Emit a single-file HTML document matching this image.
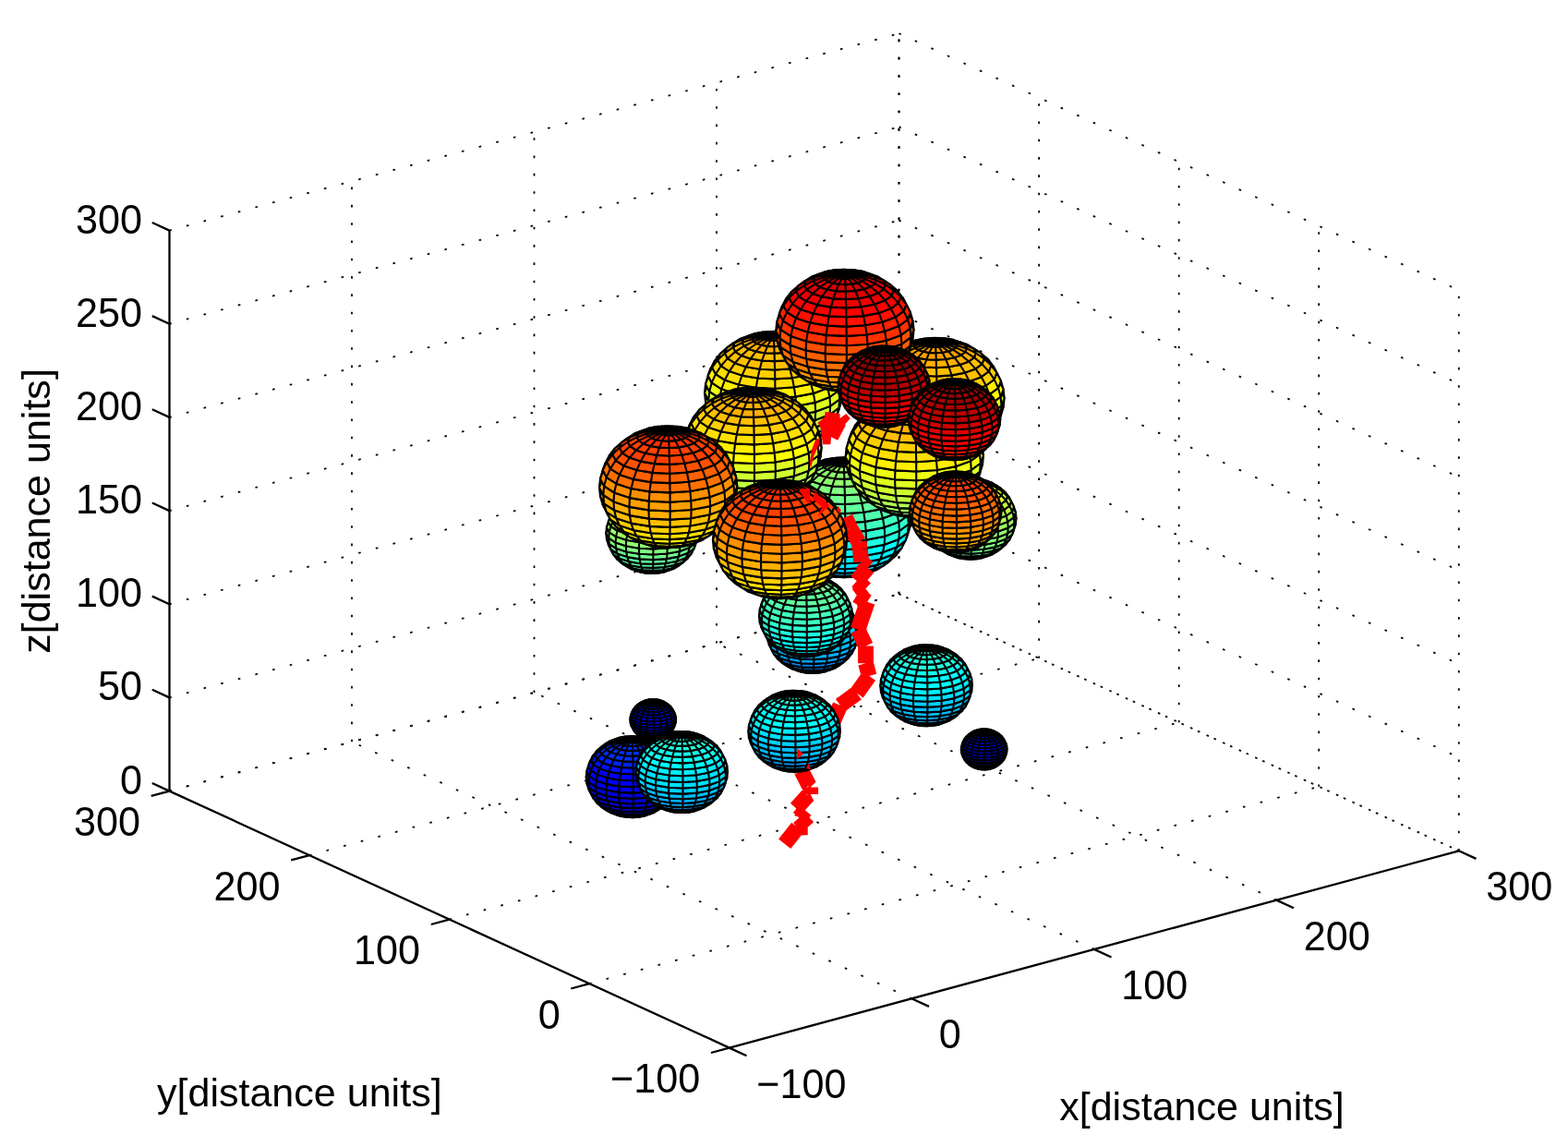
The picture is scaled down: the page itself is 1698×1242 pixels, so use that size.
<!DOCTYPE html>
<html lang="en"><head><meta charset="utf-8"><title>3D path plot</title>
<style>
html,body{margin:0;padding:0;background:#fff;}
body{width:1698px;height:1242px;overflow:hidden;}
svg{display:block;}
text{font-family:"Liberation Sans",sans-serif;font-size:43.06px;fill:#000;}
.t{font-size:43.2px;}
.g{stroke:#000;stroke-width:1.8;stroke-dasharray:2.6 16.7;stroke-dashoffset:0.25;fill:none;}
.a{stroke:#000;stroke-width:2.3;fill:none;stroke-linecap:butt;}
.s path{stroke:#000;stroke-width:2.1;stroke-linejoin:round;}
.r{stroke:#f00;stroke-width:16.8;fill:none;stroke-linecap:butt;}
</style></head><body>
<svg width="1698" height="1242" viewBox="0 0 1698 1242">
<rect width="1698" height="1242" fill="#fff"/>
<g>
<path class="g" d="M987.2 1081.3L381 803.2"/>
<path class="g" d="M1184.8 1027.9L578.5 749.9"/>
<path class="g" d="M1382.2 974.6L776 696.6"/>
<path class="g" d="M1579.8 921.3L973.5 643.2"/>
<path class="g" d="M638.2 1065.1L1428.2 851.8"/>
<path class="g" d="M486.6 995.6L1276.7 782.3"/>
<path class="g" d="M335.1 926.1L1125.1 712.8"/>
<path class="g" d="M183.5 856.6L973.5 643.2"/>
<path class="g" d="M381 803.2L381 196.2"/>
<path class="g" d="M578.5 749.9L578.5 142.9"/>
<path class="g" d="M776 696.6L776 89.6"/>
<path class="g" d="M973.5 643.2L973.5 36.2"/>
<path class="g" d="M183.5 856.6L973.5 643.2"/>
<path class="g" d="M183.5 755.4L973.5 542.1"/>
<path class="g" d="M183.5 654.2L973.5 440.9"/>
<path class="g" d="M183.5 553.1L973.5 339.7"/>
<path class="g" d="M183.5 451.9L973.5 238.6"/>
<path class="g" d="M183.5 350.7L973.5 137.4"/>
<path class="g" d="M183.5 249.6L973.5 36.2"/>
<path class="g" d="M1579.8 921.3L1579.8 314.3"/>
<path class="g" d="M1428.2 851.8L1428.2 244.8"/>
<path class="g" d="M1276.7 782.3L1276.7 175.3"/>
<path class="g" d="M1125.1 712.8L1125.1 105.8"/>
<path class="g" d="M973.5 643.2L973.5 36.2"/>
<path class="g" d="M973.5 643.2L1579.8 921.3"/>
<path class="g" d="M973.5 542.1L1579.8 820.1"/>
<path class="g" d="M973.5 440.9L1579.8 719"/>
<path class="g" d="M973.5 339.7L1579.8 617.8"/>
<path class="g" d="M973.5 238.6L1579.8 516.6"/>
<path class="g" d="M973.5 137.4L1579.8 415.5"/>
<path class="g" d="M973.5 36.2L1579.8 314.3"/>
</g>
<g>
<path class="a" d="M183.5 856.6L183.5 249.6"/>
<path class="a" d="M183.5 856.6L789.8 1134.6"/>
<path class="a" d="M789.8 1134.6L1579.8 921.3"/>
<path class="a" d="M183.5 856.6L164.8 848"/>
<path class="a" d="M183.5 755.4L164.8 746.8"/>
<path class="a" d="M183.5 654.2L164.8 645.6"/>
<path class="a" d="M183.5 553.1L164.8 544.5"/>
<path class="a" d="M183.5 451.9L164.8 443.3"/>
<path class="a" d="M183.5 350.7L164.8 342.1"/>
<path class="a" d="M183.5 249.6L164.8 241"/>
<path class="a" d="M789.8 1134.6L769.9 1140"/>
<path class="a" d="M638.2 1065.1L618.3 1070.5"/>
<path class="a" d="M486.6 995.6L466.8 1001"/>
<path class="a" d="M335.1 926.1L315.2 931.4"/>
<path class="a" d="M183.5 856.6L163.7 861.9"/>
<path class="a" d="M789.8 1134.6L808.5 1143.2"/>
<path class="a" d="M987.2 1081.3L1006 1089.9"/>
<path class="a" d="M1184.8 1027.9L1203.5 1036.5"/>
<path class="a" d="M1382.2 974.6L1401 983.2"/>
<path class="a" d="M1579.8 921.3L1598.5 929.9"/>
</g>
<g>
<text class="t" transform="translate(154 859.6) scale(1 1.045)" text-anchor="end">0</text>
<text class="t" transform="translate(154 758.4) scale(1 1.045)" text-anchor="end">50</text>
<text class="t" transform="translate(154 657.2) scale(1 1.045)" text-anchor="end">100</text>
<text class="t" transform="translate(154 556.1) scale(1 1.045)" text-anchor="end">150</text>
<text class="t" transform="translate(154 454.9) scale(1 1.045)" text-anchor="end">200</text>
<text class="t" transform="translate(154 353.7) scale(1 1.045)" text-anchor="end">250</text>
<text class="t" transform="translate(154 252.6) scale(1 1.045)" text-anchor="end">300</text>
<text class="t" transform="translate(758.2 1183.2) scale(1 1.045)" text-anchor="end">−100</text>
<text class="t" transform="translate(606.7 1113.7) scale(1 1.045)" text-anchor="end">0</text>
<text class="t" transform="translate(455.1 1044.2) scale(1 1.045)" text-anchor="end">100</text>
<text class="t" transform="translate(303.6 974.7) scale(1 1.045)" text-anchor="end">200</text>
<text class="t" transform="translate(152 905.2) scale(1 1.045)" text-anchor="end">300</text>
<text class="t" transform="translate(819.2 1188.7) scale(1 1.045)" text-anchor="start">−100</text>
<text class="t" transform="translate(1016.8 1135.4) scale(1 1.045)" text-anchor="start">0</text>
<text class="t" transform="translate(1214.2 1082) scale(1 1.045)" text-anchor="start">100</text>
<text class="t" transform="translate(1411.8 1028.7) scale(1 1.045)" text-anchor="start">200</text>
<text class="t" transform="translate(1609.2 975.4) scale(1 1.045)" text-anchor="start">300</text>
<text x="1301.5" y="1213.2" text-anchor="middle">x[distance units]</text>
<text x="324.3" y="1198" text-anchor="middle">y[distance units]</text>
<text transform="translate(53.5 553.5) rotate(-90)" text-anchor="middle">z[distance units]</text>
</g>
<g class="s"><path fill="#70ff8f" d="M819.4 487.5l5.2 1.7l-6.1 -0.5l-7.7 -2.6zM824.6 489.2l6.5 1.1l-3 0l-9.6 -1.6zM831.1 490.3l7.2 0.3l0.3 0.2l-10.5 -0.5zM838.3 490.6l7.1 -0.4l3.6 -0.1l-10.4 0.7zM845.4 490.2l6.3 -1.2l6.6 -0.6l-9.3 1.7z"/>
<path fill="#70ff8f" d="M810.8 486.1l7.7 2.6l-5.7 -2.1l-9.9 -3.3zM818.5 488.7l9.6 1.6l-2.9 -1.6l-12.4 -2.1zM828.1 490.3l10.5 0.5l0.2 -1.4l-13.6 -0.7zM838.6 490.8l10.4 -0.7l3.4 -1.6l-13.6 0.9zM849 490.1l9.3 -1.7l6.1 -2.2l-12 2.3zM858.3 488.4l7.3 -2.8l8.3 -2.9l-9.5 3.5zM865.6 485.6l4.6 -3.3l9.6 -4l-5.9 4.4zM805.7 482.9l5.1 3.2l-7.9 -2.8l-6.6 -4.2z"/>
<path fill="#80ff80" d="M802.9 483.3l9.9 3.3l-5 -3.6l-12 -4zM812.8 486.6l12.4 2.1l-2.5 -3.2l-14.9 -2.5zM825.2 488.7l13.6 0.7l0.3 -3.1l-16.4 -0.8zM838.8 489.4l13.6 -0.9l2.9 -3.3l-16.2 1.1zM852.4 488.5l12 -2.3l5.4 -3.7l-14.5 2.7zM864.4 486.2l9.5 -3.5l7.3 -4.5l-11.4 4.3zM873.9 482.7l5.9 -4.4l8.5 -5.3l-7.1 5.2zM796.3 479.1l6.6 4.2l-7.1 -4.3l-7.9 -5.1z"/>
<path fill="#8fff70" d="M795.8 479l12 4l-4.3 -5l-13.7 -4.6zM807.8 483l14.9 2.5l-2.2 -4.6l-17 -2.9zM822.7 485.5l16.4 0.8l0.2 -4.6l-18.8 -0.8zM839.1 486.3l16.2 -1.1l2.6 -4.7l-18.6 1.2zM855.3 485.2l14.5 -2.7l4.7 -5.2l-16.6 3.2zM869.8 482.5l11.4 -4.3l6.3 -5.7l-13 4.8zM881.2 478.2l7.1 -5.2l7.3 -6.5l-8.1 6zM784.9 468.2l3 5.7l-7.2 -6.3l-3.4 -6.6zM787.9 473.9l7.9 5.1l-6 -5.6l-9.1 -5.8z"/>
<path fill="#9fff60" d="M789.8 473.4l13.7 4.6l-3.5 -6.3l-15.1 -5.1zM803.5 478l17 2.9l-1.7 -6.1l-18.8 -3.1zM820.5 480.9l18.8 0.8l0.1 -5.9l-20.6 -1zM839.3 481.7l18.6 -1.2l2 -6.1l-20.5 1.4zM857.9 480.5l16.6 -3.2l3.7 -6.4l-18.3 3.5zM874.5 477.3l13 -4.8l5 -6.9l-14.3 5.3zM887.5 472.5l8.1 -6l5.9 -7.5l-9 6.6zM895.6 466.5l2.5 -6.6l6.1 -8.2l-2.7 7.3zM777.3 461l3.4 6.6l-5.7 -7.4l-3.8 -7.2zM780.7 467.6l9.1 5.8l-4.9 -6.8l-9.9 -6.4z"/>
<path fill="#afff50" d="M784.9 466.6l15.1 5.1l-2.5 -7.5l-16.2 -5.4zM800 471.7l18.8 3.1l-1.3 -7.3l-20 -3.3zM818.8 474.8l20.6 1l0.2 -7.3l-22.1 -1zM839.4 475.8l20.5 -1.4l1.5 -7.3l-21.8 1.4zM859.9 474.4l18.3 -3.5l2.7 -7.5l-19.5 3.7zM878.2 470.9l14.3 -5.3l3.7 -7.9l-15.3 5.7zM892.5 465.6l9 -6.6l4.3 -8.3l-9.6 7zM901.5 459l2.7 -7.3l4.5 -8.8l-2.9 7.8zM771.2 453l3.8 7.2l-4.3 -8.3l-4 -7.7zM775 460.2l9.9 6.4l-3.6 -7.8l-10.6 -6.9z"/>
<path fill="#bfff40" d="M781.3 458.8l16.2 5.4l-1.6 -8.5l-16.7 -5.6zM797.5 464.2l20 3.3l-0.7 -8.3l-20.9 -3.5zM817.5 467.5l22.1 1l0 -8.3l-22.8 -1zM839.6 468.5l21.8 -1.4l0.9 -8.3l-22.7 1.4zM861.4 467.1l19.5 -3.7l1.7 -8.5l-20.3 3.9zM880.9 463.4l15.3 -5.7l2.3 -8.7l-15.9 5.9zM896.2 457.7l9.6 -7l2.6 -9l-9.9 7.3zM905.8 450.7l2.9 -7.8l2.7 -9.3l-3 8.1zM766.7 444.2l4 7.7l-2.5 -8.9l-4.2 -8zM770.7 451.9l10.6 6.9l-2.1 -8.7l-11 -7.1z"/>
<path fill="#cfff30" d="M779.2 450.1l16.7 5.6l-0.5 -9.2l-17 -5.7zM795.9 455.7l20.9 3.5l-0.3 -9.2l-21.1 -3.5zM816.8 459.2l22.8 1l0.1 -9.1l-23.2 -1.1zM839.6 460.2l22.7 -1.4l0.3 -9.2l-22.9 1.5zM862.3 458.8l20.3 -3.9l0.6 -9.2l-20.6 3.9zM882.6 454.9l15.9 -5.9l0.7 -9.3l-16 6zM898.5 449l9.9 -7.3l0.9 -9.4l-10.1 7.4zM908.4 441.7l3 -8.1l1 -9.5l-3.1 8.2zM767 426.9l-3 8.1l-1 -9.5l3.1 -8.2zM764 435l4.2 8l-0.9 -9.4l-4.3 -8.1zM768.2 443l11 7.1l-0.8 -9.3l-11.1 -7.2z"/>
<path fill="#dfff20" d="M778.5 440.8l17 5.7l0.5 -9.8l-16.7 -5.6zM795.4 446.5l21.1 3.5l0.3 -9.8l-20.9 -3.5zM816.5 450l23.2 1.1l-0.1 -9.8l-22.8 -1.1zM839.7 451.1l22.9 -1.5l-0.3 -9.8l-22.7 1.5zM862.6 449.6l20.6 -3.9l-0.6 -9.8l-20.3 3.9zM883.2 445.7l16 -6l-0.7 -9.7l-15.9 5.9zM899.2 439.7l10.1 -7.4l-0.9 -9.6l-9.9 7.3zM909.3 432.3l3.1 -8.2l-1 -9.5l-3 8.1zM912.4 424.1l-4.3 -8.1l-0.9 -9.4l4.2 8zM766.1 417.3l-3.1 8.2l1 -9.5l3 -8.1zM763 425.5l4.3 8.1l0.9 -9.6l-4.2 -8zM767.3 433.6l11.1 7.2l0.8 -9.7l-11 -7.1z"/>
<path fill="#efff10" d="M779.2 431.1l16.7 5.6l1.6 -10.1l-16.2 -5.3zM795.9 436.7l20.9 3.5l0.7 -10.2l-20 -3.4zM816.8 440.2l22.8 1.1l0 -10.3l-22.1 -1zM839.6 441.3l22.7 -1.5l-0.9 -10.2l-21.8 1.4zM862.3 439.8l20.3 -3.9l-1.7 -10l-19.5 3.7zM882.6 435.9l15.9 -5.9l-2.3 -9.8l-15.3 5.7zM898.5 430l9.9 -7.3l-2.6 -9.6l-9.6 7.1zM908.4 422.7l3 -8.1l-2.7 -9.2l-2.9 7.7zM911.4 414.6l-4.2 -8l-2.5 -8.9l4 7.7zM767 407.9l-3 8.1l2.7 -9.3l2.9 -7.8zM764 416l4.2 8l2.5 -9.6l-4 -7.7zM768.2 424l11 7.1l2.1 -9.8l-10.6 -6.9z"/>
<path fill="#ffef00" d="M781.3 421.3l16.2 5.3l2.5 -10.1l-15.1 -5zM797.5 426.6l20 3.4l1.3 -10.3l-18.8 -3.2zM817.5 430l22.1 1l-0.2 -10.3l-20.6 -1zM839.6 431l21.8 -1.4l-1.5 -10.3l-20.5 1.4zM861.4 429.6l19.5 -3.7l-2.7 -10.1l-18.3 3.5zM880.9 425.9l15.3 -5.7l-3.7 -9.7l-14.3 5.3zM896.2 420.2l9.6 -7.1l-4.3 -9.2l-9 6.6zM905.8 413.1l2.9 -7.7l-4.5 -8.8l-2.7 7.3zM908.7 405.4l-4 -7.7l-4.3 -8.3l3.8 7.2zM769.6 398.9l-2.9 7.8l4.5 -8.8l2.7 -7.3zM766.7 406.7l4 7.7l4.3 -9.3l-3.8 -7.2zM770.7 414.4l10.6 6.9l3.6 -9.8l-9.9 -6.4z"/>
<path fill="#ffdf00" d="M784.9 411.5l15.1 5l3.5 -9.9l-13.7 -4.5zM800 416.5l18.8 3.2l1.7 -10.2l-17 -2.9zM818.8 419.7l20.6 1l-0.1 -10.3l-18.8 -0.9zM839.4 420.7l20.5 -1.4l-2 -10.1l-18.6 1.2zM859.9 419.3l18.3 -3.5l-3.7 -9.8l-16.6 3.2zM878.2 415.8l14.3 -5.3l-5 -9.3l-13 4.8zM892.5 410.5l9 -6.6l-5.9 -8.7l-8.1 6zM901.5 403.9l2.7 -7.3l-6.1 -8l-2.5 6.6zM904.2 396.6l-3.8 -7.2l-5.7 -7.4l3.4 6.6zM900.4 389.4l-9.9 -6.4l-4.9 -6.8l9.1 5.8zM782.9 384l-9 6.6l5.9 -7.5l8.1 -6zM773.9 390.6l-2.7 7.3l6.1 -8.2l2.5 -6.6zM771.2 397.9l3.8 7.2l5.7 -8.9l-3.4 -6.5zM775 405.1l9.9 6.4l4.9 -9.4l-9.1 -5.9z"/>
<path fill="#ffcf00" d="M789.8 402.1l13.7 4.5l4.3 -9.4l-12 -4zM803.5 406.6l17 2.9l2.2 -9.8l-14.9 -2.5zM820.5 409.5l18.8 0.9l-0.2 -9.9l-16.4 -0.8zM839.3 410.4l18.6 -1.2l-2.6 -9.8l-16.2 1.1zM857.9 409.2l16.6 -3.2l-4.7 -9.4l-14.5 2.8zM874.5 406l13 -4.8l-6.3 -8.8l-11.4 4.2zM887.5 401.2l8.1 -6l-7.3 -8l-7.1 5.2zM895.6 395.2l2.5 -6.6l-7.6 -7.2l-2.2 5.8zM898.1 388.6l-3.4 -6.6l-7.2 -6.3l3 5.7zM894.7 382l-9.1 -5.8l-6 -5.6l7.9 5.1zM787.9 377.1l-8.1 6l7.3 -6.5l7.1 -5.2zM779.8 383.1l-2.5 6.6l7.6 -7.3l2.2 -5.8zM777.3 389.7l3.4 6.5l7.2 -8.1l-3 -5.7zM780.7 396.2l9.1 5.9l6 -8.9l-7.9 -5.1z"/>
<path fill="#ffbf00" d="M795.8 393.2l12 4l5 -8.8l-9.9 -3.3zM807.8 397.2l14.9 2.5l2.5 -9.2l-12.4 -2.1zM822.7 399.7l16.4 0.8l-0.3 -9.4l-13.6 -0.6zM839.1 400.5l16.2 -1.1l-2.9 -9.1l-13.6 0.8zM855.3 399.4l14.5 -2.8l-5.4 -8.6l-12 2.3zM869.8 396.6l11.4 -4.2l-7.3 -8l-9.5 3.6zM881.2 392.4l7.1 -5.2l-8.5 -7.1l-5.9 4.3zM888.3 387.2l2.2 -5.8l-8.9 -6.1l-1.8 4.8zM890.5 381.4l-3 -5.7l-8.4 -5.2l2.5 4.8zM887.5 375.7l-7.9 -5.1l-7.1 -4.3l6.6 4.2zM879.6 370.6l-12 -4l-5 -3.6l9.9 3.3zM805.6 367.1l-11.4 4.3l7.3 -4.5l9.5 -3.5zM794.2 371.4l-7.1 5.2l8.5 -5.3l5.9 -4.4zM787.1 376.6l-2.2 5.8l8.9 -6.3l1.8 -4.8zM784.9 382.4l3 5.7l8.4 -7.3l-2.5 -4.7zM787.9 388.1l7.9 5.1l7.1 -8.1l-6.6 -4.3z"/>
<path fill="#ffbf00" d="M802.9 385.1l9.9 3.3l5.7 -7.8l-7.7 -2.6zM812.8 388.4l12.4 2.1l2.9 -8.3l-9.6 -1.6zM825.2 390.5l13.6 0.6l-0.2 -8.5l-10.5 -0.4zM838.8 391.1l13.6 -0.8l-3.4 -8.3l-10.4 0.6zM852.4 390.3l12 -2.3l-6.1 -7.8l-9.3 1.8zM864.4 388l9.5 -3.6l-8.3 -6.9l-7.3 2.7zM873.9 384.4l5.9 -4.3l-9.6 -6l-4.6 3.4zM879.8 380.1l1.8 -4.8l-10 -4.9l-1.4 3.7zM881.6 375.3l-2.5 -4.8l-9.4 -3.8l1.9 3.7zM879.1 370.5l-6.6 -4.2l-7.9 -2.8l5.1 3.2zM872.5 366.3l-9.9 -3.3l-5.7 -2.1l7.7 2.6zM862.6 363l-12.4 -2.1l-2.9 -1.6l9.6 1.6zM823 361.1l-12 2.3l6.1 -2.2l9.3 -1.7zM811 363.4l-9.5 3.5l8.3 -2.9l7.3 -2.8zM801.5 366.9l-5.9 4.4l9.6 -4l4.6 -3.3zM795.6 371.3l-1.8 4.8l10 -5.1l1.4 -3.7zM793.8 376.1l2.5 4.7l9.4 -6.1l-1.9 -3.7zM796.3 380.8l6.6 4.3l7.9 -7.1l-5.1 -3.3z"/>
<path fill="#ffaf00" d="M810.8 378l7.7 2.6l6.1 -6.8l-5.2 -1.8zM818.5 380.6l9.6 1.6l3 -7.3l-6.5 -1.1zM828.1 382.2l10.5 0.4l-0.3 -7.4l-7.2 -0.3zM838.6 382.6l10.4 -0.6l-3.6 -7.3l-7.1 0.5zM849 382l9.3 -1.8l-6.6 -6.7l-6.3 1.2zM858.3 380.2l7.3 -2.7l-8.9 -5.8l-5 1.8zM865.6 377.5l4.6 -3.4l-10.4 -4.7l-3.1 2.3zM870.2 374.1l1.4 -3.7l-10.8 -3.5l-1 2.5zM871.6 370.4l-1.9 -3.7l-10.2 -2.3l1.3 2.5zM869.7 366.7l-5.1 -3.2l-8.6 -1.4l3.5 2.3zM864.6 363.5l-7.7 -2.6l-6.1 -0.5l5.2 1.7zM856.9 360.9l-9.6 -1.6l-3 0l6.5 1.1zM847.3 359.3l-10.5 -0.5l0.3 0.2l7.2 0.3zM836.8 358.8l-10.4 0.7l3.6 -0.1l7.1 -0.4zM826.4 359.5l-9.3 1.7l6.6 -0.6l6.3 -1.2zM817.1 361.2l-7.3 2.8l8.9 -1.5l5 -1.9zM809.8 364l-4.6 3.3l10.4 -2.5l3.1 -2.3zM805.2 367.3l-1.4 3.7l10.8 -3.7l1 -2.5zM803.8 371l1.9 3.7l10.2 -4.9l-1.3 -2.5zM805.7 374.7l5.1 3.3l8.6 -6l-3.5 -2.2z"/>
<path fill="#ff9f00" d="M819.4 372l5.2 1.8l6.5 -5.6l-2.7 -0.8zM824.6 373.8l6.5 1.1l3.3 -6.1l-3.3 -0.6zM831.1 374.9l7.2 0.3l-0.3 -6.2l-3.6 -0.2zM838.3 375.2l7.1 -0.5l-3.8 -6l-3.6 0.3zM845.4 374.7l6.3 -1.2l-6.9 -5.4l-3.2 0.6zM851.7 373.5l5 -1.8l-9.4 -4.5l-2.5 0.9zM856.7 371.7l3.1 -2.3l-10.9 -3.4l-1.6 1.2zM859.8 369.4l1 -2.5l-11.4 -2.2l-0.5 1.3zM860.8 366.9l-1.3 -2.5l-10.8 -0.9l0.7 1.2zM859.5 364.4l-3.5 -2.3l-9 0.2l1.7 1.2zM856 362.1l-5.2 -1.7l-6.5 1.1l2.7 0.8zM850.8 360.4l-6.5 -1.1l-3.3 1.6l3.3 0.6zM844.3 359.3l-7.2 -0.3l0.3 1.7l3.6 0.2zM837.1 359l-7.1 0.4l3.8 1.6l3.6 -0.3zM830 359.4l-6.3 1.2l6.9 1l3.2 -0.6zM823.7 360.6l-5 1.9l9.4 0l2.5 -0.9zM818.7 362.5l-3.1 2.3l10.9 -1.1l1.6 -1.2zM815.6 364.8l-1 2.5l11.4 -2.3l0.5 -1.3zM814.6 367.3l1.3 2.5l10.8 -3.6l-0.7 -1.2zM815.9 369.8l3.5 2.2l9 -4.6l-1.7 -1.2z"/>
<path fill="#ff9f00" d="M828.4 367.4l2.7 0.8l6.6 -4.1zM831.1 368.2l3.3 0.6l3.3 -4.7zM834.4 368.8l3.6 0.2l-0.3 -4.9zM838 369l3.6 -0.3l-3.9 -4.6zM841.6 368.7l3.2 -0.6l-7.1 -4zM844.8 368.1l2.5 -0.9l-9.6 -3.1zM847.3 367.2l1.6 -1.2l-11.2 -1.9zM848.9 366l0.5 -1.3l-11.7 -0.6zM849.4 364.7l-0.7 -1.2l-11 0.6zM848.7 363.5l-1.7 -1.2l-9.3 1.8zM847 362.3l-2.7 -0.8l-6.6 2.6zM844.3 361.5l-3.3 -0.6l-3.3 3.2zM841 360.9l-3.6 -0.2l0.3 3.4zM837.4 360.7l-3.6 0.3l3.9 3.1zM833.8 361l-3.2 0.6l7.1 2.5zM830.6 361.6l-2.5 0.9l9.6 1.6zM828.1 362.5l-1.6 1.2l11.2 0.4zM826.5 363.7l-0.5 1.3l11.7 -0.9zM826 365l0.7 1.2l11 -2.1zM826.7 366.2l1.7 1.2l9.3 -3.3z"/></g>
<g class="s"><path fill="#00bfff" d="M895.5 621.8l5.1 1.7l-6 -0.4l-7.6 -2.6zM900.6 623.5l6.5 1.1l-3.1 0l-9.4 -1.5zM907.1 624.6l7 0.3l0.3 0.2l-10.4 -0.5zM914.1 624.9l7 -0.4l3.5 -0.1l-10.2 0.7zM921.1 624.5l6.2 -1.2l6.5 -0.6l-9.2 1.7z"/>
<path fill="#00bfff" d="M887 620.5l7.6 2.6l-5.5 -2.1l-9.8 -3.3zM894.6 623.1l9.4 1.5l-2.8 -1.5l-12.1 -2.1zM904 624.6l10.4 0.5l0.2 -1.4l-13.4 -0.6zM914.4 625.1l10.2 -0.7l3.3 -1.6l-13.3 0.9zM924.6 624.4l9.2 -1.7l6 -2.2l-11.9 2.3zM933.8 622.7l7.2 -2.7l8.1 -2.9l-9.3 3.4zM941 620l4.5 -3.3l9.4 -3.9l-5.8 4.3zM882.1 617.3l4.9 3.2l-7.7 -2.8l-6.5 -4.1z"/>
<path fill="#00cfff" d="M879.3 617.7l9.8 3.3l-5 -3.5l-11.8 -4zM889.1 621l12.1 2.1l-2.4 -3.2l-14.7 -2.4zM901.2 623.1l13.4 0.6l0.3 -3l-16.1 -0.8zM914.6 623.7l13.3 -0.9l2.9 -3.2l-15.9 1.1zM927.9 622.8l11.9 -2.3l5.3 -3.6l-14.3 2.7zM939.8 620.5l9.3 -3.4l7.2 -4.3l-11.2 4.1zM949.1 617.1l5.8 -4.3l8.4 -5.2l-7 5.2zM872.8 613.6l6.5 4.1l-7 -4.2l-7.8 -5z"/>
<path fill="#00cfff" d="M872.3 613.5l11.8 4l-4.3 -5l-13.4 -4.5zM884.1 617.5l14.7 2.4l-2.2 -4.6l-16.8 -2.8zM898.8 619.9l16.1 0.8l0.2 -4.5l-18.5 -0.9zM914.9 620.7l15.9 -1.1l2.5 -4.6l-18.2 1.2zM930.8 619.6l14.3 -2.7l4.6 -5l-16.4 3.1zM945.1 616.9l11.2 -4.1l6.2 -5.7l-12.8 4.8zM956.3 612.8l7 -5.2l7.2 -6.4l-8 5.9zM861.6 602.9l2.9 5.6l-7 -6.2l-3.4 -6.5zM864.5 608.5l7.8 5l-5.9 -5.5l-8.9 -5.7z"/>
<path fill="#00dfff" d="M866.4 608l13.4 4.5l-3.4 -6.2l-14.8 -5zM879.8 612.5l16.8 2.8l-1.7 -5.9l-18.5 -3.1zM896.6 615.3l18.5 0.9l0.1 -5.9l-20.3 -0.9zM915.1 616.2l18.2 -1.2l2 -6l-20.1 1.3zM933.3 615l16.4 -3.1l3.6 -6.3l-18 3.4zM949.7 611.9l12.8 -4.8l4.9 -6.8l-14.1 5.3zM962.5 607.1l8 -5.9l5.7 -7.4l-8.8 6.5zM970.5 601.2l2.4 -6.5l6 -8l-2.7 7.1zM854.1 595.8l3.4 6.5l-5.7 -7.3l-3.7 -7.1zM857.5 602.3l8.9 5.7l-4.8 -6.7l-9.8 -6.3z"/>
<path fill="#00efff" d="M861.6 601.3l14.8 5l-2.5 -7.4l-15.8 -5.3zM876.4 606.3l18.5 3.1l-1.2 -7.2l-19.8 -3.3zM894.9 609.4l20.3 0.9l0.1 -7.1l-21.6 -1zM915.2 610.3l20.1 -1.3l1.5 -7.2l-21.5 1.4zM935.3 609l18 -3.4l2.7 -7.5l-19.2 3.7zM953.3 605.6l14.1 -5.3l3.7 -7.7l-15.1 5.5zM967.4 600.3l8.8 -6.5l4.3 -8.2l-9.4 7zM976.2 593.8l2.7 -7.1l4.4 -8.7l-2.8 7.6zM848.1 587.9l3.7 7.1l-4.1 -8.2l-4 -7.5zM851.8 595l9.8 6.3l-3.5 -7.7l-10.4 -6.8z"/>
<path fill="#00ffff" d="M858.1 593.6l15.8 5.3l-1.5 -8.3l-16.4 -5.5zM873.9 598.9l19.8 3.3l-0.8 -8.2l-20.5 -3.4zM893.7 602.2l21.6 1l0.1 -8.1l-22.5 -1.1zM915.3 603.2l21.5 -1.4l0.9 -8.2l-22.3 1.5zM936.8 601.8l19.2 -3.7l1.7 -8.3l-20 3.8zM956 598.1l15.1 -5.5l2.2 -8.6l-15.6 5.8zM971.1 592.6l9.4 -7l2.5 -8.8l-9.7 7.2zM980.5 585.6l2.8 -7.6l2.7 -9.1l-3 7.9zM843.7 579.3l4 7.5l-2.6 -8.7l-4.1 -7.9zM847.7 586.8l10.4 6.8l-2.1 -8.5l-10.9 -7z"/>
<path fill="#20ffdf" d="M856 585.1l16.4 5.5l-0.5 -9.1l-16.7 -5.6zM872.4 590.6l20.5 3.4l-0.3 -9l-20.7 -3.5zM892.9 594l22.5 1.1l0 -9.1l-22.8 -1zM915.4 595.1l22.3 -1.5l0.3 -9l-22.6 1.4zM937.7 593.6l20 -3.8l0.5 -9.1l-20.2 3.9zM957.7 589.8l15.6 -5.8l0.7 -9.2l-15.8 5.9zM973.3 584l9.7 -7.2l0.9 -9.3l-9.9 7.3zM983 576.8l3 -7.9l0.9 -9.4l-3 8zM844 562.3l-3 7.9l-0.9 -9.3l3 -8zM841 570.2l4.1 7.9l-0.8 -9.3l-4.2 -7.9zM845.1 578.1l10.9 7l-0.8 -9.2l-10.9 -7.1z"/>
<path fill="#30ffcf" d="M855.2 575.9l16.7 5.6l0.5 -9.6l-16.4 -5.5zM871.9 581.5l20.7 3.5l0.3 -9.7l-20.5 -3.4zM892.6 585l22.8 1l0 -9.6l-22.5 -1.1zM915.4 586l22.6 -1.4l-0.3 -9.7l-22.3 1.5zM938 584.6l20.2 -3.9l-0.5 -9.6l-20 3.8zM958.2 580.7l15.8 -5.9l-0.7 -9.5l-15.6 5.8zM974 574.8l9.9 -7.3l-0.9 -9.4l-9.7 7.2zM983.9 567.5l3 -8l-0.9 -9.3l-3 7.9zM986.9 559.5l-4.2 -7.9l-0.8 -9.3l4.1 7.9zM843.1 552.9l-3 8l0.9 -9.4l3 -7.9zM840.1 560.9l4.2 7.9l0.8 -9.4l-4.1 -7.9zM844.3 568.8l10.9 7.1l0.8 -9.5l-10.9 -7z"/>
<path fill="#40ffbf" d="M856 566.4l16.4 5.5l1.5 -9.9l-15.8 -5.3zM872.4 571.9l20.5 3.4l0.8 -10l-19.8 -3.3zM892.9 575.3l22.5 1.1l-0.1 -10.1l-21.6 -1zM915.4 576.4l22.3 -1.5l-0.9 -10l-21.5 1.4zM937.7 574.9l20 -3.8l-1.7 -9.8l-19.2 3.6zM957.7 571.1l15.6 -5.8l-2.2 -9.6l-15.1 5.6zM973.3 565.3l9.7 -7.2l-2.5 -9.4l-9.4 7zM983 558.1l3 -7.9l-2.7 -9.1l-2.8 7.6zM986 550.2l-4.1 -7.9l-2.6 -8.7l4 7.5zM844 543.6l-3 7.9l2.7 -9.1l2.8 -7.6zM841 551.5l4.1 7.9l2.6 -9.4l-4 -7.6zM845.1 559.4l10.9 7l2.1 -9.7l-10.4 -6.7z"/>
<path fill="#50ffaf" d="M858.1 556.7l15.8 5.3l2.5 -9.9l-14.8 -5zM873.9 562l19.8 3.3l1.2 -10.1l-18.5 -3.1zM893.7 565.3l21.6 1l-0.1 -10.2l-20.3 -0.9zM915.3 566.3l21.5 -1.4l-1.5 -10.1l-20.1 1.3zM936.8 564.9l19.2 -3.6l-2.7 -9.9l-18 3.4zM956 561.3l15.1 -5.6l-3.7 -9.6l-14.1 5.3zM971.1 555.7l9.4 -7l-4.3 -9.1l-8.8 6.5zM980.5 548.7l2.8 -7.6l-4.4 -8.6l-2.7 7.1zM983.3 541.1l-4 -7.5l-4.1 -8.2l3.7 7.1zM846.5 534.8l-2.8 7.6l4.4 -8.7l2.7 -7.1zM843.7 542.4l4 7.6l4.1 -9.2l-3.7 -7.1zM847.7 550l10.4 6.7l3.5 -9.6l-9.8 -6.3z"/>
<path fill="#60ff9f" d="M861.6 547.1l14.8 5l3.4 -9.8l-13.4 -4.5zM876.4 552.1l18.5 3.1l1.7 -10l-16.8 -2.9zM894.9 555.2l20.3 0.9l-0.1 -10.1l-18.5 -0.8zM915.2 556.1l20.1 -1.3l-2 -10l-18.2 1.2zM935.3 554.8l18 -3.4l-3.6 -9.7l-16.4 3.1zM953.3 551.4l14.1 -5.3l-4.9 -9.1l-12.8 4.7zM967.4 546.1l8.8 -6.5l-5.7 -8.5l-8 5.9zM976.2 539.6l2.7 -7.1l-6 -7.9l-2.4 6.5zM978.9 532.5l-3.7 -7.1l-5.7 -7.3l3.4 6.5zM975.2 525.4l-9.8 -6.3l-4.8 -6.7l8.9 5.7zM859.6 520.1l-8.8 6.5l5.7 -7.4l8 -5.9zM850.8 526.6l-2.7 7.1l6 -8l2.4 -6.5zM848.1 533.7l3.7 7.1l5.7 -8.7l-3.4 -6.4zM851.8 540.8l9.8 6.3l4.8 -9.3l-8.9 -5.7z"/>
<path fill="#70ff8f" d="M866.4 537.8l13.4 4.5l4.3 -9.2l-11.8 -4zM879.8 542.3l16.8 2.9l2.2 -9.7l-14.7 -2.4zM896.6 545.2l18.5 0.8l-0.2 -9.7l-16.1 -0.8zM915.1 546l18.2 -1.2l-2.5 -9.6l-15.9 1.1zM933.3 544.8l16.4 -3.1l-4.6 -9.2l-14.3 2.7zM949.7 541.7l12.8 -4.7l-6.2 -8.7l-11.2 4.2zM962.5 537l8 -5.9l-7.2 -7.9l-7 5.1zM970.5 531.1l2.4 -6.5l-7.5 -7.1l-2.1 5.7zM972.9 524.6l-3.4 -6.5l-7 -6.2l2.9 5.6zM969.5 518.1l-8.9 -5.7l-5.9 -5.5l7.8 5zM864.5 513.3l-8 5.9l7.2 -6.4l7 -5.2zM856.5 519.2l-2.4 6.5l7.5 -7.2l2.1 -5.7zM854.1 525.7l3.4 6.4l7 -8l-2.9 -5.6zM857.5 532.1l8.9 5.7l5.9 -8.7l-7.8 -5z"/>
<path fill="#80ff80" d="M872.3 529.1l11.8 4l5 -8.7l-9.8 -3.2zM884.1 533.1l14.7 2.4l2.4 -9l-12.1 -2.1zM898.8 535.5l16.1 0.8l-0.3 -9.2l-13.4 -0.6zM914.9 536.3l15.9 -1.1l-2.9 -9l-13.3 0.9zM930.8 535.2l14.3 -2.7l-5.3 -8.5l-11.9 2.2zM945.1 532.5l11.2 -4.2l-7.2 -7.8l-9.3 3.5zM956.3 528.3l7 -5.1l-8.4 -7l-5.8 4.3zM963.3 523.2l2.1 -5.7l-8.7 -6l-1.8 4.7zM965.4 517.5l-2.9 -5.6l-8.3 -5.1l2.5 4.7zM962.5 511.9l-7.8 -5l-7 -4.2l6.5 4.1zM954.7 506.9l-11.8 -4l-5 -3.5l9.8 3.3zM881.9 503.5l-11.2 4.1l7.2 -4.3l9.3 -3.4zM870.7 507.6l-7 5.2l8.4 -5.2l5.8 -4.3zM863.7 512.8l-2.1 5.7l8.7 -6.2l1.8 -4.7zM861.6 518.5l2.9 5.6l8.3 -7.1l-2.5 -4.7zM864.5 524.1l7.8 5l7 -7.9l-6.5 -4.2z"/>
<path fill="#8fff70" d="M879.3 521.2l9.8 3.2l5.5 -7.7l-7.6 -2.5zM889.1 524.4l12.1 2.1l2.8 -8.2l-9.4 -1.6zM901.2 526.5l13.4 0.6l-0.2 -8.4l-10.4 -0.4zM914.6 527.1l13.3 -0.9l-3.3 -8.1l-10.2 0.6zM927.9 526.2l11.9 -2.2l-6 -7.7l-9.2 1.8zM939.8 524l9.3 -3.5l-8.1 -6.8l-7.2 2.6zM949.1 520.5l5.8 -4.3l-9.4 -5.8l-4.5 3.3zM954.9 516.2l1.8 -4.7l-9.9 -4.8l-1.3 3.7zM956.7 511.5l-2.5 -4.7l-9.3 -3.7l1.9 3.6zM954.2 506.8l-6.5 -4.1l-7.7 -2.8l4.9 3.2zM947.7 502.7l-9.8 -3.3l-5.5 -2.1l7.6 2.6zM937.9 499.4l-12.1 -2.1l-2.8 -1.5l9.4 1.5zM899.1 497.6l-11.9 2.3l6 -2.2l9.2 -1.7zM887.2 499.9l-9.3 3.4l8.1 -2.9l7.2 -2.7zM877.9 503.3l-5.8 4.3l9.4 -3.9l4.5 -3.3zM872.1 507.6l-1.8 4.7l9.9 -5l1.3 -3.6zM870.3 512.3l2.5 4.7l9.3 -6.1l-1.9 -3.6zM872.8 517l6.5 4.2l7.7 -7l-4.9 -3.3z"/>
<path fill="#8fff70" d="M887 514.2l7.6 2.5l6 -6.7l-5.1 -1.7zM894.6 516.7l9.4 1.6l3.1 -7.2l-6.5 -1.1zM904 518.3l10.4 0.4l-0.3 -7.3l-7 -0.3zM914.4 518.7l10.2 -0.6l-3.5 -7.1l-7 0.4zM924.6 518.1l9.2 -1.8l-6.5 -6.5l-6.2 1.2zM933.8 516.3l7.2 -2.6l-8.8 -5.7l-4.9 1.8zM941 513.7l4.5 -3.3l-10.2 -4.7l-3.1 2.3zM945.5 510.4l1.3 -3.7l-10.6 -3.5l-0.9 2.5zM946.8 506.7l-1.9 -3.6l-10 -2.3l1.3 2.4zM944.9 503.1l-4.9 -3.2l-8.5 -1.3l3.4 2.2zM940 499.9l-7.6 -2.6l-6 -0.4l5.1 1.7zM932.4 497.3l-9.4 -1.5l-3.1 0l6.5 1.1zM923 495.8l-10.4 -0.5l0.3 0.2l7 0.3zM912.6 495.3l-10.2 0.7l3.5 -0.1l7 -0.4zM902.4 496l-9.2 1.7l6.5 -0.6l6.2 -1.2zM893.2 497.7l-7.2 2.7l8.8 -1.5l4.9 -1.8zM886 500.4l-4.5 3.3l10.2 -2.5l3.1 -2.3zM881.5 503.7l-1.3 3.6l10.6 -3.7l0.9 -2.4zM880.2 507.3l1.9 3.6l10 -4.8l-1.3 -2.5zM882.1 510.9l4.9 3.3l8.5 -5.9l-3.4 -2.2z"/>
<path fill="#9fff60" d="M895.5 508.3l5.1 1.7l6.4 -5.4l-2.6 -0.9zM900.6 510l6.5 1.1l3.1 -6l-3.2 -0.5zM907.1 511.1l7 0.3l-0.3 -6.1l-3.6 -0.2zM914.1 511.4l7 -0.4l-3.8 -5.9l-3.5 0.2zM921.1 511l6.2 -1.2l-6.8 -5.3l-3.2 0.6zM927.3 509.8l4.9 -1.8l-9.2 -4.5l-2.5 1zM932.2 508l3.1 -2.3l-10.8 -3.3l-1.5 1.1zM935.3 505.7l0.9 -2.5l-11.2 -2.1l-0.5 1.3zM936.2 503.2l-1.3 -2.4l-10.6 -0.9l0.7 1.2zM934.9 500.8l-3.4 -2.2l-8.9 0.2l1.7 1.1zM931.5 498.6l-5.1 -1.7l-6.4 1l2.6 0.9zM926.4 496.9l-6.5 -1.1l-3.1 1.6l3.2 0.5zM919.9 495.8l-7 -0.3l0.3 1.7l3.6 0.2zM912.9 495.5l-7 0.4l3.8 1.5l3.5 -0.2zM905.9 495.9l-6.2 1.2l6.8 0.9l3.2 -0.6zM899.7 497.1l-4.9 1.8l9.2 0.1l2.5 -1zM894.8 498.9l-3.1 2.3l10.8 -1.1l1.5 -1.1zM891.7 501.2l-0.9 2.4l11.2 -2.2l0.5 -1.3zM890.8 503.6l1.3 2.5l10.6 -3.5l-0.7 -1.2zM892.1 506.1l3.4 2.2l8.9 -4.6l-1.7 -1.1z"/>
<path fill="#9fff60" d="M904.4 503.7l2.6 0.9l6.5 -4.1zM907 504.6l3.2 0.5l3.3 -4.6zM910.2 505.1l3.6 0.2l-0.3 -4.8zM913.8 505.3l3.5 -0.2l-3.8 -4.6zM917.3 505.1l3.2 -0.6l-7 -4zM920.5 504.5l2.5 -1l-9.5 -3zM923 503.5l1.5 -1.1l-11 -1.9zM924.5 502.4l0.5 -1.3l-11.5 -0.6zM925 501.1l-0.7 -1.2l-10.8 0.6zM924.3 499.9l-1.7 -1.1l-9.1 1.7zM922.6 498.8l-2.6 -0.9l-6.5 2.6zM920 497.9l-3.2 -0.5l-3.3 3.1zM916.8 497.4l-3.6 -0.2l0.3 3.3zM913.2 497.2l-3.5 0.2l3.8 3.1zM909.7 497.4l-3.2 0.6l7 2.5zM906.5 498l-2.5 1l9.5 1.5zM904 499l-1.5 1.1l11 0.4zM902.5 500.1l-0.5 1.3l11.5 -0.9zM902 501.4l0.7 1.2l10.8 -2.1zM902.7 502.6l1.7 1.1l9.1 -3.2z"/></g>
<g class="s"><path fill="#80ff80" d="M994.6 494.5l5.2 1.7l-6.1 -0.5l-7.7 -2.6zM999.8 496.2l6.5 1.1l-3 0l-9.6 -1.6zM1006.3 497.3l7.2 0.3l0.3 0.2l-10.5 -0.5zM1013.5 497.6l7.1 -0.4l3.6 -0.1l-10.4 0.7zM1020.6 497.2l6.3 -1.2l6.6 -0.6l-9.3 1.7z"/>
<path fill="#80ff80" d="M986 493.1l7.7 2.6l-5.7 -2.1l-9.9 -3.3zM993.7 495.7l9.6 1.6l-2.9 -1.6l-12.4 -2.1zM1003.3 497.3l10.5 0.5l0.2 -1.4l-13.6 -0.7zM1013.8 497.8l10.4 -0.7l3.4 -1.6l-13.6 0.9zM1024.2 497.1l9.3 -1.7l6.1 -2.2l-12 2.3zM1033.5 495.4l7.3 -2.8l8.3 -2.9l-9.5 3.5zM1040.8 492.6l4.6 -3.3l9.6 -4l-5.9 4.4zM980.9 489.9l5.1 3.2l-7.9 -2.8l-6.6 -4.2z"/>
<path fill="#8fff70" d="M978.1 490.3l9.9 3.3l-5 -3.6l-12 -4zM988 493.6l12.4 2.1l-2.5 -3.2l-14.9 -2.5zM1000.4 495.7l13.6 0.7l0.3 -3.1l-16.4 -0.8zM1014 496.4l13.6 -0.9l2.9 -3.3l-16.2 1.1zM1027.6 495.5l12 -2.3l5.4 -3.7l-14.5 2.7zM1039.6 493.2l9.5 -3.5l7.3 -4.5l-11.4 4.3zM1049.1 489.7l5.9 -4.4l8.5 -5.3l-7.1 5.2zM971.5 486.1l6.6 4.2l-7.1 -4.3l-7.9 -5.1z"/>
<path fill="#9fff60" d="M971 486l12 4l-4.3 -5l-13.7 -4.6zM983 490l14.9 2.5l-2.2 -4.6l-17 -2.9zM997.9 492.5l16.4 0.8l0.2 -4.6l-18.8 -0.8zM1014.3 493.3l16.2 -1.1l2.6 -4.7l-18.6 1.2zM1030.5 492.2l14.5 -2.7l4.7 -5.2l-16.6 3.2zM1045 489.5l11.4 -4.3l6.3 -5.7l-13 4.8zM1056.4 485.2l7.1 -5.2l7.3 -6.5l-8.1 6zM960.1 475.2l3 5.7l-7.2 -6.3l-3.4 -6.6zM963.1 480.9l7.9 5.1l-6 -5.6l-9.1 -5.8z"/>
<path fill="#afff50" d="M965 480.4l13.7 4.6l-3.5 -6.3l-15.1 -5.1zM978.7 485l17 2.9l-1.7 -6.1l-18.8 -3.1zM995.7 487.9l18.8 0.8l0.1 -5.9l-20.6 -1zM1014.5 488.7l18.6 -1.2l2 -6.1l-20.5 1.4zM1033.1 487.5l16.6 -3.2l3.7 -6.4l-18.3 3.5zM1049.7 484.3l13 -4.8l5 -6.9l-14.3 5.3zM1062.7 479.5l8.1 -6l5.9 -7.5l-9 6.6zM1070.8 473.5l2.5 -6.6l6.1 -8.2l-2.7 7.3zM952.5 468l3.4 6.6l-5.7 -7.4l-3.8 -7.2zM955.9 474.6l9.1 5.8l-4.9 -6.8l-9.9 -6.4z"/>
<path fill="#bfff40" d="M960.1 473.6l15.1 5.1l-2.5 -7.5l-16.2 -5.4zM975.2 478.7l18.8 3.1l-1.3 -7.3l-20 -3.3zM994 481.8l20.6 1l0.2 -7.3l-22.1 -1zM1014.6 482.8l20.5 -1.4l1.5 -7.3l-21.8 1.4zM1035.1 481.4l18.3 -3.5l2.7 -7.5l-19.5 3.7zM1053.4 477.9l14.3 -5.3l3.7 -7.9l-15.3 5.7zM1067.7 472.6l9 -6.6l4.3 -8.3l-9.6 7zM1076.7 466l2.7 -7.3l4.5 -8.8l-2.9 7.8zM946.4 460l3.8 7.2l-4.3 -8.3l-4 -7.7zM950.2 467.2l9.9 6.4l-3.6 -7.8l-10.6 -6.9z"/>
<path fill="#cfff30" d="M956.5 465.8l16.2 5.4l-1.6 -8.5l-16.7 -5.6zM972.7 471.2l20 3.3l-0.7 -8.3l-20.9 -3.5zM992.7 474.5l22.1 1l0 -8.3l-22.8 -1zM1014.8 475.5l21.8 -1.4l0.9 -8.3l-22.7 1.4zM1036.6 474.1l19.5 -3.7l1.7 -8.5l-20.3 3.9zM1056.1 470.4l15.3 -5.7l2.3 -8.7l-15.9 5.9zM1071.4 464.7l9.6 -7l2.6 -9l-9.9 7.3zM1081 457.7l2.9 -7.8l2.7 -9.3l-3 8.1zM941.9 451.2l4 7.7l-2.5 -8.9l-4.2 -8zM945.9 458.9l10.6 6.9l-2.1 -8.7l-11 -7.1z"/>
<path fill="#dfff20" d="M954.4 457.1l16.7 5.6l-0.5 -9.2l-17 -5.7zM971.1 462.7l20.9 3.5l-0.3 -9.2l-21.1 -3.5zM992 466.2l22.8 1l0.1 -9.1l-23.2 -1.1zM1014.8 467.2l22.7 -1.4l0.3 -9.2l-22.9 1.5zM1037.5 465.8l20.3 -3.9l0.6 -9.2l-20.6 3.9zM1057.8 461.9l15.9 -5.9l0.7 -9.3l-16 6zM1073.7 456l9.9 -7.3l0.9 -9.4l-10.1 7.4zM1083.6 448.7l3 -8.1l1 -9.5l-3.1 8.2zM942.2 433.9l-3 8.1l-1 -9.5l3.1 -8.2zM939.2 442l4.2 8l-0.9 -9.4l-4.3 -8.1zM943.4 450l11 7.1l-0.8 -9.3l-11.1 -7.2z"/>
<path fill="#efff10" d="M953.6 447.8l17 5.7l0.5 -9.8l-16.7 -5.6zM970.6 453.5l21.1 3.5l0.3 -9.8l-20.9 -3.5zM991.7 457l23.2 1.1l-0.1 -9.8l-22.8 -1.1zM1014.9 458.1l22.9 -1.5l-0.3 -9.8l-22.7 1.5zM1037.8 456.6l20.6 -3.9l-0.6 -9.8l-20.3 3.9zM1058.4 452.7l16 -6l-0.7 -9.7l-15.9 5.9zM1074.4 446.7l10.1 -7.4l-0.9 -9.6l-9.9 7.3zM1084.5 439.3l3.1 -8.2l-1 -9.5l-3 8.1zM1087.6 431.1l-4.3 -8.1l-0.9 -9.4l4.2 8zM941.3 424.3l-3.1 8.2l1 -9.5l3 -8.1zM938.2 432.5l4.3 8.1l0.9 -9.6l-4.2 -8zM942.5 440.6l11.1 7.2l0.8 -9.7l-11 -7.1z"/>
<path fill="#ffff00" d="M954.4 438.1l16.7 5.6l1.6 -10.1l-16.2 -5.3zM971.1 443.7l20.9 3.5l0.7 -10.2l-20 -3.4zM992 447.2l22.8 1.1l0 -10.3l-22.1 -1zM1014.8 448.3l22.7 -1.5l-0.9 -10.2l-21.8 1.4zM1037.5 446.8l20.3 -3.9l-1.7 -10l-19.5 3.7zM1057.8 442.9l15.9 -5.9l-2.3 -9.8l-15.3 5.7zM1073.7 437l9.9 -7.3l-2.6 -9.6l-9.6 7.1zM1083.6 429.7l3 -8.1l-2.7 -9.2l-2.9 7.7zM1086.6 421.6l-4.2 -8l-2.5 -8.9l4 7.7zM942.2 414.9l-3 8.1l2.7 -9.3l2.9 -7.8zM939.2 423l4.2 8l2.5 -9.6l-4 -7.7zM943.4 431l11 7.1l2.1 -9.8l-10.6 -6.9z"/>
<path fill="#ffef00" d="M956.5 428.3l16.2 5.3l2.5 -10.1l-15.1 -5zM972.7 433.6l20 3.4l1.3 -10.3l-18.8 -3.2zM992.7 437l22.1 1l-0.2 -10.3l-20.6 -1zM1014.8 438l21.8 -1.4l-1.5 -10.3l-20.5 1.4zM1036.6 436.6l19.5 -3.7l-2.7 -10.1l-18.3 3.5zM1056.1 432.9l15.3 -5.7l-3.7 -9.7l-14.3 5.3zM1071.4 427.2l9.6 -7.1l-4.3 -9.2l-9 6.6zM1081 420.1l2.9 -7.7l-4.5 -8.8l-2.7 7.3zM1083.9 412.4l-4 -7.7l-4.3 -8.3l3.8 7.2zM944.8 405.9l-2.9 7.8l4.5 -8.8l2.7 -7.3zM941.9 413.7l4 7.7l4.3 -9.3l-3.8 -7.2zM945.9 421.4l10.6 6.9l3.6 -9.8l-9.9 -6.4z"/>
<path fill="#ffcf00" d="M960.1 418.5l15.1 5l3.5 -9.9l-13.7 -4.5zM975.2 423.5l18.8 3.2l1.7 -10.2l-17 -2.9zM994 426.7l20.6 1l-0.1 -10.3l-18.8 -0.9zM1014.6 427.7l20.5 -1.4l-2 -10.1l-18.6 1.2zM1035.1 426.3l18.3 -3.5l-3.7 -9.8l-16.6 3.2zM1053.4 422.8l14.3 -5.3l-5 -9.3l-13 4.8zM1067.7 417.5l9 -6.6l-5.9 -8.7l-8.1 6zM1076.7 410.9l2.7 -7.3l-6.1 -8l-2.5 6.6zM1079.4 403.6l-3.8 -7.2l-5.7 -7.4l3.4 6.6zM1075.6 396.4l-9.9 -6.4l-4.9 -6.8l9.1 5.8zM958.1 391l-9 6.6l5.9 -7.5l8.1 -6zM949.1 397.6l-2.7 7.3l6.1 -8.2l2.5 -6.6zM946.4 404.9l3.8 7.2l5.7 -8.9l-3.4 -6.5zM950.2 412.1l9.9 6.4l4.9 -9.4l-9.1 -5.9z"/>
<path fill="#ffbf00" d="M965 409.1l13.7 4.5l4.3 -9.4l-12 -4zM978.7 413.6l17 2.9l2.2 -9.8l-14.9 -2.5zM995.7 416.5l18.8 0.9l-0.2 -9.9l-16.4 -0.8zM1014.5 417.4l18.6 -1.2l-2.6 -9.8l-16.2 1.1zM1033.1 416.2l16.6 -3.2l-4.7 -9.4l-14.5 2.8zM1049.7 413l13 -4.8l-6.3 -8.8l-11.4 4.2zM1062.7 408.2l8.1 -6l-7.3 -8l-7.1 5.2zM1070.8 402.2l2.5 -6.6l-7.6 -7.2l-2.2 5.8zM1073.3 395.6l-3.4 -6.6l-7.2 -6.3l3 5.7zM1069.9 389l-9.1 -5.8l-6 -5.6l7.9 5.1zM963.1 384.1l-8.1 6l7.3 -6.5l7.1 -5.2zM955 390.1l-2.5 6.6l7.6 -7.3l2.2 -5.8zM952.5 396.7l3.4 6.5l7.2 -8.1l-3 -5.7zM955.9 403.2l9.1 5.9l6 -8.9l-7.9 -5.1z"/>
<path fill="#ffbf00" d="M971 400.2l12 4l5 -8.8l-9.9 -3.3zM983 404.2l14.9 2.5l2.5 -9.2l-12.4 -2.1zM997.9 406.7l16.4 0.8l-0.3 -9.4l-13.6 -0.6zM1014.3 407.5l16.2 -1.1l-2.9 -9.1l-13.6 0.8zM1030.5 406.4l14.5 -2.8l-5.4 -8.6l-12 2.3zM1045 403.6l11.4 -4.2l-7.3 -8l-9.5 3.6zM1056.4 399.4l7.1 -5.2l-8.5 -7.1l-5.9 4.3zM1063.5 394.2l2.2 -5.8l-8.9 -6.1l-1.8 4.8zM1065.7 388.4l-3 -5.7l-8.4 -5.2l2.5 4.8zM1062.7 382.7l-7.9 -5.1l-7.1 -4.3l6.6 4.2zM1054.8 377.6l-12 -4l-5 -3.6l9.9 3.3zM980.8 374.1l-11.4 4.3l7.3 -4.5l9.5 -3.5zM969.4 378.4l-7.1 5.2l8.5 -5.3l5.9 -4.4zM962.3 383.6l-2.2 5.8l8.9 -6.3l1.8 -4.8zM960.1 389.4l3 5.7l8.4 -7.3l-2.5 -4.7zM963.1 395.1l7.9 5.1l7.1 -8.1l-6.6 -4.3z"/>
<path fill="#ffaf00" d="M978.1 392.1l9.9 3.3l5.7 -7.8l-7.7 -2.6zM988 395.4l12.4 2.1l2.9 -8.3l-9.6 -1.6zM1000.4 397.5l13.6 0.6l-0.2 -8.5l-10.5 -0.4zM1014 398.1l13.6 -0.8l-3.4 -8.3l-10.4 0.6zM1027.6 397.3l12 -2.3l-6.1 -7.8l-9.3 1.8zM1039.6 395l9.5 -3.6l-8.3 -6.9l-7.3 2.7zM1049.1 391.4l5.9 -4.3l-9.6 -6l-4.6 3.4zM1055 387.1l1.8 -4.8l-10 -4.9l-1.4 3.7zM1056.8 382.3l-2.5 -4.8l-9.4 -3.8l1.9 3.7zM1054.3 377.5l-6.6 -4.2l-7.9 -2.8l5.1 3.2zM1047.7 373.3l-9.9 -3.3l-5.7 -2.1l7.7 2.6zM1037.8 370l-12.4 -2.1l-2.9 -1.6l9.6 1.6zM998.2 368.1l-12 2.3l6.1 -2.2l9.3 -1.7zM986.2 370.4l-9.5 3.5l8.3 -2.9l7.3 -2.8zM976.7 373.9l-5.9 4.4l9.6 -4l4.6 -3.3zM970.8 378.3l-1.8 4.8l10 -5.1l1.4 -3.7zM969 383.1l2.5 4.7l9.4 -6.1l-1.9 -3.7zM971.5 387.8l6.6 4.3l7.9 -7.1l-5.1 -3.3z"/>
<path fill="#ff9f00" d="M986 385l7.7 2.6l6.1 -6.8l-5.2 -1.8zM993.7 387.6l9.6 1.6l3 -7.3l-6.5 -1.1zM1003.3 389.2l10.5 0.4l-0.3 -7.4l-7.2 -0.3zM1013.8 389.6l10.4 -0.6l-3.6 -7.3l-7.1 0.5zM1024.2 389l9.3 -1.8l-6.6 -6.7l-6.3 1.2zM1033.5 387.2l7.3 -2.7l-8.9 -5.8l-5 1.8zM1040.8 384.5l4.6 -3.4l-10.4 -4.7l-3.1 2.3zM1045.4 381.1l1.4 -3.7l-10.8 -3.5l-1 2.5zM1046.8 377.4l-1.9 -3.7l-10.2 -2.3l1.3 2.5zM1044.9 373.7l-5.1 -3.2l-8.6 -1.4l3.5 2.3zM1039.8 370.5l-7.7 -2.6l-6.1 -0.5l5.2 1.7zM1032.1 367.9l-9.6 -1.6l-3 0l6.5 1.1zM1022.5 366.3l-10.5 -0.5l0.3 0.2l7.2 0.3zM1012 365.8l-10.4 0.7l3.6 -0.1l7.1 -0.4zM1001.6 366.5l-9.3 1.7l6.6 -0.6l6.3 -1.2zM992.3 368.2l-7.3 2.8l8.9 -1.5l5 -1.9zM985 371l-4.6 3.3l10.4 -2.5l3.1 -2.3zM980.4 374.3l-1.4 3.7l10.8 -3.7l1 -2.5zM979 378l1.9 3.7l10.2 -4.9l-1.3 -2.5zM980.9 381.7l5.1 3.3l8.6 -6l-3.5 -2.2z"/>
<path fill="#ff9f00" d="M994.6 379l5.2 1.8l6.5 -5.6l-2.7 -0.8zM999.8 380.8l6.5 1.1l3.3 -6.1l-3.3 -0.6zM1006.3 381.9l7.2 0.3l-0.3 -6.2l-3.6 -0.2zM1013.5 382.2l7.1 -0.5l-3.8 -6l-3.6 0.3zM1020.6 381.7l6.3 -1.2l-6.9 -5.4l-3.2 0.6zM1026.9 380.5l5 -1.8l-9.4 -4.5l-2.5 0.9zM1031.9 378.7l3.1 -2.3l-10.9 -3.4l-1.6 1.2zM1035 376.4l1 -2.5l-11.4 -2.2l-0.5 1.3zM1036 373.9l-1.3 -2.5l-10.8 -0.9l0.7 1.2zM1034.7 371.4l-3.5 -2.3l-9 0.2l1.7 1.2zM1031.2 369.1l-5.2 -1.7l-6.5 1.1l2.7 0.8zM1026 367.4l-6.5 -1.1l-3.3 1.6l3.3 0.6zM1019.5 366.3l-7.2 -0.3l0.3 1.7l3.6 0.2zM1012.3 366l-7.1 0.4l3.8 1.6l3.6 -0.3zM1005.2 366.4l-6.3 1.2l6.9 1l3.2 -0.6zM998.9 367.6l-5 1.9l9.4 0l2.5 -0.9zM993.9 369.5l-3.1 2.3l10.9 -1.1l1.6 -1.2zM990.8 371.8l-1 2.5l11.4 -2.3l0.5 -1.3zM989.8 374.3l1.3 2.5l10.8 -3.6l-0.7 -1.2zM991.1 376.8l3.5 2.2l9 -4.6l-1.7 -1.2z"/>
<path fill="#ff8f00" d="M1003.6 374.4l2.7 0.8l6.6 -4.1zM1006.3 375.2l3.3 0.6l3.3 -4.7zM1009.6 375.8l3.6 0.2l-0.3 -4.9zM1013.2 376l3.6 -0.3l-3.9 -4.6zM1016.8 375.7l3.2 -0.6l-7.1 -4zM1020 375.1l2.5 -0.9l-9.6 -3.1zM1022.5 374.2l1.6 -1.2l-11.2 -1.9zM1024.1 373l0.5 -1.3l-11.7 -0.6zM1024.6 371.7l-0.7 -1.2l-11 0.6zM1023.9 370.5l-1.7 -1.2l-9.3 1.8zM1022.2 369.3l-2.7 -0.8l-6.6 2.6zM1019.5 368.5l-3.3 -0.6l-3.3 3.2zM1016.2 367.9l-3.6 -0.2l0.3 3.4zM1012.6 367.7l-3.6 0.3l3.9 3.1zM1009 368l-3.2 0.6l7.1 2.5zM1005.8 368.6l-2.5 0.9l9.6 1.6zM1003.3 369.5l-1.6 1.2l11.2 0.4zM1001.7 370.7l-0.5 1.3l11.7 -0.9zM1001.2 372l0.7 1.2l11 -2.1zM1001.9 373.2l1.7 1.2l9.3 -3.3z"/></g>
<g class="s"><path fill="#0000bf" d="M701.1 800.1l1.7 0.6l-2 -0.2l-2.6 -0.9zM702.8 800.7l2.2 0.3l-1 0l-3.2 -0.5zM705 801l2.4 0.1l0.1 0.1l-3.5 -0.2zM707.4 801.1l2.4 -0.1l1.2 0l-3.5 0.2zM709.8 801l2.1 -0.4l2.2 -0.2l-3.1 0.6z"/>
<path fill="#0000cf" d="M698.2 799.6l2.6 0.9l-1.9 -0.7l-3.3 -1.1zM700.8 800.5l3.2 0.5l-1 -0.5l-4.1 -0.7zM704 801l3.5 0.2l0.1 -0.5l-4.6 -0.2zM707.5 801.2l3.5 -0.2l1.1 -0.6l-4.5 0.3zM711 801l3.1 -0.6l2 -0.7l-4 0.7zM714.1 800.4l2.4 -0.9l2.8 -1l-3.2 1.2zM716.5 799.5l1.5 -1.1l3.2 -1.4l-1.9 1.5zM696.5 798.6l1.7 1l-2.6 -0.9l-2.2 -1.4z"/>
<path fill="#0000cf" d="M695.6 798.7l3.3 1.1l-1.7 -1.2l-4 -1.3zM698.9 799.8l4.1 0.7l-0.8 -1.1l-5 -0.8zM703 800.5l4.6 0.2l0.1 -1l-5.5 -0.3zM707.6 800.7l4.5 -0.3l1 -1.1l-5.4 0.4zM712.1 800.4l4 -0.7l1.8 -1.3l-4.8 0.9zM716.1 799.7l3.2 -1.2l2.4 -1.5l-3.8 1.4zM719.3 798.5l1.9 -1.5l2.9 -1.7l-2.4 1.7zM693.4 797.3l2.2 1.4l-2.4 -1.4l-2.6 -1.7z"/>
<path fill="#0000cf" d="M693.2 797.3l4 1.3l-1.4 -1.7l-4.6 -1.5zM697.2 798.6l5 0.8l-0.7 -1.5l-5.7 -1zM702.2 799.4l5.5 0.3l0 -1.5l-6.2 -0.3zM707.7 799.7l5.4 -0.4l0.8 -1.5l-6.2 0.4zM713.1 799.3l4.8 -0.9l1.6 -1.7l-5.6 1.1zM717.9 798.4l3.8 -1.4l2.1 -1.9l-4.3 1.6zM721.7 797l2.4 -1.7l2.4 -2.2l-2.7 2zM689.6 793.7l1 1.9l-2.4 -2.1l-1.1 -2.2zM690.6 795.6l2.6 1.7l-2 -1.9l-3 -1.9z"/>
<path fill="#0000cf" d="M691.2 795.4l4.6 1.5l-1.2 -2.1l-5 -1.7zM695.8 796.9l5.7 1l-0.6 -2l-6.3 -1.1zM701.5 797.9l6.2 0.3l0.1 -2l-6.9 -0.3zM707.7 798.2l6.2 -0.4l0.7 -2.1l-6.8 0.5zM713.9 797.8l5.6 -1.1l1.2 -2.1l-6.1 1.1zM719.5 796.7l4.3 -1.6l1.7 -2.3l-4.8 1.8zM723.8 795.1l2.7 -2l2 -2.5l-3 2.2zM726.5 793.1l0.8 -2.2l2.1 -2.7l-0.9 2.4zM687.1 791.3l1.1 2.2l-1.9 -2.5l-1.3 -2.4zM688.2 793.5l3 1.9l-1.6 -2.3l-3.3 -2.1z"/>
<path fill="#0000df" d="M689.6 793.1l5 1.7l-0.8 -2.5l-5.4 -1.8zM694.6 794.8l6.3 1.1l-0.4 -2.5l-6.7 -1.1zM700.9 795.9l6.9 0.3l0 -2.4l-7.3 -0.4zM707.8 796.2l6.8 -0.5l0.5 -2.4l-7.3 0.5zM714.6 795.7l6.1 -1.1l0.9 -2.5l-6.5 1.2zM720.7 794.6l4.8 -1.8l1.2 -2.6l-5.1 1.9zM725.5 792.8l3 -2.2l1.4 -2.8l-3.2 2.4zM728.5 790.6l0.9 -2.4l1.5 -3l-1 2.6zM685 788.6l1.3 2.4l-1.4 -2.8l-1.4 -2.5zM686.3 791l3.3 2.1l-1.2 -2.6l-3.5 -2.3z"/>
<path fill="#0000df" d="M688.4 790.5l5.4 1.8l-0.5 -2.8l-5.6 -1.9zM693.8 792.3l6.7 1.1l-0.3 -2.7l-6.9 -1.2zM700.5 793.4l7.3 0.4l0 -2.8l-7.6 -0.3zM707.8 793.8l7.3 -0.5l0.3 -2.8l-7.6 0.5zM715.1 793.3l6.5 -1.2l0.6 -2.9l-6.8 1.3zM721.6 792.1l5.1 -1.9l0.8 -2.9l-5.3 1.9zM726.7 790.2l3.2 -2.4l0.9 -3l-3.3 2.5zM729.9 787.8l1 -2.6l0.9 -3.1l-1 2.7zM683.5 785.7l1.4 2.5l-0.9 -2.9l-1.4 -2.7zM684.9 788.2l3.5 2.3l-0.7 -2.9l-3.7 -2.3z"/>
<path fill="#0000df" d="M687.7 787.6l5.6 1.9l-0.2 -3.1l-5.7 -1.9zM693.3 789.5l6.9 1.2l-0.1 -3.1l-7 -1.2zM700.2 790.7l7.6 0.3l0.1 -3l-7.8 -0.4zM707.8 791l7.6 -0.5l0.1 -3l-7.6 0.5zM715.4 790.5l6.8 -1.3l0.2 -3l-6.9 1.3zM722.2 789.2l5.3 -1.9l0.2 -3.1l-5.3 2zM727.5 787.3l3.3 -2.5l0.3 -3.1l-3.4 2.5zM730.8 784.8l1 -2.7l0.3 -3.1l-1 2.7zM683.6 779.9l-1 2.7l-0.3 -3.2l1 -2.7zM682.6 782.6l1.4 2.7l-0.3 -3.2l-1.4 -2.7zM684 785.3l3.7 2.3l-0.3 -3.1l-3.7 -2.4z"/>
<path fill="#0000ef" d="M687.5 784.5l5.7 1.9l0.2 -3.2l-5.6 -1.9zM693.1 786.4l7 1.2l0.1 -3.3l-6.9 -1.1zM700.1 787.6l7.8 0.4l-0.1 -3.3l-7.6 -0.4zM707.9 788l7.6 -0.5l-0.1 -3.3l-7.6 0.5zM715.5 787.5l6.9 -1.3l-0.2 -3.3l-6.8 1.3zM722.4 786.2l5.3 -2l-0.2 -3.3l-5.3 2zM727.7 784.2l3.4 -2.5l-0.3 -3.2l-3.3 2.4zM731.1 781.7l1 -2.7l-0.3 -3.2l-1 2.7zM732.1 779l-1.4 -2.7l-0.3 -3.2l1.4 2.7zM683.3 776.7l-1 2.7l0.3 -3.1l1 -2.7zM682.3 779.4l1.4 2.7l0.3 -3.2l-1.4 -2.6zM683.7 782.1l3.7 2.4l0.3 -3.2l-3.7 -2.4z"/>
<path fill="#0000ef" d="M687.7 781.3l5.6 1.9l0.5 -3.4l-5.4 -1.8zM693.3 783.2l6.9 1.1l0.3 -3.4l-6.7 -1.1zM700.2 784.3l7.6 0.4l0 -3.4l-7.3 -0.4zM707.8 784.7l7.6 -0.5l-0.3 -3.4l-7.3 0.5zM715.4 784.2l6.8 -1.3l-0.6 -3.3l-6.5 1.2zM722.2 782.9l5.3 -2l-0.8 -3.2l-5.1 1.9zM727.5 780.9l3.3 -2.4l-0.9 -3.2l-3.2 2.4zM730.8 778.5l1 -2.7l-0.9 -3.1l-1 2.6zM731.8 775.8l-1.4 -2.7l-0.9 -2.9l1.4 2.5zM683.6 773.6l-1 2.7l0.9 -3.1l1 -2.6zM682.6 776.3l1.4 2.6l0.9 -3.2l-1.4 -2.5zM684 778.9l3.7 2.4l0.7 -3.3l-3.5 -2.3z"/>
<path fill="#0000ff" d="M688.4 778l5.4 1.8l0.8 -3.4l-5 -1.6zM693.8 779.8l6.7 1.1l0.4 -3.4l-6.3 -1.1zM700.5 780.9l7.3 0.4l0 -3.5l-6.9 -0.3zM707.8 781.3l7.3 -0.5l-0.5 -3.4l-6.8 0.4zM715.1 780.8l6.5 -1.2l-0.9 -3.4l-6.1 1.2zM721.6 779.6l5.1 -1.9l-1.2 -3.3l-4.8 1.8zM726.7 777.7l3.2 -2.4l-1.4 -3.1l-3 2.2zM729.9 775.3l1 -2.6l-1.5 -2.9l-0.9 2.4zM730.9 772.7l-1.4 -2.5l-1.4 -2.8l1.3 2.4zM684.5 770.6l-1 2.6l1.5 -3l0.9 -2.4zM683.5 773.2l1.4 2.5l1.4 -3.1l-1.3 -2.4zM684.9 775.7l3.5 2.3l1.2 -3.2l-3.3 -2.2z"/>
<path fill="#0000ff" d="M689.6 774.8l5 1.6l1.2 -3.3l-4.6 -1.5zM694.6 776.4l6.3 1.1l0.6 -3.4l-5.7 -1zM700.9 777.5l6.9 0.3l-0.1 -3.4l-6.2 -0.3zM707.8 777.8l6.8 -0.4l-0.7 -3.4l-6.2 0.4zM714.6 777.4l6.1 -1.2l-1.2 -3.3l-5.6 1.1zM720.7 776.2l4.8 -1.8l-1.7 -3.1l-4.3 1.6zM725.5 774.4l3 -2.2l-2 -2.9l-2.7 2zM728.5 772.2l0.9 -2.4l-2.1 -2.7l-0.8 2.2zM729.4 769.8l-1.3 -2.4l-1.9 -2.5l1.1 2.2zM728.1 767.4l-3.3 -2.1l-1.6 -2.3l3 1.9zM688.9 765.6l-3 2.2l2 -2.5l2.7 -2zM685.9 767.8l-0.9 2.4l2.1 -2.7l0.8 -2.2zM685 770.2l1.3 2.4l1.9 -2.9l-1.1 -2.2zM686.3 772.6l3.3 2.2l1.6 -3.2l-3 -1.9z"/>
<path fill="#0000ff" d="M691.2 771.6l4.6 1.5l1.4 -3.1l-4 -1.3zM695.8 773.1l5.7 1l0.7 -3.3l-5 -0.8zM701.5 774.1l6.2 0.3l0 -3.3l-5.5 -0.3zM707.7 774.4l6.2 -0.4l-0.8 -3.3l-5.4 0.4zM713.9 774l5.6 -1.1l-1.6 -3.1l-4.8 0.9zM719.5 772.9l4.3 -1.6l-2.1 -2.9l-3.8 1.4zM723.8 771.3l2.7 -2l-2.4 -2.6l-2.4 1.7zM726.5 769.3l0.8 -2.2l-2.5 -2.4l-0.7 2zM727.3 767.1l-1.1 -2.2l-2.4 -2.1l1 1.9zM726.2 764.9l-3 -1.9l-2 -1.9l2.6 1.7zM690.6 763.3l-2.7 2l2.4 -2.2l2.4 -1.7zM687.9 765.3l-0.8 2.2l2.5 -2.4l0.7 -2zM687.1 767.5l1.1 2.2l2.4 -2.7l-1 -1.9zM688.2 769.7l3 1.9l2 -2.9l-2.6 -1.7z"/>
<path fill="#0010ff" d="M693.2 768.7l4 1.3l1.7 -2.9l-3.3 -1.1zM697.2 770l5 0.8l0.8 -3l-4.1 -0.7zM702.2 770.8l5.5 0.3l-0.1 -3.1l-4.6 -0.2zM707.7 771.1l5.4 -0.4l-1 -3l-4.5 0.3zM713.1 770.7l4.8 -0.9l-1.8 -2.9l-4 0.8zM717.9 769.8l3.8 -1.4l-2.4 -2.7l-3.2 1.2zM721.7 768.4l2.4 -1.7l-2.9 -2.4l-1.9 1.4zM724.1 766.7l0.7 -2l-3 -2l-0.6 1.6zM724.8 764.7l-1 -1.9l-2.8 -1.7l0.8 1.6zM723.8 762.8l-2.6 -1.7l-2.4 -1.4l2.2 1.4zM721.2 761.1l-4 -1.3l-1.7 -1.2l3.3 1.1zM696.5 760l-3.8 1.4l2.4 -1.5l3.2 -1.2zM692.7 761.4l-2.4 1.7l2.9 -1.7l1.9 -1.5zM690.3 763.1l-0.7 2l3 -2.1l0.6 -1.6zM689.6 765.1l1 1.9l2.8 -2.5l-0.8 -1.5zM690.6 767l2.6 1.7l2.4 -2.7l-2.2 -1.5z"/>
<path fill="#0010ff" d="M695.6 766l3.3 1.1l1.9 -2.6l-2.6 -0.9zM698.9 767.1l4.1 0.7l1 -2.8l-3.2 -0.5zM703 767.8l4.6 0.2l-0.1 -2.9l-3.5 -0.1zM707.6 768l4.5 -0.3l-1.1 -2.8l-3.5 0.2zM712.1 767.7l4 -0.8l-2 -2.6l-3.1 0.6zM716.1 766.9l3.2 -1.2l-2.8 -2.3l-2.4 0.9zM719.3 765.7l1.9 -1.4l-3.2 -2l-1.5 1.1zM721.2 764.3l0.6 -1.6l-3.3 -1.6l-0.5 1.2zM721.8 762.7l-0.8 -1.6l-3.1 -1.3l0.6 1.3zM721 761.1l-2.2 -1.4l-2.6 -0.9l1.7 1zM718.8 759.7l-3.3 -1.1l-1.9 -0.7l2.6 0.9zM715.5 758.6l-4.1 -0.7l-1 -0.5l3.2 0.5zM702.3 758l-4 0.7l2 -0.7l3.1 -0.6zM698.3 758.7l-3.2 1.2l2.8 -1l2.4 -0.9zM695.1 759.9l-1.9 1.5l3.2 -1.4l1.5 -1.1zM693.2 761.4l-0.6 1.6l3.3 -1.7l0.5 -1.3zM692.6 763l0.8 1.5l3.1 -2l-0.6 -1.2zM693.4 764.5l2.2 1.5l2.6 -2.4l-1.7 -1.1z"/>
<path fill="#0010ff" d="M698.2 763.6l2.6 0.9l2 -2.3l-1.7 -0.6zM700.8 764.5l3.2 0.5l1 -2.4l-2.2 -0.4zM704 765l3.5 0.1l-0.1 -2.4l-2.4 -0.1zM707.5 765.1l3.5 -0.2l-1.2 -2.4l-2.4 0.2zM711 764.9l3.1 -0.6l-2.2 -2.2l-2.1 0.4zM714.1 764.3l2.4 -0.9l-3 -1.9l-1.6 0.6zM716.5 763.4l1.5 -1.1l-3.4 -1.6l-1.1 0.8zM718 762.3l0.5 -1.2l-3.6 -1.2l-0.3 0.8zM718.5 761.1l-0.6 -1.3l-3.4 -0.7l0.4 0.8zM717.9 759.8l-1.7 -1l-2.9 -0.5l1.2 0.8zM716.2 758.8l-2.6 -0.9l-2 -0.2l1.7 0.6zM713.6 757.9l-3.2 -0.5l-1 0l2.2 0.3zM710.4 757.4l-3.5 -0.2l0.1 0.1l2.4 0.1zM706.9 757.2l-3.5 0.2l1.2 0l2.4 -0.1zM703.4 757.4l-3.1 0.6l2.2 -0.2l2.1 -0.4zM700.3 758l-2.4 0.9l3 -0.5l1.6 -0.6zM697.9 758.9l-1.5 1.1l3.4 -0.8l1.1 -0.8zM696.4 760l-0.5 1.3l3.6 -1.3l0.3 -0.8zM695.9 761.3l0.6 1.2l3.4 -1.6l-0.4 -0.9zM696.5 762.5l1.7 1.1l2.9 -2l-1.2 -0.7z"/>
<path fill="#0010ff" d="M701.1 761.6l1.7 0.6l2.2 -1.9l-0.9 -0.2zM702.8 762.2l2.2 0.4l1.1 -2.1l-1.1 -0.2zM705 762.6l2.4 0.1l-0.1 -2.1l-1.2 -0.1zM707.4 762.7l2.4 -0.2l-1.3 -2l-1.2 0.1zM709.8 762.5l2.1 -0.4l-2.3 -1.8l-1.1 0.2zM711.9 762.1l1.6 -0.6l-3.1 -1.5l-0.8 0.3zM713.5 761.5l1.1 -0.8l-3.7 -1.1l-0.5 0.4zM714.6 760.7l0.3 -0.8l-3.8 -0.7l-0.2 0.4zM714.9 759.9l-0.4 -0.8l-3.6 -0.3l0.2 0.4zM714.5 759.1l-1.2 -0.8l-3 0.1l0.6 0.4zM713.3 758.3l-1.7 -0.6l-2.2 0.4l0.9 0.3zM711.6 757.7l-2.2 -0.3l-1.1 0.5l1.1 0.2zM709.4 757.4l-2.4 -0.1l0.1 0.5l1.2 0.1zM707 757.3l-2.4 0.1l1.3 0.5l1.2 -0.1zM704.6 757.4l-2.1 0.4l2.3 0.3l1.1 -0.2zM702.5 757.8l-1.6 0.6l3.1 0l0.8 -0.3zM700.9 758.4l-1.1 0.8l3.7 -0.4l0.5 -0.4zM699.8 759.2l-0.3 0.8l3.8 -0.7l0.2 -0.5zM699.5 760l0.4 0.9l3.6 -1.2l-0.2 -0.4zM699.9 760.9l1.2 0.7l3 -1.5l-0.6 -0.4z"/>
<path fill="#0010ff" d="M704.1 760.1l0.9 0.2l2.2 -1.3zM705 760.3l1.1 0.2l1.1 -1.5zM706.1 760.5l1.2 0.1l-0.1 -1.6zM707.3 760.6l1.2 -0.1l-1.3 -1.5zM708.5 760.5l1.1 -0.2l-2.4 -1.3zM709.6 760.3l0.8 -0.3l-3.2 -1zM710.4 760l0.5 -0.4l-3.7 -0.6zM710.9 759.6l0.2 -0.4l-3.9 -0.2zM711.1 759.2l-0.2 -0.4l-3.7 0.2zM710.9 758.8l-0.6 -0.4l-3.1 0.6zM710.3 758.4l-0.9 -0.3l-2.2 0.9zM709.4 758.1l-1.1 -0.2l-1.1 1.1zM708.3 757.9l-1.2 -0.1l0.1 1.2zM707.1 757.8l-1.2 0.1l1.3 1.1zM705.9 757.9l-1.1 0.2l2.4 0.9zM704.8 758.1l-0.8 0.3l3.2 0.6zM704 758.4l-0.5 0.4l3.7 0.2zM703.5 758.8l-0.2 0.5l3.9 -0.3zM703.3 759.3l0.2 0.4l3.7 -0.7zM703.5 759.7l0.6 0.4l3.1 -1.1z"/></g>
<g class="s"><path fill="#0000af" d="M1059.6 832.3l1.7 0.6l-2 -0.2l-2.6 -0.9zM1061.3 832.9l2.2 0.3l-1 0l-3.2 -0.5zM1063.5 833.2l2.4 0.1l0.1 0.1l-3.5 -0.2zM1065.9 833.3l2.4 -0.1l1.2 0l-3.5 0.2zM1068.3 833.2l2.1 -0.4l2.2 -0.2l-3.1 0.6z"/>
<path fill="#0000af" d="M1056.7 831.8l2.6 0.9l-1.9 -0.7l-3.3 -1.1zM1059.3 832.7l3.2 0.5l-1 -0.5l-4.1 -0.7zM1062.5 833.2l3.5 0.2l0.1 -0.5l-4.6 -0.2zM1066 833.4l3.5 -0.2l1.1 -0.6l-4.5 0.3zM1069.5 833.2l3.1 -0.6l2 -0.7l-4 0.7zM1072.6 832.6l2.4 -0.9l2.8 -1l-3.2 1.2zM1075 831.7l1.5 -1.1l3.2 -1.4l-1.9 1.5zM1055 830.8l1.7 1l-2.6 -0.9l-2.2 -1.4z"/>
<path fill="#0000bf" d="M1054.1 830.9l3.3 1.1l-1.7 -1.2l-4 -1.3zM1057.4 832l4.1 0.7l-0.8 -1.1l-5 -0.8zM1061.5 832.7l4.6 0.2l0.1 -1l-5.5 -0.3zM1066.1 832.9l4.5 -0.3l1 -1.1l-5.4 0.4zM1070.6 832.6l4 -0.7l1.8 -1.3l-4.8 0.9zM1074.6 831.9l3.2 -1.2l2.4 -1.5l-3.8 1.4zM1077.8 830.7l1.9 -1.5l2.9 -1.7l-2.4 1.7zM1051.9 829.5l2.2 1.4l-2.4 -1.4l-2.6 -1.7z"/>
<path fill="#0000bf" d="M1051.7 829.5l4 1.3l-1.4 -1.7l-4.6 -1.5zM1055.7 830.8l5 0.8l-0.7 -1.5l-5.7 -1zM1060.7 831.6l5.5 0.3l0 -1.5l-6.2 -0.3zM1066.2 831.9l5.4 -0.4l0.8 -1.5l-6.2 0.4zM1071.6 831.5l4.8 -0.9l1.6 -1.7l-5.6 1.1zM1076.4 830.6l3.8 -1.4l2.1 -1.9l-4.3 1.6zM1080.2 829.2l2.4 -1.7l2.4 -2.2l-2.7 2zM1048.1 825.9l1 1.9l-2.4 -2.1l-1.1 -2.2zM1049.1 827.8l2.6 1.7l-2 -1.9l-3 -1.9z"/>
<path fill="#0000bf" d="M1049.7 827.6l4.6 1.5l-1.2 -2.1l-5 -1.7zM1054.3 829.1l5.7 1l-0.6 -2l-6.3 -1.1zM1060 830.1l6.2 0.3l0.1 -2l-6.9 -0.3zM1066.2 830.4l6.2 -0.4l0.7 -2.1l-6.8 0.5zM1072.4 830l5.6 -1.1l1.2 -2.1l-6.1 1.1zM1078 828.9l4.3 -1.6l1.7 -2.3l-4.8 1.8zM1082.3 827.3l2.7 -2l2 -2.5l-3 2.2zM1085 825.3l0.8 -2.2l2.1 -2.7l-0.9 2.4zM1045.6 823.5l1.1 2.2l-1.9 -2.5l-1.3 -2.4zM1046.7 825.7l3 1.9l-1.6 -2.3l-3.3 -2.1z"/>
<path fill="#0000bf" d="M1048.1 825.3l5 1.7l-0.8 -2.5l-5.4 -1.8zM1053.1 827l6.3 1.1l-0.4 -2.5l-6.7 -1.1zM1059.4 828.1l6.9 0.3l0 -2.4l-7.3 -0.4zM1066.3 828.4l6.8 -0.5l0.5 -2.4l-7.3 0.5zM1073.1 827.9l6.1 -1.1l0.9 -2.5l-6.5 1.2zM1079.2 826.8l4.8 -1.8l1.2 -2.6l-5.1 1.9zM1084 825l3 -2.2l1.4 -2.8l-3.2 2.4zM1087 822.8l0.9 -2.4l1.5 -3l-1 2.6zM1043.5 820.8l1.3 2.4l-1.4 -2.8l-1.4 -2.5zM1044.8 823.2l3.3 2.1l-1.2 -2.6l-3.5 -2.3z"/>
<path fill="#0000cf" d="M1046.9 822.7l5.4 1.8l-0.5 -2.8l-5.6 -1.9zM1052.3 824.5l6.7 1.1l-0.3 -2.7l-6.9 -1.2zM1059 825.6l7.3 0.4l0 -2.8l-7.6 -0.3zM1066.3 826l7.3 -0.5l0.3 -2.8l-7.6 0.5zM1073.6 825.5l6.5 -1.2l0.6 -2.9l-6.8 1.3zM1080.1 824.3l5.1 -1.9l0.8 -2.9l-5.3 1.9zM1085.2 822.4l3.2 -2.4l0.9 -3l-3.3 2.5zM1088.4 820l1 -2.6l0.9 -3.1l-1 2.7zM1042 817.9l1.4 2.5l-0.9 -2.9l-1.4 -2.7zM1043.4 820.4l3.5 2.3l-0.7 -2.9l-3.7 -2.3z"/>
<path fill="#0000cf" d="M1046.2 819.8l5.6 1.9l-0.2 -3.1l-5.6 -1.9zM1051.8 821.7l6.9 1.2l-0.1 -3.1l-7 -1.2zM1058.7 822.9l7.6 0.3l0.1 -3l-7.8 -0.4zM1066.3 823.2l7.6 -0.5l0.1 -3l-7.6 0.5zM1073.9 822.7l6.8 -1.3l0.2 -3l-6.9 1.3zM1080.7 821.4l5.3 -1.9l0.2 -3.1l-5.3 2zM1086 819.5l3.3 -2.5l0.3 -3.1l-3.4 2.5zM1089.3 817l1 -2.7l0.3 -3.1l-1 2.7zM1042.1 812.1l-1 2.7l-0.3 -3.2l1 -2.7zM1041.1 814.8l1.4 2.7l-0.3 -3.2l-1.4 -2.7zM1042.5 817.5l3.7 2.3l-0.2 -3.1l-3.8 -2.4z"/>
<path fill="#0000df" d="M1046 816.7l5.6 1.9l0.2 -3.2l-5.6 -1.9zM1051.6 818.6l7 1.2l0.1 -3.3l-6.9 -1.1zM1058.6 819.8l7.8 0.4l-0.1 -3.3l-7.6 -0.4zM1066.4 820.2l7.6 -0.5l-0.1 -3.3l-7.6 0.5zM1074 819.7l6.9 -1.3l-0.2 -3.3l-6.8 1.3zM1080.9 818.4l5.3 -2l-0.2 -3.3l-5.3 2zM1086.2 816.4l3.4 -2.5l-0.3 -3.2l-3.3 2.4zM1089.6 813.9l1 -2.7l-0.3 -3.2l-1 2.7zM1090.6 811.2l-1.4 -2.7l-0.3 -3.2l1.4 2.7zM1041.8 808.9l-1 2.7l0.3 -3.1l1 -2.7zM1040.8 811.6l1.4 2.7l0.3 -3.2l-1.4 -2.6zM1042.2 814.3l3.8 2.4l0.2 -3.2l-3.7 -2.4z"/>
<path fill="#0000df" d="M1046.2 813.5l5.6 1.9l0.5 -3.4l-5.4 -1.8zM1051.8 815.4l6.9 1.1l0.3 -3.4l-6.7 -1.1zM1058.7 816.5l7.6 0.4l0 -3.4l-7.3 -0.4zM1066.3 816.9l7.6 -0.5l-0.3 -3.4l-7.3 0.5zM1073.9 816.4l6.8 -1.3l-0.6 -3.3l-6.5 1.2zM1080.7 815.1l5.3 -2l-0.8 -3.2l-5.1 1.9zM1086 813.1l3.3 -2.4l-0.9 -3.2l-3.2 2.4zM1089.3 810.7l1 -2.7l-0.9 -3.1l-1 2.6zM1090.3 808l-1.4 -2.7l-0.9 -2.9l1.4 2.5zM1042.1 805.8l-1 2.7l0.9 -3.1l1 -2.6zM1041.1 808.5l1.4 2.6l0.9 -3.2l-1.4 -2.5zM1042.5 811.1l3.7 2.4l0.7 -3.3l-3.5 -2.3z"/>
<path fill="#0000df" d="M1046.9 810.2l5.4 1.8l0.8 -3.4l-5 -1.6zM1052.3 812l6.7 1.1l0.4 -3.4l-6.3 -1.1zM1059 813.1l7.3 0.4l0 -3.5l-6.9 -0.3zM1066.3 813.5l7.3 -0.5l-0.5 -3.4l-6.8 0.4zM1073.6 813l6.5 -1.2l-0.9 -3.4l-6.1 1.2zM1080.1 811.8l5.1 -1.9l-1.2 -3.3l-4.8 1.8zM1085.2 809.9l3.2 -2.4l-1.4 -3.1l-3 2.2zM1088.4 807.5l1 -2.6l-1.5 -2.9l-0.9 2.4zM1089.4 804.9l-1.4 -2.5l-1.4 -2.8l1.3 2.4zM1043 802.8l-1 2.6l1.5 -3l0.9 -2.4zM1042 805.4l1.4 2.5l1.4 -3.1l-1.3 -2.4zM1043.4 807.9l3.5 2.3l1.2 -3.2l-3.3 -2.2z"/>
<path fill="#0000ef" d="M1048.1 807l5 1.6l1.2 -3.3l-4.6 -1.5zM1053.1 808.6l6.3 1.1l0.6 -3.4l-5.7 -1zM1059.4 809.7l6.9 0.3l-0.1 -3.4l-6.2 -0.3zM1066.3 810l6.8 -0.4l-0.7 -3.4l-6.2 0.4zM1073.1 809.6l6.1 -1.2l-1.2 -3.3l-5.6 1.1zM1079.2 808.4l4.8 -1.8l-1.7 -3.1l-4.3 1.6zM1084 806.6l3 -2.2l-2 -2.9l-2.7 2zM1087 804.4l0.9 -2.4l-2.1 -2.7l-0.8 2.2zM1087.9 802l-1.3 -2.4l-1.9 -2.5l1.1 2.2zM1086.6 799.6l-3.3 -2.1l-1.6 -2.3l3 1.9zM1047.4 797.8l-3 2.2l2 -2.5l2.7 -2zM1044.4 800l-0.9 2.4l2.1 -2.7l0.8 -2.2zM1043.5 802.4l1.3 2.4l1.9 -2.9l-1.1 -2.2zM1044.8 804.8l3.3 2.2l1.6 -3.2l-3 -1.9z"/>
<path fill="#0000ef" d="M1049.7 803.8l4.6 1.5l1.4 -3.1l-4 -1.3zM1054.3 805.3l5.7 1l0.7 -3.3l-5 -0.8zM1060 806.3l6.2 0.3l0 -3.3l-5.5 -0.3zM1066.2 806.6l6.2 -0.4l-0.8 -3.3l-5.4 0.4zM1072.4 806.2l5.6 -1.1l-1.6 -3.1l-4.8 0.9zM1078 805.1l4.3 -1.6l-2.1 -2.9l-3.8 1.4zM1082.3 803.5l2.7 -2l-2.4 -2.6l-2.4 1.7zM1085 801.5l0.8 -2.2l-2.5 -2.4l-0.7 2zM1085.8 799.3l-1.1 -2.2l-2.4 -2.1l1 1.9zM1084.7 797.1l-3 -1.9l-2 -1.9l2.6 1.7zM1049.1 795.5l-2.7 2l2.4 -2.2l2.4 -1.7zM1046.4 797.5l-0.8 2.2l2.5 -2.4l0.7 -2zM1045.6 799.7l1.1 2.2l2.4 -2.7l-1 -1.9zM1046.7 801.9l3 1.9l2 -2.9l-2.6 -1.7z"/>
<path fill="#0000ef" d="M1051.7 800.9l4 1.3l1.7 -2.9l-3.3 -1.1zM1055.7 802.2l5 0.8l0.8 -3l-4.1 -0.7zM1060.7 803l5.5 0.3l-0.1 -3.1l-4.6 -0.2zM1066.2 803.3l5.4 -0.4l-1 -3l-4.5 0.3zM1071.6 802.9l4.8 -0.9l-1.8 -2.9l-4 0.8zM1076.4 802l3.8 -1.4l-2.4 -2.7l-3.2 1.2zM1080.2 800.6l2.4 -1.7l-2.9 -2.4l-1.9 1.4zM1082.6 798.9l0.7 -2l-3 -2l-0.6 1.6zM1083.3 796.9l-1 -1.9l-2.8 -1.7l0.8 1.6zM1082.3 795l-2.6 -1.7l-2.4 -1.4l2.2 1.4zM1079.7 793.3l-4 -1.3l-1.7 -1.2l3.3 1.1zM1055 792.2l-3.8 1.4l2.4 -1.5l3.2 -1.2zM1051.2 793.6l-2.4 1.7l2.9 -1.7l1.9 -1.5zM1048.8 795.3l-0.7 2l3 -2.1l0.6 -1.6zM1048.1 797.3l1 1.9l2.8 -2.5l-0.8 -1.5zM1049.1 799.2l2.6 1.7l2.4 -2.7l-2.2 -1.5z"/>
<path fill="#0000ff" d="M1054.1 798.2l3.3 1.1l1.9 -2.6l-2.6 -0.9zM1057.4 799.3l4.1 0.7l1 -2.8l-3.2 -0.5zM1061.5 800l4.6 0.2l-0.1 -2.9l-3.5 -0.1zM1066.1 800.2l4.5 -0.3l-1.1 -2.8l-3.5 0.2zM1070.6 799.9l4 -0.8l-2 -2.6l-3.1 0.6zM1074.6 799.1l3.2 -1.2l-2.8 -2.3l-2.4 0.9zM1077.8 797.9l1.9 -1.4l-3.2 -2l-1.5 1.1zM1079.7 796.5l0.6 -1.6l-3.3 -1.6l-0.5 1.2zM1080.3 794.9l-0.8 -1.6l-3.1 -1.3l0.6 1.3zM1079.5 793.3l-2.2 -1.4l-2.6 -0.9l1.7 1zM1077.3 791.9l-3.3 -1.1l-1.9 -0.7l2.6 0.9zM1074 790.8l-4.1 -0.7l-1 -0.5l3.2 0.5zM1060.8 790.2l-4 0.7l2 -0.7l3.1 -0.6zM1056.8 790.9l-3.2 1.2l2.8 -1l2.4 -0.9zM1053.6 792.1l-1.9 1.5l3.2 -1.4l1.5 -1.1zM1051.7 793.6l-0.6 1.6l3.3 -1.7l0.5 -1.3zM1051.1 795.2l0.8 1.5l3.1 -2l-0.6 -1.2zM1051.9 796.7l2.2 1.5l2.6 -2.4l-1.7 -1.1z"/>
<path fill="#0000ff" d="M1056.7 795.8l2.6 0.9l2 -2.3l-1.7 -0.6zM1059.3 796.7l3.2 0.5l1 -2.4l-2.2 -0.4zM1062.5 797.2l3.5 0.1l-0.1 -2.4l-2.4 -0.1zM1066 797.3l3.5 -0.2l-1.2 -2.4l-2.4 0.2zM1069.5 797.1l3.1 -0.6l-2.2 -2.2l-2.1 0.4zM1072.6 796.5l2.4 -0.9l-3 -1.9l-1.6 0.6zM1075 795.6l1.5 -1.1l-3.4 -1.6l-1.1 0.8zM1076.5 794.5l0.5 -1.2l-3.6 -1.2l-0.3 0.8zM1077 793.3l-0.6 -1.3l-3.4 -0.7l0.4 0.8zM1076.4 792l-1.7 -1l-2.9 -0.5l1.2 0.8zM1074.7 791l-2.6 -0.9l-2 -0.2l1.7 0.6zM1072.1 790.1l-3.2 -0.5l-1 0l2.2 0.3zM1068.9 789.6l-3.5 -0.2l0.1 0.1l2.4 0.1zM1065.4 789.4l-3.5 0.2l1.2 0l2.4 -0.1zM1061.9 789.6l-3.1 0.6l2.2 -0.2l2.1 -0.4zM1058.8 790.2l-2.4 0.9l3 -0.5l1.6 -0.6zM1056.4 791.1l-1.5 1.1l3.4 -0.8l1.1 -0.8zM1054.9 792.2l-0.5 1.3l3.6 -1.3l0.3 -0.8zM1054.4 793.5l0.6 1.2l3.4 -1.6l-0.4 -0.9zM1055 794.7l1.7 1.1l2.9 -2l-1.2 -0.7z"/>
<path fill="#0000ff" d="M1059.6 793.8l1.7 0.6l2.2 -1.9l-0.9 -0.2zM1061.3 794.4l2.2 0.4l1.1 -2.1l-1.1 -0.2zM1063.5 794.8l2.4 0.1l-0.1 -2.1l-1.2 -0.1zM1065.9 794.9l2.4 -0.2l-1.3 -2l-1.2 0.1zM1068.3 794.7l2.1 -0.4l-2.3 -1.8l-1.1 0.2zM1070.4 794.3l1.6 -0.6l-3.1 -1.5l-0.8 0.3zM1072 793.7l1.1 -0.8l-3.7 -1.1l-0.5 0.4zM1073.1 792.9l0.3 -0.8l-3.8 -0.7l-0.2 0.4zM1073.4 792.1l-0.4 -0.8l-3.6 -0.3l0.2 0.4zM1073 791.3l-1.2 -0.8l-3 0.1l0.6 0.4zM1071.8 790.5l-1.7 -0.6l-2.2 0.4l0.9 0.3zM1070.1 789.9l-2.2 -0.3l-1.1 0.5l1.1 0.2zM1067.9 789.6l-2.4 -0.1l0.1 0.5l1.2 0.1zM1065.5 789.5l-2.4 0.1l1.3 0.5l1.2 -0.1zM1063.1 789.6l-2.1 0.4l2.3 0.3l1.1 -0.2zM1061 790l-1.6 0.6l3.1 0l0.8 -0.3zM1059.4 790.6l-1.1 0.8l3.7 -0.4l0.5 -0.4zM1058.3 791.4l-0.3 0.8l3.8 -0.7l0.2 -0.5zM1058 792.2l0.4 0.9l3.6 -1.2l-0.2 -0.4zM1058.4 793.1l1.2 0.7l3 -1.5l-0.6 -0.4z"/>
<path fill="#0000ff" d="M1062.6 792.3l0.9 0.2l2.2 -1.3zM1063.5 792.5l1.1 0.2l1.1 -1.5zM1064.6 792.7l1.2 0.1l-0.1 -1.6zM1065.8 792.8l1.2 -0.1l-1.3 -1.5zM1067 792.7l1.1 -0.2l-2.4 -1.3zM1068.1 792.5l0.8 -0.3l-3.2 -1zM1068.9 792.2l0.5 -0.4l-3.7 -0.6zM1069.4 791.8l0.2 -0.4l-3.9 -0.2zM1069.6 791.4l-0.2 -0.4l-3.7 0.2zM1069.4 791l-0.6 -0.4l-3.1 0.6zM1068.8 790.6l-0.9 -0.3l-2.2 0.9zM1067.9 790.3l-1.1 -0.2l-1.1 1.1zM1066.8 790.1l-1.2 -0.1l0.1 1.2zM1065.6 790l-1.2 0.1l1.3 1.1zM1064.4 790.1l-1.1 0.2l2.4 0.9zM1063.3 790.3l-0.8 0.3l3.2 0.6zM1062.5 790.6l-0.5 0.4l3.7 0.2zM1062 791l-0.2 0.5l3.9 -0.3zM1061.8 791.5l0.2 0.4l3.7 -0.7zM1062 791.9l0.6 0.4l3.1 -1.1z"/></g>
<g class="s"><path fill="#70ff8f" d="M796.7 548.2l5.2 1.7l-6.1 -0.5l-7.7 -2.6zM801.9 549.9l6.5 1.1l-3 0l-9.6 -1.6zM808.4 551l7.2 0.3l0.3 0.2l-10.5 -0.5zM815.6 551.3l7.1 -0.4l3.6 -0.1l-10.4 0.7zM822.7 550.9l6.3 -1.2l6.6 -0.6l-9.3 1.7z"/>
<path fill="#70ff8f" d="M788.1 546.8l7.7 2.6l-5.7 -2.1l-9.9 -3.3zM795.8 549.4l9.6 1.6l-2.9 -1.6l-12.4 -2.1zM805.4 551l10.5 0.5l0.2 -1.4l-13.6 -0.7zM815.9 551.5l10.4 -0.7l3.4 -1.6l-13.6 0.9zM826.3 550.8l9.3 -1.7l6.1 -2.2l-12 2.3zM835.6 549.1l7.3 -2.8l8.3 -2.9l-9.5 3.5zM842.9 546.3l4.6 -3.3l9.6 -4l-5.9 4.4zM783 543.6l5.1 3.2l-7.9 -2.8l-6.6 -4.2z"/>
<path fill="#80ff80" d="M780.2 544l9.9 3.3l-5 -3.6l-12 -4zM790.1 547.3l12.4 2.1l-2.5 -3.2l-14.9 -2.5zM802.5 549.4l13.6 0.7l0.3 -3.1l-16.4 -0.8zM816.1 550.1l13.6 -0.9l2.9 -3.3l-16.2 1.1zM829.7 549.2l12 -2.3l5.4 -3.7l-14.5 2.7zM841.7 546.9l9.5 -3.5l7.3 -4.5l-11.4 4.3zM851.2 543.4l5.9 -4.4l8.5 -5.3l-7.1 5.2zM773.6 539.8l6.6 4.2l-7.1 -4.3l-7.9 -5.1z"/>
<path fill="#8fff70" d="M773.1 539.7l12 4l-4.3 -5l-13.7 -4.6zM785.1 543.7l14.9 2.5l-2.2 -4.6l-17 -2.9zM800 546.2l16.4 0.8l0.2 -4.6l-18.8 -0.8zM816.4 547l16.2 -1.1l2.6 -4.7l-18.6 1.2zM832.6 545.9l14.5 -2.7l4.7 -5.2l-16.6 3.2zM847.1 543.2l11.4 -4.3l6.3 -5.7l-13 4.8zM858.5 538.9l7.1 -5.2l7.3 -6.5l-8.1 6zM762.2 528.9l3 5.7l-7.2 -6.3l-3.4 -6.6zM765.2 534.6l7.9 5.1l-6 -5.6l-9.1 -5.8z"/>
<path fill="#9fff60" d="M767.1 534.1l13.7 4.6l-3.5 -6.3l-15.1 -5.1zM780.8 538.7l17 2.9l-1.7 -6.1l-18.8 -3.1zM797.8 541.6l18.8 0.8l0.1 -5.9l-20.6 -1zM816.6 542.4l18.6 -1.2l2 -6.1l-20.5 1.4zM835.2 541.2l16.6 -3.2l3.7 -6.4l-18.3 3.5zM851.8 538l13 -4.8l5 -6.9l-14.3 5.3zM864.8 533.2l8.1 -6l5.9 -7.5l-9 6.6zM872.9 527.2l2.5 -6.6l6.1 -8.2l-2.7 7.3zM754.6 521.7l3.4 6.6l-5.7 -7.4l-3.8 -7.2zM758 528.3l9.1 5.8l-4.9 -6.8l-9.9 -6.4z"/>
<path fill="#afff50" d="M762.2 527.3l15.1 5.1l-2.5 -7.5l-16.2 -5.4zM777.3 532.4l18.8 3.1l-1.3 -7.3l-20 -3.3zM796.1 535.5l20.6 1l0.2 -7.3l-22.1 -1zM816.7 536.5l20.5 -1.4l1.5 -7.3l-21.8 1.4zM837.2 535.1l18.3 -3.5l2.7 -7.5l-19.5 3.7zM855.5 531.6l14.3 -5.3l3.7 -7.9l-15.3 5.7zM869.8 526.3l9 -6.6l4.3 -8.3l-9.6 7zM878.8 519.7l2.7 -7.3l4.5 -8.8l-2.9 7.8zM748.5 513.7l3.8 7.2l-4.3 -8.3l-4 -7.7zM752.3 520.9l9.9 6.4l-3.6 -7.8l-10.6 -6.9z"/>
<path fill="#bfff40" d="M758.6 519.5l16.2 5.4l-1.6 -8.5l-16.7 -5.6zM774.8 524.9l20 3.3l-0.7 -8.3l-20.9 -3.5zM794.8 528.2l22.1 1l0 -8.3l-22.8 -1zM816.9 529.2l21.8 -1.4l0.9 -8.3l-22.7 1.4zM838.7 527.8l19.5 -3.7l1.7 -8.5l-20.3 3.9zM858.2 524.1l15.3 -5.7l2.3 -8.7l-15.9 5.9zM873.5 518.4l9.6 -7l2.6 -9l-9.9 7.3zM883.1 511.4l2.9 -7.8l2.7 -9.3l-3 8.1zM744 504.9l4 7.7l-2.5 -8.9l-4.2 -8zM748 512.6l10.6 6.9l-2.1 -8.7l-11 -7.1z"/>
<path fill="#cfff30" d="M756.5 510.8l16.7 5.6l-0.5 -9.2l-16.9 -5.7zM773.2 516.4l20.9 3.5l-0.3 -9.2l-21.1 -3.5zM794.1 519.9l22.8 1l0.1 -9.1l-23.2 -1.1zM816.9 520.9l22.7 -1.4l0.3 -9.2l-22.9 1.5zM839.6 519.5l20.3 -3.9l0.6 -9.2l-20.6 3.9zM859.9 515.6l15.9 -5.9l0.7 -9.3l-16 6zM875.8 509.7l9.9 -7.3l0.9 -9.4l-10.1 7.4zM885.7 502.4l3 -8.1l1 -9.5l-3.1 8.2zM744.3 487.6l-3 8.1l-1 -9.5l3.1 -8.2zM741.3 495.7l4.2 8l-0.9 -9.4l-4.3 -8.1zM745.5 503.7l11 7.1l-0.7 -9.3l-11.2 -7.2z"/>
<path fill="#dfff20" d="M755.8 501.5l16.9 5.7l0.5 -9.8l-16.7 -5.6zM772.7 507.2l21.1 3.5l0.3 -9.8l-20.9 -3.5zM793.8 510.7l23.2 1.1l-0.1 -9.8l-22.8 -1.1zM817 511.8l22.9 -1.5l-0.3 -9.8l-22.7 1.5zM839.9 510.3l20.6 -3.9l-0.6 -9.8l-20.3 3.9zM860.5 506.4l16 -6l-0.7 -9.7l-15.9 5.9zM876.5 500.4l10.1 -7.4l-0.9 -9.6l-9.9 7.3zM886.6 493l3.1 -8.2l-1 -9.5l-3 8.1zM889.7 484.8l-4.3 -8.1l-0.9 -9.4l4.2 8zM743.4 478l-3.1 8.2l1 -9.5l3 -8.1zM740.3 486.2l4.3 8.1l0.9 -9.6l-4.2 -8zM744.6 494.3l11.2 7.2l0.7 -9.7l-11 -7.1z"/>
<path fill="#ffff00" d="M756.5 491.8l16.7 5.6l1.6 -10.1l-16.2 -5.3zM773.2 497.4l20.9 3.5l0.7 -10.2l-20 -3.4zM794.1 500.9l22.8 1.1l0 -10.3l-22.1 -1zM816.9 502l22.7 -1.5l-0.9 -10.2l-21.8 1.4zM839.6 500.5l20.3 -3.9l-1.7 -10l-19.5 3.7zM859.9 496.6l15.9 -5.9l-2.3 -9.8l-15.3 5.7zM875.8 490.7l9.9 -7.3l-2.6 -9.6l-9.6 7.1zM885.7 483.4l3 -8.1l-2.7 -9.2l-2.9 7.7zM888.7 475.3l-4.2 -8l-2.5 -8.9l4 7.7zM744.3 468.6l-3 8.1l2.7 -9.3l2.9 -7.8zM741.3 476.7l4.2 8l2.5 -9.6l-4 -7.7zM745.5 484.7l11 7.1l2.1 -9.8l-10.6 -6.9z"/>
<path fill="#ffef00" d="M758.6 482l16.2 5.3l2.5 -10.1l-15.1 -5zM774.8 487.3l20 3.4l1.3 -10.3l-18.8 -3.2zM794.8 490.7l22.1 1l-0.2 -10.3l-20.6 -1zM816.9 491.7l21.8 -1.4l-1.5 -10.3l-20.5 1.4zM838.7 490.3l19.5 -3.7l-2.7 -10.1l-18.3 3.5zM858.2 486.6l15.3 -5.7l-3.7 -9.7l-14.3 5.3zM873.5 480.9l9.6 -7.1l-4.3 -9.2l-9 6.6zM883.1 473.8l2.9 -7.7l-4.5 -8.8l-2.7 7.3zM886 466.1l-4 -7.7l-4.3 -8.3l3.8 7.2zM746.9 459.6l-2.9 7.8l4.5 -8.8l2.7 -7.3zM744 467.4l4 7.7l4.3 -9.3l-3.8 -7.2zM748 475.1l10.6 6.9l3.6 -9.8l-9.9 -6.4z"/>
<path fill="#ffdf00" d="M762.2 472.2l15.1 5l3.5 -9.9l-13.7 -4.5zM777.3 477.2l18.8 3.2l1.7 -10.2l-17 -2.9zM796.1 480.4l20.6 1l-0.1 -10.3l-18.8 -0.9zM816.7 481.4l20.5 -1.4l-2 -10.1l-18.6 1.2zM837.2 480l18.3 -3.5l-3.7 -9.8l-16.6 3.2zM855.5 476.5l14.3 -5.3l-5 -9.3l-13 4.8zM869.8 471.2l9 -6.6l-5.9 -8.7l-8.1 6zM878.8 464.6l2.7 -7.3l-6.1 -8l-2.5 6.6zM881.5 457.3l-3.8 -7.2l-5.7 -7.4l3.4 6.6zM877.7 450.1l-9.9 -6.4l-4.9 -6.8l9.1 5.8zM760.2 444.7l-9 6.6l5.9 -7.5l8.1 -6zM751.2 451.3l-2.7 7.3l6.1 -8.2l2.5 -6.6zM748.5 458.6l3.8 7.2l5.7 -8.9l-3.4 -6.5zM752.3 465.8l9.9 6.4l4.9 -9.4l-9.1 -5.9z"/>
<path fill="#ffcf00" d="M767.1 462.8l13.7 4.5l4.3 -9.4l-12 -4zM780.8 467.3l17 2.9l2.2 -9.8l-14.9 -2.5zM797.8 470.2l18.8 0.9l-0.2 -9.9l-16.4 -0.8zM816.6 471.1l18.6 -1.2l-2.6 -9.8l-16.2 1.1zM835.2 469.9l16.6 -3.2l-4.7 -9.4l-14.5 2.8zM851.8 466.7l13 -4.8l-6.3 -8.8l-11.4 4.2zM864.8 461.9l8.1 -6l-7.3 -8l-7.1 5.2zM872.9 455.9l2.5 -6.6l-7.6 -7.2l-2.2 5.8zM875.4 449.3l-3.4 -6.6l-7.2 -6.3l3 5.7zM872 442.7l-9.1 -5.8l-6 -5.6l7.9 5.1zM765.2 437.8l-8.1 6l7.3 -6.5l7.1 -5.2zM757.1 443.8l-2.5 6.6l7.6 -7.3l2.2 -5.8zM754.6 450.4l3.4 6.5l7.2 -8.1l-3 -5.7zM758 456.9l9.1 5.9l6 -8.9l-7.9 -5.1z"/>
<path fill="#ffbf00" d="M773.1 453.9l12 4l5 -8.8l-9.9 -3.3zM785.1 457.9l14.9 2.5l2.5 -9.2l-12.4 -2.1zM800 460.4l16.4 0.8l-0.3 -9.4l-13.6 -0.6zM816.4 461.2l16.2 -1.1l-2.9 -9.1l-13.6 0.8zM832.6 460.1l14.5 -2.8l-5.4 -8.6l-12 2.3zM847.1 457.3l11.4 -4.2l-7.3 -8l-9.5 3.6zM858.5 453.1l7.1 -5.2l-8.5 -7.1l-5.9 4.3zM865.6 447.9l2.2 -5.8l-8.9 -6.1l-1.8 4.8zM867.8 442.1l-3 -5.7l-8.4 -5.2l2.5 4.8zM864.8 436.4l-7.9 -5.1l-7.1 -4.3l6.6 4.2zM856.9 431.3l-12 -4l-5 -3.6l9.9 3.3zM782.9 427.8l-11.4 4.3l7.3 -4.5l9.5 -3.5zM771.5 432.1l-7.1 5.2l8.5 -5.3l5.9 -4.4zM764.4 437.3l-2.2 5.8l8.9 -6.3l1.8 -4.8zM762.2 443.1l3 5.7l8.4 -7.3l-2.5 -4.7zM765.2 448.8l7.9 5.1l7.1 -8.1l-6.6 -4.3z"/>
<path fill="#ffaf00" d="M780.2 445.8l9.9 3.3l5.7 -7.8l-7.7 -2.6zM790.1 449.1l12.4 2.1l2.9 -8.3l-9.6 -1.6zM802.5 451.2l13.6 0.6l-0.2 -8.5l-10.5 -0.4zM816.1 451.8l13.6 -0.8l-3.4 -8.3l-10.4 0.6zM829.7 451l12 -2.3l-6.1 -7.8l-9.3 1.8zM841.7 448.7l9.5 -3.6l-8.3 -6.9l-7.3 2.7zM851.2 445.1l5.9 -4.3l-9.6 -6l-4.6 3.4zM857.1 440.8l1.8 -4.8l-10 -4.9l-1.4 3.7zM858.9 436l-2.5 -4.8l-9.4 -3.8l1.9 3.7zM856.4 431.2l-6.6 -4.2l-7.9 -2.8l5.1 3.2zM849.8 427l-9.9 -3.3l-5.7 -2.1l7.7 2.6zM839.9 423.7l-12.4 -2.1l-2.9 -1.6l9.6 1.6zM800.3 421.8l-12 2.3l6.1 -2.2l9.3 -1.7zM788.3 424.1l-9.5 3.5l8.3 -2.9l7.3 -2.8zM778.8 427.6l-5.9 4.4l9.6 -4l4.6 -3.3zM772.9 432l-1.8 4.8l10 -5.1l1.4 -3.7zM771.1 436.8l2.5 4.7l9.4 -6.1l-1.9 -3.7zM773.6 441.5l6.6 4.3l7.9 -7.1l-5.1 -3.3z"/>
<path fill="#ffaf00" d="M788.1 438.7l7.7 2.6l6.1 -6.8l-5.2 -1.8zM795.8 441.3l9.6 1.6l3 -7.3l-6.5 -1.1zM805.4 442.9l10.5 0.4l-0.3 -7.4l-7.2 -0.3zM815.9 443.3l10.4 -0.6l-3.6 -7.3l-7.1 0.5zM826.3 442.7l9.3 -1.8l-6.6 -6.7l-6.3 1.2zM835.6 440.9l7.3 -2.7l-8.9 -5.8l-5 1.8zM842.9 438.2l4.6 -3.4l-10.4 -4.7l-3.1 2.3zM847.5 434.8l1.4 -3.7l-10.8 -3.5l-1 2.5zM848.9 431.1l-1.9 -3.7l-10.2 -2.3l1.3 2.5zM847 427.4l-5.1 -3.2l-8.6 -1.4l3.5 2.3zM841.9 424.2l-7.7 -2.6l-6.1 -0.5l5.2 1.7zM834.2 421.6l-9.6 -1.6l-3 0l6.5 1.1zM824.6 420l-10.5 -0.5l0.3 0.2l7.2 0.3zM814.1 419.5l-10.4 0.7l3.6 -0.1l7.1 -0.4zM803.7 420.2l-9.3 1.7l6.6 -0.6l6.3 -1.2zM794.4 421.9l-7.3 2.8l8.9 -1.5l5 -1.9zM787.1 424.7l-4.6 3.3l10.4 -2.5l3.1 -2.3zM782.5 428l-1.4 3.7l10.8 -3.7l1 -2.5zM781.1 431.7l1.9 3.7l10.2 -4.9l-1.3 -2.5zM783 435.4l5.1 3.3l8.6 -6l-3.5 -2.2z"/>
<path fill="#ff9f00" d="M796.7 432.7l5.2 1.8l6.5 -5.6l-2.7 -0.8zM801.9 434.5l6.5 1.1l3.3 -6.1l-3.3 -0.6zM808.4 435.6l7.2 0.3l-0.3 -6.2l-3.6 -0.2zM815.6 435.9l7.1 -0.5l-3.8 -6l-3.6 0.3zM822.7 435.4l6.3 -1.2l-6.9 -5.4l-3.2 0.6zM829 434.2l5 -1.8l-9.4 -4.5l-2.5 0.9zM834 432.4l3.1 -2.3l-10.9 -3.4l-1.6 1.2zM837.1 430.1l1 -2.5l-11.4 -2.2l-0.5 1.3zM838.1 427.6l-1.3 -2.5l-10.8 -0.9l0.7 1.2zM836.8 425.1l-3.5 -2.3l-9 0.2l1.7 1.2zM833.3 422.8l-5.2 -1.7l-6.5 1.1l2.7 0.8zM828.1 421.1l-6.5 -1.1l-3.3 1.6l3.3 0.6zM821.6 420l-7.2 -0.3l0.3 1.7l3.6 0.2zM814.4 419.7l-7.1 0.4l3.8 1.6l3.6 -0.3zM807.3 420.1l-6.3 1.2l6.9 1l3.2 -0.6zM801 421.3l-5 1.9l9.4 0l2.5 -0.9zM796 423.2l-3.1 2.3l10.9 -1.1l1.6 -1.2zM792.9 425.5l-1 2.5l11.4 -2.3l0.5 -1.3zM791.9 428l1.3 2.5l10.8 -3.6l-0.7 -1.2zM793.2 430.5l3.5 2.2l9 -4.6l-1.7 -1.2z"/>
<path fill="#ff9f00" d="M805.7 428.1l2.7 0.8l6.6 -4.1zM808.4 428.9l3.3 0.6l3.3 -4.7zM811.7 429.5l3.6 0.2l-0.3 -4.9zM815.3 429.7l3.6 -0.3l-3.9 -4.6zM818.9 429.4l3.2 -0.6l-7.1 -4zM822.1 428.8l2.5 -0.9l-9.6 -3.1zM824.6 427.9l1.6 -1.2l-11.2 -1.9zM826.2 426.7l0.5 -1.3l-11.7 -0.6zM826.7 425.4l-0.7 -1.2l-11 0.6zM826 424.2l-1.7 -1.2l-9.3 1.8zM824.3 423l-2.7 -0.8l-6.6 2.6zM821.6 422.2l-3.3 -0.6l-3.3 3.2zM818.3 421.6l-3.6 -0.2l0.3 3.4zM814.7 421.4l-3.6 0.3l3.9 3.1zM811.1 421.7l-3.2 0.6l7.1 2.5zM807.9 422.3l-2.5 0.9l9.6 1.6zM805.4 423.2l-1.6 1.2l11.2 0.4zM803.8 424.4l-0.5 1.3l11.7 -0.9zM803.3 425.7l0.7 1.2l11 -2.1zM804 426.9l1.7 1.2l9.3 -3.3z"/></g>
<g class="s"><path fill="#ffbf00" d="M896.6 420.4l5.2 1.7l-6.1 -0.5l-7.7 -2.6zM901.8 422.1l6.5 1.1l-3 0l-9.6 -1.6zM908.3 423.2l7.2 0.3l0.3 0.2l-10.5 -0.5zM915.5 423.5l7.1 -0.4l3.6 -0.1l-10.4 0.7zM922.6 423.1l6.3 -1.2l6.6 -0.6l-9.3 1.7z"/>
<path fill="#ffaf00" d="M888 419l7.7 2.6l-5.7 -2.1l-9.9 -3.3zM895.7 421.6l9.6 1.6l-2.9 -1.6l-12.4 -2.1zM905.3 423.2l10.5 0.5l0.2 -1.4l-13.6 -0.7zM915.8 423.7l10.4 -0.7l3.4 -1.6l-13.6 0.9zM926.2 423l9.3 -1.7l6.1 -2.2l-12 2.3zM935.5 421.3l7.3 -2.8l8.3 -2.9l-9.5 3.5zM942.8 418.5l4.6 -3.3l9.6 -4l-5.9 4.4zM882.9 415.8l5.1 3.2l-7.9 -2.8l-6.6 -4.2z"/>
<path fill="#ffaf00" d="M880.1 416.2l9.9 3.3l-5 -3.6l-12 -4zM890 419.5l12.4 2.1l-2.5 -3.2l-14.9 -2.5zM902.4 421.6l13.6 0.7l0.3 -3.1l-16.4 -0.8zM916 422.3l13.6 -0.9l2.9 -3.3l-16.2 1.1zM929.6 421.4l12 -2.3l5.4 -3.7l-14.5 2.7zM941.6 419.1l9.5 -3.5l7.3 -4.5l-11.4 4.3zM951.1 415.6l5.9 -4.4l8.5 -5.3l-7.1 5.2zM873.5 412l6.6 4.2l-7.1 -4.3l-7.9 -5.1z"/>
<path fill="#ff9f00" d="M873 411.9l12 4l-4.3 -5l-13.7 -4.6zM885 415.9l14.9 2.5l-2.2 -4.6l-17 -2.9zM899.9 418.4l16.4 0.8l0.2 -4.6l-18.8 -0.8zM916.3 419.2l16.2 -1.1l2.6 -4.7l-18.6 1.2zM932.5 418.1l14.5 -2.7l4.7 -5.2l-16.6 3.2zM947 415.4l11.4 -4.3l6.3 -5.7l-13 4.8zM958.4 411.1l7.1 -5.2l7.3 -6.5l-8.1 6zM862.1 401.1l3 5.7l-7.2 -6.3l-3.4 -6.6zM865.1 406.8l7.9 5.1l-6 -5.6l-9.1 -5.8z"/>
<path fill="#ff8f00" d="M867 406.3l13.7 4.6l-3.5 -6.3l-15.1 -5.1zM880.7 410.9l17 2.9l-1.7 -6.1l-18.8 -3.1zM897.7 413.8l18.8 0.8l0.1 -5.9l-20.6 -1zM916.5 414.6l18.6 -1.2l2 -6.1l-20.5 1.4zM935.1 413.4l16.6 -3.2l3.7 -6.4l-18.3 3.5zM951.7 410.2l13 -4.8l5 -6.9l-14.3 5.3zM964.7 405.4l8.1 -6l5.9 -7.5l-9 6.6zM972.8 399.4l2.5 -6.6l6.1 -8.2l-2.7 7.3zM854.5 393.9l3.4 6.6l-5.7 -7.4l-3.8 -7.2zM857.9 400.5l9.1 5.8l-4.9 -6.8l-9.9 -6.4z"/>
<path fill="#ff8000" d="M862.1 399.5l15.1 5.1l-2.5 -7.5l-16.2 -5.4zM877.2 404.6l18.8 3.1l-1.3 -7.3l-20 -3.3zM896 407.7l20.6 1l0.2 -7.3l-22.1 -1zM916.6 408.7l20.5 -1.4l1.5 -7.3l-21.8 1.4zM937.1 407.3l18.3 -3.5l2.7 -7.5l-19.5 3.7zM955.4 403.8l14.3 -5.3l3.7 -7.9l-15.3 5.7zM969.7 398.5l9 -6.6l4.3 -8.3l-9.6 7zM978.7 391.9l2.7 -7.3l4.5 -8.8l-2.9 7.8zM848.4 385.9l3.8 7.2l-4.3 -8.3l-4 -7.7zM852.2 393.1l9.9 6.4l-3.6 -7.8l-10.6 -6.9z"/>
<path fill="#ff7000" d="M858.5 391.7l16.2 5.4l-1.6 -8.5l-16.7 -5.6zM874.7 397.1l20 3.3l-0.7 -8.3l-20.9 -3.5zM894.7 400.4l22.1 1l0 -8.3l-22.8 -1zM916.8 401.4l21.8 -1.4l0.9 -8.3l-22.7 1.4zM938.6 400l19.5 -3.7l1.7 -8.5l-20.3 3.9zM958.1 396.3l15.3 -5.7l2.3 -8.7l-15.9 5.9zM973.4 390.6l9.6 -7l2.6 -9l-9.9 7.3zM983 383.6l2.9 -7.8l2.7 -9.3l-3 8.1zM843.9 377.1l4 7.7l-2.5 -8.9l-4.2 -8zM847.9 384.8l10.6 6.9l-2.1 -8.7l-11 -7.1z"/>
<path fill="#ff6000" d="M856.4 383l16.7 5.6l-0.5 -9.2l-17 -5.7zM873.1 388.6l20.9 3.5l-0.3 -9.2l-21.1 -3.5zM894 392.1l22.8 1l0.1 -9.1l-23.2 -1.1zM916.8 393.1l22.7 -1.4l0.3 -9.2l-22.9 1.5zM939.5 391.7l20.3 -3.9l0.6 -9.2l-20.6 3.9zM959.8 387.8l15.9 -5.9l0.7 -9.3l-16 6zM975.7 381.9l9.9 -7.3l0.9 -9.4l-10.1 7.4zM985.6 374.6l3 -8.1l1 -9.5l-3.1 8.2zM844.2 359.8l-3 8.1l-1 -9.5l3.1 -8.2zM841.2 367.9l4.2 8l-0.9 -9.4l-4.3 -8.1zM845.4 375.9l11 7.1l-0.8 -9.3l-11.1 -7.2z"/>
<path fill="#ff5000" d="M855.7 373.7l17 5.7l0.5 -9.8l-16.7 -5.6zM872.6 379.4l21.1 3.5l0.3 -9.8l-20.9 -3.5zM893.7 382.9l23.2 1.1l-0.1 -9.8l-22.8 -1.1zM916.9 384l22.9 -1.5l-0.3 -9.8l-22.7 1.5zM939.8 382.5l20.6 -3.9l-0.6 -9.8l-20.3 3.9zM960.4 378.6l16 -6l-0.7 -9.7l-15.9 5.9zM976.4 372.6l10.1 -7.4l-0.9 -9.6l-9.9 7.3zM986.5 365.2l3.1 -8.2l-1 -9.5l-3 8.1zM989.6 357l-4.3 -8.1l-0.9 -9.4l4.2 8zM843.3 350.2l-3.1 8.2l1 -9.5l3 -8.1zM840.2 358.4l4.3 8.1l0.9 -9.6l-4.2 -8zM844.5 366.5l11.1 7.2l0.8 -9.7l-11 -7.1z"/>
<path fill="#ff3000" d="M856.4 364l16.7 5.6l1.6 -10.1l-16.2 -5.3zM873.1 369.6l20.9 3.5l0.7 -10.2l-20 -3.4zM894 373.1l22.8 1.1l0 -10.3l-22.1 -1zM916.8 374.2l22.7 -1.5l-0.9 -10.2l-21.8 1.4zM939.5 372.7l20.3 -3.9l-1.7 -10l-19.5 3.7zM959.8 368.8l15.9 -5.9l-2.3 -9.8l-15.3 5.7zM975.7 362.9l9.9 -7.3l-2.6 -9.6l-9.6 7.1zM985.6 355.6l3 -8.1l-2.7 -9.2l-2.9 7.7zM988.6 347.5l-4.2 -8l-2.5 -8.9l4 7.7zM844.2 340.8l-3 8.1l2.7 -9.3l2.9 -7.8zM841.2 348.9l4.2 8l2.5 -9.6l-4 -7.7zM845.4 356.9l11 7.1l2.1 -9.8l-10.6 -6.9z"/>
<path fill="#ff2000" d="M858.5 354.2l16.2 5.3l2.5 -10.1l-15.1 -5zM874.7 359.5l20 3.4l1.3 -10.3l-18.8 -3.2zM894.7 362.9l22.1 1l-0.2 -10.3l-20.6 -1zM916.8 363.9l21.8 -1.4l-1.5 -10.3l-20.5 1.4zM938.6 362.5l19.5 -3.7l-2.7 -10.1l-18.3 3.5zM958.1 358.8l15.3 -5.7l-3.7 -9.7l-14.3 5.3zM973.4 353.1l9.6 -7.1l-4.3 -9.2l-9 6.6zM983 346l2.9 -7.7l-4.5 -8.8l-2.7 7.3zM985.9 338.3l-4 -7.7l-4.3 -8.3l3.8 7.2zM846.8 331.8l-2.9 7.8l4.5 -8.8l2.7 -7.3zM843.9 339.6l4 7.7l4.3 -9.3l-3.8 -7.2zM847.9 347.3l10.6 6.9l3.6 -9.8l-9.9 -6.4z"/>
<path fill="#ff1000" d="M862.1 344.4l15.1 5l3.5 -9.9l-13.7 -4.5zM877.2 349.4l18.8 3.2l1.7 -10.2l-17 -2.9zM896 352.6l20.6 1l-0.1 -10.3l-18.8 -0.9zM916.6 353.6l20.5 -1.4l-2 -10.1l-18.6 1.2zM937.1 352.2l18.3 -3.5l-3.7 -9.8l-16.6 3.2zM955.4 348.7l14.3 -5.3l-5 -9.3l-13 4.8zM969.7 343.4l9 -6.6l-5.9 -8.7l-8.1 6zM978.7 336.8l2.7 -7.3l-6.1 -8l-2.5 6.6zM981.4 329.5l-3.8 -7.2l-5.7 -7.4l3.4 6.6zM977.6 322.3l-9.9 -6.4l-4.9 -6.8l9.1 5.8zM860.1 316.9l-9 6.6l5.9 -7.5l8.1 -6zM851.1 323.5l-2.7 7.3l6.1 -8.2l2.5 -6.6zM848.4 330.8l3.8 7.2l5.7 -8.9l-3.4 -6.5zM852.2 338l9.9 6.4l4.9 -9.4l-9.1 -5.9z"/>
<path fill="#ff0000" d="M867 335l13.7 4.5l4.3 -9.4l-12 -4zM880.7 339.5l17 2.9l2.2 -9.8l-14.9 -2.5zM897.7 342.4l18.8 0.9l-0.2 -9.9l-16.4 -0.8zM916.5 343.3l18.6 -1.2l-2.6 -9.8l-16.2 1.1zM935.1 342.1l16.6 -3.2l-4.7 -9.4l-14.5 2.8zM951.7 338.9l13 -4.8l-6.3 -8.8l-11.4 4.2zM964.7 334.1l8.1 -6l-7.3 -8l-7.1 5.2zM972.8 328.1l2.5 -6.6l-7.6 -7.2l-2.2 5.8zM975.3 321.5l-3.4 -6.6l-7.2 -6.3l3 5.7zM971.9 314.9l-9.1 -5.8l-6 -5.6l7.9 5.1zM865.1 310l-8.1 6l7.3 -6.5l7.1 -5.2zM857 316l-2.5 6.6l7.6 -7.3l2.2 -5.8zM854.5 322.6l3.4 6.5l7.2 -8.1l-3 -5.7zM857.9 329.1l9.1 5.9l6 -8.9l-7.9 -5.1z"/>
<path fill="#ef0000" d="M873 326.1l12 4l5 -8.8l-9.9 -3.3zM885 330.1l14.9 2.5l2.5 -9.2l-12.4 -2.1zM899.9 332.6l16.4 0.8l-0.3 -9.4l-13.6 -0.6zM916.3 333.4l16.2 -1.1l-2.9 -9.1l-13.6 0.8zM932.5 332.3l14.5 -2.8l-5.4 -8.6l-12 2.3zM947 329.5l11.4 -4.2l-7.3 -8l-9.5 3.6zM958.4 325.3l7.1 -5.2l-8.5 -7.1l-5.9 4.3zM965.5 320.1l2.2 -5.8l-8.9 -6.1l-1.8 4.8zM967.7 314.3l-3 -5.7l-8.4 -5.2l2.5 4.8zM964.7 308.6l-7.9 -5.1l-7.1 -4.3l6.6 4.2zM956.8 303.5l-12 -4l-5 -3.6l9.9 3.3zM882.8 300l-11.4 4.3l7.3 -4.5l9.5 -3.5zM871.4 304.3l-7.1 5.2l8.5 -5.3l5.9 -4.4zM864.3 309.5l-2.2 5.8l8.9 -6.3l1.8 -4.8zM862.1 315.3l3 5.7l8.4 -7.3l-2.5 -4.7zM865.1 321l7.9 5.1l7.1 -8.1l-6.6 -4.3z"/>
<path fill="#df0000" d="M880.1 318l9.9 3.3l5.7 -7.8l-7.7 -2.6zM890 321.3l12.4 2.1l2.9 -8.3l-9.6 -1.6zM902.4 323.4l13.6 0.6l-0.2 -8.5l-10.5 -0.4zM916 324l13.6 -0.8l-3.4 -8.3l-10.4 0.6zM929.6 323.2l12 -2.3l-6.1 -7.8l-9.3 1.8zM941.6 320.9l9.5 -3.6l-8.3 -6.9l-7.3 2.7zM951.1 317.3l5.9 -4.3l-9.6 -6l-4.6 3.4zM957 313l1.8 -4.8l-10 -4.9l-1.4 3.7zM958.8 308.2l-2.5 -4.8l-9.4 -3.8l1.9 3.7zM956.3 303.4l-6.6 -4.2l-7.9 -2.8l5.1 3.2zM949.7 299.2l-9.9 -3.3l-5.7 -2.1l7.7 2.6zM939.8 295.9l-12.4 -2.1l-2.9 -1.6l9.6 1.6zM900.2 294l-12 2.3l6.1 -2.2l9.3 -1.7zM888.2 296.3l-9.5 3.5l8.3 -2.9l7.3 -2.8zM878.7 299.8l-5.9 4.4l9.6 -4l4.6 -3.3zM872.8 304.2l-1.8 4.8l10 -5.1l1.4 -3.7zM871 309l2.5 4.7l9.4 -6.1l-1.9 -3.7zM873.5 313.7l6.6 4.3l7.9 -7.1l-5.1 -3.3z"/>
<path fill="#df0000" d="M888 310.9l7.7 2.6l6.1 -6.8l-5.2 -1.8zM895.7 313.5l9.6 1.6l3 -7.3l-6.5 -1.1zM905.3 315.1l10.5 0.4l-0.3 -7.4l-7.2 -0.3zM915.8 315.5l10.4 -0.6l-3.6 -7.3l-7.1 0.5zM926.2 314.9l9.3 -1.8l-6.6 -6.7l-6.3 1.2zM935.5 313.1l7.3 -2.7l-8.9 -5.8l-5 1.8zM942.8 310.4l4.6 -3.4l-10.4 -4.7l-3.1 2.3zM947.4 307l1.4 -3.7l-10.8 -3.5l-1 2.5zM948.8 303.3l-1.9 -3.7l-10.2 -2.3l1.3 2.5zM946.9 299.6l-5.1 -3.2l-8.6 -1.4l3.5 2.3zM941.8 296.4l-7.7 -2.6l-6.1 -0.5l5.2 1.7zM934.1 293.8l-9.6 -1.6l-3 0l6.5 1.1zM924.5 292.2l-10.5 -0.5l0.3 0.2l7.2 0.3zM914 291.7l-10.4 0.7l3.6 -0.1l7.1 -0.4zM903.6 292.4l-9.3 1.7l6.6 -0.6l6.3 -1.2zM894.3 294.1l-7.3 2.8l8.9 -1.5l5 -1.9zM887 296.9l-4.6 3.3l10.4 -2.5l3.1 -2.3zM882.4 300.2l-1.4 3.7l10.8 -3.7l1 -2.5zM881 303.9l1.9 3.7l10.2 -4.9l-1.3 -2.5zM882.9 307.6l5.1 3.3l8.6 -6l-3.5 -2.2z"/>
<path fill="#cf0000" d="M896.6 304.9l5.2 1.8l6.5 -5.6l-2.7 -0.8zM901.8 306.7l6.5 1.1l3.3 -6.1l-3.3 -0.6zM908.3 307.8l7.2 0.3l-0.3 -6.2l-3.6 -0.2zM915.5 308.1l7.1 -0.5l-3.8 -6l-3.6 0.3zM922.6 307.6l6.3 -1.2l-6.9 -5.4l-3.2 0.6zM928.9 306.4l5 -1.8l-9.4 -4.5l-2.5 0.9zM933.9 304.6l3.1 -2.3l-10.9 -3.4l-1.6 1.2zM937 302.3l1 -2.5l-11.4 -2.2l-0.5 1.3zM938 299.8l-1.3 -2.5l-10.8 -0.9l0.7 1.2zM936.7 297.3l-3.5 -2.3l-9 0.2l1.7 1.2zM933.2 295l-5.2 -1.7l-6.5 1.1l2.7 0.8zM928 293.3l-6.5 -1.1l-3.3 1.6l3.3 0.6zM921.5 292.2l-7.2 -0.3l0.3 1.7l3.6 0.2zM914.3 291.9l-7.1 0.4l3.8 1.6l3.6 -0.3zM907.2 292.3l-6.3 1.2l6.9 1l3.2 -0.6zM900.9 293.5l-5 1.9l9.4 0l2.5 -0.9zM895.9 295.4l-3.1 2.3l10.9 -1.1l1.6 -1.2zM892.8 297.7l-1 2.5l11.4 -2.3l0.5 -1.3zM891.8 300.2l1.3 2.5l10.8 -3.6l-0.7 -1.2zM893.1 302.7l3.5 2.2l9 -4.6l-1.7 -1.2z"/>
<path fill="#cf0000" d="M905.6 300.3l2.7 0.8l6.6 -4.1zM908.3 301.1l3.3 0.6l3.3 -4.7zM911.6 301.7l3.6 0.2l-0.3 -4.9zM915.2 301.9l3.6 -0.3l-3.9 -4.6zM918.8 301.6l3.2 -0.6l-7.1 -4zM922 301l2.5 -0.9l-9.6 -3.1zM924.5 300.1l1.6 -1.2l-11.2 -1.9zM926.1 298.9l0.5 -1.3l-11.7 -0.6zM926.6 297.6l-0.7 -1.2l-11 0.6zM925.9 296.4l-1.7 -1.2l-9.3 1.8zM924.2 295.2l-2.7 -0.8l-6.6 2.6zM921.5 294.4l-3.3 -0.6l-3.3 3.2zM918.2 293.8l-3.6 -0.2l0.3 3.4zM914.6 293.6l-3.6 0.3l3.9 3.1zM911 293.9l-3.2 0.6l7.1 2.5zM907.8 294.5l-2.5 0.9l9.6 1.6zM905.3 295.4l-1.6 1.2l11.2 0.4zM903.7 296.6l-0.5 1.3l11.7 -0.9zM903.2 297.9l0.7 1.2l11 -2.1zM903.9 299.1l1.7 1.2l9.3 -3.3z"/></g>
<g class="s"><path fill="#0070ff" d="M867.8 726.7l3.5 1.1l-4.1 -0.3l-5.1 -1.7zM871.3 727.8l4.3 0.8l-2 0l-6.4 -1.1zM875.6 728.6l4.8 0.2l0.2 0.1l-7 -0.3zM880.4 728.8l4.7 -0.3l2.4 0l-6.9 0.4zM885.1 728.5l4.3 -0.8l4.4 -0.4l-6.3 1.2z"/>
<path fill="#0080ff" d="M862.1 725.8l5.1 1.7l-3.8 -1.4l-6.6 -2.2zM867.2 727.5l6.4 1.1l-1.9 -1.1l-8.3 -1.4zM873.6 728.6l7 0.3l0.2 -1l-9.1 -0.4zM880.6 728.9l6.9 -0.4l2.3 -1.2l-9 0.6zM887.5 728.5l6.3 -1.2l4 -1.5l-8 1.5zM893.8 727.3l4.8 -1.8l5.5 -2l-6.3 2.3zM898.6 725.5l3.1 -2.3l6.4 -2.6l-4 2.9zM858.7 723.6l3.4 2.2l-5.3 -1.9l-4.4 -2.8z"/>
<path fill="#0080ff" d="M856.8 723.9l6.6 2.2l-3.3 -2.4l-8 -2.6zM863.4 726.1l8.3 1.4l-1.7 -2.1l-9.9 -1.7zM871.7 727.5l9.1 0.4l0.1 -2l-10.9 -0.5zM880.8 727.9l9 -0.6l2 -2.1l-10.9 0.7zM889.8 727.3l8 -1.5l3.6 -2.5l-9.6 1.9zM897.8 725.8l6.3 -2.3l4.9 -3l-7.6 2.8zM904.1 723.5l4 -2.9l5.7 -3.6l-4.8 3.5zM852.4 721.1l4.4 2.8l-4.7 -2.8l-5.3 -3.5z"/>
<path fill="#008fff" d="M852.1 721.1l8 2.6l-2.9 -3.3l-9.2 -3.1zM860.1 723.7l9.9 1.7l-1.4 -3.1l-11.4 -1.9zM870 725.4l10.9 0.5l0.2 -3l-12.5 -0.6zM880.9 725.9l10.9 -0.7l1.6 -3.2l-12.3 0.9zM891.8 725.2l9.6 -1.9l3.1 -3.4l-11.1 2.1zM901.4 723.3l7.6 -2.8l4.2 -3.8l-8.7 3.2zM909 720.5l4.8 -3.5l4.8 -4.3l-5.4 4zM844.8 713.8l2 3.8l-4.8 -4.2l-2.3 -4.3zM846.8 717.6l5.3 3.5l-4.1 -3.8l-6 -3.9z"/>
<path fill="#008fff" d="M848 717.3l9.2 3.1l-2.3 -4.3l-10.1 -3.3zM857.2 720.4l11.4 1.9l-1.2 -4.1l-12.5 -2.1zM868.6 722.3l12.5 0.6l0.1 -4l-13.8 -0.7zM881.1 722.9l12.3 -0.9l1.4 -4l-13.6 0.9zM893.4 722l11.1 -2.1l2.5 -4.2l-12.2 2.3zM904.5 719.9l8.7 -3.2l3.4 -4.6l-9.6 3.6zM913.2 716.7l5.4 -4l3.9 -5l-5.9 4.4zM918.6 712.7l1.7 -4.4l4 -5.4l-1.8 4.8zM839.7 709.1l2.3 4.3l-3.8 -4.9l-2.5 -4.8zM842 713.4l6 3.9l-3.2 -4.5l-6.6 -4.3z"/>
<path fill="#009fff" d="M844.8 712.8l10.1 3.3l-1.7 -5l-10.8 -3.6zM854.9 716.1l12.5 2.1l-0.8 -4.8l-13.4 -2.3zM867.4 718.2l13.8 0.7l0 -4.8l-14.6 -0.7zM881.2 718.9l13.6 -0.9l1 -4.9l-14.6 1zM894.8 718l12.2 -2.3l1.8 -5.1l-13 2.5zM907 715.7l9.6 -3.6l2.4 -5.3l-10.2 3.8zM916.6 712.1l5.9 -4.4l2.9 -5.6l-6.4 4.7zM922.5 707.7l1.8 -4.8l3 -5.9l-1.9 5.1zM835.7 703.7l2.5 4.8l-2.8 -5.5l-2.7 -5.2zM838.2 708.5l6.6 4.3l-2.4 -5.3l-7 -4.5z"/>
<path fill="#00afff" d="M842.4 707.5l10.8 3.6l-1.1 -5.6l-11.1 -3.7zM853.2 711.1l13.4 2.3l-0.6 -5.6l-13.9 -2.3zM866.6 713.4l14.6 0.7l0.1 -5.6l-15.3 -0.7zM881.2 714.1l14.6 -1l0.6 -5.6l-15.1 1zM895.8 713.1l13 -2.5l1.1 -5.6l-13.5 2.5zM908.8 710.6l10.2 -3.8l1.5 -5.8l-10.6 4zM919 706.8l6.4 -4.7l1.8 -6l-6.7 4.9zM925.4 702.1l1.9 -5.1l1.9 -6.2l-2 5.3zM832.7 697.8l2.7 5.2l-1.8 -6l-2.8 -5.3zM835.4 703l7 4.5l-1.4 -5.7l-7.4 -4.8z"/>
<path fill="#00bfff" d="M841 701.8l11.1 3.7l-0.3 -6.2l-11.3 -3.7zM852.1 705.5l13.9 2.3l-0.1 -6.1l-14.1 -2.4zM866 707.8l15.3 0.7l0 -6.1l-15.4 -0.7zM881.3 708.5l15.1 -1l0.2 -6.1l-15.3 1zM896.4 707.5l13.5 -2.5l0.4 -6.2l-13.7 2.6zM909.9 705l10.6 -4l0.5 -6.2l-10.7 4zM920.5 701l6.7 -4.9l0.5 -6.2l-6.7 4.9zM927.2 696.1l2 -5.3l0.6 -6.4l-2.1 5.5zM832.8 686.3l-2 5.4l-0.6 -6.3l2.1 -5.5zM830.8 691.7l2.8 5.3l-0.5 -6.3l-2.9 -5.3zM833.6 697l7.4 4.8l-0.5 -6.2l-7.4 -4.9z"/>
<path fill="#00bfff" d="M840.5 695.6l11.3 3.7l0.3 -6.5l-11.1 -3.7zM851.8 699.3l14.1 2.4l0.1 -6.5l-13.9 -2.4zM865.9 701.7l15.4 0.7l0 -6.5l-15.3 -0.7zM881.3 702.4l15.3 -1l-0.2 -6.5l-15.1 1zM896.6 701.4l13.7 -2.6l-0.4 -6.5l-13.5 2.6zM910.3 698.8l10.7 -4l-0.5 -6.4l-10.6 3.9zM921 694.8l6.7 -4.9l-0.5 -6.4l-6.7 4.9zM927.7 689.9l2.1 -5.5l-0.6 -6.3l-2 5.4zM929.8 684.4l-2.9 -5.3l-0.5 -6.3l2.8 5.3zM832.3 679.9l-2.1 5.5l0.6 -6.4l2 -5.3zM830.2 685.4l2.9 5.3l0.5 -6.4l-2.8 -5.3zM833.1 690.7l7.4 4.9l0.5 -6.5l-7.4 -4.8z"/>
<path fill="#00cfff" d="M841 689.1l11.1 3.7l1.1 -6.7l-10.8 -3.6zM852.1 692.8l13.9 2.4l0.6 -6.8l-13.4 -2.3zM866 695.2l15.3 0.7l-0.1 -6.8l-14.6 -0.7zM881.3 695.9l15.1 -1l-0.6 -6.8l-14.6 1zM896.4 694.9l13.5 -2.6l-1.1 -6.7l-13 2.5zM909.9 692.3l10.6 -3.9l-1.5 -6.6l-10.2 3.8zM920.5 688.4l6.7 -4.9l-1.8 -6.4l-6.4 4.7zM927.2 683.5l2 -5.4l-1.9 -6.1l-1.9 5.1zM929.2 678.1l-2.8 -5.3l-1.8 -6l2.7 5.2zM832.8 673.7l-2 5.3l1.9 -6.2l1.9 -5.1zM830.8 679l2.8 5.3l1.8 -6.3l-2.7 -5.2zM833.6 684.3l7.4 4.8l1.4 -6.6l-7 -4.5z"/>
<path fill="#00dfff" d="M842.4 682.5l10.8 3.6l1.7 -6.7l-10.1 -3.4zM853.2 686.1l13.4 2.3l0.8 -6.9l-12.5 -2.1zM866.6 688.4l14.6 0.7l0 -7l-13.8 -0.6zM881.2 689.1l14.6 -1l-1 -6.9l-13.6 0.9zM895.8 688.1l13 -2.5l-1.8 -6.7l-12.2 2.3zM908.8 685.6l10.2 -3.8l-2.4 -6.4l-9.6 3.5zM919 681.8l6.4 -4.7l-2.9 -6.1l-5.9 4.4zM925.4 677.1l1.9 -5.1l-3 -5.9l-1.8 4.9zM927.3 672l-2.7 -5.2l-2.8 -5.5l2.5 4.8zM834.6 667.7l-1.9 5.1l3 -5.9l1.8 -4.8zM832.7 672.8l2.7 5.2l2.8 -6.3l-2.5 -4.8zM835.4 678l7 4.5l2.4 -6.5l-6.6 -4.3z"/>
<path fill="#00efff" d="M844.8 676l10.1 3.4l2.3 -6.6l-9.2 -3.1zM854.9 679.4l12.5 2.1l1.2 -6.8l-11.4 -1.9zM867.4 681.5l13.8 0.6l-0.1 -6.8l-12.5 -0.6zM881.2 682.1l13.6 -0.9l-1.4 -6.7l-12.3 0.8zM894.8 681.2l12.2 -2.3l-2.5 -6.5l-11.1 2.1zM907 678.9l9.6 -3.5l-3.4 -6.3l-8.7 3.3zM916.6 675.4l5.9 -4.4l-3.9 -5.9l-5.4 4zM922.5 671l1.8 -4.9l-4 -5.4l-1.7 4.4zM924.3 666.1l-2.5 -4.8l-3.8 -4.9l2.3 4.3zM921.8 661.3l-6.6 -4.3l-3.2 -4.5l6 3.9zM843.4 657.7l-5.9 4.4l3.9 -5l5.4 -4zM837.5 662.1l-1.8 4.8l4 -5.4l1.7 -4.4zM835.7 666.9l2.5 4.8l3.8 -5.9l-2.3 -4.3zM838.2 671.7l6.6 4.3l3.2 -6.3l-6 -3.9z"/>
<path fill="#00efff" d="M848 669.7l9.2 3.1l2.9 -6.3l-8 -2.7zM857.2 672.8l11.4 1.9l1.4 -6.5l-9.9 -1.7zM868.6 674.7l12.5 0.6l-0.2 -6.6l-10.9 -0.5zM881.1 675.3l12.3 -0.8l-1.6 -6.5l-10.9 0.7zM893.4 674.5l11.1 -2.1l-3.1 -6.3l-9.6 1.9zM904.5 672.4l8.7 -3.3l-4.2 -5.8l-7.6 2.8zM913.2 669.1l5.4 -4l-4.8 -5.3l-4.8 3.5zM918.6 665.1l1.7 -4.4l-5.1 -4.7l-1.4 3.8zM920.3 660.7l-2.3 -4.3l-4.8 -4.2l2 3.8zM918 656.4l-6 -3.9l-4.1 -3.8l5.3 3.5zM846.8 653.1l-5.4 4l4.8 -4.3l4.8 -3.5zM841.4 657.1l-1.7 4.4l5.1 -4.9l1.4 -3.8zM839.7 661.5l2.3 4.3l4.8 -5.4l-2 -3.8zM842 665.8l6 3.9l4.1 -5.9l-5.3 -3.4z"/>
<path fill="#00ffff" d="M852.1 663.8l8 2.7l3.3 -5.9l-6.6 -2.2zM860.1 666.5l9.9 1.7l1.7 -6.2l-8.3 -1.4zM870 668.2l10.9 0.5l-0.1 -6.2l-9.1 -0.5zM880.9 668.7l10.9 -0.7l-2 -6.1l-9 0.6zM891.8 668l9.6 -1.9l-3.6 -5.8l-8 1.6zM901.4 666.1l7.6 -2.8l-4.9 -5.3l-6.3 2.3zM909 663.3l4.8 -3.5l-5.7 -4.7l-4 2.9zM913.8 659.8l1.4 -3.8l-5.9 -4.1l-1.2 3.2zM915.2 656l-2 -3.8l-5.6 -3.5l1.7 3.2zM913.2 652.2l-5.3 -3.5l-4.7 -2.8l4.4 2.8zM907.9 648.7l-8 -2.6l-3.3 -2.4l6.6 2.2zM858.6 646.5l-7.6 2.8l4.9 -3l6.3 -2.3zM851 649.3l-4.8 3.5l5.7 -3.6l4 -2.9zM846.2 652.8l-1.4 3.8l5.9 -4.2l1.2 -3.2zM844.8 656.6l2 3.8l5.6 -4.8l-1.7 -3.2zM846.8 660.4l5.3 3.4l4.7 -5.4l-4.4 -2.8z"/>
<path fill="#00ffff" d="M856.8 658.4l6.6 2.2l3.8 -5.2l-5.1 -1.7zM863.4 660.6l8.3 1.4l1.9 -5.5l-6.4 -1.1zM871.7 662l9.1 0.5l-0.2 -5.7l-7 -0.3zM880.8 662.5l9 -0.6l-2.3 -5.6l-6.9 0.5zM889.8 661.9l8 -1.6l-4 -5.1l-6.3 1.1zM897.8 660.3l6.3 -2.3l-5.5 -4.6l-4.8 1.8zM904.1 658l4 -2.9l-6.4 -4l-3.1 2.3zM908.1 655.1l1.2 -3.2l-6.7 -3.3l-0.9 2.5zM909.3 651.9l-1.7 -3.2l-6.3 -2.5l1.3 2.4zM907.6 648.7l-4.4 -2.8l-5.3 -1.9l3.4 2.2zM903.2 645.9l-6.6 -2.2l-3.8 -1.4l5.1 1.7zM896.6 643.7l-8.3 -1.4l-1.9 -1.1l6.4 1.1zM870.2 642.5l-8 1.5l4 -1.5l6.3 -1.2zM862.2 644l-6.3 2.3l5.5 -2l4.8 -1.8zM855.9 646.3l-4 2.9l6.4 -2.6l3.1 -2.3zM851.9 649.2l-1.2 3.2l6.7 -3.3l0.9 -2.5zM850.7 652.4l1.7 3.2l6.3 -4.1l-1.3 -2.4zM852.4 655.6l4.4 2.8l5.3 -4.7l-3.4 -2.2z"/>
<path fill="#10ffef" d="M862.1 653.7l5.1 1.7l4.1 -4.5l-3.5 -1.2zM867.2 655.4l6.4 1.1l2 -4.9l-4.3 -0.7zM873.6 656.5l7 0.3l-0.2 -5l-4.8 -0.2zM880.6 656.8l6.9 -0.5l-2.4 -4.8l-4.7 0.3zM887.5 656.3l6.3 -1.1l-4.4 -4.5l-4.3 0.8zM893.8 655.2l4.8 -1.8l-5.9 -3.9l-3.3 1.2zM898.6 653.4l3.1 -2.3l-6.9 -3.1l-2.1 1.5zM901.7 651.1l0.9 -2.5l-7.2 -2.3l-0.6 1.7zM902.6 648.6l-1.3 -2.4l-6.8 -1.6l0.9 1.7zM901.3 646.2l-3.4 -2.2l-5.7 -0.9l2.3 1.5zM897.9 644l-5.1 -1.7l-4.1 -0.3l3.5 1.1zM892.8 642.3l-6.4 -1.1l-2 0l4.3 0.8zM886.4 641.2l-7 -0.3l0.2 0.1l4.8 0.2zM879.4 640.9l-6.9 0.4l2.4 0l4.7 -0.3zM872.5 641.3l-6.3 1.2l4.4 -0.4l4.3 -0.8zM866.2 642.5l-4.8 1.8l5.9 -1l3.3 -1.2zM861.4 644.3l-3.1 2.3l6.9 -1.7l2.1 -1.6zM858.3 646.6l-0.9 2.5l7.2 -2.5l0.6 -1.7zM857.4 649.1l1.3 2.4l6.8 -3.3l-0.9 -1.6zM858.7 651.5l3.4 2.2l5.7 -4l-2.3 -1.5z"/>
<path fill="#10ffef" d="M867.8 649.7l3.5 1.2l4.3 -3.7l-1.8 -0.6zM871.3 650.9l4.3 0.7l2.2 -4l-2.2 -0.4zM875.6 651.6l4.8 0.2l-0.2 -4.1l-2.4 -0.1zM880.4 651.8l4.7 -0.3l-2.5 -4l-2.4 0.2zM885.1 651.5l4.3 -0.8l-4.7 -3.6l-2.1 0.4zM889.4 650.7l3.3 -1.2l-6.3 -3l-1.7 0.6zM892.7 649.5l2.1 -1.5l-7.3 -2.3l-1.1 0.8zM894.8 648l0.6 -1.7l-7.6 -1.4l-0.3 0.8zM895.4 646.3l-0.9 -1.7l-7.2 -0.6l0.5 0.9zM894.5 644.6l-2.3 -1.5l-6 0.2l1.1 0.7zM892.2 643.1l-3.5 -1.1l-4.3 0.7l1.8 0.6zM888.7 642l-4.3 -0.8l-2.2 1.1l2.2 0.4zM884.4 641.2l-4.8 -0.2l0.2 1.2l2.4 0.1zM879.6 641l-4.7 0.3l2.5 1l2.4 -0.1zM874.9 641.3l-4.3 0.8l4.7 0.7l2.1 -0.5zM870.6 642.1l-3.3 1.2l6.3 0.1l1.7 -0.6zM867.3 643.3l-2.1 1.6l7.3 -0.7l1.1 -0.8zM865.2 644.9l-0.6 1.7l7.6 -1.6l0.3 -0.8zM864.6 646.6l0.9 1.6l7.2 -2.4l-0.5 -0.8zM865.5 648.2l2.3 1.5l6 -3.1l-1.1 -0.8z"/>
<path fill="#10ffef" d="M873.8 646.6l1.8 0.6l4.4 -2.8zM875.6 647.2l2.2 0.4l2.2 -3.2zM877.8 647.6l2.4 0.1l-0.2 -3.3zM880.2 647.7l2.4 -0.2l-2.6 -3.1zM882.6 647.5l2.1 -0.4l-4.7 -2.7zM884.7 647.1l1.7 -0.6l-6.4 -2.1zM886.4 646.5l1.1 -0.8l-7.5 -1.3zM887.5 645.7l0.3 -0.8l-7.8 -0.5zM887.8 644.9l-0.5 -0.9l-7.3 0.4zM887.3 644l-1.1 -0.7l-6.2 1.1zM886.2 643.3l-1.8 -0.6l-4.4 1.7zM884.4 642.7l-2.2 -0.4l-2.2 2.1zM882.2 642.3l-2.4 -0.1l0.2 2.2zM879.8 642.2l-2.4 0.1l2.6 2.1zM877.4 642.3l-2.1 0.5l4.7 1.6zM875.3 642.8l-1.7 0.6l6.4 1zM873.6 643.4l-1.1 0.8l7.5 0.2zM872.5 644.2l-0.3 0.8l7.8 -0.6zM872.2 645l0.5 0.8l7.3 -1.4zM872.7 645.8l1.1 0.8l6.2 -2.2z"/></g>
<g class="s"><path fill="#80ff80" d="M972 556.7l5.2 1.7l-6.1 -0.5l-7.7 -2.6zM977.2 558.4l6.5 1.1l-3 0l-9.6 -1.6zM983.7 559.5l7.2 0.3l0.3 0.2l-10.5 -0.5zM990.9 559.8l7.1 -0.4l3.6 -0.1l-10.4 0.7zM998 559.4l6.3 -1.2l6.6 -0.6l-9.3 1.7z"/>
<path fill="#8fff70" d="M963.4 555.3l7.7 2.6l-5.7 -2.1l-9.9 -3.3zM971.1 557.9l9.6 1.6l-2.9 -1.6l-12.4 -2.1zM980.7 559.5l10.5 0.5l0.2 -1.4l-13.6 -0.7zM991.2 560l10.4 -0.7l3.4 -1.6l-13.6 0.9zM1001.6 559.3l9.3 -1.7l6.1 -2.2l-12 2.3zM1010.9 557.6l7.3 -2.8l8.3 -2.9l-9.5 3.5zM1018.2 554.8l4.6 -3.3l9.6 -4l-5.9 4.4zM958.3 552.1l5.1 3.2l-7.9 -2.8l-6.6 -4.2z"/>
<path fill="#8fff70" d="M955.5 552.5l9.9 3.3l-5 -3.6l-12 -4zM965.4 555.8l12.4 2.1l-2.5 -3.2l-14.9 -2.5zM977.8 557.9l13.6 0.7l0.3 -3.1l-16.4 -0.8zM991.4 558.6l13.6 -0.9l2.9 -3.3l-16.2 1.1zM1005 557.7l12 -2.3l5.4 -3.7l-14.5 2.7zM1017 555.4l9.5 -3.5l7.3 -4.5l-11.4 4.3zM1026.5 551.9l5.9 -4.4l8.5 -5.3l-7.1 5.2zM948.9 548.3l6.6 4.2l-7.1 -4.3l-7.9 -5.1z"/>
<path fill="#9fff60" d="M948.4 548.2l12 4l-4.3 -5l-13.7 -4.6zM960.4 552.2l14.9 2.5l-2.2 -4.6l-17 -2.9zM975.3 554.7l16.4 0.8l0.2 -4.6l-18.8 -0.8zM991.7 555.5l16.2 -1.1l2.6 -4.7l-18.6 1.2zM1007.9 554.4l14.5 -2.7l4.7 -5.2l-16.6 3.2zM1022.4 551.7l11.4 -4.3l6.3 -5.7l-13 4.8zM1033.8 547.4l7.1 -5.2l7.3 -6.5l-8.1 6zM937.5 537.4l3 5.7l-7.2 -6.3l-3.4 -6.6zM940.5 543.1l7.9 5.1l-6 -5.6l-9.1 -5.8z"/>
<path fill="#afff50" d="M942.4 542.6l13.7 4.6l-3.5 -6.3l-15.1 -5.1zM956.1 547.2l17 2.9l-1.7 -6.1l-18.8 -3.1zM973.1 550.1l18.8 0.8l0.1 -5.9l-20.6 -1zM991.9 550.9l18.6 -1.2l2 -6.1l-20.5 1.4zM1010.5 549.7l16.6 -3.2l3.7 -6.4l-18.3 3.5zM1027.1 546.5l13 -4.8l5 -6.9l-14.3 5.3zM1040.1 541.7l8.1 -6l5.9 -7.5l-9 6.6zM1048.2 535.7l2.5 -6.6l6.1 -8.2l-2.7 7.3zM929.9 530.2l3.4 6.6l-5.7 -7.4l-3.8 -7.2zM933.3 536.8l9.1 5.8l-4.9 -6.8l-9.9 -6.4z"/>
<path fill="#bfff40" d="M937.5 535.8l15.1 5.1l-2.5 -7.5l-16.2 -5.4zM952.6 540.9l18.8 3.1l-1.3 -7.3l-20 -3.3zM971.4 544l20.6 1l0.2 -7.3l-22.1 -1zM992 545l20.5 -1.4l1.5 -7.3l-21.8 1.4zM1012.5 543.6l18.3 -3.5l2.7 -7.5l-19.5 3.7zM1030.8 540.1l14.3 -5.3l3.7 -7.9l-15.3 5.7zM1045.1 534.8l9 -6.6l4.3 -8.3l-9.6 7zM1054.1 528.2l2.7 -7.3l4.5 -8.8l-2.9 7.8zM923.8 522.2l3.8 7.2l-4.3 -8.3l-4 -7.7zM927.6 529.4l9.9 6.4l-3.6 -7.8l-10.6 -6.9z"/>
<path fill="#cfff30" d="M933.9 528l16.2 5.4l-1.6 -8.5l-16.7 -5.6zM950.1 533.4l20 3.3l-0.7 -8.3l-20.9 -3.5zM970.1 536.7l22.1 1l0 -8.3l-22.8 -1zM992.2 537.7l21.8 -1.4l0.9 -8.3l-22.7 1.4zM1014 536.3l19.5 -3.7l1.7 -8.5l-20.3 3.9zM1033.5 532.6l15.3 -5.7l2.3 -8.7l-15.9 5.9zM1048.8 526.9l9.6 -7l2.6 -9l-9.9 7.3zM1058.4 519.9l2.9 -7.8l2.7 -9.3l-3 8.1zM919.3 513.4l4 7.7l-2.5 -8.9l-4.2 -8zM923.3 521.1l10.6 6.9l-2.1 -8.7l-11 -7.1z"/>
<path fill="#dfff20" d="M931.8 519.3l16.7 5.6l-0.5 -9.2l-17 -5.7zM948.5 524.9l20.9 3.5l-0.3 -9.2l-21.1 -3.5zM969.4 528.4l22.8 1l0.1 -9.1l-23.2 -1.1zM992.2 529.4l22.7 -1.4l0.3 -9.2l-22.9 1.5zM1014.9 528l20.3 -3.9l0.6 -9.2l-20.6 3.9zM1035.2 524.1l15.9 -5.9l0.7 -9.3l-16 6zM1051.1 518.2l9.9 -7.3l0.9 -9.4l-10.1 7.4zM1061 510.9l3 -8.1l1 -9.5l-3.1 8.2zM919.6 496.1l-3 8.1l-1 -9.5l3.1 -8.2zM916.6 504.2l4.2 8l-0.9 -9.4l-4.3 -8.1zM920.8 512.2l11 7.1l-0.8 -9.3l-11.1 -7.2z"/>
<path fill="#efff10" d="M931 510l17 5.7l0.5 -9.8l-16.7 -5.6zM948 515.7l21.1 3.5l0.3 -9.8l-20.9 -3.5zM969.1 519.2l23.2 1.1l-0.1 -9.8l-22.8 -1.1zM992.3 520.3l22.9 -1.5l-0.3 -9.8l-22.7 1.5zM1015.2 518.8l20.6 -3.9l-0.6 -9.8l-20.3 3.9zM1035.8 514.9l16 -6l-0.7 -9.7l-15.9 5.9zM1051.8 508.9l10.1 -7.4l-0.9 -9.6l-9.9 7.3zM1061.9 501.5l3.1 -8.2l-1 -9.5l-3 8.1zM1065 493.3l-4.3 -8.1l-0.9 -9.4l4.2 8zM918.7 486.5l-3.1 8.2l1 -9.5l3 -8.1zM915.6 494.7l4.3 8.1l0.9 -9.6l-4.2 -8zM919.9 502.8l11.1 7.2l0.8 -9.7l-11 -7.1z"/>
<path fill="#ffef00" d="M931.8 500.3l16.7 5.6l1.6 -10.1l-16.2 -5.3zM948.5 505.9l20.9 3.5l0.7 -10.2l-20 -3.4zM969.4 509.4l22.8 1.1l0 -10.3l-22.1 -1zM992.2 510.5l22.7 -1.5l-0.9 -10.2l-21.8 1.4zM1014.9 509l20.3 -3.9l-1.7 -10l-19.5 3.7zM1035.2 505.1l15.9 -5.9l-2.3 -9.8l-15.3 5.7zM1051.1 499.2l9.9 -7.3l-2.6 -9.6l-9.6 7.1zM1061 491.9l3 -8.1l-2.7 -9.2l-2.9 7.7zM1064 483.8l-4.2 -8l-2.5 -8.9l4 7.7zM919.6 477.1l-3 8.1l2.7 -9.3l2.9 -7.8zM916.6 485.2l4.2 8l2.5 -9.6l-4 -7.7zM920.8 493.2l11 7.1l2.1 -9.8l-10.6 -6.9z"/>
<path fill="#ffdf00" d="M933.9 490.5l16.2 5.3l2.5 -10.1l-15.1 -5zM950.1 495.8l20 3.4l1.3 -10.3l-18.8 -3.2zM970.1 499.2l22.1 1l-0.2 -10.3l-20.6 -1zM992.2 500.2l21.8 -1.4l-1.5 -10.3l-20.5 1.4zM1014 498.8l19.5 -3.7l-2.7 -10.1l-18.3 3.5zM1033.5 495.1l15.3 -5.7l-3.7 -9.7l-14.3 5.3zM1048.8 489.4l9.6 -7.1l-4.3 -9.2l-9 6.6zM1058.4 482.3l2.9 -7.7l-4.5 -8.8l-2.7 7.3zM1061.3 474.6l-4 -7.7l-4.3 -8.3l3.8 7.2zM922.2 468.1l-2.9 7.8l4.5 -8.8l2.7 -7.3zM919.3 475.9l4 7.7l4.3 -9.3l-3.8 -7.2zM923.3 483.6l10.6 6.9l3.6 -9.8l-9.9 -6.4z"/>
<path fill="#ffcf00" d="M937.5 480.7l15.1 5l3.5 -9.9l-13.7 -4.5zM952.6 485.7l18.8 3.2l1.7 -10.2l-17 -2.9zM971.4 488.9l20.6 1l-0.1 -10.3l-18.8 -0.9zM992 489.9l20.5 -1.4l-2 -10.1l-18.6 1.2zM1012.5 488.5l18.3 -3.5l-3.7 -9.8l-16.6 3.2zM1030.8 485l14.3 -5.3l-5 -9.3l-13 4.8zM1045.1 479.7l9 -6.6l-5.9 -8.7l-8.1 6zM1054.1 473.1l2.7 -7.3l-6.1 -8l-2.5 6.6zM1056.8 465.8l-3.8 -7.2l-5.7 -7.4l3.4 6.6zM1053 458.6l-9.9 -6.4l-4.9 -6.8l9.1 5.8zM935.5 453.2l-9 6.6l5.9 -7.5l8.1 -6zM926.5 459.8l-2.7 7.3l6.1 -8.2l2.5 -6.6zM923.8 467.1l3.8 7.2l5.7 -8.9l-3.4 -6.5zM927.6 474.3l9.9 6.4l4.9 -9.4l-9.1 -5.9z"/>
<path fill="#ffbf00" d="M942.4 471.3l13.7 4.5l4.3 -9.4l-12 -4zM956.1 475.8l17 2.9l2.2 -9.8l-14.9 -2.5zM973.1 478.7l18.8 0.9l-0.2 -9.9l-16.4 -0.8zM991.9 479.6l18.6 -1.2l-2.6 -9.8l-16.2 1.1zM1010.5 478.4l16.6 -3.2l-4.7 -9.4l-14.5 2.8zM1027.1 475.2l13 -4.8l-6.3 -8.8l-11.4 4.2zM1040.1 470.4l8.1 -6l-7.3 -8l-7.1 5.2zM1048.2 464.4l2.5 -6.6l-7.6 -7.2l-2.2 5.8zM1050.7 457.8l-3.4 -6.6l-7.2 -6.3l3 5.7zM1047.3 451.2l-9.1 -5.8l-6 -5.6l7.9 5.1zM940.5 446.3l-8.1 6l7.3 -6.5l7.1 -5.2zM932.4 452.3l-2.5 6.6l7.6 -7.3l2.2 -5.8zM929.9 458.9l3.4 6.5l7.2 -8.1l-3 -5.7zM933.3 465.4l9.1 5.9l6 -8.9l-7.9 -5.1z"/>
<path fill="#ffaf00" d="M948.4 462.4l12 4l5 -8.8l-9.9 -3.3zM960.4 466.4l14.9 2.5l2.5 -9.2l-12.4 -2.1zM975.3 468.9l16.4 0.8l-0.3 -9.4l-13.6 -0.6zM991.7 469.7l16.2 -1.1l-2.9 -9.1l-13.6 0.8zM1007.9 468.6l14.5 -2.8l-5.4 -8.6l-12 2.3zM1022.4 465.8l11.4 -4.2l-7.3 -8l-9.5 3.6zM1033.8 461.6l7.1 -5.2l-8.5 -7.1l-5.9 4.3zM1040.9 456.4l2.2 -5.8l-8.9 -6.1l-1.8 4.8zM1043.1 450.6l-3 -5.7l-8.4 -5.2l2.5 4.8zM1040.1 444.9l-7.9 -5.1l-7.1 -4.3l6.6 4.2zM1032.2 439.8l-12 -4l-5 -3.6l9.9 3.3zM958.2 436.3l-11.4 4.3l7.3 -4.5l9.5 -3.5zM946.8 440.6l-7.1 5.2l8.5 -5.3l5.9 -4.4zM939.7 445.8l-2.2 5.8l8.9 -6.3l1.8 -4.8zM937.5 451.6l3 5.7l8.4 -7.3l-2.5 -4.7zM940.5 457.3l7.9 5.1l7.1 -8.1l-6.6 -4.3z"/>
<path fill="#ff9f00" d="M955.5 454.3l9.9 3.3l5.7 -7.8l-7.7 -2.6zM965.4 457.6l12.4 2.1l2.9 -8.3l-9.6 -1.6zM977.8 459.7l13.6 0.6l-0.2 -8.5l-10.5 -0.4zM991.4 460.3l13.6 -0.8l-3.4 -8.3l-10.4 0.6zM1005 459.5l12 -2.3l-6.1 -7.8l-9.3 1.8zM1017 457.2l9.5 -3.6l-8.3 -6.9l-7.3 2.7zM1026.5 453.6l5.9 -4.3l-9.6 -6l-4.6 3.4zM1032.4 449.3l1.8 -4.8l-10 -4.9l-1.4 3.7zM1034.2 444.5l-2.5 -4.8l-9.4 -3.8l1.9 3.7zM1031.7 439.7l-6.6 -4.2l-7.9 -2.8l5.1 3.2zM1025.1 435.5l-9.9 -3.3l-5.7 -2.1l7.7 2.6zM1015.2 432.2l-12.4 -2.1l-2.9 -1.6l9.6 1.6zM975.6 430.3l-12 2.3l6.1 -2.2l9.3 -1.7zM963.6 432.6l-9.5 3.5l8.3 -2.9l7.3 -2.8zM954.1 436.1l-5.9 4.4l9.6 -4l4.6 -3.3zM948.2 440.5l-1.8 4.8l10 -5.1l1.4 -3.7zM946.4 445.3l2.5 4.7l9.4 -6.1l-1.9 -3.7zM948.9 450l6.6 4.3l7.9 -7.1l-5.1 -3.3z"/>
<path fill="#ff9f00" d="M963.4 447.2l7.7 2.6l6.1 -6.8l-5.2 -1.8zM971.1 449.8l9.6 1.6l3 -7.3l-6.5 -1.1zM980.7 451.4l10.5 0.4l-0.3 -7.4l-7.2 -0.3zM991.2 451.8l10.4 -0.6l-3.6 -7.3l-7.1 0.5zM1001.6 451.2l9.3 -1.8l-6.6 -6.7l-6.3 1.2zM1010.9 449.4l7.3 -2.7l-8.9 -5.8l-5 1.8zM1018.2 446.7l4.6 -3.4l-10.4 -4.7l-3.1 2.3zM1022.8 443.3l1.4 -3.7l-10.8 -3.5l-1 2.5zM1024.2 439.6l-1.9 -3.7l-10.2 -2.3l1.3 2.5zM1022.3 435.9l-5.1 -3.2l-8.6 -1.4l3.5 2.3zM1017.2 432.7l-7.7 -2.6l-6.1 -0.5l5.2 1.7zM1009.5 430.1l-9.6 -1.6l-3 0l6.5 1.1zM999.9 428.5l-10.5 -0.5l0.3 0.2l7.2 0.3zM989.4 428l-10.4 0.7l3.6 -0.1l7.1 -0.4zM979 428.7l-9.3 1.7l6.6 -0.6l6.3 -1.2zM969.7 430.4l-7.3 2.8l8.9 -1.5l5 -1.9zM962.4 433.2l-4.6 3.3l10.4 -2.5l3.1 -2.3zM957.8 436.5l-1.4 3.7l10.8 -3.7l1 -2.5zM956.4 440.2l1.9 3.7l10.2 -4.9l-1.3 -2.5zM958.3 443.9l5.1 3.3l8.6 -6l-3.5 -2.2z"/>
<path fill="#ff8f00" d="M972 441.2l5.2 1.8l6.5 -5.6l-2.7 -0.8zM977.2 443l6.5 1.1l3.3 -6.1l-3.3 -0.6zM983.7 444.1l7.2 0.3l-0.3 -6.2l-3.6 -0.2zM990.9 444.4l7.1 -0.5l-3.8 -6l-3.6 0.3zM998 443.9l6.3 -1.2l-6.9 -5.4l-3.2 0.6zM1004.3 442.7l5 -1.8l-9.4 -4.5l-2.5 0.9zM1009.3 440.9l3.1 -2.3l-10.9 -3.4l-1.6 1.2zM1012.4 438.6l1 -2.5l-11.4 -2.2l-0.5 1.3zM1013.4 436.1l-1.3 -2.5l-10.8 -0.9l0.7 1.2zM1012.1 433.6l-3.5 -2.3l-9 0.2l1.7 1.2zM1008.6 431.3l-5.2 -1.7l-6.5 1.1l2.7 0.8zM1003.4 429.6l-6.5 -1.1l-3.3 1.6l3.3 0.6zM996.9 428.5l-7.2 -0.3l0.3 1.7l3.6 0.2zM989.7 428.2l-7.1 0.4l3.8 1.6l3.6 -0.3zM982.6 428.6l-6.3 1.2l6.9 1l3.2 -0.6zM976.3 429.8l-5 1.9l9.4 0l2.5 -0.9zM971.3 431.7l-3.1 2.3l10.9 -1.1l1.6 -1.2zM968.2 434l-1 2.5l11.4 -2.3l0.5 -1.3zM967.2 436.5l1.3 2.5l10.8 -3.6l-0.7 -1.2zM968.5 439l3.5 2.2l9 -4.6l-1.7 -1.2z"/>
<path fill="#ff8f00" d="M981 436.6l2.7 0.8l6.6 -4.1zM983.7 437.4l3.3 0.6l3.3 -4.7zM987 438l3.6 0.2l-0.3 -4.9zM990.6 438.2l3.6 -0.3l-3.9 -4.6zM994.2 437.9l3.2 -0.6l-7.1 -4zM997.4 437.3l2.5 -0.9l-9.6 -3.1zM999.9 436.4l1.6 -1.2l-11.2 -1.9zM1001.5 435.2l0.5 -1.3l-11.7 -0.6zM1002 433.9l-0.7 -1.2l-11 0.6zM1001.3 432.7l-1.7 -1.2l-9.3 1.8zM999.6 431.5l-2.7 -0.8l-6.6 2.6zM996.9 430.7l-3.3 -0.6l-3.3 3.2zM993.6 430.1l-3.6 -0.2l0.3 3.4zM990 429.9l-3.6 0.3l3.9 3.1zM986.4 430.2l-3.2 0.6l7.1 2.5zM983.2 430.8l-2.5 0.9l9.6 1.6zM980.7 431.7l-1.6 1.2l11.2 0.4zM979.1 432.9l-0.5 1.3l11.7 -0.9zM978.6 434.2l0.7 1.2l11 -2.1zM979.3 435.4l1.7 1.2l9.3 -3.3z"/></g>
<g class="s"><path fill="#00009f" d="M672.3 882.9l3.5 1.1l-4.1 -0.3l-5.1 -1.7zM675.8 884l4.3 0.8l-2 0l-6.4 -1.1zM680.1 884.8l4.8 0.2l0.2 0.1l-7 -0.3zM684.9 885l4.7 -0.3l2.4 0l-6.9 0.4zM689.6 884.7l4.3 -0.8l4.4 -0.4l-6.3 1.2z"/>
<path fill="#00009f" d="M666.6 882l5.1 1.7l-3.8 -1.4l-6.6 -2.2zM671.7 883.7l6.4 1.1l-1.9 -1.1l-8.3 -1.4zM678.1 884.8l7 0.3l0.2 -1l-9.1 -0.4zM685.1 885.1l6.9 -0.4l2.3 -1.2l-9 0.6zM692 884.7l6.3 -1.2l4 -1.5l-8 1.5zM698.3 883.5l4.8 -1.8l5.5 -2l-6.3 2.3zM703.1 881.7l3.1 -2.3l6.4 -2.6l-4 2.9zM663.2 879.8l3.4 2.2l-5.3 -1.9l-4.4 -2.8z"/>
<path fill="#0000af" d="M661.3 880.1l6.6 2.2l-3.3 -2.4l-8 -2.6zM667.9 882.3l8.3 1.4l-1.7 -2.1l-9.9 -1.7zM676.2 883.7l9.1 0.4l0.1 -2l-10.9 -0.5zM685.3 884.1l9 -0.6l2 -2.1l-10.9 0.7zM694.3 883.5l8 -1.5l3.6 -2.5l-9.6 1.9zM702.3 882l6.3 -2.3l4.9 -3l-7.6 2.8zM708.6 879.7l4 -2.9l5.7 -3.6l-4.8 3.5zM656.9 877.3l4.4 2.8l-4.7 -2.8l-5.3 -3.5z"/>
<path fill="#0000af" d="M656.6 877.3l8 2.6l-2.9 -3.3l-9.2 -3.1zM664.6 879.9l9.9 1.7l-1.4 -3.1l-11.4 -1.9zM674.5 881.6l10.9 0.5l0.2 -3l-12.5 -0.6zM685.4 882.1l10.9 -0.7l1.6 -3.2l-12.3 0.9zM696.3 881.4l9.6 -1.9l3.1 -3.4l-11.1 2.1zM705.9 879.5l7.6 -2.8l4.2 -3.8l-8.7 3.2zM713.5 876.7l4.8 -3.5l4.8 -4.3l-5.4 4zM649.3 870l2 3.8l-4.8 -4.2l-2.3 -4.3zM651.3 873.8l5.3 3.5l-4.1 -3.8l-6 -3.9z"/>
<path fill="#0000bf" d="M652.5 873.5l9.2 3.1l-2.3 -4.3l-10.1 -3.3zM661.7 876.6l11.4 1.9l-1.2 -4.1l-12.5 -2.1zM673.1 878.5l12.5 0.6l0.1 -4l-13.8 -0.7zM685.6 879.1l12.3 -0.9l1.4 -4l-13.6 0.9zM697.9 878.2l11.1 -2.1l2.5 -4.2l-12.2 2.3zM709 876.1l8.7 -3.2l3.4 -4.6l-9.6 3.6zM717.7 872.9l5.4 -4l3.9 -5l-5.9 4.4zM723.1 868.9l1.7 -4.4l4 -5.4l-1.8 4.8zM644.2 865.3l2.3 4.3l-3.8 -4.9l-2.5 -4.8zM646.5 869.6l6 3.9l-3.2 -4.5l-6.6 -4.3z"/>
<path fill="#0000cf" d="M649.3 869l10.1 3.3l-1.7 -5l-10.8 -3.6zM659.4 872.3l12.5 2.1l-0.8 -4.8l-13.4 -2.3zM671.9 874.4l13.8 0.7l0 -4.8l-14.6 -0.7zM685.7 875.1l13.6 -0.9l1 -4.9l-14.6 1zM699.3 874.2l12.2 -2.3l1.8 -5.1l-13 2.5zM711.5 871.9l9.6 -3.6l2.4 -5.3l-10.2 3.8zM721.1 868.3l5.9 -4.4l2.9 -5.6l-6.4 4.7zM727 863.9l1.8 -4.8l3 -5.9l-1.9 5.1zM640.2 859.9l2.5 4.8l-2.8 -5.5l-2.7 -5.2zM642.7 864.7l6.6 4.3l-2.4 -5.3l-7 -4.5z"/>
<path fill="#0000cf" d="M646.9 863.7l10.8 3.6l-1.1 -5.6l-11.1 -3.7zM657.7 867.3l13.4 2.3l-0.6 -5.6l-13.9 -2.3zM671.1 869.6l14.6 0.7l0.1 -5.6l-15.3 -0.7zM685.7 870.3l14.6 -1l0.6 -5.6l-15.1 1zM700.3 869.3l13 -2.5l1.1 -5.6l-13.5 2.5zM713.3 866.8l10.2 -3.8l1.5 -5.8l-10.6 4zM723.5 863l6.4 -4.7l1.8 -6l-6.7 4.9zM729.9 858.3l1.9 -5.1l1.9 -6.2l-2 5.3zM637.2 854l2.7 5.2l-1.8 -6l-2.8 -5.3zM639.9 859.2l7 4.5l-1.4 -5.7l-7.4 -4.8z"/>
<path fill="#0000df" d="M645.5 858l11.1 3.7l-0.3 -6.2l-11.3 -3.7zM656.6 861.7l13.9 2.3l-0.1 -6.1l-14.1 -2.4zM670.5 864l15.3 0.7l0 -6.1l-15.4 -0.7zM685.8 864.7l15.1 -1l0.2 -6.1l-15.3 1zM700.9 863.7l13.5 -2.5l0.4 -6.2l-13.7 2.6zM714.4 861.2l10.6 -4l0.5 -6.2l-10.7 4zM725 857.2l6.7 -4.9l0.5 -6.2l-6.7 4.9zM731.7 852.3l2 -5.3l0.6 -6.4l-2.1 5.5zM637.3 842.5l-2 5.4l-0.6 -6.3l2.1 -5.5zM635.3 847.9l2.8 5.3l-0.5 -6.3l-2.9 -5.3zM638.1 853.2l7.4 4.8l-0.5 -6.2l-7.4 -4.9z"/>
<path fill="#0000ef" d="M645 851.8l11.3 3.7l0.3 -6.5l-11.1 -3.7zM656.3 855.5l14.1 2.4l0.1 -6.5l-13.9 -2.4zM670.4 857.9l15.4 0.7l0 -6.5l-15.3 -0.7zM685.8 858.6l15.3 -1l-0.2 -6.5l-15.1 1zM701.1 857.6l13.7 -2.6l-0.4 -6.5l-13.5 2.6zM714.8 855l10.7 -4l-0.5 -6.4l-10.6 3.9zM725.5 851l6.7 -4.9l-0.5 -6.4l-6.7 4.9zM732.2 846.1l2.1 -5.5l-0.6 -6.3l-2 5.4zM734.3 840.6l-2.9 -5.3l-0.5 -6.3l2.8 5.3zM636.8 836.1l-2.1 5.5l0.6 -6.4l2 -5.3zM634.7 841.6l2.9 5.3l0.5 -6.4l-2.8 -5.3zM637.6 846.9l7.4 4.9l0.5 -6.5l-7.4 -4.8z"/>
<path fill="#0000ff" d="M645.5 845.3l11.1 3.7l1.1 -6.7l-10.8 -3.6zM656.6 849l13.9 2.4l0.6 -6.8l-13.4 -2.3zM670.5 851.4l15.3 0.7l-0.1 -6.8l-14.6 -0.7zM685.8 852.1l15.1 -1l-0.6 -6.8l-14.6 1zM700.9 851.1l13.5 -2.6l-1.1 -6.7l-13 2.5zM714.4 848.5l10.6 -3.9l-1.5 -6.6l-10.2 3.8zM725 844.6l6.7 -4.9l-1.8 -6.4l-6.4 4.7zM731.7 839.7l2 -5.4l-1.9 -6.1l-1.9 5.1zM733.7 834.3l-2.8 -5.3l-1.8 -6l2.7 5.2zM637.3 829.9l-2 5.3l1.9 -6.2l1.9 -5.1zM635.3 835.2l2.8 5.3l1.8 -6.3l-2.7 -5.2zM638.1 840.5l7.4 4.8l1.4 -6.6l-7 -4.5z"/>
<path fill="#0000ff" d="M646.9 838.7l10.8 3.6l1.7 -6.7l-10.1 -3.4zM657.7 842.3l13.4 2.3l0.8 -6.9l-12.5 -2.1zM671.1 844.6l14.6 0.7l0 -7l-13.8 -0.6zM685.7 845.3l14.6 -1l-1 -6.9l-13.6 0.9zM700.3 844.3l13 -2.5l-1.8 -6.7l-12.2 2.3zM713.3 841.8l10.2 -3.8l-2.4 -6.4l-9.6 3.5zM723.5 838l6.4 -4.7l-2.9 -6.1l-5.9 4.4zM729.9 833.3l1.9 -5.1l-3 -5.9l-1.8 4.9zM731.8 828.2l-2.7 -5.2l-2.8 -5.5l2.5 4.8zM639.1 823.9l-1.9 5.1l3 -5.9l1.8 -4.8zM637.2 829l2.7 5.2l2.8 -6.3l-2.5 -4.8zM639.9 834.2l7 4.5l2.4 -6.5l-6.6 -4.3z"/>
<path fill="#0010ff" d="M649.3 832.2l10.1 3.4l2.3 -6.6l-9.2 -3.1zM659.4 835.6l12.5 2.1l1.2 -6.8l-11.4 -1.9zM671.9 837.7l13.8 0.6l-0.1 -6.8l-12.5 -0.6zM685.7 838.3l13.6 -0.9l-1.4 -6.7l-12.3 0.8zM699.3 837.4l12.2 -2.3l-2.5 -6.5l-11.1 2.1zM711.5 835.1l9.6 -3.5l-3.4 -6.3l-8.7 3.3zM721.1 831.6l5.9 -4.4l-3.9 -5.9l-5.4 4zM727 827.2l1.8 -4.9l-4 -5.4l-1.7 4.4zM728.8 822.3l-2.5 -4.8l-3.8 -4.9l2.3 4.3zM726.3 817.5l-6.6 -4.3l-3.2 -4.5l6 3.9zM647.9 813.9l-5.9 4.4l3.9 -5l5.4 -4zM642 818.3l-1.8 4.8l4 -5.4l1.7 -4.4zM640.2 823.1l2.5 4.8l3.8 -5.9l-2.3 -4.3zM642.7 827.9l6.6 4.3l3.2 -6.3l-6 -3.9z"/>
<path fill="#0020ff" d="M652.5 825.9l9.2 3.1l2.9 -6.3l-8 -2.7zM661.7 829l11.4 1.9l1.4 -6.5l-9.9 -1.7zM673.1 830.9l12.5 0.6l-0.2 -6.6l-10.9 -0.5zM685.6 831.5l12.3 -0.8l-1.6 -6.5l-10.9 0.7zM697.9 830.7l11.1 -2.1l-3.1 -6.3l-9.6 1.9zM709 828.6l8.7 -3.3l-4.2 -5.8l-7.6 2.8zM717.7 825.3l5.4 -4l-4.8 -5.3l-4.8 3.5zM723.1 821.3l1.7 -4.4l-5.1 -4.7l-1.4 3.8zM724.8 816.9l-2.3 -4.3l-4.8 -4.2l2 3.8zM722.5 812.6l-6 -3.9l-4.1 -3.8l5.3 3.5zM651.3 809.3l-5.4 4l4.8 -4.3l4.8 -3.5zM645.9 813.3l-1.7 4.4l5.1 -4.9l1.4 -3.8zM644.2 817.7l2.3 4.3l4.8 -5.4l-2 -3.8zM646.5 822l6 3.9l4.1 -5.9l-5.3 -3.4z"/>
<path fill="#0030ff" d="M656.6 820l8 2.7l3.3 -5.9l-6.6 -2.2zM664.6 822.7l9.9 1.7l1.7 -6.2l-8.3 -1.4zM674.5 824.4l10.9 0.5l-0.1 -6.2l-9.1 -0.5zM685.4 824.9l10.9 -0.7l-2 -6.1l-9 0.6zM696.3 824.2l9.6 -1.9l-3.6 -5.8l-8 1.6zM705.9 822.3l7.6 -2.8l-4.9 -5.3l-6.3 2.3zM713.5 819.5l4.8 -3.5l-5.7 -4.7l-4 2.9zM718.3 816l1.4 -3.8l-5.9 -4.1l-1.2 3.2zM719.7 812.2l-2 -3.8l-5.6 -3.5l1.7 3.2zM717.7 808.4l-5.3 -3.5l-4.7 -2.8l4.4 2.8zM712.4 804.9l-8 -2.6l-3.3 -2.4l6.6 2.2zM663.1 802.7l-7.6 2.8l4.9 -3l6.3 -2.3zM655.5 805.5l-4.8 3.5l5.7 -3.6l4 -2.9zM650.7 809l-1.4 3.8l5.9 -4.2l1.2 -3.2zM649.3 812.8l2 3.8l5.6 -4.8l-1.7 -3.2zM651.3 816.6l5.3 3.4l4.7 -5.4l-4.4 -2.8z"/>
<path fill="#0030ff" d="M661.3 814.6l6.6 2.2l3.8 -5.2l-5.1 -1.7zM667.9 816.8l8.3 1.4l1.9 -5.5l-6.4 -1.1zM676.2 818.2l9.1 0.5l-0.2 -5.7l-7 -0.3zM685.3 818.7l9 -0.6l-2.3 -5.6l-6.9 0.5zM694.3 818.1l8 -1.6l-4 -5.1l-6.3 1.1zM702.3 816.5l6.3 -2.3l-5.5 -4.6l-4.8 1.8zM708.6 814.2l4 -2.9l-6.4 -4l-3.1 2.3zM712.6 811.3l1.2 -3.2l-6.7 -3.3l-0.9 2.5zM713.8 808.1l-1.7 -3.2l-6.3 -2.5l1.3 2.4zM712.1 804.9l-4.4 -2.8l-5.3 -1.9l3.4 2.2zM707.7 802.1l-6.6 -2.2l-3.8 -1.4l5.1 1.7zM701.1 799.9l-8.3 -1.4l-1.9 -1.1l6.4 1.1zM674.7 798.7l-8 1.5l4 -1.5l6.3 -1.2zM666.7 800.2l-6.3 2.3l5.5 -2l4.8 -1.8zM660.4 802.5l-4 2.9l6.4 -2.6l3.1 -2.3zM656.4 805.4l-1.2 3.2l6.7 -3.3l0.9 -2.5zM655.2 808.6l1.7 3.2l6.3 -4.1l-1.3 -2.4zM656.9 811.8l4.4 2.8l5.3 -4.7l-3.4 -2.2z"/>
<path fill="#0030ff" d="M666.6 809.9l5.1 1.7l4.1 -4.5l-3.5 -1.2zM671.7 811.6l6.4 1.1l2 -4.9l-4.3 -0.7zM678.1 812.7l7 0.3l-0.2 -5l-4.8 -0.2zM685.1 813l6.9 -0.5l-2.4 -4.8l-4.7 0.3zM692 812.5l6.3 -1.1l-4.4 -4.5l-4.3 0.8zM698.3 811.4l4.8 -1.8l-5.9 -3.9l-3.3 1.2zM703.1 809.6l3.1 -2.3l-6.9 -3.1l-2.1 1.5zM706.2 807.3l0.9 -2.5l-7.2 -2.3l-0.6 1.7zM707.1 804.8l-1.3 -2.4l-6.8 -1.6l0.9 1.7zM705.8 802.4l-3.4 -2.2l-5.7 -0.9l2.3 1.5zM702.4 800.2l-5.1 -1.7l-4.1 -0.3l3.5 1.1zM697.3 798.5l-6.4 -1.1l-2 0l4.3 0.8zM690.9 797.4l-7 -0.3l0.2 0.1l4.8 0.2zM683.9 797.1l-6.9 0.4l2.4 0l4.7 -0.3zM677 797.5l-6.3 1.2l4.4 -0.4l4.3 -0.8zM670.7 798.7l-4.8 1.8l5.9 -1l3.3 -1.2zM665.9 800.5l-3.1 2.3l6.9 -1.7l2.1 -1.6zM662.8 802.8l-0.9 2.5l7.2 -2.5l0.6 -1.7zM661.9 805.3l1.3 2.4l6.8 -3.3l-0.9 -1.6zM663.2 807.7l3.4 2.2l5.7 -4l-2.3 -1.5z"/>
<path fill="#0040ff" d="M672.3 805.9l3.5 1.2l4.3 -3.7l-1.8 -0.6zM675.8 807.1l4.3 0.7l2.2 -4l-2.2 -0.4zM680.1 807.8l4.8 0.2l-0.2 -4.1l-2.4 -0.1zM684.9 808l4.7 -0.3l-2.5 -4l-2.4 0.2zM689.6 807.7l4.3 -0.8l-4.7 -3.6l-2.1 0.4zM693.9 806.9l3.3 -1.2l-6.3 -3l-1.7 0.6zM697.2 805.7l2.1 -1.5l-7.3 -2.3l-1.1 0.8zM699.3 804.2l0.6 -1.7l-7.6 -1.4l-0.3 0.8zM699.9 802.5l-0.9 -1.7l-7.2 -0.6l0.5 0.9zM699 800.8l-2.3 -1.5l-6 0.2l1.1 0.7zM696.7 799.3l-3.5 -1.1l-4.3 0.7l1.8 0.6zM693.2 798.2l-4.3 -0.8l-2.2 1.1l2.2 0.4zM688.9 797.4l-4.8 -0.2l0.2 1.2l2.4 0.1zM684.1 797.2l-4.7 0.3l2.5 1l2.4 -0.1zM679.4 797.5l-4.3 0.8l4.7 0.7l2.1 -0.5zM675.1 798.3l-3.3 1.2l6.3 0.1l1.7 -0.6zM671.8 799.5l-2.1 1.6l7.3 -0.7l1.1 -0.8zM669.7 801.1l-0.6 1.7l7.6 -1.6l0.3 -0.8zM669.1 802.8l0.9 1.6l7.2 -2.4l-0.5 -0.8zM670 804.4l2.3 1.5l6 -3.1l-1.1 -0.8z"/>
<path fill="#0040ff" d="M678.3 802.8l1.8 0.6l4.4 -2.8zM680.1 803.4l2.2 0.4l2.2 -3.2zM682.3 803.8l2.4 0.1l-0.2 -3.3zM684.7 803.9l2.4 -0.2l-2.6 -3.1zM687.1 803.7l2.1 -0.4l-4.7 -2.7zM689.2 803.3l1.7 -0.6l-6.4 -2.1zM690.9 802.7l1.1 -0.8l-7.5 -1.3zM692 801.9l0.3 -0.8l-7.8 -0.5zM692.3 801.1l-0.5 -0.9l-7.3 0.4zM691.8 800.2l-1.1 -0.7l-6.2 1.1zM690.7 799.5l-1.8 -0.6l-4.4 1.7zM688.9 798.9l-2.2 -0.4l-2.2 2.1zM686.7 798.5l-2.4 -0.1l0.2 2.2zM684.3 798.4l-2.4 0.1l2.6 2.1zM681.9 798.5l-2.1 0.5l4.7 1.6zM679.8 799l-1.7 0.6l6.4 1zM678.1 799.6l-1.1 0.8l7.5 0.2zM677 800.4l-0.3 0.8l7.8 -0.6zM676.7 801.2l0.5 0.8l7.3 -1.4zM677.2 802l1.1 0.8l6.2 -2.2z"/></g>
<g class="s"><path fill="#50ffaf" d="M1038.5 603.4l3.5 1.1l-4.1 -0.3l-5.1 -1.7zM1042 604.5l4.3 0.8l-2 0l-6.4 -1.1zM1046.3 605.3l4.8 0.2l0.2 0.1l-7 -0.3zM1051.1 605.5l4.7 -0.3l2.4 0l-6.9 0.4zM1055.8 605.2l4.3 -0.8l4.4 -0.4l-6.3 1.2z"/>
<path fill="#60ff9f" d="M1032.8 602.5l5.1 1.7l-3.8 -1.4l-6.6 -2.2zM1037.9 604.2l6.4 1.1l-1.9 -1.1l-8.3 -1.4zM1044.3 605.3l7 0.3l0.2 -1l-9.1 -0.4zM1051.3 605.6l6.9 -0.4l2.3 -1.2l-9 0.6zM1058.2 605.2l6.3 -1.2l4 -1.5l-8 1.5zM1064.5 604l4.8 -1.8l5.5 -2l-6.3 2.3zM1069.3 602.2l3.1 -2.3l6.4 -2.6l-4 2.9zM1029.4 600.3l3.4 2.2l-5.3 -1.9l-4.4 -2.8z"/>
<path fill="#60ff9f" d="M1027.5 600.6l6.6 2.2l-3.3 -2.4l-8 -2.6zM1034.1 602.8l8.3 1.4l-1.7 -2.1l-9.9 -1.7zM1042.4 604.2l9.1 0.4l0.1 -2l-10.9 -0.5zM1051.5 604.6l9 -0.6l2 -2.1l-10.9 0.7zM1060.5 604l8 -1.5l3.6 -2.5l-9.6 1.9zM1068.5 602.5l6.3 -2.3l4.9 -3l-7.6 2.8zM1074.8 600.2l4 -2.9l5.7 -3.6l-4.8 3.5zM1023.1 597.8l4.4 2.8l-4.7 -2.8l-5.3 -3.5z"/>
<path fill="#60ff9f" d="M1022.8 597.8l8 2.6l-2.9 -3.3l-9.2 -3.1zM1030.8 600.4l9.9 1.7l-1.4 -3.1l-11.4 -1.9zM1040.7 602.1l10.9 0.5l0.2 -3l-12.5 -0.6zM1051.6 602.6l10.9 -0.7l1.6 -3.2l-12.3 0.9zM1062.5 601.9l9.6 -1.9l3.1 -3.4l-11.1 2.1zM1072.1 600l7.6 -2.8l4.2 -3.8l-8.7 3.2zM1079.7 597.2l4.8 -3.5l4.8 -4.3l-5.4 4zM1015.5 590.5l2 3.8l-4.8 -4.2l-2.3 -4.3zM1017.5 594.3l5.3 3.5l-4.1 -3.8l-6 -3.9z"/>
<path fill="#70ff8f" d="M1018.7 594l9.2 3.1l-2.3 -4.3l-10.1 -3.3zM1027.9 597.1l11.4 1.9l-1.2 -4.1l-12.5 -2.1zM1039.3 599l12.5 0.6l0.1 -4l-13.8 -0.7zM1051.8 599.6l12.3 -0.9l1.4 -4l-13.6 0.9zM1064.1 598.7l11.1 -2.1l2.5 -4.2l-12.2 2.3zM1075.2 596.6l8.7 -3.2l3.4 -4.6l-9.6 3.6zM1083.9 593.4l5.4 -4l3.9 -5l-5.9 4.4zM1089.3 589.4l1.7 -4.4l4 -5.4l-1.8 4.8zM1010.4 585.8l2.3 4.3l-3.8 -4.9l-2.5 -4.8zM1012.7 590.1l6 3.9l-3.2 -4.5l-6.6 -4.3z"/>
<path fill="#80ff80" d="M1015.5 589.5l10.1 3.3l-1.7 -5l-10.8 -3.6zM1025.6 592.8l12.5 2.1l-0.8 -4.8l-13.4 -2.3zM1038.1 594.9l13.8 0.7l0 -4.8l-14.6 -0.7zM1051.9 595.6l13.6 -0.9l1 -4.9l-14.6 1zM1065.5 594.7l12.2 -2.3l1.8 -5.1l-13 2.5zM1077.7 592.4l9.6 -3.6l2.4 -5.3l-10.2 3.8zM1087.3 588.8l5.9 -4.4l2.9 -5.6l-6.4 4.7zM1093.2 584.4l1.8 -4.8l3 -5.9l-1.9 5.1zM1006.4 580.4l2.5 4.8l-2.8 -5.5l-2.7 -5.2zM1008.9 585.2l6.6 4.3l-2.4 -5.3l-7 -4.5z"/>
<path fill="#8fff70" d="M1013.1 584.2l10.8 3.6l-1.1 -5.6l-11.1 -3.7zM1023.9 587.8l13.4 2.3l-0.6 -5.6l-13.9 -2.3zM1037.3 590.1l14.6 0.7l0.1 -5.6l-15.3 -0.7zM1051.9 590.8l14.6 -1l0.6 -5.6l-15.1 1zM1066.5 589.8l13 -2.5l1.1 -5.6l-13.5 2.5zM1079.5 587.3l10.2 -3.8l1.5 -5.8l-10.6 4zM1089.7 583.5l6.4 -4.7l1.8 -6l-6.7 4.9zM1096.1 578.8l1.9 -5.1l1.9 -6.2l-2 5.3zM1003.4 574.5l2.7 5.2l-1.8 -6l-2.8 -5.3zM1006.1 579.7l7 4.5l-1.4 -5.7l-7.4 -4.8z"/>
<path fill="#8fff70" d="M1011.7 578.5l11.1 3.7l-0.3 -6.2l-11.3 -3.7zM1022.8 582.2l13.9 2.3l-0.1 -6.1l-14.1 -2.4zM1036.7 584.5l15.3 0.7l0 -6.1l-15.4 -0.7zM1052 585.2l15.1 -1l0.2 -6.1l-15.3 1zM1067.1 584.2l13.5 -2.5l0.4 -6.2l-13.7 2.6zM1080.6 581.7l10.6 -4l0.5 -6.2l-10.7 4zM1091.2 577.7l6.7 -4.9l0.5 -6.2l-6.7 4.9zM1097.9 572.8l2 -5.3l0.6 -6.4l-2.1 5.5zM1003.5 563l-2 5.4l-0.6 -6.3l2.1 -5.5zM1001.5 568.4l2.8 5.3l-0.5 -6.3l-2.9 -5.3zM1004.3 573.7l7.4 4.8l-0.5 -6.2l-7.4 -4.9z"/>
<path fill="#9fff60" d="M1011.2 572.3l11.3 3.7l0.3 -6.5l-11.1 -3.7zM1022.5 576l14.1 2.4l0.1 -6.5l-13.9 -2.4zM1036.6 578.4l15.4 0.7l0 -6.5l-15.3 -0.7zM1052 579.1l15.3 -1l-0.2 -6.5l-15.1 1zM1067.3 578.1l13.7 -2.6l-0.4 -6.5l-13.5 2.6zM1081 575.5l10.7 -4l-0.5 -6.4l-10.6 3.9zM1091.7 571.5l6.7 -4.9l-0.5 -6.4l-6.7 4.9zM1098.4 566.6l2.1 -5.5l-0.6 -6.3l-2 5.4zM1100.5 561.1l-2.9 -5.3l-0.5 -6.3l2.8 5.3zM1003 556.6l-2.1 5.5l0.6 -6.4l2 -5.3zM1000.9 562.1l2.9 5.3l0.5 -6.4l-2.8 -5.3zM1003.8 567.4l7.4 4.9l0.5 -6.5l-7.4 -4.8z"/>
<path fill="#afff50" d="M1011.7 565.8l11.1 3.7l1.1 -6.7l-10.8 -3.6zM1022.8 569.5l13.9 2.4l0.6 -6.8l-13.4 -2.3zM1036.7 571.9l15.3 0.7l-0.1 -6.8l-14.6 -0.7zM1052 572.6l15.1 -1l-0.6 -6.8l-14.6 1zM1067.1 571.6l13.5 -2.6l-1.1 -6.7l-13 2.5zM1080.6 569l10.6 -3.9l-1.5 -6.6l-10.2 3.8zM1091.2 565.1l6.7 -4.9l-1.8 -6.4l-6.4 4.7zM1097.9 560.2l2 -5.4l-1.9 -6.1l-1.9 5.1zM1099.9 554.8l-2.8 -5.3l-1.8 -6l2.7 5.2zM1003.5 550.4l-2 5.3l1.9 -6.2l1.9 -5.1zM1001.5 555.7l2.8 5.3l1.8 -6.3l-2.7 -5.2zM1004.3 561l7.4 4.8l1.4 -6.6l-7 -4.5z"/>
<path fill="#bfff40" d="M1013.1 559.2l10.8 3.6l1.7 -6.7l-10.1 -3.4zM1023.9 562.8l13.4 2.3l0.8 -6.9l-12.5 -2.1zM1037.3 565.1l14.6 0.7l0 -7l-13.8 -0.6zM1051.9 565.8l14.6 -1l-1 -6.9l-13.6 0.9zM1066.5 564.8l13 -2.5l-1.8 -6.7l-12.2 2.3zM1079.5 562.3l10.2 -3.8l-2.4 -6.4l-9.6 3.5zM1089.7 558.5l6.4 -4.7l-2.9 -6.1l-5.9 4.4zM1096.1 553.8l1.9 -5.1l-3 -5.9l-1.8 4.9zM1098 548.7l-2.7 -5.2l-2.8 -5.5l2.5 4.8zM1005.3 544.4l-1.9 5.1l3 -5.9l1.8 -4.8zM1003.4 549.5l2.7 5.2l2.8 -6.3l-2.5 -4.8zM1006.1 554.7l7 4.5l2.4 -6.5l-6.6 -4.3z"/>
<path fill="#bfff40" d="M1015.5 552.7l10.1 3.4l2.3 -6.6l-9.2 -3.1zM1025.6 556.1l12.5 2.1l1.2 -6.8l-11.4 -1.9zM1038.1 558.2l13.8 0.6l-0.1 -6.8l-12.5 -0.6zM1051.9 558.8l13.6 -0.9l-1.4 -6.7l-12.3 0.8zM1065.5 557.9l12.2 -2.3l-2.5 -6.5l-11.1 2.1zM1077.7 555.6l9.6 -3.5l-3.4 -6.3l-8.7 3.3zM1087.3 552.1l5.9 -4.4l-3.9 -5.9l-5.4 4zM1093.2 547.7l1.8 -4.9l-4 -5.4l-1.7 4.4zM1095 542.8l-2.5 -4.8l-3.8 -4.9l2.3 4.3zM1092.5 538l-6.6 -4.3l-3.2 -4.5l6 3.9zM1014.1 534.4l-5.9 4.4l3.9 -5l5.4 -4zM1008.2 538.8l-1.8 4.8l4 -5.4l1.7 -4.4zM1006.4 543.6l2.5 4.8l3.8 -5.9l-2.3 -4.3zM1008.9 548.4l6.6 4.3l3.2 -6.3l-6 -3.9z"/>
<path fill="#cfff30" d="M1018.7 546.4l9.2 3.1l2.9 -6.3l-8 -2.7zM1027.9 549.5l11.4 1.9l1.4 -6.5l-9.9 -1.7zM1039.3 551.4l12.5 0.6l-0.2 -6.6l-10.9 -0.5zM1051.8 552l12.3 -0.8l-1.6 -6.5l-10.9 0.7zM1064.1 551.2l11.1 -2.1l-3.1 -6.3l-9.6 1.9zM1075.2 549.1l8.7 -3.3l-4.2 -5.8l-7.6 2.8zM1083.9 545.8l5.4 -4l-4.8 -5.3l-4.8 3.5zM1089.3 541.8l1.7 -4.4l-5.1 -4.7l-1.4 3.8zM1091 537.4l-2.3 -4.3l-4.8 -4.2l2 3.8zM1088.7 533.1l-6 -3.9l-4.1 -3.8l5.3 3.5zM1017.5 529.8l-5.4 4l4.8 -4.3l4.8 -3.5zM1012.1 533.8l-1.7 4.4l5.1 -4.9l1.4 -3.8zM1010.4 538.2l2.3 4.3l4.8 -5.4l-2 -3.8zM1012.7 542.5l6 3.9l4.1 -5.9l-5.3 -3.4z"/>
<path fill="#dfff20" d="M1022.8 540.5l8 2.7l3.3 -5.9l-6.6 -2.2zM1030.8 543.2l9.9 1.7l1.7 -6.2l-8.3 -1.4zM1040.7 544.9l10.9 0.5l-0.1 -6.2l-9.1 -0.5zM1051.6 545.4l10.9 -0.7l-2 -6.1l-9 0.6zM1062.5 544.7l9.6 -1.9l-3.6 -5.8l-8 1.6zM1072.1 542.8l7.6 -2.8l-4.9 -5.3l-6.3 2.3zM1079.7 540l4.8 -3.5l-5.7 -4.7l-4 2.9zM1084.5 536.5l1.4 -3.8l-5.9 -4.1l-1.2 3.2zM1085.9 532.7l-2 -3.8l-5.6 -3.5l1.7 3.2zM1083.9 528.9l-5.3 -3.5l-4.7 -2.8l4.4 2.8zM1078.6 525.4l-8 -2.6l-3.3 -2.4l6.6 2.2zM1029.3 523.2l-7.6 2.8l4.9 -3l6.3 -2.3zM1021.7 526l-4.8 3.5l5.7 -3.6l4 -2.9zM1016.9 529.5l-1.4 3.8l5.9 -4.2l1.2 -3.2zM1015.5 533.3l2 3.8l5.6 -4.8l-1.7 -3.2zM1017.5 537.1l5.3 3.4l4.7 -5.4l-4.4 -2.8z"/>
<path fill="#dfff20" d="M1027.5 535.1l6.6 2.2l3.8 -5.2l-5.1 -1.7zM1034.1 537.3l8.3 1.4l1.9 -5.5l-6.4 -1.1zM1042.4 538.7l9.1 0.5l-0.2 -5.7l-7 -0.3zM1051.5 539.2l9 -0.6l-2.3 -5.6l-6.9 0.5zM1060.5 538.6l8 -1.6l-4 -5.1l-6.3 1.1zM1068.5 537l6.3 -2.3l-5.5 -4.6l-4.8 1.8zM1074.8 534.7l4 -2.9l-6.4 -4l-3.1 2.3zM1078.8 531.8l1.2 -3.2l-6.7 -3.3l-0.9 2.5zM1080 528.6l-1.7 -3.2l-6.3 -2.5l1.3 2.4zM1078.3 525.4l-4.4 -2.8l-5.3 -1.9l3.4 2.2zM1073.9 522.6l-6.6 -2.2l-3.8 -1.4l5.1 1.7zM1067.3 520.4l-8.3 -1.4l-1.9 -1.1l6.4 1.1zM1040.9 519.2l-8 1.5l4 -1.5l6.3 -1.2zM1032.9 520.7l-6.3 2.3l5.5 -2l4.8 -1.8zM1026.6 523l-4 2.9l6.4 -2.6l3.1 -2.3zM1022.6 525.9l-1.2 3.2l6.7 -3.3l0.9 -2.5zM1021.4 529.1l1.7 3.2l6.3 -4.1l-1.3 -2.4zM1023.1 532.3l4.4 2.8l5.3 -4.7l-3.4 -2.2z"/>
<path fill="#efff10" d="M1032.8 530.4l5.1 1.7l4.1 -4.5l-3.5 -1.2zM1037.9 532.1l6.4 1.1l2 -4.9l-4.3 -0.7zM1044.3 533.2l7 0.3l-0.2 -5l-4.8 -0.2zM1051.3 533.5l6.9 -0.5l-2.4 -4.8l-4.7 0.3zM1058.2 533l6.3 -1.1l-4.4 -4.5l-4.3 0.8zM1064.5 531.9l4.8 -1.8l-5.9 -3.9l-3.3 1.2zM1069.3 530.1l3.1 -2.3l-6.9 -3.1l-2.1 1.5zM1072.4 527.8l0.9 -2.5l-7.2 -2.3l-0.6 1.7zM1073.3 525.3l-1.3 -2.4l-6.8 -1.6l0.9 1.7zM1072 522.9l-3.4 -2.2l-5.7 -0.9l2.3 1.5zM1068.6 520.7l-5.1 -1.7l-4.1 -0.3l3.5 1.1zM1063.5 519l-6.4 -1.1l-2 0l4.3 0.8zM1057.1 517.9l-7 -0.3l0.2 0.1l4.8 0.2zM1050.1 517.6l-6.9 0.4l2.4 0l4.7 -0.3zM1043.2 518l-6.3 1.2l4.4 -0.4l4.3 -0.8zM1036.9 519.2l-4.8 1.8l5.9 -1l3.3 -1.2zM1032.1 521l-3.1 2.3l6.9 -1.7l2.1 -1.6zM1029 523.3l-0.9 2.5l7.2 -2.5l0.6 -1.7zM1028.1 525.8l1.3 2.4l6.8 -3.3l-0.9 -1.6zM1029.4 528.2l3.4 2.2l5.7 -4l-2.3 -1.5z"/>
<path fill="#efff10" d="M1038.5 526.4l3.5 1.2l4.3 -3.7l-1.8 -0.6zM1042 527.6l4.3 0.7l2.2 -4l-2.2 -0.4zM1046.3 528.3l4.8 0.2l-0.2 -4.1l-2.4 -0.1zM1051.1 528.5l4.7 -0.3l-2.5 -4l-2.4 0.2zM1055.8 528.2l4.3 -0.8l-4.7 -3.6l-2.1 0.4zM1060.1 527.4l3.3 -1.2l-6.3 -3l-1.7 0.6zM1063.4 526.2l2.1 -1.5l-7.3 -2.3l-1.1 0.8zM1065.5 524.7l0.6 -1.7l-7.6 -1.4l-0.3 0.8zM1066.1 523l-0.9 -1.7l-7.2 -0.6l0.5 0.9zM1065.2 521.3l-2.3 -1.5l-6 0.2l1.1 0.7zM1062.9 519.8l-3.5 -1.1l-4.3 0.7l1.8 0.6zM1059.4 518.7l-4.3 -0.8l-2.2 1.1l2.2 0.4zM1055.1 517.9l-4.8 -0.2l0.2 1.2l2.4 0.1zM1050.3 517.7l-4.7 0.3l2.5 1l2.4 -0.1zM1045.6 518l-4.3 0.8l4.7 0.7l2.1 -0.5zM1041.3 518.8l-3.3 1.2l6.3 0.1l1.7 -0.6zM1038 520l-2.1 1.6l7.3 -0.7l1.1 -0.8zM1035.9 521.6l-0.6 1.7l7.6 -1.6l0.3 -0.8zM1035.3 523.3l0.9 1.6l7.2 -2.4l-0.5 -0.8zM1036.2 524.9l2.3 1.5l6 -3.1l-1.1 -0.8z"/>
<path fill="#efff10" d="M1044.5 523.3l1.8 0.6l4.4 -2.8zM1046.3 523.9l2.2 0.4l2.2 -3.2zM1048.5 524.3l2.4 0.1l-0.2 -3.3zM1050.9 524.4l2.4 -0.2l-2.6 -3.1zM1053.3 524.2l2.1 -0.4l-4.7 -2.7zM1055.4 523.8l1.7 -0.6l-6.4 -2.1zM1057.1 523.2l1.1 -0.8l-7.5 -1.3zM1058.2 522.4l0.3 -0.8l-7.8 -0.5zM1058.5 521.6l-0.5 -0.9l-7.3 0.4zM1058 520.7l-1.1 -0.7l-6.2 1.1zM1056.9 520l-1.8 -0.6l-4.4 1.7zM1055.1 519.4l-2.2 -0.4l-2.2 2.1zM1052.9 519l-2.4 -0.1l0.2 2.2zM1050.5 518.9l-2.4 0.1l2.6 2.1zM1048.1 519l-2.1 0.5l4.7 1.6zM1046 519.5l-1.7 0.6l6.4 1zM1044.3 520.1l-1.1 0.8l7.5 0.2zM1043.2 520.9l-0.3 0.8l7.8 -0.6zM1042.9 521.7l0.5 0.8l7.3 -1.4zM1043.4 522.5l1.1 0.8l6.2 -2.2z"/></g>
<g class="s"><path fill="#40ffbf" d="M693.9 618.7l3.5 1.1l-4.1 -0.3l-5.1 -1.7zM697.4 619.8l4.3 0.8l-2 0l-6.4 -1.1zM701.7 620.6l4.8 0.2l0.2 0.1l-7 -0.3zM706.5 620.8l4.7 -0.3l2.4 0l-6.9 0.4zM711.2 620.5l4.3 -0.8l4.4 -0.4l-6.3 1.2z"/>
<path fill="#40ffbf" d="M688.2 617.8l5.1 1.7l-3.8 -1.4l-6.6 -2.2zM693.3 619.5l6.4 1.1l-1.9 -1.1l-8.3 -1.4zM699.7 620.6l7 0.3l0.2 -1l-9.1 -0.4zM706.7 620.9l6.9 -0.4l2.3 -1.2l-9 0.6zM713.6 620.5l6.3 -1.2l4 -1.5l-8 1.5zM719.9 619.3l4.8 -1.8l5.5 -2l-6.3 2.3zM724.7 617.5l3.1 -2.3l6.4 -2.6l-4 2.9zM684.8 615.6l3.4 2.2l-5.3 -1.9l-4.4 -2.8z"/>
<path fill="#50ffaf" d="M682.9 615.9l6.6 2.2l-3.3 -2.4l-8 -2.6zM689.5 618.1l8.3 1.4l-1.7 -2.1l-9.9 -1.7zM697.8 619.5l9.1 0.4l0.1 -2l-10.9 -0.5zM706.9 619.9l9 -0.6l2 -2.1l-10.9 0.7zM715.9 619.3l8 -1.5l3.6 -2.5l-9.6 1.9zM723.9 617.8l6.3 -2.3l4.9 -3l-7.6 2.8zM730.2 615.5l4 -2.9l5.7 -3.6l-4.8 3.5zM678.5 613.1l4.4 2.8l-4.7 -2.8l-5.3 -3.5z"/>
<path fill="#50ffaf" d="M678.2 613.1l8 2.6l-2.9 -3.3l-9.2 -3.1zM686.2 615.7l9.9 1.7l-1.4 -3.1l-11.4 -1.9zM696.1 617.4l10.9 0.5l0.2 -3l-12.5 -0.6zM707 617.9l10.9 -0.7l1.6 -3.2l-12.3 0.9zM717.9 617.2l9.6 -1.9l3.1 -3.4l-11.1 2.1zM727.5 615.3l7.6 -2.8l4.2 -3.8l-8.7 3.2zM735.1 612.5l4.8 -3.5l4.8 -4.3l-5.4 4zM670.9 605.8l2 3.8l-4.8 -4.2l-2.3 -4.3zM672.9 609.6l5.3 3.5l-4.1 -3.8l-6 -3.9z"/>
<path fill="#60ff9f" d="M674.1 609.3l9.2 3.1l-2.3 -4.3l-10.1 -3.3zM683.3 612.4l11.4 1.9l-1.2 -4.1l-12.5 -2.1zM694.7 614.3l12.5 0.6l0.1 -4l-13.8 -0.7zM707.2 614.9l12.3 -0.9l1.4 -4l-13.6 0.9zM719.5 614l11.1 -2.1l2.5 -4.2l-12.2 2.3zM730.6 611.9l8.7 -3.2l3.4 -4.6l-9.6 3.6zM739.3 608.7l5.4 -4l3.9 -5l-5.9 4.4zM744.7 604.7l1.7 -4.4l4 -5.4l-1.8 4.8zM665.8 601.1l2.3 4.3l-3.8 -4.9l-2.5 -4.8zM668.1 605.4l6 3.9l-3.2 -4.5l-6.6 -4.3z"/>
<path fill="#60ff9f" d="M670.9 604.8l10.1 3.3l-1.7 -5l-10.8 -3.6zM681 608.1l12.5 2.1l-0.8 -4.8l-13.4 -2.3zM693.5 610.2l13.8 0.7l0 -4.8l-14.6 -0.7zM707.3 610.9l13.6 -0.9l1 -4.9l-14.6 1zM720.9 610l12.2 -2.3l1.8 -5.1l-13 2.5zM733.1 607.7l9.6 -3.6l2.4 -5.3l-10.2 3.8zM742.7 604.1l5.9 -4.4l2.9 -5.6l-6.4 4.7zM748.6 599.7l1.8 -4.8l3 -5.9l-1.9 5.1zM661.8 595.7l2.5 4.8l-2.8 -5.5l-2.7 -5.2zM664.3 600.5l6.6 4.3l-2.4 -5.3l-7 -4.5z"/>
<path fill="#70ff8f" d="M668.5 599.5l10.8 3.6l-1.1 -5.6l-11.1 -3.7zM679.3 603.1l13.4 2.3l-0.6 -5.6l-13.9 -2.3zM692.7 605.4l14.6 0.7l0.1 -5.6l-15.3 -0.7zM707.3 606.1l14.6 -1l0.6 -5.6l-15.1 1zM721.9 605.1l13 -2.5l1.1 -5.6l-13.5 2.5zM734.9 602.6l10.2 -3.8l1.5 -5.8l-10.6 4zM745.1 598.8l6.4 -4.7l1.8 -6l-6.7 4.9zM751.5 594.1l1.9 -5.1l1.9 -6.2l-2 5.3zM658.8 589.8l2.7 5.2l-1.8 -6l-2.8 -5.3zM661.5 595l7 4.5l-1.4 -5.7l-7.4 -4.8z"/>
<path fill="#80ff80" d="M667.1 593.8l11.1 3.7l-0.3 -6.2l-11.3 -3.7zM678.2 597.5l13.9 2.3l-0.1 -6.1l-14.1 -2.4zM692.1 599.8l15.3 0.7l0 -6.1l-15.4 -0.7zM707.4 600.5l15.1 -1l0.2 -6.1l-15.3 1zM722.5 599.5l13.5 -2.5l0.4 -6.2l-13.7 2.6zM736 597l10.6 -4l0.5 -6.2l-10.7 4zM746.6 593l6.7 -4.9l0.5 -6.2l-6.7 4.9zM753.3 588.1l2 -5.3l0.6 -6.4l-2.1 5.5zM658.9 578.3l-2 5.4l-0.6 -6.3l2.1 -5.5zM656.9 583.7l2.8 5.3l-0.5 -6.3l-2.9 -5.3zM659.7 589l7.4 4.8l-0.5 -6.2l-7.4 -4.9z"/>
<path fill="#8fff70" d="M666.6 587.6l11.3 3.7l0.3 -6.5l-11.1 -3.7zM677.9 591.3l14.1 2.4l0.1 -6.5l-13.9 -2.4zM692 593.7l15.4 0.7l0 -6.5l-15.3 -0.7zM707.4 594.4l15.3 -1l-0.2 -6.5l-15.1 1zM722.7 593.4l13.7 -2.6l-0.4 -6.5l-13.5 2.6zM736.4 590.8l10.7 -4l-0.5 -6.4l-10.6 3.9zM747.1 586.8l6.7 -4.9l-0.5 -6.4l-6.7 4.9zM753.8 581.9l2.1 -5.5l-0.6 -6.3l-2 5.4zM755.9 576.4l-2.9 -5.3l-0.5 -6.3l2.8 5.3zM658.4 571.9l-2.1 5.5l0.6 -6.4l2 -5.3zM656.3 577.4l2.9 5.3l0.5 -6.4l-2.8 -5.3zM659.2 582.7l7.4 4.9l0.5 -6.5l-7.4 -4.8z"/>
<path fill="#9fff60" d="M667.1 581.1l11.1 3.7l1.1 -6.7l-10.8 -3.6zM678.2 584.8l13.9 2.4l0.6 -6.8l-13.4 -2.3zM692.1 587.2l15.3 0.7l-0.1 -6.8l-14.6 -0.7zM707.4 587.9l15.1 -1l-0.6 -6.8l-14.6 1zM722.5 586.9l13.5 -2.6l-1.1 -6.7l-13 2.5zM736 584.3l10.6 -3.9l-1.5 -6.6l-10.2 3.8zM746.6 580.4l6.7 -4.9l-1.8 -6.4l-6.4 4.7zM753.3 575.5l2 -5.4l-1.9 -6.1l-1.9 5.1zM755.3 570.1l-2.8 -5.3l-1.8 -6l2.7 5.2zM658.9 565.7l-2 5.3l1.9 -6.2l1.9 -5.1zM656.9 571l2.8 5.3l1.8 -6.3l-2.7 -5.2zM659.7 576.3l7.4 4.8l1.4 -6.6l-7 -4.5z"/>
<path fill="#9fff60" d="M668.5 574.5l10.8 3.6l1.7 -6.7l-10.1 -3.4zM679.3 578.1l13.4 2.3l0.8 -6.9l-12.5 -2.1zM692.7 580.4l14.6 0.7l0 -7l-13.8 -0.6zM707.3 581.1l14.6 -1l-1 -6.9l-13.6 0.9zM721.9 580.1l13 -2.5l-1.8 -6.7l-12.2 2.3zM734.9 577.6l10.2 -3.8l-2.4 -6.4l-9.6 3.5zM745.1 573.8l6.4 -4.7l-2.9 -6.1l-5.9 4.4zM751.5 569.1l1.9 -5.1l-3 -5.9l-1.8 4.9zM753.4 564l-2.7 -5.2l-2.8 -5.5l2.5 4.8zM660.7 559.7l-1.9 5.1l3 -5.9l1.8 -4.8zM658.8 564.8l2.7 5.2l2.8 -6.3l-2.5 -4.8zM661.5 570l7 4.5l2.4 -6.5l-6.6 -4.3z"/>
<path fill="#afff50" d="M670.9 568l10.1 3.4l2.3 -6.6l-9.2 -3.1zM681 571.4l12.5 2.1l1.2 -6.8l-11.4 -1.9zM693.5 573.5l13.8 0.6l-0.1 -6.8l-12.5 -0.6zM707.3 574.1l13.6 -0.9l-1.4 -6.7l-12.3 0.8zM720.9 573.2l12.2 -2.3l-2.5 -6.5l-11.1 2.1zM733.1 570.9l9.6 -3.5l-3.4 -6.3l-8.7 3.3zM742.7 567.4l5.9 -4.4l-3.9 -5.9l-5.4 4zM748.6 563l1.8 -4.9l-4 -5.4l-1.7 4.4zM750.4 558.1l-2.5 -4.8l-3.8 -4.9l2.3 4.3zM747.9 553.3l-6.6 -4.3l-3.2 -4.5l6 3.9zM669.5 549.7l-5.9 4.4l3.9 -5l5.4 -4zM663.6 554.1l-1.8 4.8l4 -5.4l1.7 -4.4zM661.8 558.9l2.5 4.8l3.8 -5.9l-2.3 -4.3zM664.3 563.7l6.6 4.3l3.2 -6.3l-6 -3.9z"/>
<path fill="#bfff40" d="M674.1 561.7l9.2 3.1l2.9 -6.3l-8 -2.7zM683.3 564.8l11.4 1.9l1.4 -6.5l-9.9 -1.7zM694.7 566.7l12.5 0.6l-0.2 -6.6l-10.9 -0.5zM707.2 567.3l12.3 -0.8l-1.6 -6.5l-10.9 0.7zM719.5 566.5l11.1 -2.1l-3.1 -6.3l-9.6 1.9zM730.6 564.4l8.7 -3.3l-4.2 -5.8l-7.6 2.8zM739.3 561.1l5.4 -4l-4.8 -5.3l-4.8 3.5zM744.7 557.1l1.7 -4.4l-5.1 -4.7l-1.4 3.8zM746.4 552.7l-2.3 -4.3l-4.8 -4.2l2 3.8zM744.1 548.4l-6 -3.9l-4.1 -3.8l5.3 3.5zM672.9 545.1l-5.4 4l4.8 -4.3l4.8 -3.5zM667.5 549.1l-1.7 4.4l5.1 -4.9l1.4 -3.8zM665.8 553.5l2.3 4.3l4.8 -5.4l-2 -3.8zM668.1 557.8l6 3.9l4.1 -5.9l-5.3 -3.4z"/>
<path fill="#bfff40" d="M678.2 555.8l8 2.7l3.3 -5.9l-6.6 -2.2zM686.2 558.5l9.9 1.7l1.7 -6.2l-8.3 -1.4zM696.1 560.2l10.9 0.5l-0.1 -6.2l-9.1 -0.5zM707 560.7l10.9 -0.7l-2 -6.1l-9 0.6zM717.9 560l9.6 -1.9l-3.6 -5.8l-8 1.6zM727.5 558.1l7.6 -2.8l-4.9 -5.3l-6.3 2.3zM735.1 555.3l4.8 -3.5l-5.7 -4.7l-4 2.9zM739.9 551.8l1.4 -3.8l-5.9 -4.1l-1.2 3.2zM741.3 548l-2 -3.8l-5.6 -3.5l1.7 3.2zM739.3 544.2l-5.3 -3.5l-4.7 -2.8l4.4 2.8zM734 540.7l-8 -2.6l-3.3 -2.4l6.6 2.2zM684.7 538.5l-7.6 2.8l4.9 -3l6.3 -2.3zM677.1 541.3l-4.8 3.5l5.7 -3.6l4 -2.9zM672.3 544.8l-1.4 3.8l5.9 -4.2l1.2 -3.2zM670.9 548.6l2 3.8l5.6 -4.8l-1.7 -3.2zM672.9 552.4l5.3 3.4l4.7 -5.4l-4.4 -2.8z"/>
<path fill="#cfff30" d="M682.9 550.4l6.6 2.2l3.8 -5.2l-5.1 -1.7zM689.5 552.6l8.3 1.4l1.9 -5.5l-6.4 -1.1zM697.8 554l9.1 0.5l-0.2 -5.7l-7 -0.3zM706.9 554.5l9 -0.6l-2.3 -5.6l-6.9 0.5zM715.9 553.9l8 -1.6l-4 -5.1l-6.3 1.1zM723.9 552.3l6.3 -2.3l-5.5 -4.6l-4.8 1.8zM730.2 550l4 -2.9l-6.4 -4l-3.1 2.3zM734.2 547.1l1.2 -3.2l-6.7 -3.3l-0.9 2.5zM735.4 543.9l-1.7 -3.2l-6.3 -2.5l1.3 2.4zM733.7 540.7l-4.4 -2.8l-5.3 -1.9l3.4 2.2zM729.3 537.9l-6.6 -2.2l-3.8 -1.4l5.1 1.7zM722.7 535.7l-8.3 -1.4l-1.9 -1.1l6.4 1.1zM696.3 534.5l-8 1.5l4 -1.5l6.3 -1.2zM688.3 536l-6.3 2.3l5.5 -2l4.8 -1.8zM682 538.3l-4 2.9l6.4 -2.6l3.1 -2.3zM678 541.2l-1.2 3.2l6.7 -3.3l0.9 -2.5zM676.8 544.4l1.7 3.2l6.3 -4.1l-1.3 -2.4zM678.5 547.6l4.4 2.8l5.3 -4.7l-3.4 -2.2z"/>
<path fill="#cfff30" d="M688.2 545.7l5.1 1.7l4.1 -4.5l-3.5 -1.2zM693.3 547.4l6.4 1.1l2 -4.9l-4.3 -0.7zM699.7 548.5l7 0.3l-0.2 -5l-4.8 -0.2zM706.7 548.8l6.9 -0.5l-2.4 -4.8l-4.7 0.3zM713.6 548.3l6.3 -1.1l-4.4 -4.5l-4.3 0.8zM719.9 547.2l4.8 -1.8l-5.9 -3.9l-3.3 1.2zM724.7 545.4l3.1 -2.3l-6.9 -3.1l-2.1 1.5zM727.8 543.1l0.9 -2.5l-7.2 -2.3l-0.6 1.7zM728.7 540.6l-1.3 -2.4l-6.8 -1.6l0.9 1.7zM727.4 538.2l-3.4 -2.2l-5.7 -0.9l2.3 1.5zM724 536l-5.1 -1.7l-4.1 -0.3l3.5 1.1zM718.9 534.3l-6.4 -1.1l-2 0l4.3 0.8zM712.5 533.2l-7 -0.3l0.2 0.1l4.8 0.2zM705.5 532.9l-6.9 0.4l2.4 0l4.7 -0.3zM698.6 533.3l-6.3 1.2l4.4 -0.4l4.3 -0.8zM692.3 534.5l-4.8 1.8l5.9 -1l3.3 -1.2zM687.5 536.3l-3.1 2.3l6.9 -1.7l2.1 -1.6zM684.4 538.6l-0.9 2.5l7.2 -2.5l0.6 -1.7zM683.5 541.1l1.3 2.4l6.8 -3.3l-0.9 -1.6zM684.8 543.5l3.4 2.2l5.7 -4l-2.3 -1.5z"/>
<path fill="#dfff20" d="M693.9 541.7l3.5 1.2l4.3 -3.7l-1.8 -0.6zM697.4 542.9l4.3 0.7l2.2 -4l-2.2 -0.4zM701.7 543.6l4.8 0.2l-0.2 -4.1l-2.4 -0.1zM706.5 543.8l4.7 -0.3l-2.5 -4l-2.4 0.2zM711.2 543.5l4.3 -0.8l-4.7 -3.6l-2.1 0.4zM715.5 542.7l3.3 -1.2l-6.3 -3l-1.7 0.6zM718.8 541.5l2.1 -1.5l-7.3 -2.3l-1.1 0.8zM720.9 540l0.6 -1.7l-7.6 -1.4l-0.3 0.8zM721.5 538.3l-0.9 -1.7l-7.2 -0.6l0.5 0.9zM720.6 536.6l-2.3 -1.5l-6 0.2l1.1 0.7zM718.3 535.1l-3.5 -1.1l-4.3 0.7l1.8 0.6zM714.8 534l-4.3 -0.8l-2.2 1.1l2.2 0.4zM710.5 533.2l-4.8 -0.2l0.2 1.2l2.4 0.1zM705.7 533l-4.7 0.3l2.5 1l2.4 -0.1zM701 533.3l-4.3 0.8l4.7 0.7l2.1 -0.5zM696.7 534.1l-3.3 1.2l6.3 0.1l1.7 -0.6zM693.4 535.3l-2.1 1.6l7.3 -0.7l1.1 -0.8zM691.3 536.9l-0.6 1.7l7.6 -1.6l0.3 -0.8zM690.7 538.6l0.9 1.6l7.2 -2.4l-0.5 -0.8zM691.6 540.2l2.3 1.5l6 -3.1l-1.1 -0.8z"/>
<path fill="#dfff20" d="M699.9 538.6l1.8 0.6l4.4 -2.8zM701.7 539.2l2.2 0.4l2.2 -3.2zM703.9 539.6l2.4 0.1l-0.2 -3.3zM706.3 539.7l2.4 -0.2l-2.6 -3.1zM708.7 539.5l2.1 -0.4l-4.7 -2.7zM710.8 539.1l1.7 -0.6l-6.4 -2.1zM712.5 538.5l1.1 -0.8l-7.5 -1.3zM713.6 537.7l0.3 -0.8l-7.8 -0.5zM713.9 536.9l-0.5 -0.9l-7.3 0.4zM713.4 536l-1.1 -0.7l-6.2 1.1zM712.3 535.3l-1.8 -0.6l-4.4 1.7zM710.5 534.7l-2.2 -0.4l-2.2 2.1zM708.3 534.3l-2.4 -0.1l0.2 2.2zM705.9 534.2l-2.4 0.1l2.6 2.1zM703.5 534.3l-2.1 0.5l4.7 1.6zM701.4 534.8l-1.7 0.6l6.4 1zM699.7 535.4l-1.1 0.8l7.5 0.2zM698.6 536.2l-0.3 0.8l7.8 -0.6zM698.3 537l0.5 0.8l7.3 -1.4zM698.8 537.8l1.1 0.8l6.2 -2.2z"/></g>
<g class="s"><path fill="#00dfff" d="M860.1 708.9l3.6 1.2l-4.2 -0.3l-5.2 -1.8zM863.7 710.1l4.4 0.7l-2.1 0l-6.5 -1zM868.1 710.8l4.8 0.3l0.2 0.1l-7.1 -0.4zM872.9 711.1l4.8 -0.4l2.5 0l-7.1 0.5zM877.7 710.7l4.3 -0.8l4.5 -0.4l-6.3 1.2z"/>
<path fill="#00dfff" d="M854.3 708l5.2 1.8l-3.8 -1.5l-6.8 -2.2zM859.5 709.8l6.5 1l-1.9 -1l-8.4 -1.5zM866 710.8l7.1 0.4l0.2 -1l-9.2 -0.4zM873.1 711.2l7.1 -0.5l2.2 -1.1l-9.1 0.6zM880.2 710.7l6.3 -1.2l4.1 -1.5l-8.2 1.6zM886.5 709.5l4.9 -1.8l5.6 -2l-6.4 2.3zM891.4 707.7l3.1 -2.3l6.5 -2.7l-4 3zM850.9 705.8l3.4 2.2l-5.4 -1.9l-4.4 -2.9z"/>
<path fill="#00efff" d="M848.9 706.1l6.8 2.2l-3.4 -2.4l-8.1 -2.7zM855.7 708.3l8.4 1.5l-1.7 -2.2l-10.1 -1.7zM864.1 709.8l9.2 0.4l0.1 -2.1l-11 -0.5zM873.3 710.2l9.1 -0.6l2 -2.2l-11 0.7zM882.4 709.6l8.2 -1.6l3.7 -2.5l-9.9 1.9zM890.6 708l6.4 -2.3l4.9 -3l-7.6 2.8zM897 705.7l4 -3l5.8 -3.6l-4.9 3.6zM844.5 703.2l4.4 2.9l-4.7 -2.9l-5.4 -3.5z"/>
<path fill="#00efff" d="M844.2 703.2l8.1 2.7l-3 -3.4l-9.2 -3.1zM852.3 705.9l10.1 1.7l-1.5 -3.2l-11.6 -1.9zM862.4 707.6l11 0.5l0.2 -3.1l-12.7 -0.6zM873.4 708.1l11 -0.7l1.7 -3.2l-12.5 0.8zM884.4 707.4l9.9 -1.9l3.1 -3.4l-11.3 2.1zM894.3 705.5l7.6 -2.8l4.3 -3.9l-8.8 3.3zM901.9 702.7l4.9 -3.6l4.9 -4.4l-5.5 4.1zM836.8 695.9l2 3.8l-4.8 -4.3l-2.4 -4.4zM838.8 699.7l5.4 3.5l-4.1 -3.8l-6.1 -4z"/>
<path fill="#00ffff" d="M840.1 699.4l9.2 3.1l-2.3 -4.3l-10.2 -3.4zM849.3 702.5l11.6 1.9l-1.2 -4.1l-12.7 -2.1zM860.9 704.4l12.7 0.6l0.1 -4l-14 -0.7zM873.6 705l12.5 -0.8l1.4 -4.1l-13.8 0.9zM886.1 704.2l11.3 -2.1l2.5 -4.4l-12.4 2.4zM897.4 702.1l8.8 -3.3l3.4 -4.7l-9.7 3.6zM906.2 698.8l5.5 -4.1l4 -5.1l-6.1 4.5zM911.7 694.7l1.7 -4.4l4.1 -5.6l-1.8 4.9zM831.6 691l2.4 4.4l-3.9 -5l-2.6 -4.8zM834 695.4l6.1 4l-3.3 -4.6l-6.7 -4.4z"/>
<path fill="#00ffff" d="M836.8 694.8l10.2 3.4l-1.7 -5.1l-10.9 -3.6zM847 698.2l12.7 2.1l-0.9 -4.9l-13.5 -2.3zM859.7 700.3l14 0.7l0.1 -4.9l-15 -0.7zM873.7 701l13.8 -0.9l1 -5l-14.7 1zM887.5 700.1l12.4 -2.4l1.9 -5.1l-13.3 2.5zM899.9 697.7l9.7 -3.6l2.5 -5.3l-10.3 3.8zM909.6 694.1l6.1 -4.5l2.9 -5.6l-6.5 4.8zM915.7 689.6l1.8 -4.9l3 -5.9l-1.9 5.2zM827.5 685.6l2.6 4.8l-2.9 -5.6l-2.7 -5.2zM830.1 690.4l6.7 4.4l-2.4 -5.3l-7.2 -4.7z"/>
<path fill="#10ffef" d="M834.4 689.5l10.9 3.6l-1.1 -5.7l-11.3 -3.8zM845.3 693.1l13.5 2.3l-0.5 -5.6l-14.1 -2.4zM858.8 695.4l15 0.7l0 -5.6l-15.5 -0.7zM873.8 696.1l14.7 -1l0.7 -5.6l-15.4 1zM888.5 695.1l13.3 -2.5l1.1 -5.7l-13.7 2.6zM901.8 692.6l10.3 -3.8l1.5 -5.9l-10.7 4zM912.1 688.8l6.5 -4.8l1.8 -6.1l-6.8 5zM918.6 684l1.9 -5.2l1.9 -6.3l-2 5.4zM824.5 679.6l2.7 5.2l-1.8 -6l-2.8 -5.4zM827.2 684.8l7.2 4.7l-1.5 -5.9l-7.5 -4.8z"/>
<path fill="#20ffdf" d="M832.9 683.6l11.3 3.8l-0.3 -6.2l-11.5 -3.9zM844.2 687.4l14.1 2.4l-0.2 -6.2l-14.2 -2.4zM858.3 689.8l15.5 0.7l0 -6.2l-15.7 -0.7zM873.8 690.5l15.4 -1l0.2 -6.2l-15.6 1zM889.2 689.5l13.7 -2.6l0.4 -6.3l-13.9 2.7zM902.9 686.9l10.7 -4l0.5 -6.3l-10.8 4zM913.6 682.9l6.8 -5l0.6 -6.3l-6.9 5zM920.4 677.9l2 -5.4l0.6 -6.5l-2 5.6zM824.6 667.9l-2 5.5l-0.6 -6.4l2 -5.6zM822.6 673.4l2.8 5.4l-0.5 -6.4l-2.9 -5.4zM825.4 678.8l7.5 4.8l-0.5 -6.3l-7.5 -4.9z"/>
<path fill="#30ffcf" d="M832.4 677.3l11.5 3.9l0.3 -6.6l-11.3 -3.8zM843.9 681.2l14.2 2.4l0.2 -6.7l-14.1 -2.3zM858.1 683.6l15.7 0.7l0 -6.7l-15.5 -0.7zM873.8 684.3l15.6 -1l-0.2 -6.7l-15.4 1zM889.4 683.3l13.9 -2.7l-0.4 -6.6l-13.7 2.6zM903.3 680.6l10.8 -4l-0.5 -6.6l-10.7 4zM914.1 676.6l6.9 -5l-0.6 -6.5l-6.8 4.9zM921 671.6l2 -5.6l-0.6 -6.4l-2 5.5zM923 666l-2.9 -5.4l-0.5 -6.4l2.8 5.4zM824 661.4l-2 5.6l0.6 -6.5l2 -5.4zM822 667l2.9 5.4l0.5 -6.5l-2.8 -5.4zM824.9 672.4l7.5 4.9l0.5 -6.5l-7.5 -4.9z"/>
<path fill="#40ffbf" d="M832.9 670.8l11.3 3.8l1.1 -6.9l-10.9 -3.6zM844.2 674.6l14.1 2.3l0.5 -6.9l-13.5 -2.3zM858.3 676.9l15.5 0.7l0 -6.9l-15 -0.7zM873.8 677.6l15.4 -1l-0.7 -6.8l-14.7 0.9zM889.2 676.6l13.7 -2.6l-1.1 -6.8l-13.3 2.6zM902.9 674l10.7 -4l-1.5 -6.6l-10.3 3.8zM913.6 670l6.8 -4.9l-1.8 -6.5l-6.5 4.8zM920.4 665.1l2 -5.5l-1.9 -6.2l-1.9 5.2zM922.4 659.6l-2.8 -5.4l-1.8 -6l2.7 5.2zM824.6 655.1l-2 5.4l1.9 -6.3l1.9 -5.2zM822.6 660.5l2.8 5.4l1.8 -6.4l-2.7 -5.3zM825.4 665.9l7.5 4.9l1.5 -6.7l-7.2 -4.6z"/>
<path fill="#40ffbf" d="M834.4 664.1l10.9 3.6l1.7 -6.8l-10.2 -3.4zM845.3 667.7l13.5 2.3l0.9 -7l-12.7 -2.1zM858.8 670l15 0.7l-0.1 -7l-14 -0.7zM873.8 670.7l14.7 -0.9l-1 -7l-13.8 0.9zM888.5 669.8l13.3 -2.6l-1.9 -6.8l-12.4 2.4zM901.8 667.2l10.3 -3.8l-2.5 -6.6l-9.7 3.6zM912.1 663.4l6.5 -4.8l-2.9 -6.2l-6.1 4.4zM918.6 658.6l1.9 -5.2l-3 -6l-1.8 5zM920.5 653.4l-2.7 -5.2l-2.9 -5.6l2.6 4.8zM826.4 649l-1.9 5.2l3 -5.9l1.8 -4.9zM824.5 654.2l2.7 5.3l2.9 -6.4l-2.6 -4.8zM827.2 659.5l7.2 4.6l2.4 -6.6l-6.7 -4.4z"/>
<path fill="#50ffaf" d="M836.8 657.5l10.2 3.4l2.3 -6.7l-9.2 -3.1zM847 660.9l12.7 2.1l1.2 -6.8l-11.6 -2zM859.7 663l14 0.7l-0.1 -7l-12.7 -0.5zM873.7 663.7l13.8 -0.9l-1.4 -6.9l-12.5 0.8zM887.5 662.8l12.4 -2.4l-2.5 -6.6l-11.3 2.1zM899.9 660.4l9.7 -3.6l-3.4 -6.3l-8.8 3.3zM909.6 656.8l6.1 -4.4l-4 -6l-5.5 4.1zM915.7 652.4l1.8 -5l-4.1 -5.4l-1.7 4.4zM917.5 647.4l-2.6 -4.8l-3.9 -5l2.4 4.4zM914.9 642.6l-6.7 -4.4l-3.3 -4.6l6.1 4zM835.4 638.9l-6.1 4.5l4 -5.1l5.5 -4.1zM829.3 643.4l-1.8 4.9l4.1 -5.6l1.7 -4.4zM827.5 648.3l2.6 4.8l3.9 -5.9l-2.4 -4.5zM830.1 653.1l6.7 4.4l3.3 -6.4l-6.1 -3.9z"/>
<path fill="#60ff9f" d="M840.1 651.1l9.2 3.1l3 -6.4l-8.1 -2.7zM849.3 654.2l11.6 2l1.5 -6.7l-10.1 -1.7zM860.9 656.2l12.7 0.5l-0.2 -6.7l-11 -0.5zM873.6 656.7l12.5 -0.8l-1.7 -6.6l-11 0.7zM886.1 655.9l11.3 -2.1l-3.1 -6.4l-9.9 1.9zM897.4 653.8l8.8 -3.3l-4.3 -5.9l-7.6 2.8zM906.2 650.5l5.5 -4.1l-4.9 -5.4l-4.9 3.6zM911.7 646.4l1.7 -4.4l-5.2 -4.9l-1.4 3.9zM913.4 642l-2.4 -4.4l-4.8 -4.3l2 3.8zM911 637.6l-6.1 -4l-4.1 -3.8l5.4 3.5zM838.8 634.2l-5.5 4.1l4.9 -4.4l4.9 -3.6zM833.3 638.3l-1.7 4.4l5.2 -4.9l1.4 -3.9zM831.6 642.7l2.4 4.5l4.8 -5.5l-2 -3.9zM834 647.2l6.1 3.9l4.1 -6l-5.4 -3.4z"/>
<path fill="#60ff9f" d="M844.2 645.1l8.1 2.7l3.4 -5.9l-6.8 -2.3zM852.3 647.8l10.1 1.7l1.7 -6.2l-8.4 -1.4zM862.4 649.5l11 0.5l-0.1 -6.3l-9.2 -0.4zM873.4 650l11 -0.7l-2 -6.2l-9.1 0.6zM884.4 649.3l9.9 -1.9l-3.7 -5.8l-8.2 1.5zM894.3 647.4l7.6 -2.8l-4.9 -5.4l-6.4 2.4zM901.9 644.6l4.9 -3.6l-5.8 -4.8l-4 3zM906.8 641l1.4 -3.9l-6 -4.1l-1.2 3.2zM908.2 637.1l-2 -3.8l-5.7 -3.5l1.7 3.2zM906.2 633.3l-5.4 -3.5l-4.7 -2.9l4.4 2.9zM900.8 629.8l-8.1 -2.7l-3.4 -2.4l6.8 2.2zM850.7 627.5l-7.6 2.8l4.9 -3l6.4 -2.3zM843.1 630.3l-4.9 3.6l5.8 -3.6l4 -3zM838.2 633.9l-1.4 3.9l6 -4.3l1.2 -3.2zM836.8 637.8l2 3.9l5.7 -4.9l-1.7 -3.3zM838.8 641.7l5.4 3.4l4.7 -5.5l-4.4 -2.8z"/>
<path fill="#70ff8f" d="M848.9 639.6l6.8 2.3l3.8 -5.3l-5.2 -1.8zM855.7 641.9l8.4 1.4l1.9 -5.7l-6.5 -1zM864.1 643.3l9.2 0.4l-0.2 -5.7l-7.1 -0.4zM873.3 643.7l9.1 -0.6l-2.2 -5.6l-7.1 0.5zM882.4 643.1l8.2 -1.5l-4.1 -5.3l-6.3 1.2zM890.6 641.6l6.4 -2.4l-5.6 -4.7l-4.9 1.8zM897 639.2l4 -3l-6.5 -4l-3.1 2.3zM901 636.2l1.2 -3.2l-6.8 -3.3l-0.9 2.5zM902.2 633l-1.7 -3.2l-6.4 -2.6l1.3 2.5zM900.5 629.8l-4.4 -2.9l-5.4 -1.9l3.4 2.2zM896.1 626.9l-6.8 -2.2l-3.8 -1.5l5.2 1.8zM889.3 624.7l-8.4 -1.5l-1.9 -1l6.5 1zM862.6 623.4l-8.2 1.6l4.1 -1.5l6.3 -1.2zM854.4 625l-6.4 2.3l5.6 -2l4.9 -1.8zM848 627.3l-4 3l6.5 -2.7l3.1 -2.3zM844 630.3l-1.2 3.2l6.8 -3.4l0.9 -2.5zM842.8 633.5l1.7 3.3l6.4 -4.2l-1.3 -2.5zM844.5 636.8l4.4 2.8l5.4 -4.8l-3.4 -2.2z"/>
<path fill="#70ff8f" d="M854.3 634.8l5.2 1.8l4.2 -4.6l-3.6 -1.2zM859.5 636.6l6.5 1l2.1 -4.9l-4.4 -0.7zM866 637.6l7.1 0.4l-0.2 -5.1l-4.8 -0.2zM873.1 638l7.1 -0.5l-2.5 -4.9l-4.8 0.3zM880.2 637.5l6.3 -1.2l-4.5 -4.5l-4.3 0.8zM886.5 636.3l4.9 -1.8l-6 -3.9l-3.4 1.2zM891.4 634.5l3.1 -2.3l-7 -3.2l-2.1 1.6zM894.5 632.2l0.9 -2.5l-7.3 -2.4l-0.6 1.7zM895.4 629.7l-1.3 -2.5l-6.9 -1.6l0.9 1.7zM894.1 627.2l-3.4 -2.2l-5.8 -0.9l2.3 1.5zM890.7 625l-5.2 -1.8l-4.2 -0.3l3.6 1.2zM885.5 623.2l-6.5 -1l-2.1 0l4.4 0.7zM879 622.2l-7.1 -0.4l0.2 0.1l4.8 0.3zM871.9 621.8l-7.1 0.5l2.5 0l4.8 -0.4zM864.8 622.3l-6.3 1.2l4.5 -0.4l4.3 -0.8zM858.5 623.5l-4.9 1.8l6 -1l3.4 -1.2zM853.6 625.3l-3.1 2.3l7 -1.7l2.1 -1.6zM850.5 627.6l-0.9 2.5l7.3 -2.5l0.6 -1.7zM849.6 630.1l1.3 2.5l6.9 -3.3l-0.9 -1.7zM850.9 632.6l3.4 2.2l5.8 -4l-2.3 -1.5z"/>
<path fill="#80ff80" d="M860.1 630.8l3.6 1.2l4.3 -3.8l-1.8 -0.6zM863.7 632l4.4 0.7l2.2 -4.1l-2.3 -0.4zM868.1 632.7l4.8 0.2l-0.2 -4.2l-2.4 -0.1zM872.9 632.9l4.8 -0.3l-2.6 -4l-2.4 0.1zM877.7 632.6l4.3 -0.8l-4.7 -3.7l-2.2 0.5zM882 631.8l3.4 -1.2l-6.4 -3.1l-1.7 0.6zM885.4 630.6l2.1 -1.6l-7.4 -2.3l-1.1 0.8zM887.5 629l0.6 -1.7l-7.7 -1.4l-0.3 0.8zM888.1 627.3l-0.9 -1.7l-7.2 -0.6l0.4 0.9zM887.2 625.6l-2.3 -1.5l-6.1 0.1l1.2 0.8zM884.9 624.1l-3.6 -1.2l-4.3 0.7l1.8 0.6zM881.3 622.9l-4.4 -0.7l-2.2 1.1l2.3 0.3zM876.9 622.2l-4.8 -0.3l0.2 1.3l2.4 0.1zM872.1 621.9l-4.8 0.4l2.6 1l2.4 -0.1zM867.3 622.3l-4.3 0.8l4.7 0.6l2.2 -0.4zM863 623.1l-3.4 1.2l6.4 0.1l1.7 -0.7zM859.6 624.3l-2.1 1.6l7.4 -0.8l1.1 -0.7zM857.5 625.9l-0.6 1.7l7.7 -1.6l0.3 -0.9zM856.9 627.6l0.9 1.7l7.2 -2.4l-0.4 -0.9zM857.8 629.3l2.3 1.5l6.1 -3.2l-1.2 -0.7z"/>
<path fill="#80ff80" d="M866.2 627.6l1.8 0.6l4.5 -2.8zM868 628.2l2.3 0.4l2.2 -3.2zM870.3 628.6l2.4 0.1l-0.2 -3.3zM872.7 628.7l2.4 -0.1l-2.6 -3.2zM875.1 628.6l2.2 -0.5l-4.8 -2.7zM877.3 628.1l1.7 -0.6l-6.5 -2.1zM879 627.5l1.1 -0.8l-7.6 -1.3zM880.1 626.7l0.3 -0.8l-7.9 -0.5zM880.4 625.9l-0.4 -0.9l-7.5 0.4zM880 625l-1.2 -0.8l-6.3 1.2zM878.8 624.2l-1.8 -0.6l-4.5 1.8zM877 623.6l-2.3 -0.3l-2.2 2.1zM874.7 623.3l-2.4 -0.1l0.2 2.2zM872.3 623.2l-2.4 0.1l2.6 2.1zM869.9 623.3l-2.2 0.4l4.8 1.7zM867.7 623.7l-1.7 0.7l6.5 1zM866 624.4l-1.1 0.7l7.6 0.3zM864.9 625.1l-0.3 0.9l7.9 -0.6zM864.6 626l0.4 0.9l7.5 -1.5zM865 626.9l1.2 0.7l6.3 -2.2z"/></g>
<g class="s"><path fill="#008fff" d="M990.9 784l3.5 1.1l-4.1 -0.3l-5.1 -1.7zM994.4 785.1l4.3 0.8l-2 0l-6.4 -1.1zM998.7 785.9l4.8 0.2l0.2 0.1l-7 -0.3zM1003.5 786.1l4.7 -0.3l2.4 0l-6.9 0.4zM1008.2 785.8l4.3 -0.8l4.4 -0.4l-6.3 1.2z"/>
<path fill="#008fff" d="M985.2 783.1l5.1 1.7l-3.8 -1.4l-6.6 -2.2zM990.3 784.8l6.4 1.1l-1.9 -1.1l-8.3 -1.4zM996.7 785.9l7 0.3l0.2 -1l-9.1 -0.4zM1003.7 786.2l6.9 -0.4l2.3 -1.2l-9 0.6zM1010.6 785.8l6.3 -1.2l4 -1.5l-8 1.5zM1016.9 784.6l4.8 -1.8l5.5 -2l-6.3 2.3zM1021.7 782.8l3.1 -2.3l6.4 -2.6l-4 2.9zM981.8 780.9l3.4 2.2l-5.3 -1.9l-4.4 -2.8z"/>
<path fill="#009fff" d="M979.9 781.2l6.6 2.2l-3.3 -2.4l-8 -2.6zM986.5 783.4l8.3 1.4l-1.7 -2.1l-9.9 -1.7zM994.8 784.8l9.1 0.4l0.1 -2l-10.9 -0.5zM1003.9 785.2l9 -0.6l2 -2.1l-10.9 0.7zM1012.9 784.6l8 -1.5l3.6 -2.5l-9.6 1.9zM1020.9 783.1l6.3 -2.3l4.9 -3l-7.6 2.8zM1027.2 780.8l4 -2.9l5.7 -3.6l-4.8 3.5zM975.5 778.4l4.4 2.8l-4.7 -2.8l-5.3 -3.5z"/>
<path fill="#009fff" d="M975.2 778.4l8 2.6l-2.9 -3.3l-9.2 -3.1zM983.2 781l9.9 1.7l-1.4 -3.1l-11.4 -1.9zM993.1 782.7l10.9 0.5l0.2 -3l-12.5 -0.6zM1004 783.2l10.9 -0.7l1.6 -3.2l-12.3 0.9zM1014.9 782.5l9.6 -1.9l3.1 -3.4l-11.1 2.1zM1024.5 780.6l7.6 -2.8l4.2 -3.8l-8.7 3.2zM1032.1 777.8l4.8 -3.5l4.8 -4.3l-5.4 4zM967.9 771.1l2 3.8l-4.8 -4.2l-2.3 -4.3zM969.9 774.9l5.3 3.5l-4.1 -3.8l-6 -3.9z"/>
<path fill="#00afff" d="M971.1 774.6l9.2 3.1l-2.3 -4.3l-10.1 -3.3zM980.3 777.7l11.4 1.9l-1.2 -4.1l-12.5 -2.1zM991.7 779.6l12.5 0.6l0.1 -4l-13.8 -0.7zM1004.2 780.2l12.3 -0.9l1.4 -4l-13.6 0.9zM1016.5 779.3l11.1 -2.1l2.5 -4.2l-12.2 2.3zM1027.6 777.2l8.7 -3.2l3.4 -4.6l-9.6 3.6zM1036.3 774l5.4 -4l3.9 -5l-5.9 4.4zM1041.7 770l1.7 -4.4l4 -5.4l-1.8 4.8zM962.8 766.4l2.3 4.3l-3.8 -4.9l-2.5 -4.8zM965.1 770.7l6 3.9l-3.2 -4.5l-6.6 -4.3z"/>
<path fill="#00bfff" d="M967.9 770.1l10.1 3.3l-1.7 -5l-10.8 -3.6zM978 773.4l12.5 2.1l-0.8 -4.8l-13.4 -2.3zM990.5 775.5l13.8 0.7l0 -4.8l-14.6 -0.7zM1004.3 776.2l13.6 -0.9l1 -4.9l-14.6 1zM1017.9 775.3l12.2 -2.3l1.8 -5.1l-13 2.5zM1030.1 773l9.6 -3.6l2.4 -5.3l-10.2 3.8zM1039.7 769.4l5.9 -4.4l2.9 -5.6l-6.4 4.7zM1045.6 765l1.8 -4.8l3 -5.9l-1.9 5.1zM958.8 761l2.5 4.8l-2.8 -5.5l-2.7 -5.2zM961.3 765.8l6.6 4.3l-2.4 -5.3l-7 -4.5z"/>
<path fill="#00bfff" d="M965.5 764.8l10.8 3.6l-1.1 -5.6l-11.1 -3.7zM976.3 768.4l13.4 2.3l-0.6 -5.6l-13.9 -2.3zM989.7 770.7l14.6 0.7l0.1 -5.6l-15.3 -0.7zM1004.3 771.4l14.6 -1l0.6 -5.6l-15.1 1zM1018.9 770.4l13 -2.5l1.1 -5.6l-13.5 2.5zM1031.9 767.9l10.2 -3.8l1.5 -5.8l-10.6 4zM1042.1 764.1l6.4 -4.7l1.8 -6l-6.7 4.9zM1048.5 759.4l1.9 -5.1l1.9 -6.2l-2 5.3zM955.8 755.1l2.7 5.2l-1.8 -6l-2.8 -5.3zM958.5 760.3l7 4.5l-1.4 -5.7l-7.4 -4.8z"/>
<path fill="#00cfff" d="M964.1 759.1l11.1 3.7l-0.3 -6.2l-11.3 -3.7zM975.2 762.8l13.9 2.3l-0.1 -6.1l-14.1 -2.4zM989.1 765.1l15.3 0.7l0 -6.1l-15.4 -0.7zM1004.4 765.8l15.1 -1l0.2 -6.1l-15.3 1zM1019.5 764.8l13.5 -2.5l0.4 -6.2l-13.7 2.6zM1033 762.3l10.6 -4l0.5 -6.2l-10.7 4zM1043.6 758.3l6.7 -4.9l0.5 -6.2l-6.7 4.9zM1050.3 753.4l2 -5.3l0.6 -6.4l-2.1 5.5zM955.9 743.6l-2 5.4l-0.6 -6.3l2.1 -5.5zM953.9 749l2.8 5.3l-0.5 -6.3l-2.9 -5.3zM956.7 754.3l7.4 4.8l-0.5 -6.2l-7.4 -4.9z"/>
<path fill="#00dfff" d="M963.6 752.9l11.3 3.7l0.3 -6.5l-11.1 -3.7zM974.9 756.6l14.1 2.4l0.1 -6.5l-13.9 -2.4zM989 759l15.4 0.7l0 -6.5l-15.3 -0.7zM1004.4 759.7l15.3 -1l-0.2 -6.5l-15.1 1zM1019.7 758.7l13.7 -2.6l-0.4 -6.5l-13.5 2.6zM1033.4 756.1l10.7 -4l-0.5 -6.4l-10.6 3.9zM1044.1 752.1l6.7 -4.9l-0.5 -6.4l-6.7 4.9zM1050.8 747.2l2.1 -5.5l-0.6 -6.3l-2 5.4zM1052.9 741.7l-2.9 -5.3l-0.5 -6.3l2.8 5.3zM955.4 737.2l-2.1 5.5l0.6 -6.4l2 -5.3zM953.3 742.7l2.9 5.3l0.5 -6.4l-2.8 -5.3zM956.2 748l7.4 4.9l0.5 -6.5l-7.4 -4.8z"/>
<path fill="#00efff" d="M964.1 746.4l11.1 3.7l1.1 -6.7l-10.8 -3.6zM975.2 750.1l13.9 2.4l0.6 -6.8l-13.4 -2.3zM989.1 752.5l15.3 0.7l-0.1 -6.8l-14.6 -0.7zM1004.4 753.2l15.1 -1l-0.6 -6.8l-14.6 1zM1019.5 752.2l13.5 -2.6l-1.1 -6.7l-13 2.5zM1033 749.6l10.6 -3.9l-1.5 -6.6l-10.2 3.8zM1043.6 745.7l6.7 -4.9l-1.8 -6.4l-6.4 4.7zM1050.3 740.8l2 -5.4l-1.9 -6.1l-1.9 5.1zM1052.3 735.4l-2.8 -5.3l-1.8 -6l2.7 5.2zM955.9 731l-2 5.3l1.9 -6.2l1.9 -5.1zM953.9 736.3l2.8 5.3l1.8 -6.3l-2.7 -5.2zM956.7 741.6l7.4 4.8l1.4 -6.6l-7 -4.5z"/>
<path fill="#00ffff" d="M965.5 739.8l10.8 3.6l1.7 -6.7l-10.1 -3.4zM976.3 743.4l13.4 2.3l0.8 -6.9l-12.5 -2.1zM989.7 745.7l14.6 0.7l0 -7l-13.8 -0.6zM1004.3 746.4l14.6 -1l-1 -6.9l-13.6 0.9zM1018.9 745.4l13 -2.5l-1.8 -6.7l-12.2 2.3zM1031.9 742.9l10.2 -3.8l-2.4 -6.4l-9.6 3.5zM1042.1 739.1l6.4 -4.7l-2.9 -6.1l-5.9 4.4zM1048.5 734.4l1.9 -5.1l-3 -5.9l-1.8 4.9zM1050.4 729.3l-2.7 -5.2l-2.8 -5.5l2.5 4.8zM957.7 725l-1.9 5.1l3 -5.9l1.8 -4.8zM955.8 730.1l2.7 5.2l2.8 -6.3l-2.5 -4.8zM958.5 735.3l7 4.5l2.4 -6.5l-6.6 -4.3z"/>
<path fill="#00ffff" d="M967.9 733.3l10.1 3.4l2.3 -6.6l-9.2 -3.1zM978 736.7l12.5 2.1l1.2 -6.8l-11.4 -1.9zM990.5 738.8l13.8 0.6l-0.1 -6.8l-12.5 -0.6zM1004.3 739.4l13.6 -0.9l-1.4 -6.7l-12.3 0.8zM1017.9 738.5l12.2 -2.3l-2.5 -6.5l-11.1 2.1zM1030.1 736.2l9.6 -3.5l-3.4 -6.3l-8.7 3.3zM1039.7 732.7l5.9 -4.4l-3.9 -5.9l-5.4 4zM1045.6 728.3l1.8 -4.9l-4 -5.4l-1.7 4.4zM1047.4 723.4l-2.5 -4.8l-3.8 -4.9l2.3 4.3zM1044.9 718.6l-6.6 -4.3l-3.2 -4.5l6 3.9zM966.5 715l-5.9 4.4l3.9 -5l5.4 -4zM960.6 719.4l-1.8 4.8l4 -5.4l1.7 -4.4zM958.8 724.2l2.5 4.8l3.8 -5.9l-2.3 -4.3zM961.3 729l6.6 4.3l3.2 -6.3l-6 -3.9z"/>
<path fill="#10ffef" d="M971.1 727l9.2 3.1l2.9 -6.3l-8 -2.7zM980.3 730.1l11.4 1.9l1.4 -6.5l-9.9 -1.7zM991.7 732l12.5 0.6l-0.2 -6.6l-10.9 -0.5zM1004.2 732.6l12.3 -0.8l-1.6 -6.5l-10.9 0.7zM1016.5 731.8l11.1 -2.1l-3.1 -6.3l-9.6 1.9zM1027.6 729.7l8.7 -3.3l-4.2 -5.8l-7.6 2.8zM1036.3 726.4l5.4 -4l-4.8 -5.3l-4.8 3.5zM1041.7 722.4l1.7 -4.4l-5.1 -4.7l-1.4 3.8zM1043.4 718l-2.3 -4.3l-4.8 -4.2l2 3.8zM1041.1 713.7l-6 -3.9l-4.1 -3.8l5.3 3.5zM969.9 710.4l-5.4 4l4.8 -4.3l4.8 -3.5zM964.5 714.4l-1.7 4.4l5.1 -4.9l1.4 -3.8zM962.8 718.8l2.3 4.3l4.8 -5.4l-2 -3.8zM965.1 723.1l6 3.9l4.1 -5.9l-5.3 -3.4z"/>
<path fill="#20ffdf" d="M975.2 721.1l8 2.7l3.3 -5.9l-6.6 -2.2zM983.2 723.8l9.9 1.7l1.7 -6.2l-8.3 -1.4zM993.1 725.5l10.9 0.5l-0.1 -6.2l-9.1 -0.5zM1004 726l10.9 -0.7l-2 -6.1l-9 0.6zM1014.9 725.3l9.6 -1.9l-3.6 -5.8l-8 1.6zM1024.5 723.4l7.6 -2.8l-4.9 -5.3l-6.3 2.3zM1032.1 720.6l4.8 -3.5l-5.7 -4.7l-4 2.9zM1036.9 717.1l1.4 -3.8l-5.9 -4.1l-1.2 3.2zM1038.3 713.3l-2 -3.8l-5.6 -3.5l1.7 3.2zM1036.3 709.5l-5.3 -3.5l-4.7 -2.8l4.4 2.8zM1031 706l-8 -2.6l-3.3 -2.4l6.6 2.2zM981.7 703.8l-7.6 2.8l4.9 -3l6.3 -2.3zM974.1 706.6l-4.8 3.5l5.7 -3.6l4 -2.9zM969.3 710.1l-1.4 3.8l5.9 -4.2l1.2 -3.2zM967.9 713.9l2 3.8l5.6 -4.8l-1.7 -3.2zM969.9 717.7l5.3 3.4l4.7 -5.4l-4.4 -2.8z"/>
<path fill="#20ffdf" d="M979.9 715.7l6.6 2.2l3.8 -5.2l-5.1 -1.7zM986.5 717.9l8.3 1.4l1.9 -5.5l-6.4 -1.1zM994.8 719.3l9.1 0.5l-0.2 -5.7l-7 -0.3zM1003.9 719.8l9 -0.6l-2.3 -5.6l-6.9 0.5zM1012.9 719.2l8 -1.6l-4 -5.1l-6.3 1.1zM1020.9 717.6l6.3 -2.3l-5.5 -4.6l-4.8 1.8zM1027.2 715.3l4 -2.9l-6.4 -4l-3.1 2.3zM1031.2 712.4l1.2 -3.2l-6.7 -3.3l-0.9 2.5zM1032.4 709.2l-1.7 -3.2l-6.3 -2.5l1.3 2.4zM1030.7 706l-4.4 -2.8l-5.3 -1.9l3.4 2.2zM1026.3 703.2l-6.6 -2.2l-3.8 -1.4l5.1 1.7zM1019.7 701l-8.3 -1.4l-1.9 -1.1l6.4 1.1zM993.3 699.8l-8 1.5l4 -1.5l6.3 -1.2zM985.3 701.3l-6.3 2.3l5.5 -2l4.8 -1.8zM979 703.6l-4 2.9l6.4 -2.6l3.1 -2.3zM975 706.5l-1.2 3.2l6.7 -3.3l0.9 -2.5zM973.8 709.7l1.7 3.2l6.3 -4.1l-1.3 -2.4zM975.5 712.9l4.4 2.8l5.3 -4.7l-3.4 -2.2z"/>
<path fill="#30ffcf" d="M985.2 711l5.1 1.7l4.1 -4.5l-3.5 -1.2zM990.3 712.7l6.4 1.1l2 -4.9l-4.3 -0.7zM996.7 713.8l7 0.3l-0.2 -5l-4.8 -0.2zM1003.7 714.1l6.9 -0.5l-2.4 -4.8l-4.7 0.3zM1010.6 713.6l6.3 -1.1l-4.4 -4.5l-4.3 0.8zM1016.9 712.5l4.8 -1.8l-5.9 -3.9l-3.3 1.2zM1021.7 710.7l3.1 -2.3l-6.9 -3.1l-2.1 1.5zM1024.8 708.4l0.9 -2.5l-7.2 -2.3l-0.6 1.7zM1025.7 705.9l-1.3 -2.4l-6.8 -1.6l0.9 1.7zM1024.4 703.5l-3.4 -2.2l-5.7 -0.9l2.3 1.5zM1021 701.3l-5.1 -1.7l-4.1 -0.3l3.5 1.1zM1015.9 699.6l-6.4 -1.1l-2 0l4.3 0.8zM1009.5 698.5l-7 -0.3l0.2 0.1l4.8 0.2zM1002.5 698.2l-6.9 0.4l2.4 0l4.7 -0.3zM995.6 698.6l-6.3 1.2l4.4 -0.4l4.3 -0.8zM989.3 699.8l-4.8 1.8l5.9 -1l3.3 -1.2zM984.5 701.6l-3.1 2.3l6.9 -1.7l2.1 -1.6zM981.4 703.9l-0.9 2.5l7.2 -2.5l0.6 -1.7zM980.5 706.4l1.3 2.4l6.8 -3.3l-0.9 -1.6zM981.8 708.8l3.4 2.2l5.7 -4l-2.3 -1.5z"/>
<path fill="#30ffcf" d="M990.9 707l3.5 1.2l4.3 -3.7l-1.8 -0.6zM994.4 708.2l4.3 0.7l2.2 -4l-2.2 -0.4zM998.7 708.9l4.8 0.2l-0.2 -4.1l-2.4 -0.1zM1003.5 709.1l4.7 -0.3l-2.5 -4l-2.4 0.2zM1008.2 708.8l4.3 -0.8l-4.7 -3.6l-2.1 0.4zM1012.5 708l3.3 -1.2l-6.3 -3l-1.7 0.6zM1015.8 706.8l2.1 -1.5l-7.3 -2.3l-1.1 0.8zM1017.9 705.3l0.6 -1.7l-7.6 -1.4l-0.3 0.8zM1018.5 703.6l-0.9 -1.7l-7.2 -0.6l0.5 0.9zM1017.6 701.9l-2.3 -1.5l-6 0.2l1.1 0.7zM1015.3 700.4l-3.5 -1.1l-4.3 0.7l1.8 0.6zM1011.8 699.3l-4.3 -0.8l-2.2 1.1l2.2 0.4zM1007.5 698.5l-4.8 -0.2l0.2 1.2l2.4 0.1zM1002.7 698.3l-4.7 0.3l2.5 1l2.4 -0.1zM998 698.6l-4.3 0.8l4.7 0.7l2.1 -0.5zM993.7 699.4l-3.3 1.2l6.3 0.1l1.7 -0.6zM990.4 700.6l-2.1 1.6l7.3 -0.7l1.1 -0.8zM988.3 702.2l-0.6 1.7l7.6 -1.6l0.3 -0.8zM987.7 703.9l0.9 1.6l7.2 -2.4l-0.5 -0.8zM988.6 705.5l2.3 1.5l6 -3.1l-1.1 -0.8z"/>
<path fill="#30ffcf" d="M996.9 703.9l1.8 0.6l4.4 -2.8zM998.7 704.5l2.2 0.4l2.2 -3.2zM1000.9 704.9l2.4 0.1l-0.2 -3.3zM1003.3 705l2.4 -0.2l-2.6 -3.1zM1005.7 704.8l2.1 -0.4l-4.7 -2.7zM1007.8 704.4l1.7 -0.6l-6.4 -2.1zM1009.5 703.8l1.1 -0.8l-7.5 -1.3zM1010.6 703l0.3 -0.8l-7.8 -0.5zM1010.9 702.2l-0.5 -0.9l-7.3 0.4zM1010.4 701.3l-1.1 -0.7l-6.2 1.1zM1009.3 700.6l-1.8 -0.6l-4.4 1.7zM1007.5 700l-2.2 -0.4l-2.2 2.1zM1005.3 699.6l-2.4 -0.1l0.2 2.2zM1002.9 699.5l-2.4 0.1l2.6 2.1zM1000.5 699.6l-2.1 0.5l4.7 1.6zM998.4 700.1l-1.7 0.6l6.4 1zM996.7 700.7l-1.1 0.8l7.5 0.2zM995.6 701.5l-0.3 0.8l7.8 -0.6zM995.3 702.3l0.5 0.8l7.3 -1.4zM995.8 703.1l1.1 0.8l6.2 -2.2z"/></g>
<path class="r" d="M849.7 913.8L863.8 896.0M863.8 896.0L874.7 895.9M874.7 895.9L865.4 885.4M865.4 885.4L871.9 877.4M871.9 877.4L862.2 875.3M862.2 875.3L874.7 861.5M874.7 861.5L877.7 860.0M877.7 860.0L877.7 852.4M877.7 852.4L876.2 850.9M876.2 850.9L867.9 834.7M867.9 834.7L865.4 828.2M902.1 781.8L909.9 763.7M909.9 763.7L927.9 750.6M927.9 750.6L941.2 731.9M941.2 731.9L937.5 718.2M937.5 718.2L937.5 699.5M937.5 699.5L929.1 681.8M929.1 681.8L939.3 651.7M939.3 651.7L927.8 644.6M927.8 644.6L937.5 637.5M937.5 637.5L927.8 629.1M927.8 629.1L939.7 614.9M939.7 614.9L932.6 608.3M932.6 608.3L931.5 595.0M931.5 595.0L929.9 586.8M929.9 586.8L920.7 571.9M920.7 571.9L915.5 560.0"/>
<g class="s"><path fill="#efff10" d="M705.4 589.9l5.2 1.7l-6.1 -0.5l-7.7 -2.6zM710.6 591.6l6.5 1.1l-3 0l-9.6 -1.6zM717.1 592.7l7.2 0.3l0.3 0.2l-10.5 -0.5zM724.3 593l7.1 -0.4l3.6 -0.1l-10.4 0.7zM731.4 592.6l6.3 -1.2l6.6 -0.6l-9.3 1.7z"/>
<path fill="#efff10" d="M696.8 588.5l7.7 2.6l-5.7 -2.1l-9.9 -3.3zM704.5 591.1l9.6 1.6l-2.9 -1.6l-12.4 -2.1zM714.1 592.7l10.5 0.5l0.2 -1.4l-13.6 -0.7zM724.6 593.2l10.4 -0.7l3.4 -1.6l-13.6 0.9zM735 592.5l9.3 -1.7l6.1 -2.2l-12 2.3zM744.3 590.8l7.3 -2.8l8.3 -2.9l-9.5 3.5zM751.6 588l4.6 -3.3l9.6 -4l-5.9 4.4zM691.7 585.3l5.1 3.2l-7.9 -2.8l-6.6 -4.2z"/>
<path fill="#ffff00" d="M688.9 585.7l9.9 3.3l-5 -3.6l-12 -4zM698.8 589l12.4 2.1l-2.5 -3.2l-14.9 -2.5zM711.2 591.1l13.6 0.7l0.3 -3.1l-16.4 -0.8zM724.8 591.8l13.6 -0.9l2.9 -3.3l-16.2 1.1zM738.4 590.9l12 -2.3l5.4 -3.7l-14.5 2.7zM750.4 588.6l9.5 -3.5l7.3 -4.5l-11.4 4.3zM759.9 585.1l5.9 -4.4l8.5 -5.3l-7.1 5.2zM682.3 581.5l6.6 4.2l-7.1 -4.3l-7.9 -5.1z"/>
<path fill="#ffef00" d="M681.8 581.4l12 4l-4.3 -5l-13.7 -4.6zM693.8 585.4l14.9 2.5l-2.2 -4.6l-17 -2.9zM708.7 587.9l16.4 0.8l0.2 -4.6l-18.8 -0.8zM725.1 588.7l16.2 -1.1l2.6 -4.7l-18.6 1.2zM741.3 587.6l14.5 -2.7l4.7 -5.2l-16.6 3.2zM755.8 584.9l11.4 -4.3l6.3 -5.7l-13 4.8zM767.2 580.6l7.1 -5.2l7.3 -6.5l-8.1 6zM670.9 570.6l3 5.7l-7.2 -6.3l-3.4 -6.6zM673.9 576.3l7.9 5.1l-6 -5.6l-9.1 -5.8z"/>
<path fill="#ffdf00" d="M675.8 575.8l13.7 4.6l-3.5 -6.3l-15.1 -5.1zM689.5 580.4l17 2.9l-1.7 -6.1l-18.8 -3.1zM706.5 583.3l18.8 0.8l0.1 -5.9l-20.6 -1zM725.3 584.1l18.6 -1.2l2 -6.1l-20.5 1.4zM743.9 582.9l16.6 -3.2l3.7 -6.4l-18.3 3.5zM760.5 579.7l13 -4.8l5 -6.9l-14.3 5.3zM773.5 574.9l8.1 -6l5.9 -7.5l-9 6.6zM781.6 568.9l2.5 -6.6l6.1 -8.2l-2.7 7.3zM663.3 563.4l3.4 6.6l-5.7 -7.4l-3.8 -7.2zM666.7 570l9.1 5.8l-4.9 -6.8l-9.9 -6.4z"/>
<path fill="#ffcf00" d="M670.9 569l15.1 5.1l-2.5 -7.5l-16.2 -5.4zM686 574.1l18.8 3.1l-1.3 -7.3l-20 -3.3zM704.8 577.2l20.6 1l0.2 -7.3l-22.1 -1zM725.4 578.2l20.5 -1.4l1.5 -7.3l-21.8 1.4zM745.9 576.8l18.3 -3.5l2.7 -7.5l-19.5 3.7zM764.2 573.3l14.3 -5.3l3.7 -7.9l-15.3 5.7zM778.5 568l9 -6.6l4.3 -8.3l-9.6 7zM787.5 561.4l2.7 -7.3l4.5 -8.8l-2.9 7.8zM657.2 555.4l3.8 7.2l-4.3 -8.3l-4 -7.7zM661 562.6l9.9 6.4l-3.6 -7.8l-10.6 -6.9z"/>
<path fill="#ffbf00" d="M667.3 561.2l16.2 5.4l-1.6 -8.5l-16.7 -5.6zM683.5 566.6l20 3.3l-0.7 -8.3l-20.9 -3.5zM703.5 569.9l22.1 1l0 -8.3l-22.8 -1zM725.6 570.9l21.8 -1.4l0.9 -8.3l-22.7 1.4zM747.4 569.5l19.5 -3.7l1.7 -8.5l-20.3 3.9zM766.9 565.8l15.3 -5.7l2.3 -8.7l-15.9 5.9zM782.2 560.1l9.6 -7l2.6 -9l-9.9 7.3zM791.8 553.1l2.9 -7.8l2.7 -9.3l-3 8.1zM652.7 546.6l4 7.7l-2.5 -8.9l-4.2 -8zM656.7 554.3l10.6 6.9l-2.1 -8.7l-11 -7.1z"/>
<path fill="#ffaf00" d="M665.2 552.5l16.7 5.6l-0.5 -9.2l-17 -5.7zM681.9 558.1l20.9 3.5l-0.3 -9.2l-21.1 -3.5zM702.8 561.6l22.8 1l0.1 -9.1l-23.2 -1.1zM725.6 562.6l22.7 -1.4l0.3 -9.2l-22.9 1.5zM748.3 561.2l20.3 -3.9l0.6 -9.2l-20.6 3.9zM768.6 557.3l15.9 -5.9l0.7 -9.3l-16 6zM784.5 551.4l9.9 -7.3l0.9 -9.4l-10.1 7.4zM794.4 544.1l3 -8.1l1 -9.5l-3.1 8.2zM653 529.3l-3 8.1l-1 -9.5l3.1 -8.2zM650 537.4l4.2 8l-0.9 -9.4l-4.3 -8.1zM654.2 545.4l11 7.1l-0.8 -9.3l-11.1 -7.2z"/>
<path fill="#ff9f00" d="M664.5 543.2l17 5.7l0.5 -9.8l-16.7 -5.6zM681.4 548.9l21.1 3.5l0.3 -9.8l-20.9 -3.5zM702.5 552.4l23.2 1.1l-0.1 -9.8l-22.8 -1.1zM725.7 553.5l22.9 -1.5l-0.3 -9.8l-22.7 1.5zM748.6 552l20.6 -3.9l-0.6 -9.8l-20.3 3.9zM769.2 548.1l16 -6l-0.7 -9.7l-15.9 5.9zM785.2 542.1l10.1 -7.4l-0.9 -9.6l-9.9 7.3zM795.3 534.7l3.1 -8.2l-1 -9.5l-3 8.1zM798.4 526.5l-4.3 -8.1l-0.9 -9.4l4.2 8zM652.1 519.7l-3.1 8.2l1 -9.5l3 -8.1zM649 527.9l4.3 8.1l0.9 -9.6l-4.2 -8zM653.3 536l11.1 7.2l0.8 -9.7l-11 -7.1z"/>
<path fill="#ff8f00" d="M665.2 533.5l16.7 5.6l1.6 -10.1l-16.2 -5.3zM681.9 539.1l20.9 3.5l0.7 -10.2l-20 -3.4zM702.8 542.6l22.8 1.1l0 -10.3l-22.1 -1zM725.6 543.7l22.7 -1.5l-0.9 -10.2l-21.8 1.4zM748.3 542.2l20.3 -3.9l-1.7 -10l-19.5 3.7zM768.6 538.3l15.9 -5.9l-2.3 -9.8l-15.3 5.7zM784.5 532.4l9.9 -7.3l-2.6 -9.6l-9.6 7.1zM794.4 525.1l3 -8.1l-2.7 -9.2l-2.9 7.7zM797.4 517l-4.2 -8l-2.5 -8.9l4 7.7zM653 510.3l-3 8.1l2.7 -9.3l2.9 -7.8zM650 518.4l4.2 8l2.5 -9.6l-4 -7.7zM654.2 526.4l11 7.1l2.1 -9.8l-10.6 -6.9z"/>
<path fill="#ff7000" d="M667.3 523.7l16.2 5.3l2.5 -10.1l-15.1 -5zM683.5 529l20 3.4l1.3 -10.3l-18.8 -3.2zM703.5 532.4l22.1 1l-0.2 -10.3l-20.6 -1zM725.6 533.4l21.8 -1.4l-1.5 -10.3l-20.5 1.4zM747.4 532l19.5 -3.7l-2.7 -10.1l-18.3 3.5zM766.9 528.3l15.3 -5.7l-3.7 -9.7l-14.3 5.3zM782.2 522.6l9.6 -7.1l-4.3 -9.2l-9 6.6zM791.8 515.5l2.9 -7.7l-4.5 -8.8l-2.7 7.3zM794.7 507.8l-4 -7.7l-4.3 -8.3l3.8 7.2zM655.6 501.3l-2.9 7.8l4.5 -8.8l2.7 -7.3zM652.7 509.1l4 7.7l4.3 -9.3l-3.8 -7.2zM656.7 516.8l10.6 6.9l3.6 -9.8l-9.9 -6.4z"/>
<path fill="#ff6000" d="M670.9 513.9l15.1 5l3.5 -9.9l-13.7 -4.5zM686 518.9l18.8 3.2l1.7 -10.2l-17 -2.9zM704.8 522.1l20.6 1l-0.1 -10.3l-18.8 -0.9zM725.4 523.1l20.5 -1.4l-2 -10.1l-18.6 1.2zM745.9 521.7l18.3 -3.5l-3.7 -9.8l-16.6 3.2zM764.2 518.2l14.3 -5.3l-5 -9.3l-13 4.8zM778.5 512.9l9 -6.6l-5.9 -8.7l-8.1 6zM787.5 506.3l2.7 -7.3l-6.1 -8l-2.5 6.6zM790.2 499l-3.8 -7.2l-5.7 -7.4l3.4 6.6zM786.4 491.8l-9.9 -6.4l-4.9 -6.8l9.1 5.8zM668.9 486.4l-9 6.6l5.9 -7.5l8.1 -6zM659.9 493l-2.7 7.3l6.1 -8.2l2.5 -6.6zM657.2 500.3l3.8 7.2l5.7 -8.9l-3.4 -6.5zM661 507.5l9.9 6.4l4.9 -9.4l-9.1 -5.9z"/>
<path fill="#ff5000" d="M675.8 504.5l13.7 4.5l4.3 -9.4l-12 -4zM689.5 509l17 2.9l2.2 -9.8l-14.9 -2.5zM706.5 511.9l18.8 0.9l-0.2 -9.9l-16.4 -0.8zM725.3 512.8l18.6 -1.2l-2.6 -9.8l-16.2 1.1zM743.9 511.6l16.6 -3.2l-4.7 -9.4l-14.5 2.8zM760.5 508.4l13 -4.8l-6.3 -8.8l-11.4 4.2zM773.5 503.6l8.1 -6l-7.3 -8l-7.1 5.2zM781.6 497.6l2.5 -6.6l-7.6 -7.2l-2.2 5.8zM784.1 491l-3.4 -6.6l-7.2 -6.3l3 5.7zM780.7 484.4l-9.1 -5.8l-6 -5.6l7.9 5.1zM673.9 479.5l-8.1 6l7.3 -6.5l7.1 -5.2zM665.8 485.5l-2.5 6.6l7.6 -7.3l2.2 -5.8zM663.3 492.1l3.4 6.5l7.2 -8.1l-3 -5.7zM666.7 498.6l9.1 5.9l6 -8.9l-7.9 -5.1z"/>
<path fill="#ff4000" d="M681.8 495.6l12 4l5 -8.8l-9.9 -3.3zM693.8 499.6l14.9 2.5l2.5 -9.2l-12.4 -2.1zM708.7 502.1l16.4 0.8l-0.3 -9.4l-13.6 -0.6zM725.1 502.9l16.2 -1.1l-2.9 -9.1l-13.6 0.8zM741.3 501.8l14.5 -2.8l-5.4 -8.6l-12 2.3zM755.8 499l11.4 -4.2l-7.3 -8l-9.5 3.6zM767.2 494.8l7.1 -5.2l-8.5 -7.1l-5.9 4.3zM774.3 489.6l2.2 -5.8l-8.9 -6.1l-1.8 4.8zM776.5 483.8l-3 -5.7l-8.4 -5.2l2.5 4.8zM773.5 478.1l-7.9 -5.1l-7.1 -4.3l6.6 4.2zM765.6 473l-12 -4l-5 -3.6l9.9 3.3zM691.6 469.5l-11.4 4.3l7.3 -4.5l9.5 -3.5zM680.2 473.8l-7.1 5.2l8.5 -5.3l5.9 -4.4zM673.1 479l-2.2 5.8l8.9 -6.3l1.8 -4.8zM670.9 484.8l3 5.7l8.4 -7.3l-2.5 -4.7zM673.9 490.5l7.9 5.1l7.1 -8.1l-6.6 -4.3z"/>
<path fill="#ff4000" d="M688.9 487.5l9.9 3.3l5.7 -7.8l-7.7 -2.6zM698.8 490.8l12.4 2.1l2.9 -8.3l-9.6 -1.6zM711.2 492.9l13.6 0.6l-0.2 -8.5l-10.5 -0.4zM724.8 493.5l13.6 -0.8l-3.4 -8.3l-10.4 0.6zM738.4 492.7l12 -2.3l-6.1 -7.8l-9.3 1.8zM750.4 490.4l9.5 -3.6l-8.3 -6.9l-7.3 2.7zM759.9 486.8l5.9 -4.3l-9.6 -6l-4.6 3.4zM765.8 482.5l1.8 -4.8l-10 -4.9l-1.4 3.7zM767.6 477.7l-2.5 -4.8l-9.4 -3.8l1.9 3.7zM765.1 472.9l-6.6 -4.2l-7.9 -2.8l5.1 3.2zM758.5 468.7l-9.9 -3.3l-5.7 -2.1l7.7 2.6zM748.6 465.4l-12.4 -2.1l-2.9 -1.6l9.6 1.6zM709 463.5l-12 2.3l6.1 -2.2l9.3 -1.7zM697 465.8l-9.5 3.5l8.3 -2.9l7.3 -2.8zM687.5 469.3l-5.9 4.4l9.6 -4l4.6 -3.3zM681.6 473.7l-1.8 4.8l10 -5.1l1.4 -3.7zM679.8 478.5l2.5 4.7l9.4 -6.1l-1.9 -3.7zM682.3 483.2l6.6 4.3l7.9 -7.1l-5.1 -3.3z"/>
<path fill="#ff3000" d="M696.8 480.4l7.7 2.6l6.1 -6.8l-5.2 -1.8zM704.5 483l9.6 1.6l3 -7.3l-6.5 -1.1zM714.1 484.6l10.5 0.4l-0.3 -7.4l-7.2 -0.3zM724.6 485l10.4 -0.6l-3.6 -7.3l-7.1 0.5zM735 484.4l9.3 -1.8l-6.6 -6.7l-6.3 1.2zM744.3 482.6l7.3 -2.7l-8.9 -5.8l-5 1.8zM751.6 479.9l4.6 -3.4l-10.4 -4.7l-3.1 2.3zM756.2 476.5l1.4 -3.7l-10.8 -3.5l-1 2.5zM757.6 472.8l-1.9 -3.7l-10.2 -2.3l1.3 2.5zM755.7 469.1l-5.1 -3.2l-8.6 -1.4l3.5 2.3zM750.6 465.9l-7.7 -2.6l-6.1 -0.5l5.2 1.7zM742.9 463.3l-9.6 -1.6l-3 0l6.5 1.1zM733.3 461.7l-10.5 -0.5l0.3 0.2l7.2 0.3zM722.8 461.2l-10.4 0.7l3.6 -0.1l7.1 -0.4zM712.4 461.9l-9.3 1.7l6.6 -0.6l6.3 -1.2zM703.1 463.6l-7.3 2.8l8.9 -1.5l5 -1.9zM695.8 466.4l-4.6 3.3l10.4 -2.5l3.1 -2.3zM691.2 469.7l-1.4 3.7l10.8 -3.7l1 -2.5zM689.8 473.4l1.9 3.7l10.2 -4.9l-1.3 -2.5zM691.7 477.1l5.1 3.3l8.6 -6l-3.5 -2.2z"/>
<path fill="#ff2000" d="M705.4 474.4l5.2 1.8l6.5 -5.6l-2.7 -0.8zM710.6 476.2l6.5 1.1l3.3 -6.1l-3.3 -0.6zM717.1 477.3l7.2 0.3l-0.3 -6.2l-3.6 -0.2zM724.3 477.6l7.1 -0.5l-3.8 -6l-3.6 0.3zM731.4 477.1l6.3 -1.2l-6.9 -5.4l-3.2 0.6zM737.7 475.9l5 -1.8l-9.4 -4.5l-2.5 0.9zM742.7 474.1l3.1 -2.3l-10.9 -3.4l-1.6 1.2zM745.8 471.8l1 -2.5l-11.4 -2.2l-0.5 1.3zM746.8 469.3l-1.3 -2.5l-10.8 -0.9l0.7 1.2zM745.5 466.8l-3.5 -2.3l-9 0.2l1.7 1.2zM742 464.5l-5.2 -1.7l-6.5 1.1l2.7 0.8zM736.8 462.8l-6.5 -1.1l-3.3 1.6l3.3 0.6zM730.3 461.7l-7.2 -0.3l0.3 1.7l3.6 0.2zM723.1 461.4l-7.1 0.4l3.8 1.6l3.6 -0.3zM716 461.8l-6.3 1.2l6.9 1l3.2 -0.6zM709.7 463l-5 1.9l9.4 0l2.5 -0.9zM704.7 464.9l-3.1 2.3l10.9 -1.1l1.6 -1.2zM701.6 467.2l-1 2.5l11.4 -2.3l0.5 -1.3zM700.6 469.7l1.3 2.5l10.8 -3.6l-0.7 -1.2zM701.9 472.2l3.5 2.2l9 -4.6l-1.7 -1.2z"/>
<path fill="#ff2000" d="M714.4 469.8l2.7 0.8l6.6 -4.1zM717.1 470.6l3.3 0.6l3.3 -4.7zM720.4 471.2l3.6 0.2l-0.3 -4.9zM724 471.4l3.6 -0.3l-3.9 -4.6zM727.6 471.1l3.2 -0.6l-7.1 -4zM730.8 470.5l2.5 -0.9l-9.6 -3.1zM733.3 469.6l1.6 -1.2l-11.2 -1.9zM734.9 468.4l0.5 -1.3l-11.7 -0.6zM735.4 467.1l-0.7 -1.2l-11 0.6zM734.7 465.9l-1.7 -1.2l-9.3 1.8zM733 464.7l-2.7 -0.8l-6.6 2.6zM730.3 463.9l-3.3 -0.6l-3.3 3.2zM727 463.3l-3.6 -0.2l0.3 3.4zM723.4 463.1l-3.6 0.3l3.9 3.1zM719.8 463.4l-3.2 0.6l7.1 2.5zM716.6 464l-2.5 0.9l9.6 1.6zM714.1 464.9l-1.6 1.2l11.2 0.4zM712.5 466.1l-0.5 1.3l11.7 -0.9zM712 467.4l0.7 1.2l11 -2.1zM712.7 468.6l1.7 1.2l9.3 -3.3z"/></g>
<g class="s"><path fill="#0080ff" d="M847.9 833.5l3.5 1.1l-4.1 -0.3l-5.1 -1.7zM851.4 834.6l4.3 0.8l-2 0l-6.4 -1.1zM855.7 835.4l4.8 0.2l0.2 0.1l-7 -0.3zM860.5 835.6l4.7 -0.3l2.4 0l-6.9 0.4zM865.2 835.3l4.3 -0.8l4.4 -0.4l-6.3 1.2z"/>
<path fill="#008fff" d="M842.2 832.6l5.1 1.7l-3.8 -1.4l-6.6 -2.2zM847.3 834.3l6.4 1.1l-1.9 -1.1l-8.3 -1.4zM853.7 835.4l7 0.3l0.2 -1l-9.1 -0.4zM860.7 835.7l6.9 -0.4l2.3 -1.2l-9 0.6zM867.6 835.3l6.3 -1.2l4 -1.5l-8 1.5zM873.9 834.1l4.8 -1.8l5.5 -2l-6.3 2.3zM878.7 832.3l3.1 -2.3l6.4 -2.6l-4 2.9zM838.8 830.4l3.4 2.2l-5.3 -1.9l-4.4 -2.8z"/>
<path fill="#008fff" d="M836.9 830.7l6.6 2.2l-3.3 -2.4l-8 -2.6zM843.5 832.9l8.3 1.4l-1.7 -2.1l-9.9 -1.7zM851.8 834.3l9.1 0.4l0.1 -2l-10.9 -0.5zM860.9 834.7l9 -0.6l2 -2.1l-10.9 0.7zM869.9 834.1l8 -1.5l3.6 -2.5l-9.6 1.9zM877.9 832.6l6.3 -2.3l4.9 -3l-7.6 2.8zM884.2 830.3l4 -2.9l5.7 -3.6l-4.8 3.5zM832.5 827.9l4.4 2.8l-4.7 -2.8l-5.3 -3.5z"/>
<path fill="#009fff" d="M832.2 827.9l8 2.6l-2.9 -3.3l-9.2 -3.1zM840.2 830.5l9.9 1.7l-1.4 -3.1l-11.4 -1.9zM850.1 832.2l10.9 0.5l0.2 -3l-12.5 -0.6zM861 832.7l10.9 -0.7l1.6 -3.2l-12.3 0.9zM871.9 832l9.6 -1.9l3.1 -3.4l-11.1 2.1zM881.5 830.1l7.6 -2.8l4.2 -3.8l-8.7 3.2zM889.1 827.3l4.8 -3.5l4.8 -4.3l-5.4 4zM824.9 820.6l2 3.8l-4.8 -4.2l-2.3 -4.3zM826.9 824.4l5.3 3.5l-4.1 -3.8l-6 -3.9z"/>
<path fill="#009fff" d="M828.1 824.1l9.2 3.1l-2.3 -4.3l-10.1 -3.3zM837.3 827.2l11.4 1.9l-1.2 -4.1l-12.5 -2.1zM848.7 829.1l12.5 0.6l0.1 -4l-13.8 -0.7zM861.2 829.7l12.3 -0.9l1.4 -4l-13.6 0.9zM873.5 828.8l11.1 -2.1l2.5 -4.2l-12.2 2.3zM884.6 826.7l8.7 -3.2l3.4 -4.6l-9.6 3.6zM893.3 823.5l5.4 -4l3.9 -5l-5.9 4.4zM898.7 819.5l1.7 -4.4l4 -5.4l-1.8 4.8zM819.8 815.9l2.3 4.3l-3.8 -4.9l-2.5 -4.8zM822.1 820.2l6 3.9l-3.2 -4.5l-6.6 -4.3z"/>
<path fill="#00afff" d="M824.9 819.6l10.1 3.3l-1.7 -5l-10.8 -3.6zM835 822.9l12.5 2.1l-0.8 -4.8l-13.4 -2.3zM847.5 825l13.8 0.7l0 -4.8l-14.6 -0.7zM861.3 825.7l13.6 -0.9l1 -4.9l-14.6 1zM874.9 824.8l12.2 -2.3l1.8 -5.1l-13 2.5zM887.1 822.5l9.6 -3.6l2.4 -5.3l-10.2 3.8zM896.7 818.9l5.9 -4.4l2.9 -5.6l-6.4 4.7zM902.6 814.5l1.8 -4.8l3 -5.9l-1.9 5.1zM815.8 810.5l2.5 4.8l-2.8 -5.5l-2.7 -5.2zM818.3 815.3l6.6 4.3l-2.4 -5.3l-7 -4.5z"/>
<path fill="#00bfff" d="M822.5 814.3l10.8 3.6l-1.1 -5.6l-11.1 -3.7zM833.3 817.9l13.4 2.3l-0.6 -5.6l-13.9 -2.3zM846.7 820.2l14.6 0.7l0.1 -5.6l-15.3 -0.7zM861.3 820.9l14.6 -1l0.6 -5.6l-15.1 1zM875.9 819.9l13 -2.5l1.1 -5.6l-13.5 2.5zM888.9 817.4l10.2 -3.8l1.5 -5.8l-10.6 4zM899.1 813.6l6.4 -4.7l1.8 -6l-6.7 4.9zM905.5 808.9l1.9 -5.1l1.9 -6.2l-2 5.3zM812.8 804.6l2.7 5.2l-1.8 -6l-2.8 -5.3zM815.5 809.8l7 4.5l-1.4 -5.7l-7.4 -4.8z"/>
<path fill="#00bfff" d="M821.1 808.6l11.1 3.7l-0.3 -6.2l-11.3 -3.7zM832.2 812.3l13.9 2.3l-0.1 -6.1l-14.1 -2.4zM846.1 814.6l15.3 0.7l0 -6.1l-15.4 -0.7zM861.4 815.3l15.1 -1l0.2 -6.1l-15.3 1zM876.5 814.3l13.5 -2.5l0.4 -6.2l-13.7 2.6zM890 811.8l10.6 -4l0.5 -6.2l-10.7 4zM900.6 807.8l6.7 -4.9l0.5 -6.2l-6.7 4.9zM907.3 802.9l2 -5.3l0.6 -6.4l-2.1 5.5zM812.9 793.1l-2 5.4l-0.6 -6.3l2.1 -5.5zM810.9 798.5l2.8 5.3l-0.5 -6.3l-2.9 -5.3zM813.7 803.8l7.4 4.8l-0.5 -6.2l-7.4 -4.9z"/>
<path fill="#00cfff" d="M820.6 802.4l11.3 3.7l0.3 -6.5l-11.1 -3.7zM831.9 806.1l14.1 2.4l0.1 -6.5l-13.9 -2.4zM846 808.5l15.4 0.7l0 -6.5l-15.3 -0.7zM861.4 809.2l15.3 -1l-0.2 -6.5l-15.1 1zM876.7 808.2l13.7 -2.6l-0.4 -6.5l-13.5 2.6zM890.4 805.6l10.7 -4l-0.5 -6.4l-10.6 3.9zM901.1 801.6l6.7 -4.9l-0.5 -6.4l-6.7 4.9zM907.8 796.7l2.1 -5.5l-0.6 -6.3l-2 5.4zM909.9 791.2l-2.9 -5.3l-0.5 -6.3l2.8 5.3zM812.4 786.7l-2.1 5.5l0.6 -6.4l2 -5.3zM810.3 792.2l2.9 5.3l0.5 -6.4l-2.8 -5.3zM813.2 797.5l7.4 4.9l0.5 -6.5l-7.4 -4.8z"/>
<path fill="#00dfff" d="M821.1 795.9l11.1 3.7l1.1 -6.7l-10.8 -3.6zM832.2 799.6l13.9 2.4l0.6 -6.8l-13.4 -2.3zM846.1 802l15.3 0.7l-0.1 -6.8l-14.6 -0.7zM861.4 802.7l15.1 -1l-0.6 -6.8l-14.6 1zM876.5 801.7l13.5 -2.6l-1.1 -6.7l-13 2.5zM890 799.1l10.6 -3.9l-1.5 -6.6l-10.2 3.8zM900.6 795.2l6.7 -4.9l-1.8 -6.4l-6.4 4.7zM907.3 790.3l2 -5.4l-1.9 -6.1l-1.9 5.1zM909.3 784.9l-2.8 -5.3l-1.8 -6l2.7 5.2zM812.9 780.5l-2 5.3l1.9 -6.2l1.9 -5.1zM810.9 785.8l2.8 5.3l1.8 -6.3l-2.7 -5.2zM813.7 791.1l7.4 4.8l1.4 -6.6l-7 -4.5z"/>
<path fill="#00efff" d="M822.5 789.3l10.8 3.6l1.7 -6.7l-10.1 -3.4zM833.3 792.9l13.4 2.3l0.8 -6.9l-12.5 -2.1zM846.7 795.2l14.6 0.7l0 -7l-13.8 -0.6zM861.3 795.9l14.6 -1l-1 -6.9l-13.6 0.9zM875.9 794.9l13 -2.5l-1.8 -6.7l-12.2 2.3zM888.9 792.4l10.2 -3.8l-2.4 -6.4l-9.6 3.5zM899.1 788.6l6.4 -4.7l-2.9 -6.1l-5.9 4.4zM905.5 783.9l1.9 -5.1l-3 -5.9l-1.8 4.9zM907.4 778.8l-2.7 -5.2l-2.8 -5.5l2.5 4.8zM814.7 774.5l-1.9 5.1l3 -5.9l1.8 -4.8zM812.8 779.6l2.7 5.2l2.8 -6.3l-2.5 -4.8zM815.5 784.8l7 4.5l2.4 -6.5l-6.6 -4.3z"/>
<path fill="#00ffff" d="M824.9 782.8l10.1 3.4l2.3 -6.6l-9.2 -3.1zM835 786.2l12.5 2.1l1.2 -6.8l-11.4 -1.9zM847.5 788.3l13.8 0.6l-0.1 -6.8l-12.5 -0.6zM861.3 788.9l13.6 -0.9l-1.4 -6.7l-12.3 0.8zM874.9 788l12.2 -2.3l-2.5 -6.5l-11.1 2.1zM887.1 785.7l9.6 -3.5l-3.4 -6.3l-8.7 3.3zM896.7 782.2l5.9 -4.4l-3.9 -5.9l-5.4 4zM902.6 777.8l1.8 -4.9l-4 -5.4l-1.7 4.4zM904.4 772.9l-2.5 -4.8l-3.8 -4.9l2.3 4.3zM901.9 768.1l-6.6 -4.3l-3.2 -4.5l6 3.9zM823.5 764.5l-5.9 4.4l3.9 -5l5.4 -4zM817.6 768.9l-1.8 4.8l4 -5.4l1.7 -4.4zM815.8 773.7l2.5 4.8l3.8 -5.9l-2.3 -4.3zM818.3 778.5l6.6 4.3l3.2 -6.3l-6 -3.9z"/>
<path fill="#00ffff" d="M828.1 776.5l9.2 3.1l2.9 -6.3l-8 -2.7zM837.3 779.6l11.4 1.9l1.4 -6.5l-9.9 -1.7zM848.7 781.5l12.5 0.6l-0.2 -6.6l-10.9 -0.5zM861.2 782.1l12.3 -0.8l-1.6 -6.5l-10.9 0.7zM873.5 781.3l11.1 -2.1l-3.1 -6.3l-9.6 1.9zM884.6 779.2l8.7 -3.3l-4.2 -5.8l-7.6 2.8zM893.3 775.9l5.4 -4l-4.8 -5.3l-4.8 3.5zM898.7 771.9l1.7 -4.4l-5.1 -4.7l-1.4 3.8zM900.4 767.5l-2.3 -4.3l-4.8 -4.2l2 3.8zM898.1 763.2l-6 -3.9l-4.1 -3.8l5.3 3.5zM826.9 759.9l-5.4 4l4.8 -4.3l4.8 -3.5zM821.5 763.9l-1.7 4.4l5.1 -4.9l1.4 -3.8zM819.8 768.3l2.3 4.3l4.8 -5.4l-2 -3.8zM822.1 772.6l6 3.9l4.1 -5.9l-5.3 -3.4z"/>
<path fill="#10ffef" d="M832.2 770.6l8 2.7l3.3 -5.9l-6.6 -2.2zM840.2 773.3l9.9 1.7l1.7 -6.2l-8.3 -1.4zM850.1 775l10.9 0.5l-0.1 -6.2l-9.1 -0.5zM861 775.5l10.9 -0.7l-2 -6.1l-9 0.6zM871.9 774.8l9.6 -1.9l-3.6 -5.8l-8 1.6zM881.5 772.9l7.6 -2.8l-4.9 -5.3l-6.3 2.3zM889.1 770.1l4.8 -3.5l-5.7 -4.7l-4 2.9zM893.9 766.6l1.4 -3.8l-5.9 -4.1l-1.2 3.2zM895.3 762.8l-2 -3.8l-5.6 -3.5l1.7 3.2zM893.3 759l-5.3 -3.5l-4.7 -2.8l4.4 2.8zM888 755.5l-8 -2.6l-3.3 -2.4l6.6 2.2zM838.7 753.3l-7.6 2.8l4.9 -3l6.3 -2.3zM831.1 756.1l-4.8 3.5l5.7 -3.6l4 -2.9zM826.3 759.6l-1.4 3.8l5.9 -4.2l1.2 -3.2zM824.9 763.4l2 3.8l5.6 -4.8l-1.7 -3.2zM826.9 767.2l5.3 3.4l4.7 -5.4l-4.4 -2.8z"/>
<path fill="#10ffef" d="M836.9 765.2l6.6 2.2l3.8 -5.2l-5.1 -1.7zM843.5 767.4l8.3 1.4l1.9 -5.5l-6.4 -1.1zM851.8 768.8l9.1 0.5l-0.2 -5.7l-7 -0.3zM860.9 769.3l9 -0.6l-2.3 -5.6l-6.9 0.5zM869.9 768.7l8 -1.6l-4 -5.1l-6.3 1.1zM877.9 767.1l6.3 -2.3l-5.5 -4.6l-4.8 1.8zM884.2 764.8l4 -2.9l-6.4 -4l-3.1 2.3zM888.2 761.9l1.2 -3.2l-6.7 -3.3l-0.9 2.5zM889.4 758.7l-1.7 -3.2l-6.3 -2.5l1.3 2.4zM887.7 755.5l-4.4 -2.8l-5.3 -1.9l3.4 2.2zM883.3 752.7l-6.6 -2.2l-3.8 -1.4l5.1 1.7zM876.7 750.5l-8.3 -1.4l-1.9 -1.1l6.4 1.1zM850.3 749.3l-8 1.5l4 -1.5l6.3 -1.2zM842.3 750.8l-6.3 2.3l5.5 -2l4.8 -1.8zM836 753.1l-4 2.9l6.4 -2.6l3.1 -2.3zM832 756l-1.2 3.2l6.7 -3.3l0.9 -2.5zM830.8 759.2l1.7 3.2l6.3 -4.1l-1.3 -2.4zM832.5 762.4l4.4 2.8l5.3 -4.7l-3.4 -2.2z"/>
<path fill="#20ffdf" d="M842.2 760.5l5.1 1.7l4.1 -4.5l-3.5 -1.2zM847.3 762.2l6.4 1.1l2 -4.9l-4.3 -0.7zM853.7 763.3l7 0.3l-0.2 -5l-4.8 -0.2zM860.7 763.6l6.9 -0.5l-2.4 -4.8l-4.7 0.3zM867.6 763.1l6.3 -1.1l-4.4 -4.5l-4.3 0.8zM873.9 762l4.8 -1.8l-5.9 -3.9l-3.3 1.2zM878.7 760.2l3.1 -2.3l-6.9 -3.1l-2.1 1.5zM881.8 757.9l0.9 -2.5l-7.2 -2.3l-0.6 1.7zM882.7 755.4l-1.3 -2.4l-6.8 -1.6l0.9 1.7zM881.4 753l-3.4 -2.2l-5.7 -0.9l2.3 1.5zM878 750.8l-5.1 -1.7l-4.1 -0.3l3.5 1.1zM872.9 749.1l-6.4 -1.1l-2 0l4.3 0.8zM866.5 748l-7 -0.3l0.2 0.1l4.8 0.2zM859.5 747.7l-6.9 0.4l2.4 0l4.7 -0.3zM852.6 748.1l-6.3 1.2l4.4 -0.4l4.3 -0.8zM846.3 749.3l-4.8 1.8l5.9 -1l3.3 -1.2zM841.5 751.1l-3.1 2.3l6.9 -1.7l2.1 -1.6zM838.4 753.4l-0.9 2.5l7.2 -2.5l0.6 -1.7zM837.5 755.9l1.3 2.4l6.8 -3.3l-0.9 -1.6zM838.8 758.3l3.4 2.2l5.7 -4l-2.3 -1.5z"/>
<path fill="#20ffdf" d="M847.9 756.5l3.5 1.2l4.3 -3.7l-1.8 -0.6zM851.4 757.7l4.3 0.7l2.2 -4l-2.2 -0.4zM855.7 758.4l4.8 0.2l-0.2 -4.1l-2.4 -0.1zM860.5 758.6l4.7 -0.3l-2.5 -4l-2.4 0.2zM865.2 758.3l4.3 -0.8l-4.7 -3.6l-2.1 0.4zM869.5 757.5l3.3 -1.2l-6.3 -3l-1.7 0.6zM872.8 756.3l2.1 -1.5l-7.3 -2.3l-1.1 0.8zM874.9 754.8l0.6 -1.7l-7.6 -1.4l-0.3 0.8zM875.5 753.1l-0.9 -1.7l-7.2 -0.6l0.5 0.9zM874.6 751.4l-2.3 -1.5l-6 0.2l1.1 0.7zM872.3 749.9l-3.5 -1.1l-4.3 0.7l1.8 0.6zM868.8 748.8l-4.3 -0.8l-2.2 1.1l2.2 0.4zM864.5 748l-4.8 -0.2l0.2 1.2l2.4 0.1zM859.7 747.8l-4.7 0.3l2.5 1l2.4 -0.1zM855 748.1l-4.3 0.8l4.7 0.7l2.1 -0.5zM850.7 748.9l-3.3 1.2l6.3 0.1l1.7 -0.6zM847.4 750.1l-2.1 1.6l7.3 -0.7l1.1 -0.8zM845.3 751.7l-0.6 1.7l7.6 -1.6l0.3 -0.8zM844.7 753.4l0.9 1.6l7.2 -2.4l-0.5 -0.8zM845.6 755l2.3 1.5l6 -3.1l-1.1 -0.8z"/>
<path fill="#20ffdf" d="M853.9 753.4l1.8 0.6l4.4 -2.8zM855.7 754l2.2 0.4l2.2 -3.2zM857.9 754.4l2.4 0.1l-0.2 -3.3zM860.3 754.5l2.4 -0.2l-2.6 -3.1zM862.7 754.3l2.1 -0.4l-4.7 -2.7zM864.8 753.9l1.7 -0.6l-6.4 -2.1zM866.5 753.3l1.1 -0.8l-7.5 -1.3zM867.6 752.5l0.3 -0.8l-7.8 -0.5zM867.9 751.7l-0.5 -0.9l-7.3 0.4zM867.4 750.8l-1.1 -0.7l-6.2 1.1zM866.3 750.1l-1.8 -0.6l-4.4 1.7zM864.5 749.5l-2.2 -0.4l-2.2 2.1zM862.3 749.1l-2.4 -0.1l0.2 2.2zM859.9 749l-2.4 0.1l2.6 2.1zM857.5 749.1l-2.1 0.5l4.7 1.6zM855.4 749.6l-1.7 0.6l6.4 1zM853.7 750.2l-1.1 0.8l7.5 0.2zM852.6 751l-0.3 0.8l7.8 -0.6zM852.3 751.8l0.5 0.8l7.3 -1.4zM852.8 752.6l1.1 0.8l6.2 -2.2z"/></g>
<g class="s"><path fill="#ff2000" d="M945.1 460.3l3.5 1.1l-4.1 -0.3l-5.1 -1.7zM948.6 461.4l4.3 0.8l-2 0l-6.4 -1.1zM952.9 462.2l4.8 0.2l0.2 0.1l-7 -0.3zM957.7 462.4l4.7 -0.3l2.4 0l-6.9 0.4zM962.4 462.1l4.3 -0.8l4.4 -0.4l-6.3 1.2z"/>
<path fill="#ff2000" d="M939.4 459.4l5.1 1.7l-3.8 -1.4l-6.6 -2.2zM944.5 461.1l6.4 1.1l-1.9 -1.1l-8.3 -1.4zM950.9 462.2l7 0.3l0.2 -1l-9.1 -0.4zM957.9 462.5l6.9 -0.4l2.3 -1.2l-9 0.6zM964.8 462.1l6.3 -1.2l4 -1.5l-8 1.5zM971.1 460.9l4.8 -1.8l5.5 -2l-6.3 2.3zM975.9 459.1l3.1 -2.3l6.4 -2.6l-4 2.9zM936 457.2l3.4 2.2l-5.3 -1.9l-4.4 -2.8z"/>
<path fill="#ff1000" d="M934.1 457.5l6.6 2.2l-3.3 -2.4l-8 -2.6zM940.7 459.7l8.3 1.4l-1.7 -2.1l-9.9 -1.7zM949 461.1l9.1 0.4l0.1 -2l-10.9 -0.5zM958.1 461.5l9 -0.6l2 -2.1l-10.9 0.7zM967.1 460.9l8 -1.5l3.6 -2.5l-9.6 1.9zM975.1 459.4l6.3 -2.3l4.9 -3l-7.6 2.8zM981.4 457.1l4 -2.9l5.7 -3.6l-4.8 3.5zM929.7 454.7l4.4 2.8l-4.7 -2.8l-5.3 -3.5z"/>
<path fill="#ff1000" d="M929.4 454.7l8 2.6l-2.9 -3.3l-9.2 -3.1zM937.4 457.3l9.9 1.7l-1.4 -3.1l-11.4 -1.9zM947.3 459l10.9 0.5l0.2 -3l-12.5 -0.6zM958.2 459.5l10.9 -0.7l1.6 -3.2l-12.3 0.9zM969.1 458.8l9.6 -1.9l3.1 -3.4l-11.1 2.1zM978.7 456.9l7.6 -2.8l4.2 -3.8l-8.7 3.2zM986.3 454.1l4.8 -3.5l4.8 -4.3l-5.4 4zM922.1 447.4l2 3.8l-4.8 -4.2l-2.3 -4.3zM924.1 451.2l5.3 3.5l-4.1 -3.8l-6 -3.9z"/>
<path fill="#ff0000" d="M925.3 450.9l9.2 3.1l-2.3 -4.3l-10.1 -3.3zM934.5 454l11.4 1.9l-1.2 -4.1l-12.5 -2.1zM945.9 455.9l12.5 0.6l0.1 -4l-13.8 -0.7zM958.4 456.5l12.3 -0.9l1.4 -4l-13.6 0.9zM970.7 455.6l11.1 -2.1l2.5 -4.2l-12.2 2.3zM981.8 453.5l8.7 -3.2l3.4 -4.6l-9.6 3.6zM990.5 450.3l5.4 -4l3.9 -5l-5.9 4.4zM995.9 446.3l1.7 -4.4l4 -5.4l-1.8 4.8zM917 442.7l2.3 4.3l-3.8 -4.9l-2.5 -4.8zM919.3 447l6 3.9l-3.2 -4.5l-6.6 -4.3z"/>
<path fill="#ef0000" d="M922.1 446.4l10.1 3.3l-1.7 -5l-10.8 -3.6zM932.2 449.7l12.5 2.1l-0.8 -4.8l-13.4 -2.3zM944.7 451.8l13.8 0.7l0 -4.8l-14.6 -0.7zM958.5 452.5l13.6 -0.9l1 -4.9l-14.6 1zM972.1 451.6l12.2 -2.3l1.8 -5.1l-13 2.5zM984.3 449.3l9.6 -3.6l2.4 -5.3l-10.2 3.8zM993.9 445.7l5.9 -4.4l2.9 -5.6l-6.4 4.7zM999.8 441.3l1.8 -4.8l3 -5.9l-1.9 5.1zM913 437.3l2.5 4.8l-2.8 -5.5l-2.7 -5.2zM915.5 442.1l6.6 4.3l-2.4 -5.3l-7 -4.5z"/>
<path fill="#ef0000" d="M919.7 441.1l10.8 3.6l-1.1 -5.6l-11.1 -3.7zM930.5 444.7l13.4 2.3l-0.6 -5.6l-13.9 -2.3zM943.9 447l14.6 0.7l0.1 -5.6l-15.3 -0.7zM958.5 447.7l14.6 -1l0.6 -5.6l-15.1 1zM973.1 446.7l13 -2.5l1.1 -5.6l-13.5 2.5zM986.1 444.2l10.2 -3.8l1.5 -5.8l-10.6 4zM996.3 440.4l6.4 -4.7l1.8 -6l-6.7 4.9zM1002.7 435.7l1.9 -5.1l1.9 -6.2l-2 5.3zM910 431.4l2.7 5.2l-1.8 -6l-2.8 -5.3zM912.7 436.6l7 4.5l-1.4 -5.7l-7.4 -4.8z"/>
<path fill="#df0000" d="M918.3 435.4l11.1 3.7l-0.3 -6.2l-11.3 -3.7zM929.4 439.1l13.9 2.3l-0.1 -6.1l-14.1 -2.4zM943.3 441.4l15.3 0.7l0 -6.1l-15.4 -0.7zM958.6 442.1l15.1 -1l0.2 -6.1l-15.3 1zM973.7 441.1l13.5 -2.5l0.4 -6.2l-13.7 2.6zM987.2 438.6l10.6 -4l0.5 -6.2l-10.7 4zM997.8 434.6l6.7 -4.9l0.5 -6.2l-6.7 4.9zM1004.5 429.7l2 -5.3l0.6 -6.4l-2.1 5.5zM910.1 419.9l-2 5.4l-0.6 -6.3l2.1 -5.5zM908.1 425.3l2.8 5.3l-0.5 -6.3l-2.9 -5.3zM910.9 430.6l7.4 4.8l-0.5 -6.2l-7.4 -4.9z"/>
<path fill="#cf0000" d="M917.8 429.2l11.3 3.7l0.3 -6.5l-11.1 -3.7zM929.1 432.9l14.1 2.4l0.1 -6.5l-13.9 -2.4zM943.2 435.3l15.4 0.7l0 -6.5l-15.3 -0.7zM958.6 436l15.3 -1l-0.2 -6.5l-15.1 1zM973.9 435l13.7 -2.6l-0.4 -6.5l-13.5 2.6zM987.6 432.4l10.7 -4l-0.5 -6.4l-10.6 3.9zM998.3 428.4l6.7 -4.9l-0.5 -6.4l-6.7 4.9zM1005 423.5l2.1 -5.5l-0.6 -6.3l-2 5.4zM1007.1 418l-2.9 -5.3l-0.5 -6.3l2.8 5.3zM909.6 413.5l-2.1 5.5l0.6 -6.4l2 -5.3zM907.5 419l2.9 5.3l0.5 -6.4l-2.8 -5.3zM910.4 424.3l7.4 4.9l0.5 -6.5l-7.4 -4.8z"/>
<path fill="#bf0000" d="M918.3 422.7l11.1 3.7l1.1 -6.7l-10.8 -3.6zM929.4 426.4l13.9 2.4l0.6 -6.8l-13.4 -2.3zM943.3 428.8l15.3 0.7l-0.1 -6.8l-14.6 -0.7zM958.6 429.5l15.1 -1l-0.6 -6.8l-14.6 1zM973.7 428.5l13.5 -2.6l-1.1 -6.7l-13 2.5zM987.2 425.9l10.6 -3.9l-1.5 -6.6l-10.2 3.8zM997.8 422l6.7 -4.9l-1.8 -6.4l-6.4 4.7zM1004.5 417.1l2 -5.4l-1.9 -6.1l-1.9 5.1zM1006.5 411.7l-2.8 -5.3l-1.8 -6l2.7 5.2zM910.1 407.3l-2 5.3l1.9 -6.2l1.9 -5.1zM908.1 412.6l2.8 5.3l1.8 -6.3l-2.7 -5.2zM910.9 417.9l7.4 4.8l1.4 -6.6l-7 -4.5z"/>
<path fill="#af0000" d="M919.7 416.1l10.8 3.6l1.7 -6.7l-10.1 -3.4zM930.5 419.7l13.4 2.3l0.8 -6.9l-12.5 -2.1zM943.9 422l14.6 0.7l0 -7l-13.8 -0.6zM958.5 422.7l14.6 -1l-1 -6.9l-13.6 0.9zM973.1 421.7l13 -2.5l-1.8 -6.7l-12.2 2.3zM986.1 419.2l10.2 -3.8l-2.4 -6.4l-9.6 3.5zM996.3 415.4l6.4 -4.7l-2.9 -6.1l-5.9 4.4zM1002.7 410.7l1.9 -5.1l-3 -5.9l-1.8 4.9zM1004.6 405.6l-2.7 -5.2l-2.8 -5.5l2.5 4.8zM911.9 401.3l-1.9 5.1l3 -5.9l1.8 -4.8zM910 406.4l2.7 5.2l2.8 -6.3l-2.5 -4.8zM912.7 411.6l7 4.5l2.4 -6.5l-6.6 -4.3z"/>
<path fill="#af0000" d="M922.1 409.6l10.1 3.4l2.3 -6.6l-9.2 -3.1zM932.2 413l12.5 2.1l1.2 -6.8l-11.4 -1.9zM944.7 415.1l13.8 0.6l-0.1 -6.8l-12.5 -0.6zM958.5 415.7l13.6 -0.9l-1.4 -6.7l-12.3 0.8zM972.1 414.8l12.2 -2.3l-2.5 -6.5l-11.1 2.1zM984.3 412.5l9.6 -3.5l-3.4 -6.3l-8.7 3.3zM993.9 409l5.9 -4.4l-3.9 -5.9l-5.4 4zM999.8 404.6l1.8 -4.9l-4 -5.4l-1.7 4.4zM1001.6 399.7l-2.5 -4.8l-3.8 -4.9l2.3 4.3zM999.1 394.9l-6.6 -4.3l-3.2 -4.5l6 3.9zM920.7 391.3l-5.9 4.4l3.9 -5l5.4 -4zM914.8 395.7l-1.8 4.8l4 -5.4l1.7 -4.4zM913 400.5l2.5 4.8l3.8 -5.9l-2.3 -4.3zM915.5 405.3l6.6 4.3l3.2 -6.3l-6 -3.9z"/>
<path fill="#9f0000" d="M925.3 403.3l9.2 3.1l2.9 -6.3l-8 -2.7zM934.5 406.4l11.4 1.9l1.4 -6.5l-9.9 -1.7zM945.9 408.3l12.5 0.6l-0.2 -6.6l-10.9 -0.5zM958.4 408.9l12.3 -0.8l-1.6 -6.5l-10.9 0.7zM970.7 408.1l11.1 -2.1l-3.1 -6.3l-9.6 1.9zM981.8 406l8.7 -3.3l-4.2 -5.8l-7.6 2.8zM990.5 402.7l5.4 -4l-4.8 -5.3l-4.8 3.5zM995.9 398.7l1.7 -4.4l-5.1 -4.7l-1.4 3.8zM997.6 394.3l-2.3 -4.3l-4.8 -4.2l2 3.8zM995.3 390l-6 -3.9l-4.1 -3.8l5.3 3.5zM924.1 386.7l-5.4 4l4.8 -4.3l4.8 -3.5zM918.7 390.7l-1.7 4.4l5.1 -4.9l1.4 -3.8zM917 395.1l2.3 4.3l4.8 -5.4l-2 -3.8zM919.3 399.4l6 3.9l4.1 -5.9l-5.3 -3.4z"/>
<path fill="#8f0000" d="M929.4 397.4l8 2.7l3.3 -5.9l-6.6 -2.2zM937.4 400.1l9.9 1.7l1.7 -6.2l-8.3 -1.4zM947.3 401.8l10.9 0.5l-0.1 -6.2l-9.1 -0.5zM958.2 402.3l10.9 -0.7l-2 -6.1l-9 0.6zM969.1 401.6l9.6 -1.9l-3.6 -5.8l-8 1.6zM978.7 399.7l7.6 -2.8l-4.9 -5.3l-6.3 2.3zM986.3 396.9l4.8 -3.5l-5.7 -4.7l-4 2.9zM991.1 393.4l1.4 -3.8l-5.9 -4.1l-1.2 3.2zM992.5 389.6l-2 -3.8l-5.6 -3.5l1.7 3.2zM990.5 385.8l-5.3 -3.5l-4.7 -2.8l4.4 2.8zM985.2 382.3l-8 -2.6l-3.3 -2.4l6.6 2.2zM935.9 380.1l-7.6 2.8l4.9 -3l6.3 -2.3zM928.3 382.9l-4.8 3.5l5.7 -3.6l4 -2.9zM923.5 386.4l-1.4 3.8l5.9 -4.2l1.2 -3.2zM922.1 390.2l2 3.8l5.6 -4.8l-1.7 -3.2zM924.1 394l5.3 3.4l4.7 -5.4l-4.4 -2.8z"/>
<path fill="#8f0000" d="M934.1 392l6.6 2.2l3.8 -5.2l-5.1 -1.7zM940.7 394.2l8.3 1.4l1.9 -5.5l-6.4 -1.1zM949 395.6l9.1 0.5l-0.2 -5.7l-7 -0.3zM958.1 396.1l9 -0.6l-2.3 -5.6l-6.9 0.5zM967.1 395.5l8 -1.6l-4 -5.1l-6.3 1.1zM975.1 393.9l6.3 -2.3l-5.5 -4.6l-4.8 1.8zM981.4 391.6l4 -2.9l-6.4 -4l-3.1 2.3zM985.4 388.7l1.2 -3.2l-6.7 -3.3l-0.9 2.5zM986.6 385.5l-1.7 -3.2l-6.3 -2.5l1.3 2.4zM984.9 382.3l-4.4 -2.8l-5.3 -1.9l3.4 2.2zM980.5 379.5l-6.6 -2.2l-3.8 -1.4l5.1 1.7zM973.9 377.3l-8.3 -1.4l-1.9 -1.1l6.4 1.1zM947.5 376.1l-8 1.5l4 -1.5l6.3 -1.2zM939.5 377.6l-6.3 2.3l5.5 -2l4.8 -1.8zM933.2 379.9l-4 2.9l6.4 -2.6l3.1 -2.3zM929.2 382.8l-1.2 3.2l6.7 -3.3l0.9 -2.5zM928 386l1.7 3.2l6.3 -4.1l-1.3 -2.4zM929.7 389.2l4.4 2.8l5.3 -4.7l-3.4 -2.2z"/>
<path fill="#800000" d="M939.4 387.3l5.1 1.7l4.1 -4.5l-3.5 -1.2zM944.5 389l6.4 1.1l2 -4.9l-4.3 -0.7zM950.9 390.1l7 0.3l-0.2 -5l-4.8 -0.2zM957.9 390.4l6.9 -0.5l-2.4 -4.8l-4.7 0.3zM964.8 389.9l6.3 -1.1l-4.4 -4.5l-4.3 0.8zM971.1 388.8l4.8 -1.8l-5.9 -3.9l-3.3 1.2zM975.9 387l3.1 -2.3l-6.9 -3.1l-2.1 1.5zM979 384.7l0.9 -2.5l-7.2 -2.3l-0.6 1.7zM979.9 382.2l-1.3 -2.4l-6.8 -1.6l0.9 1.7zM978.6 379.8l-3.4 -2.2l-5.7 -0.9l2.3 1.5zM975.2 377.6l-5.1 -1.7l-4.1 -0.3l3.5 1.1zM970.1 375.9l-6.4 -1.1l-2 0l4.3 0.8zM963.7 374.8l-7 -0.3l0.2 0.1l4.8 0.2zM956.7 374.5l-6.9 0.4l2.4 0l4.7 -0.3zM949.8 374.9l-6.3 1.2l4.4 -0.4l4.3 -0.8zM943.5 376.1l-4.8 1.8l5.9 -1l3.3 -1.2zM938.7 377.9l-3.1 2.3l6.9 -1.7l2.1 -1.6zM935.6 380.2l-0.9 2.5l7.2 -2.5l0.6 -1.7zM934.7 382.7l1.3 2.4l6.8 -3.3l-0.9 -1.6zM936 385.1l3.4 2.2l5.7 -4l-2.3 -1.5z"/>
<path fill="#800000" d="M945.1 383.3l3.5 1.2l4.3 -3.7l-1.8 -0.6zM948.6 384.5l4.3 0.7l2.2 -4l-2.2 -0.4zM952.9 385.2l4.8 0.2l-0.2 -4.1l-2.4 -0.1zM957.7 385.4l4.7 -0.3l-2.5 -4l-2.4 0.2zM962.4 385.1l4.3 -0.8l-4.7 -3.6l-2.1 0.4zM966.7 384.3l3.3 -1.2l-6.3 -3l-1.7 0.6zM970 383.1l2.1 -1.5l-7.3 -2.3l-1.1 0.8zM972.1 381.6l0.6 -1.7l-7.6 -1.4l-0.3 0.8zM972.7 379.9l-0.9 -1.7l-7.2 -0.6l0.5 0.9zM971.8 378.2l-2.3 -1.5l-6 0.2l1.1 0.7zM969.5 376.7l-3.5 -1.1l-4.3 0.7l1.8 0.6zM966 375.6l-4.3 -0.8l-2.2 1.1l2.2 0.4zM961.7 374.8l-4.8 -0.2l0.2 1.2l2.4 0.1zM956.9 374.6l-4.7 0.3l2.5 1l2.4 -0.1zM952.2 374.9l-4.3 0.8l4.7 0.7l2.1 -0.5zM947.9 375.7l-3.3 1.2l6.3 0.1l1.7 -0.6zM944.6 376.9l-2.1 1.6l7.3 -0.7l1.1 -0.8zM942.5 378.5l-0.6 1.7l7.6 -1.6l0.3 -0.8zM941.9 380.2l0.9 1.6l7.2 -2.4l-0.5 -0.8zM942.8 381.8l2.3 1.5l6 -3.1l-1.1 -0.8z"/>
<path fill="#800000" d="M951.1 380.2l1.8 0.6l4.4 -2.8zM952.9 380.8l2.2 0.4l2.2 -3.2zM955.1 381.2l2.4 0.1l-0.2 -3.3zM957.5 381.3l2.4 -0.2l-2.6 -3.1zM959.9 381.1l2.1 -0.4l-4.7 -2.7zM962 380.7l1.7 -0.6l-6.4 -2.1zM963.7 380.1l1.1 -0.8l-7.5 -1.3zM964.8 379.3l0.3 -0.8l-7.8 -0.5zM965.1 378.5l-0.5 -0.9l-7.3 0.4zM964.6 377.6l-1.1 -0.7l-6.2 1.1zM963.5 376.9l-1.8 -0.6l-4.4 1.7zM961.7 376.3l-2.2 -0.4l-2.2 2.1zM959.5 375.9l-2.4 -0.1l0.2 2.2zM957.1 375.8l-2.4 0.1l2.6 2.1zM954.7 375.9l-2.1 0.5l4.7 1.6zM952.6 376.4l-1.7 0.6l6.4 1zM950.9 377l-1.1 0.8l7.5 0.2zM949.8 377.8l-0.3 0.8l7.8 -0.6zM949.5 378.6l0.5 0.8l7.3 -1.4zM950 379.4l1.1 0.8l6.2 -2.2z"/></g>
<g class="s"><path fill="#ffcf00" d="M1022.5 596.2l3.5 1.1l-4.1 -0.3l-5.1 -1.7zM1026 597.3l4.3 0.8l-2 0l-6.4 -1.1zM1030.3 598.1l4.8 0.2l0.2 0.1l-7 -0.3zM1035.1 598.3l4.7 -0.3l2.4 0l-6.9 0.4zM1039.8 598l4.3 -0.8l4.4 -0.4l-6.3 1.2z"/>
<path fill="#ffcf00" d="M1016.8 595.3l5.1 1.7l-3.8 -1.4l-6.6 -2.2zM1021.9 597l6.4 1.1l-1.9 -1.1l-8.3 -1.4zM1028.3 598.1l7 0.3l0.2 -1l-9.1 -0.4zM1035.3 598.4l6.9 -0.4l2.3 -1.2l-9 0.6zM1042.2 598l6.3 -1.2l4 -1.5l-8 1.5zM1048.5 596.8l4.8 -1.8l5.5 -2l-6.3 2.3zM1053.3 595l3.1 -2.3l6.4 -2.6l-4 2.9zM1013.4 593.1l3.4 2.2l-5.3 -1.9l-4.4 -2.8z"/>
<path fill="#ffbf00" d="M1011.5 593.4l6.6 2.2l-3.3 -2.4l-8 -2.6zM1018.1 595.6l8.3 1.4l-1.7 -2.1l-9.9 -1.7zM1026.4 597l9.1 0.4l0.1 -2l-10.9 -0.5zM1035.5 597.4l9 -0.6l2 -2.1l-10.9 0.7zM1044.5 596.8l8 -1.5l3.6 -2.5l-9.6 1.9zM1052.5 595.3l6.3 -2.3l4.9 -3l-7.6 2.8zM1058.8 593l4 -2.9l5.7 -3.6l-4.8 3.5zM1007.1 590.6l4.4 2.8l-4.7 -2.8l-5.3 -3.5z"/>
<path fill="#ffbf00" d="M1006.8 590.6l8 2.6l-2.9 -3.3l-9.2 -3.1zM1014.8 593.2l9.9 1.7l-1.4 -3.1l-11.4 -1.9zM1024.7 594.9l10.9 0.5l0.2 -3l-12.5 -0.6zM1035.6 595.4l10.9 -0.7l1.6 -3.2l-12.3 0.9zM1046.5 594.7l9.6 -1.9l3.1 -3.4l-11.1 2.1zM1056.1 592.8l7.6 -2.8l4.2 -3.8l-8.7 3.2zM1063.7 590l4.8 -3.5l4.8 -4.3l-5.4 4zM999.5 583.3l2 3.8l-4.8 -4.2l-2.3 -4.3zM1001.5 587.1l5.3 3.5l-4.1 -3.8l-6 -3.9z"/>
<path fill="#ffaf00" d="M1002.7 586.8l9.2 3.1l-2.3 -4.3l-10.1 -3.3zM1011.9 589.9l11.4 1.9l-1.2 -4.1l-12.5 -2.1zM1023.3 591.8l12.5 0.6l0.1 -4l-13.8 -0.7zM1035.8 592.4l12.3 -0.9l1.4 -4l-13.6 0.9zM1048.1 591.5l11.1 -2.1l2.5 -4.2l-12.2 2.3zM1059.2 589.4l8.7 -3.2l3.4 -4.6l-9.6 3.6zM1067.9 586.2l5.4 -4l3.9 -5l-5.9 4.4zM1073.3 582.2l1.7 -4.4l4 -5.4l-1.8 4.8zM994.4 578.6l2.3 4.3l-3.8 -4.9l-2.5 -4.8zM996.7 582.9l6 3.9l-3.2 -4.5l-6.6 -4.3z"/>
<path fill="#ff9f00" d="M999.5 582.3l10.1 3.3l-1.7 -5l-10.8 -3.6zM1009.6 585.6l12.5 2.1l-0.8 -4.8l-13.4 -2.3zM1022.1 587.7l13.8 0.7l0 -4.8l-14.6 -0.7zM1035.9 588.4l13.6 -0.9l1 -4.9l-14.6 1zM1049.5 587.5l12.2 -2.3l1.8 -5.1l-13 2.5zM1061.7 585.2l9.6 -3.6l2.4 -5.3l-10.2 3.8zM1071.3 581.6l5.9 -4.4l2.9 -5.6l-6.4 4.7zM1077.2 577.2l1.8 -4.8l3 -5.9l-1.9 5.1zM990.4 573.2l2.5 4.8l-2.8 -5.5l-2.7 -5.2zM992.9 578l6.6 4.3l-2.4 -5.3l-7 -4.5z"/>
<path fill="#ff9f00" d="M997.1 577l10.8 3.6l-1.1 -5.6l-11.1 -3.7zM1007.9 580.6l13.4 2.3l-0.6 -5.6l-13.9 -2.3zM1021.3 582.9l14.6 0.7l0.1 -5.6l-15.3 -0.7zM1035.9 583.6l14.6 -1l0.6 -5.6l-15.1 1zM1050.5 582.6l13 -2.5l1.1 -5.6l-13.5 2.5zM1063.5 580.1l10.2 -3.8l1.5 -5.8l-10.6 4zM1073.7 576.3l6.4 -4.7l1.8 -6l-6.7 4.9zM1080.1 571.6l1.9 -5.1l1.9 -6.2l-2 5.3zM987.4 567.3l2.7 5.2l-1.8 -6l-2.8 -5.3zM990.1 572.5l7 4.5l-1.4 -5.7l-7.4 -4.8z"/>
<path fill="#ff8f00" d="M995.7 571.3l11.1 3.7l-0.3 -6.2l-11.3 -3.7zM1006.8 575l13.9 2.3l-0.1 -6.1l-14.1 -2.4zM1020.7 577.3l15.3 0.7l0 -6.1l-15.4 -0.7zM1036 578l15.1 -1l0.2 -6.1l-15.3 1zM1051.1 577l13.5 -2.5l0.4 -6.2l-13.7 2.6zM1064.6 574.5l10.6 -4l0.5 -6.2l-10.7 4zM1075.2 570.5l6.7 -4.9l0.5 -6.2l-6.7 4.9zM1081.9 565.6l2 -5.3l0.6 -6.4l-2.1 5.5zM987.5 555.8l-2 5.4l-0.6 -6.3l2.1 -5.5zM985.5 561.2l2.8 5.3l-0.5 -6.3l-2.9 -5.3zM988.3 566.5l7.4 4.8l-0.5 -6.2l-7.4 -4.9z"/>
<path fill="#ff8000" d="M995.2 565.1l11.3 3.7l0.3 -6.5l-11.1 -3.7zM1006.5 568.8l14.1 2.4l0.1 -6.5l-13.9 -2.4zM1020.6 571.2l15.4 0.7l0 -6.5l-15.3 -0.7zM1036 571.9l15.3 -1l-0.2 -6.5l-15.1 1zM1051.3 570.9l13.7 -2.6l-0.4 -6.5l-13.5 2.6zM1065 568.3l10.7 -4l-0.5 -6.4l-10.6 3.9zM1075.7 564.3l6.7 -4.9l-0.5 -6.4l-6.7 4.9zM1082.4 559.4l2.1 -5.5l-0.6 -6.3l-2 5.4zM1084.5 553.9l-2.9 -5.3l-0.5 -6.3l2.8 5.3zM987 549.4l-2.1 5.5l0.6 -6.4l2 -5.3zM984.9 554.9l2.9 5.3l0.5 -6.4l-2.8 -5.3zM987.8 560.2l7.4 4.9l0.5 -6.5l-7.4 -4.8z"/>
<path fill="#ff7000" d="M995.7 558.6l11.1 3.7l1.1 -6.7l-10.8 -3.6zM1006.8 562.3l13.9 2.4l0.6 -6.8l-13.4 -2.3zM1020.7 564.7l15.3 0.7l-0.1 -6.8l-14.6 -0.7zM1036 565.4l15.1 -1l-0.6 -6.8l-14.6 1zM1051.1 564.4l13.5 -2.6l-1.1 -6.7l-13 2.5zM1064.6 561.8l10.6 -3.9l-1.5 -6.6l-10.2 3.8zM1075.2 557.9l6.7 -4.9l-1.8 -6.4l-6.4 4.7zM1081.9 553l2 -5.4l-1.9 -6.1l-1.9 5.1zM1083.9 547.6l-2.8 -5.3l-1.8 -6l2.7 5.2zM987.5 543.2l-2 5.3l1.9 -6.2l1.9 -5.1zM985.5 548.5l2.8 5.3l1.8 -6.3l-2.7 -5.2zM988.3 553.8l7.4 4.8l1.4 -6.6l-7 -4.5z"/>
<path fill="#ff7000" d="M997.1 552l10.8 3.6l1.7 -6.7l-10.1 -3.4zM1007.9 555.6l13.4 2.3l0.8 -6.9l-12.5 -2.1zM1021.3 557.9l14.6 0.7l0 -7l-13.8 -0.6zM1035.9 558.6l14.6 -1l-1 -6.9l-13.6 0.9zM1050.5 557.6l13 -2.5l-1.8 -6.7l-12.2 2.3zM1063.5 555.1l10.2 -3.8l-2.4 -6.4l-9.6 3.5zM1073.7 551.3l6.4 -4.7l-2.9 -6.1l-5.9 4.4zM1080.1 546.6l1.9 -5.1l-3 -5.9l-1.8 4.9zM1082 541.5l-2.7 -5.2l-2.8 -5.5l2.5 4.8zM989.3 537.2l-1.9 5.1l3 -5.9l1.8 -4.8zM987.4 542.3l2.7 5.2l2.8 -6.3l-2.5 -4.8zM990.1 547.5l7 4.5l2.4 -6.5l-6.6 -4.3z"/>
<path fill="#ff6000" d="M999.5 545.5l10.1 3.4l2.3 -6.6l-9.2 -3.1zM1009.6 548.9l12.5 2.1l1.2 -6.8l-11.4 -1.9zM1022.1 551l13.8 0.6l-0.1 -6.8l-12.5 -0.6zM1035.9 551.6l13.6 -0.9l-1.4 -6.7l-12.3 0.8zM1049.5 550.7l12.2 -2.3l-2.5 -6.5l-11.1 2.1zM1061.7 548.4l9.6 -3.5l-3.4 -6.3l-8.7 3.3zM1071.3 544.9l5.9 -4.4l-3.9 -5.9l-5.4 4zM1077.2 540.5l1.8 -4.9l-4 -5.4l-1.7 4.4zM1079 535.6l-2.5 -4.8l-3.8 -4.9l2.3 4.3zM1076.5 530.8l-6.6 -4.3l-3.2 -4.5l6 3.9zM998.1 527.2l-5.9 4.4l3.9 -5l5.4 -4zM992.2 531.6l-1.8 4.8l4 -5.4l1.7 -4.4zM990.4 536.4l2.5 4.8l3.8 -5.9l-2.3 -4.3zM992.9 541.2l6.6 4.3l3.2 -6.3l-6 -3.9z"/>
<path fill="#ff5000" d="M1002.7 539.2l9.2 3.1l2.9 -6.3l-8 -2.7zM1011.9 542.3l11.4 1.9l1.4 -6.5l-9.9 -1.7zM1023.3 544.2l12.5 0.6l-0.2 -6.6l-10.9 -0.5zM1035.8 544.8l12.3 -0.8l-1.6 -6.5l-10.9 0.7zM1048.1 544l11.1 -2.1l-3.1 -6.3l-9.6 1.9zM1059.2 541.9l8.7 -3.3l-4.2 -5.8l-7.6 2.8zM1067.9 538.6l5.4 -4l-4.8 -5.3l-4.8 3.5zM1073.3 534.6l1.7 -4.4l-5.1 -4.7l-1.4 3.8zM1075 530.2l-2.3 -4.3l-4.8 -4.2l2 3.8zM1072.7 525.9l-6 -3.9l-4.1 -3.8l5.3 3.5zM1001.5 522.6l-5.4 4l4.8 -4.3l4.8 -3.5zM996.1 526.6l-1.7 4.4l5.1 -4.9l1.4 -3.8zM994.4 531l2.3 4.3l4.8 -5.4l-2 -3.8zM996.7 535.3l6 3.9l4.1 -5.9l-5.3 -3.4z"/>
<path fill="#ff5000" d="M1006.8 533.3l8 2.7l3.3 -5.9l-6.6 -2.2zM1014.8 536l9.9 1.7l1.7 -6.2l-8.3 -1.4zM1024.7 537.7l10.9 0.5l-0.1 -6.2l-9.1 -0.5zM1035.6 538.2l10.9 -0.7l-2 -6.1l-9 0.6zM1046.5 537.5l9.6 -1.9l-3.6 -5.8l-8 1.6zM1056.1 535.6l7.6 -2.8l-4.9 -5.3l-6.3 2.3zM1063.7 532.8l4.8 -3.5l-5.7 -4.7l-4 2.9zM1068.5 529.3l1.4 -3.8l-5.9 -4.1l-1.2 3.2zM1069.9 525.5l-2 -3.8l-5.6 -3.5l1.7 3.2zM1067.9 521.7l-5.3 -3.5l-4.7 -2.8l4.4 2.8zM1062.6 518.2l-8 -2.6l-3.3 -2.4l6.6 2.2zM1013.3 516l-7.6 2.8l4.9 -3l6.3 -2.3zM1005.7 518.8l-4.8 3.5l5.7 -3.6l4 -2.9zM1000.9 522.3l-1.4 3.8l5.9 -4.2l1.2 -3.2zM999.5 526.1l2 3.8l5.6 -4.8l-1.7 -3.2zM1001.5 529.9l5.3 3.4l4.7 -5.4l-4.4 -2.8z"/>
<path fill="#ff4000" d="M1011.5 527.9l6.6 2.2l3.8 -5.2l-5.1 -1.7zM1018.1 530.1l8.3 1.4l1.9 -5.5l-6.4 -1.1zM1026.4 531.5l9.1 0.5l-0.2 -5.7l-7 -0.3zM1035.5 532l9 -0.6l-2.3 -5.6l-6.9 0.5zM1044.5 531.4l8 -1.6l-4 -5.1l-6.3 1.1zM1052.5 529.8l6.3 -2.3l-5.5 -4.6l-4.8 1.8zM1058.8 527.5l4 -2.9l-6.4 -4l-3.1 2.3zM1062.8 524.6l1.2 -3.2l-6.7 -3.3l-0.9 2.5zM1064 521.4l-1.7 -3.2l-6.3 -2.5l1.3 2.4zM1062.3 518.2l-4.4 -2.8l-5.3 -1.9l3.4 2.2zM1057.9 515.4l-6.6 -2.2l-3.8 -1.4l5.1 1.7zM1051.3 513.2l-8.3 -1.4l-1.9 -1.1l6.4 1.1zM1024.9 512l-8 1.5l4 -1.5l6.3 -1.2zM1016.9 513.5l-6.3 2.3l5.5 -2l4.8 -1.8zM1010.6 515.8l-4 2.9l6.4 -2.6l3.1 -2.3zM1006.6 518.7l-1.2 3.2l6.7 -3.3l0.9 -2.5zM1005.4 521.9l1.7 3.2l6.3 -4.1l-1.3 -2.4zM1007.1 525.1l4.4 2.8l5.3 -4.7l-3.4 -2.2z"/>
<path fill="#ff4000" d="M1016.8 523.2l5.1 1.7l4.1 -4.5l-3.5 -1.2zM1021.9 524.9l6.4 1.1l2 -4.9l-4.3 -0.7zM1028.3 526l7 0.3l-0.2 -5l-4.8 -0.2zM1035.3 526.3l6.9 -0.5l-2.4 -4.8l-4.7 0.3zM1042.2 525.8l6.3 -1.1l-4.4 -4.5l-4.3 0.8zM1048.5 524.7l4.8 -1.8l-5.9 -3.9l-3.3 1.2zM1053.3 522.9l3.1 -2.3l-6.9 -3.1l-2.1 1.5zM1056.4 520.6l0.9 -2.5l-7.2 -2.3l-0.6 1.7zM1057.3 518.1l-1.3 -2.4l-6.8 -1.6l0.9 1.7zM1056 515.7l-3.4 -2.2l-5.7 -0.9l2.3 1.5zM1052.6 513.5l-5.1 -1.7l-4.1 -0.3l3.5 1.1zM1047.5 511.8l-6.4 -1.1l-2 0l4.3 0.8zM1041.1 510.7l-7 -0.3l0.2 0.1l4.8 0.2zM1034.1 510.4l-6.9 0.4l2.4 0l4.7 -0.3zM1027.2 510.8l-6.3 1.2l4.4 -0.4l4.3 -0.8zM1020.9 512l-4.8 1.8l5.9 -1l3.3 -1.2zM1016.1 513.8l-3.1 2.3l6.9 -1.7l2.1 -1.6zM1013 516.1l-0.9 2.5l7.2 -2.5l0.6 -1.7zM1012.1 518.6l1.3 2.4l6.8 -3.3l-0.9 -1.6zM1013.4 521l3.4 2.2l5.7 -4l-2.3 -1.5z"/>
<path fill="#ff3000" d="M1022.5 519.2l3.5 1.2l4.3 -3.7l-1.8 -0.6zM1026 520.4l4.3 0.7l2.2 -4l-2.2 -0.4zM1030.3 521.1l4.8 0.2l-0.2 -4.1l-2.4 -0.1zM1035.1 521.3l4.7 -0.3l-2.5 -4l-2.4 0.2zM1039.8 521l4.3 -0.8l-4.7 -3.6l-2.1 0.4zM1044.1 520.2l3.3 -1.2l-6.3 -3l-1.7 0.6zM1047.4 519l2.1 -1.5l-7.3 -2.3l-1.1 0.8zM1049.5 517.5l0.6 -1.7l-7.6 -1.4l-0.3 0.8zM1050.1 515.8l-0.9 -1.7l-7.2 -0.6l0.5 0.9zM1049.2 514.1l-2.3 -1.5l-6 0.2l1.1 0.7zM1046.9 512.6l-3.5 -1.1l-4.3 0.7l1.8 0.6zM1043.4 511.5l-4.3 -0.8l-2.2 1.1l2.2 0.4zM1039.1 510.7l-4.8 -0.2l0.2 1.2l2.4 0.1zM1034.3 510.5l-4.7 0.3l2.5 1l2.4 -0.1zM1029.6 510.8l-4.3 0.8l4.7 0.7l2.1 -0.5zM1025.3 511.6l-3.3 1.2l6.3 0.1l1.7 -0.6zM1022 512.8l-2.1 1.6l7.3 -0.7l1.1 -0.8zM1019.9 514.4l-0.6 1.7l7.6 -1.6l0.3 -0.8zM1019.3 516.1l0.9 1.6l7.2 -2.4l-0.5 -0.8zM1020.2 517.7l2.3 1.5l6 -3.1l-1.1 -0.8z"/>
<path fill="#ff3000" d="M1028.5 516.1l1.8 0.6l4.4 -2.8zM1030.3 516.7l2.2 0.4l2.2 -3.2zM1032.5 517.1l2.4 0.1l-0.2 -3.3zM1034.9 517.2l2.4 -0.2l-2.6 -3.1zM1037.3 517l2.1 -0.4l-4.7 -2.7zM1039.4 516.6l1.7 -0.6l-6.4 -2.1zM1041.1 516l1.1 -0.8l-7.5 -1.3zM1042.2 515.2l0.3 -0.8l-7.8 -0.5zM1042.5 514.4l-0.5 -0.9l-7.3 0.4zM1042 513.5l-1.1 -0.7l-6.2 1.1zM1040.9 512.8l-1.8 -0.6l-4.4 1.7zM1039.1 512.2l-2.2 -0.4l-2.2 2.1zM1036.9 511.8l-2.4 -0.1l0.2 2.2zM1034.5 511.7l-2.4 0.1l2.6 2.1zM1032.1 511.8l-2.1 0.5l4.7 1.6zM1030 512.3l-1.7 0.6l6.4 1zM1028.3 512.9l-1.1 0.8l7.5 0.2zM1027.2 513.7l-0.3 0.8l7.8 -0.6zM1026.9 514.5l0.5 0.8l7.3 -1.4zM1027.4 515.3l1.1 0.8l6.2 -2.2z"/></g>
<g class="s"><path fill="#008fff" d="M726 877.8l3.5 1.1l-4.1 -0.3l-5.1 -1.7zM729.5 878.9l4.3 0.8l-2 0l-6.4 -1.1zM733.8 879.7l4.8 0.2l0.2 0.1l-7 -0.3zM738.6 879.9l4.7 -0.3l2.4 0l-6.9 0.4zM743.3 879.6l4.3 -0.8l4.4 -0.4l-6.3 1.2z"/>
<path fill="#008fff" d="M720.3 876.9l5.1 1.7l-3.8 -1.4l-6.6 -2.2zM725.4 878.6l6.4 1.1l-1.9 -1.1l-8.3 -1.4zM731.8 879.7l7 0.3l0.2 -1l-9.1 -0.4zM738.8 880l6.9 -0.4l2.3 -1.2l-9 0.6zM745.7 879.6l6.3 -1.2l4 -1.5l-8 1.5zM752 878.4l4.8 -1.8l5.5 -2l-6.3 2.3zM756.8 876.6l3.1 -2.3l6.4 -2.6l-4 2.9zM716.9 874.7l3.4 2.2l-5.3 -1.9l-4.4 -2.8z"/>
<path fill="#008fff" d="M715 875l6.6 2.2l-3.3 -2.4l-8 -2.6zM721.6 877.2l8.3 1.4l-1.7 -2.1l-9.9 -1.7zM729.9 878.6l9.1 0.4l0.1 -2l-10.9 -0.5zM739 879l9 -0.6l2 -2.1l-10.9 0.7zM748 878.4l8 -1.5l3.6 -2.5l-9.6 1.9zM756 876.9l6.3 -2.3l4.9 -3l-7.6 2.8zM762.3 874.6l4 -2.9l5.7 -3.6l-4.8 3.5zM710.6 872.2l4.4 2.8l-4.7 -2.8l-5.3 -3.5z"/>
<path fill="#009fff" d="M710.3 872.2l8 2.6l-2.9 -3.3l-9.2 -3.1zM718.3 874.8l9.9 1.7l-1.4 -3.1l-11.4 -1.9zM728.2 876.5l10.9 0.5l0.2 -3l-12.5 -0.6zM739.1 877l10.9 -0.7l1.6 -3.2l-12.3 0.9zM750 876.3l9.6 -1.9l3.1 -3.4l-11.1 2.1zM759.6 874.4l7.6 -2.8l4.2 -3.8l-8.7 3.2zM767.2 871.6l4.8 -3.5l4.8 -4.3l-5.4 4zM703 864.9l2 3.8l-4.8 -4.2l-2.3 -4.3zM705 868.7l5.3 3.5l-4.1 -3.8l-6 -3.9z"/>
<path fill="#00afff" d="M706.2 868.4l9.2 3.1l-2.3 -4.3l-10.1 -3.3zM715.4 871.5l11.4 1.9l-1.2 -4.1l-12.5 -2.1zM726.8 873.4l12.5 0.6l0.1 -4l-13.8 -0.7zM739.3 874l12.3 -0.9l1.4 -4l-13.6 0.9zM751.6 873.1l11.1 -2.1l2.5 -4.2l-12.2 2.3zM762.7 871l8.7 -3.2l3.4 -4.6l-9.6 3.6zM771.4 867.8l5.4 -4l3.9 -5l-5.9 4.4zM776.8 863.8l1.7 -4.4l4 -5.4l-1.8 4.8zM697.9 860.2l2.3 4.3l-3.8 -4.9l-2.5 -4.8zM700.2 864.5l6 3.9l-3.2 -4.5l-6.6 -4.3z"/>
<path fill="#00afff" d="M703 863.9l10.1 3.3l-1.7 -5l-10.8 -3.6zM713.1 867.2l12.5 2.1l-0.8 -4.8l-13.4 -2.3zM725.6 869.3l13.8 0.7l0 -4.8l-14.6 -0.7zM739.4 870l13.6 -0.9l1 -4.9l-14.6 1zM753 869.1l12.2 -2.3l1.8 -5.1l-13 2.5zM765.2 866.8l9.6 -3.6l2.4 -5.3l-10.2 3.8zM774.8 863.2l5.9 -4.4l2.9 -5.6l-6.4 4.7zM780.7 858.8l1.8 -4.8l3 -5.9l-1.9 5.1zM693.9 854.8l2.5 4.8l-2.8 -5.5l-2.7 -5.2zM696.4 859.6l6.6 4.3l-2.4 -5.3l-7 -4.5z"/>
<path fill="#00bfff" d="M700.6 858.6l10.8 3.6l-1.1 -5.6l-11.1 -3.7zM711.4 862.2l13.4 2.3l-0.6 -5.6l-13.9 -2.3zM724.8 864.5l14.6 0.7l0.1 -5.6l-15.3 -0.7zM739.4 865.2l14.6 -1l0.6 -5.6l-15.1 1zM754 864.2l13 -2.5l1.1 -5.6l-13.5 2.5zM767 861.7l10.2 -3.8l1.5 -5.8l-10.6 4zM777.2 857.9l6.4 -4.7l1.8 -6l-6.7 4.9zM783.6 853.2l1.9 -5.1l1.9 -6.2l-2 5.3zM690.9 848.9l2.7 5.2l-1.8 -6l-2.8 -5.3zM693.6 854.1l7 4.5l-1.4 -5.7l-7.4 -4.8z"/>
<path fill="#00cfff" d="M699.2 852.9l11.1 3.7l-0.3 -6.2l-11.3 -3.7zM710.3 856.6l13.9 2.3l-0.1 -6.1l-14.1 -2.4zM724.2 858.9l15.3 0.7l0 -6.1l-15.4 -0.7zM739.5 859.6l15.1 -1l0.2 -6.1l-15.3 1zM754.6 858.6l13.5 -2.5l0.4 -6.2l-13.7 2.6zM768.1 856.1l10.6 -4l0.5 -6.2l-10.7 4zM778.7 852.1l6.7 -4.9l0.5 -6.2l-6.7 4.9zM785.4 847.2l2 -5.3l0.6 -6.4l-2.1 5.5zM691 837.4l-2 5.4l-0.6 -6.3l2.1 -5.5zM689 842.8l2.8 5.3l-0.5 -6.3l-2.9 -5.3zM691.8 848.1l7.4 4.8l-0.5 -6.2l-7.4 -4.9z"/>
<path fill="#00dfff" d="M698.7 846.7l11.3 3.7l0.3 -6.5l-11.1 -3.7zM710 850.4l14.1 2.4l0.1 -6.5l-13.9 -2.4zM724.1 852.8l15.4 0.7l0 -6.5l-15.3 -0.7zM739.5 853.5l15.3 -1l-0.2 -6.5l-15.1 1zM754.8 852.5l13.7 -2.6l-0.4 -6.5l-13.5 2.6zM768.5 849.9l10.7 -4l-0.5 -6.4l-10.6 3.9zM779.2 845.9l6.7 -4.9l-0.5 -6.4l-6.7 4.9zM785.9 841l2.1 -5.5l-0.6 -6.3l-2 5.4zM788 835.5l-2.9 -5.3l-0.5 -6.3l2.8 5.3zM690.5 831l-2.1 5.5l0.6 -6.4l2 -5.3zM688.4 836.5l2.9 5.3l0.5 -6.4l-2.8 -5.3zM691.3 841.8l7.4 4.9l0.5 -6.5l-7.4 -4.8z"/>
<path fill="#00dfff" d="M699.2 840.2l11.1 3.7l1.1 -6.7l-10.8 -3.6zM710.3 843.9l13.9 2.4l0.6 -6.8l-13.4 -2.3zM724.2 846.3l15.3 0.7l-0.1 -6.8l-14.6 -0.7zM739.5 847l15.1 -1l-0.6 -6.8l-14.6 1zM754.6 846l13.5 -2.6l-1.1 -6.7l-13 2.5zM768.1 843.4l10.6 -3.9l-1.5 -6.6l-10.2 3.8zM778.7 839.5l6.7 -4.9l-1.8 -6.4l-6.4 4.7zM785.4 834.6l2 -5.4l-1.9 -6.1l-1.9 5.1zM787.4 829.2l-2.8 -5.3l-1.8 -6l2.7 5.2zM691 824.8l-2 5.3l1.9 -6.2l1.9 -5.1zM689 830.1l2.8 5.3l1.8 -6.3l-2.7 -5.2zM691.8 835.4l7.4 4.8l1.4 -6.6l-7 -4.5z"/>
<path fill="#00efff" d="M700.6 833.6l10.8 3.6l1.7 -6.7l-10.1 -3.4zM711.4 837.2l13.4 2.3l0.8 -6.9l-12.5 -2.1zM724.8 839.5l14.6 0.7l0 -7l-13.8 -0.6zM739.4 840.2l14.6 -1l-1 -6.9l-13.6 0.9zM754 839.2l13 -2.5l-1.8 -6.7l-12.2 2.3zM767 836.7l10.2 -3.8l-2.4 -6.4l-9.6 3.5zM777.2 832.9l6.4 -4.7l-2.9 -6.1l-5.9 4.4zM783.6 828.2l1.9 -5.1l-3 -5.9l-1.8 4.9zM785.5 823.1l-2.7 -5.2l-2.8 -5.5l2.5 4.8zM692.8 818.8l-1.9 5.1l3 -5.9l1.8 -4.8zM690.9 823.9l2.7 5.2l2.8 -6.3l-2.5 -4.8zM693.6 829.1l7 4.5l2.4 -6.5l-6.6 -4.3z"/>
<path fill="#00ffff" d="M703 827.1l10.1 3.4l2.3 -6.6l-9.2 -3.1zM713.1 830.5l12.5 2.1l1.2 -6.8l-11.4 -1.9zM725.6 832.6l13.8 0.6l-0.1 -6.8l-12.5 -0.6zM739.4 833.2l13.6 -0.9l-1.4 -6.7l-12.3 0.8zM753 832.3l12.2 -2.3l-2.5 -6.5l-11.1 2.1zM765.2 830l9.6 -3.5l-3.4 -6.3l-8.7 3.3zM774.8 826.5l5.9 -4.4l-3.9 -5.9l-5.4 4zM780.7 822.1l1.8 -4.9l-4 -5.4l-1.7 4.4zM782.5 817.2l-2.5 -4.8l-3.8 -4.9l2.3 4.3zM780 812.4l-6.6 -4.3l-3.2 -4.5l6 3.9zM701.6 808.8l-5.9 4.4l3.9 -5l5.4 -4zM695.7 813.2l-1.8 4.8l4 -5.4l1.7 -4.4zM693.9 818l2.5 4.8l3.8 -5.9l-2.3 -4.3zM696.4 822.8l6.6 4.3l3.2 -6.3l-6 -3.9z"/>
<path fill="#10ffef" d="M706.2 820.8l9.2 3.1l2.9 -6.3l-8 -2.7zM715.4 823.9l11.4 1.9l1.4 -6.5l-9.9 -1.7zM726.8 825.8l12.5 0.6l-0.2 -6.6l-10.9 -0.5zM739.3 826.4l12.3 -0.8l-1.6 -6.5l-10.9 0.7zM751.6 825.6l11.1 -2.1l-3.1 -6.3l-9.6 1.9zM762.7 823.5l8.7 -3.3l-4.2 -5.8l-7.6 2.8zM771.4 820.2l5.4 -4l-4.8 -5.3l-4.8 3.5zM776.8 816.2l1.7 -4.4l-5.1 -4.7l-1.4 3.8zM778.5 811.8l-2.3 -4.3l-4.8 -4.2l2 3.8zM776.2 807.5l-6 -3.9l-4.1 -3.8l5.3 3.5zM705 804.2l-5.4 4l4.8 -4.3l4.8 -3.5zM699.6 808.2l-1.7 4.4l5.1 -4.9l1.4 -3.8zM697.9 812.6l2.3 4.3l4.8 -5.4l-2 -3.8zM700.2 816.9l6 3.9l4.1 -5.9l-5.3 -3.4z"/>
<path fill="#10ffef" d="M710.3 814.9l8 2.7l3.3 -5.9l-6.6 -2.2zM718.3 817.6l9.9 1.7l1.7 -6.2l-8.3 -1.4zM728.2 819.3l10.9 0.5l-0.1 -6.2l-9.1 -0.5zM739.1 819.8l10.9 -0.7l-2 -6.1l-9 0.6zM750 819.1l9.6 -1.9l-3.6 -5.8l-8 1.6zM759.6 817.2l7.6 -2.8l-4.9 -5.3l-6.3 2.3zM767.2 814.4l4.8 -3.5l-5.7 -4.7l-4 2.9zM772 810.9l1.4 -3.8l-5.9 -4.1l-1.2 3.2zM773.4 807.1l-2 -3.8l-5.6 -3.5l1.7 3.2zM771.4 803.3l-5.3 -3.5l-4.7 -2.8l4.4 2.8zM766.1 799.8l-8 -2.6l-3.3 -2.4l6.6 2.2zM716.8 797.6l-7.6 2.8l4.9 -3l6.3 -2.3zM709.2 800.4l-4.8 3.5l5.7 -3.6l4 -2.9zM704.4 803.9l-1.4 3.8l5.9 -4.2l1.2 -3.2zM703 807.7l2 3.8l5.6 -4.8l-1.7 -3.2zM705 811.5l5.3 3.4l4.7 -5.4l-4.4 -2.8z"/>
<path fill="#20ffdf" d="M715 809.5l6.6 2.2l3.8 -5.2l-5.1 -1.7zM721.6 811.7l8.3 1.4l1.9 -5.5l-6.4 -1.1zM729.9 813.1l9.1 0.5l-0.2 -5.7l-7 -0.3zM739 813.6l9 -0.6l-2.3 -5.6l-6.9 0.5zM748 813l8 -1.6l-4 -5.1l-6.3 1.1zM756 811.4l6.3 -2.3l-5.5 -4.6l-4.8 1.8zM762.3 809.1l4 -2.9l-6.4 -4l-3.1 2.3zM766.3 806.2l1.2 -3.2l-6.7 -3.3l-0.9 2.5zM767.5 803l-1.7 -3.2l-6.3 -2.5l1.3 2.4zM765.8 799.8l-4.4 -2.8l-5.3 -1.9l3.4 2.2zM761.4 797l-6.6 -2.2l-3.8 -1.4l5.1 1.7zM754.8 794.8l-8.3 -1.4l-1.9 -1.1l6.4 1.1zM728.4 793.6l-8 1.5l4 -1.5l6.3 -1.2zM720.4 795.1l-6.3 2.3l5.5 -2l4.8 -1.8zM714.1 797.4l-4 2.9l6.4 -2.6l3.1 -2.3zM710.1 800.3l-1.2 3.2l6.7 -3.3l0.9 -2.5zM708.9 803.5l1.7 3.2l6.3 -4.1l-1.3 -2.4zM710.6 806.7l4.4 2.8l5.3 -4.7l-3.4 -2.2z"/>
<path fill="#20ffdf" d="M720.3 804.8l5.1 1.7l4.1 -4.5l-3.5 -1.2zM725.4 806.5l6.4 1.1l2 -4.9l-4.3 -0.7zM731.8 807.6l7 0.3l-0.2 -5l-4.8 -0.2zM738.8 807.9l6.9 -0.5l-2.4 -4.8l-4.7 0.3zM745.7 807.4l6.3 -1.1l-4.4 -4.5l-4.3 0.8zM752 806.3l4.8 -1.8l-5.9 -3.9l-3.3 1.2zM756.8 804.5l3.1 -2.3l-6.9 -3.1l-2.1 1.5zM759.9 802.2l0.9 -2.5l-7.2 -2.3l-0.6 1.7zM760.8 799.7l-1.3 -2.4l-6.8 -1.6l0.9 1.7zM759.5 797.3l-3.4 -2.2l-5.7 -0.9l2.3 1.5zM756.1 795.1l-5.1 -1.7l-4.1 -0.3l3.5 1.1zM751 793.4l-6.4 -1.1l-2 0l4.3 0.8zM744.6 792.3l-7 -0.3l0.2 0.1l4.8 0.2zM737.6 792l-6.9 0.4l2.4 0l4.7 -0.3zM730.7 792.4l-6.3 1.2l4.4 -0.4l4.3 -0.8zM724.4 793.6l-4.8 1.8l5.9 -1l3.3 -1.2zM719.6 795.4l-3.1 2.3l6.9 -1.7l2.1 -1.6zM716.5 797.7l-0.9 2.5l7.2 -2.5l0.6 -1.7zM715.6 800.2l1.3 2.4l6.8 -3.3l-0.9 -1.6zM716.9 802.6l3.4 2.2l5.7 -4l-2.3 -1.5z"/>
<path fill="#20ffdf" d="M726 800.8l3.5 1.2l4.3 -3.7l-1.8 -0.6zM729.5 802l4.3 0.7l2.2 -4l-2.2 -0.4zM733.8 802.7l4.8 0.2l-0.2 -4.1l-2.4 -0.1zM738.6 802.9l4.7 -0.3l-2.5 -4l-2.4 0.2zM743.3 802.6l4.3 -0.8l-4.7 -3.6l-2.1 0.4zM747.6 801.8l3.3 -1.2l-6.3 -3l-1.7 0.6zM750.9 800.6l2.1 -1.5l-7.3 -2.3l-1.1 0.8zM753 799.1l0.6 -1.7l-7.6 -1.4l-0.3 0.8zM753.6 797.4l-0.9 -1.7l-7.2 -0.6l0.5 0.9zM752.7 795.7l-2.3 -1.5l-6 0.2l1.1 0.7zM750.4 794.2l-3.5 -1.1l-4.3 0.7l1.8 0.6zM746.9 793.1l-4.3 -0.8l-2.2 1.1l2.2 0.4zM742.6 792.3l-4.8 -0.2l0.2 1.2l2.4 0.1zM737.8 792.1l-4.7 0.3l2.5 1l2.4 -0.1zM733.1 792.4l-4.3 0.8l4.7 0.7l2.1 -0.5zM728.8 793.2l-3.3 1.2l6.3 0.1l1.7 -0.6zM725.5 794.4l-2.1 1.6l7.3 -0.7l1.1 -0.8zM723.4 796l-0.6 1.7l7.6 -1.6l0.3 -0.8zM722.8 797.7l0.9 1.6l7.2 -2.4l-0.5 -0.8zM723.7 799.3l2.3 1.5l6 -3.1l-1.1 -0.8z"/>
<path fill="#30ffcf" d="M732 797.7l1.8 0.6l4.4 -2.8zM733.8 798.3l2.2 0.4l2.2 -3.2zM736 798.7l2.4 0.1l-0.2 -3.3zM738.4 798.8l2.4 -0.2l-2.6 -3.1zM740.8 798.6l2.1 -0.4l-4.7 -2.7zM742.9 798.2l1.7 -0.6l-6.4 -2.1zM744.6 797.6l1.1 -0.8l-7.5 -1.3zM745.7 796.8l0.3 -0.8l-7.8 -0.5zM746 796l-0.5 -0.9l-7.3 0.4zM745.5 795.1l-1.1 -0.7l-6.2 1.1zM744.4 794.4l-1.8 -0.6l-4.4 1.7zM742.6 793.8l-2.2 -0.4l-2.2 2.1zM740.4 793.4l-2.4 -0.1l0.2 2.2zM738 793.3l-2.4 0.1l2.6 2.1zM735.6 793.4l-2.1 0.5l4.7 1.6zM733.5 793.9l-1.7 0.6l6.4 1zM731.8 794.5l-1.1 0.8l7.5 0.2zM730.7 795.3l-0.3 0.8l7.8 -0.6zM730.4 796.1l0.5 0.8l7.3 -1.4zM730.9 796.9l1.1 0.8l6.2 -2.2z"/></g>
<g class="s"><path fill="#ff3000" d="M1021.3 496l3.5 1.1l-4.1 -0.3l-5.1 -1.7zM1024.8 497.1l4.3 0.8l-2 0l-6.4 -1.1zM1029.1 497.9l4.8 0.2l0.2 0.1l-7 -0.3zM1033.9 498.1l4.7 -0.3l2.4 0l-6.9 0.4zM1038.6 497.8l4.3 -0.8l4.4 -0.4l-6.3 1.2z"/>
<path fill="#ff2000" d="M1015.6 495.1l5.1 1.7l-3.8 -1.4l-6.6 -2.2zM1020.7 496.8l6.4 1.1l-1.9 -1.1l-8.3 -1.4zM1027.1 497.9l7 0.3l0.2 -1l-9.1 -0.4zM1034.1 498.2l6.9 -0.4l2.3 -1.2l-9 0.6zM1041 497.8l6.3 -1.2l4 -1.5l-8 1.5zM1047.3 496.6l4.8 -1.8l5.5 -2l-6.3 2.3zM1052.1 494.8l3.1 -2.3l6.4 -2.6l-4 2.9zM1012.2 492.9l3.4 2.2l-5.3 -1.9l-4.4 -2.8z"/>
<path fill="#ff2000" d="M1010.3 493.2l6.6 2.2l-3.3 -2.4l-8 -2.6zM1016.9 495.4l8.3 1.4l-1.7 -2.1l-9.9 -1.7zM1025.2 496.8l9.1 0.4l0.1 -2l-10.9 -0.5zM1034.3 497.2l9 -0.6l2 -2.1l-10.9 0.7zM1043.3 496.6l8 -1.5l3.6 -2.5l-9.6 1.9zM1051.3 495.1l6.3 -2.3l4.9 -3l-7.6 2.8zM1057.6 492.8l4 -2.9l5.7 -3.6l-4.8 3.5zM1005.9 490.4l4.4 2.8l-4.7 -2.8l-5.3 -3.5z"/>
<path fill="#ff2000" d="M1005.6 490.4l8 2.6l-2.9 -3.3l-9.2 -3.1zM1013.6 493l9.9 1.7l-1.4 -3.1l-11.4 -1.9zM1023.5 494.7l10.9 0.5l0.2 -3l-12.5 -0.6zM1034.4 495.2l10.9 -0.7l1.6 -3.2l-12.3 0.9zM1045.3 494.5l9.6 -1.9l3.1 -3.4l-11.1 2.1zM1054.9 492.6l7.6 -2.8l4.2 -3.8l-8.7 3.2zM1062.5 489.8l4.8 -3.5l4.8 -4.3l-5.4 4zM998.3 483.1l2 3.8l-4.8 -4.2l-2.3 -4.3zM1000.3 486.9l5.3 3.5l-4.1 -3.8l-6 -3.9z"/>
<path fill="#ff1000" d="M1001.5 486.6l9.2 3.1l-2.3 -4.3l-10.1 -3.3zM1010.7 489.7l11.4 1.9l-1.2 -4.1l-12.5 -2.1zM1022.1 491.6l12.5 0.6l0.1 -4l-13.8 -0.7zM1034.6 492.2l12.3 -0.9l1.4 -4l-13.6 0.9zM1046.9 491.3l11.1 -2.1l2.5 -4.2l-12.2 2.3zM1058 489.2l8.7 -3.2l3.4 -4.6l-9.6 3.6zM1066.7 486l5.4 -4l3.9 -5l-5.9 4.4zM1072.1 482l1.7 -4.4l4 -5.4l-1.8 4.8zM993.2 478.4l2.3 4.3l-3.8 -4.9l-2.5 -4.8zM995.5 482.7l6 3.9l-3.2 -4.5l-6.6 -4.3z"/>
<path fill="#ff0000" d="M998.3 482.1l10.1 3.3l-1.7 -5l-10.8 -3.6zM1008.4 485.4l12.5 2.1l-0.8 -4.8l-13.4 -2.3zM1020.9 487.5l13.8 0.7l0 -4.8l-14.6 -0.7zM1034.7 488.2l13.6 -0.9l1 -4.9l-14.6 1zM1048.3 487.3l12.2 -2.3l1.8 -5.1l-13 2.5zM1060.5 485l9.6 -3.6l2.4 -5.3l-10.2 3.8zM1070.1 481.4l5.9 -4.4l2.9 -5.6l-6.4 4.7zM1076 477l1.8 -4.8l3 -5.9l-1.9 5.1zM989.2 473l2.5 4.8l-2.8 -5.5l-2.7 -5.2zM991.7 477.8l6.6 4.3l-2.4 -5.3l-7 -4.5z"/>
<path fill="#ef0000" d="M995.9 476.8l10.8 3.6l-1.1 -5.6l-11.1 -3.7zM1006.7 480.4l13.4 2.3l-0.6 -5.6l-13.9 -2.3zM1020.1 482.7l14.6 0.7l0.1 -5.6l-15.3 -0.7zM1034.7 483.4l14.6 -1l0.6 -5.6l-15.1 1zM1049.3 482.4l13 -2.5l1.1 -5.6l-13.5 2.5zM1062.3 479.9l10.2 -3.8l1.5 -5.8l-10.6 4zM1072.5 476.1l6.4 -4.7l1.8 -6l-6.7 4.9zM1078.9 471.4l1.9 -5.1l1.9 -6.2l-2 5.3zM986.2 467.1l2.7 5.2l-1.8 -6l-2.8 -5.3zM988.9 472.3l7 4.5l-1.4 -5.7l-7.4 -4.8z"/>
<path fill="#ef0000" d="M994.5 471.1l11.1 3.7l-0.3 -6.2l-11.3 -3.7zM1005.6 474.8l13.9 2.3l-0.1 -6.1l-14.1 -2.4zM1019.5 477.1l15.3 0.7l0 -6.1l-15.4 -0.7zM1034.8 477.8l15.1 -1l0.2 -6.1l-15.3 1zM1049.9 476.8l13.5 -2.5l0.4 -6.2l-13.7 2.6zM1063.4 474.3l10.6 -4l0.5 -6.2l-10.7 4zM1074 470.3l6.7 -4.9l0.5 -6.2l-6.7 4.9zM1080.7 465.4l2 -5.3l0.6 -6.4l-2.1 5.5zM986.3 455.6l-2 5.4l-0.6 -6.3l2.1 -5.5zM984.3 461l2.8 5.3l-0.5 -6.3l-2.9 -5.3zM987.1 466.3l7.4 4.8l-0.5 -6.2l-7.4 -4.9z"/>
<path fill="#df0000" d="M994 464.9l11.3 3.7l0.3 -6.5l-11.1 -3.7zM1005.3 468.6l14.1 2.4l0.1 -6.5l-13.9 -2.4zM1019.4 471l15.4 0.7l0 -6.5l-15.3 -0.7zM1034.8 471.7l15.3 -1l-0.2 -6.5l-15.1 1zM1050.1 470.7l13.7 -2.6l-0.4 -6.5l-13.5 2.6zM1063.8 468.1l10.7 -4l-0.5 -6.4l-10.6 3.9zM1074.5 464.1l6.7 -4.9l-0.5 -6.4l-6.7 4.9zM1081.2 459.2l2.1 -5.5l-0.6 -6.3l-2 5.4zM1083.3 453.7l-2.9 -5.3l-0.5 -6.3l2.8 5.3zM985.8 449.2l-2.1 5.5l0.6 -6.4l2 -5.3zM983.7 454.7l2.9 5.3l0.5 -6.4l-2.8 -5.3zM986.6 460l7.4 4.9l0.5 -6.5l-7.4 -4.8z"/>
<path fill="#cf0000" d="M994.5 458.4l11.1 3.7l1.1 -6.7l-10.8 -3.6zM1005.6 462.1l13.9 2.4l0.6 -6.8l-13.4 -2.3zM1019.5 464.5l15.3 0.7l-0.1 -6.8l-14.6 -0.7zM1034.8 465.2l15.1 -1l-0.6 -6.8l-14.6 1zM1049.9 464.2l13.5 -2.6l-1.1 -6.7l-13 2.5zM1063.4 461.6l10.6 -3.9l-1.5 -6.6l-10.2 3.8zM1074 457.7l6.7 -4.9l-1.8 -6.4l-6.4 4.7zM1080.7 452.8l2 -5.4l-1.9 -6.1l-1.9 5.1zM1082.7 447.4l-2.8 -5.3l-1.8 -6l2.7 5.2zM986.3 443l-2 5.3l1.9 -6.2l1.9 -5.1zM984.3 448.3l2.8 5.3l1.8 -6.3l-2.7 -5.2zM987.1 453.6l7.4 4.8l1.4 -6.6l-7 -4.5z"/>
<path fill="#bf0000" d="M995.9 451.8l10.8 3.6l1.7 -6.7l-10.1 -3.4zM1006.7 455.4l13.4 2.3l0.8 -6.9l-12.5 -2.1zM1020.1 457.7l14.6 0.7l0 -7l-13.8 -0.6zM1034.7 458.4l14.6 -1l-1 -6.9l-13.6 0.9zM1049.3 457.4l13 -2.5l-1.8 -6.7l-12.2 2.3zM1062.3 454.9l10.2 -3.8l-2.4 -6.4l-9.6 3.5zM1072.5 451.1l6.4 -4.7l-2.9 -6.1l-5.9 4.4zM1078.9 446.4l1.9 -5.1l-3 -5.9l-1.8 4.9zM1080.8 441.3l-2.7 -5.2l-2.8 -5.5l2.5 4.8zM988.1 437l-1.9 5.1l3 -5.9l1.8 -4.8zM986.2 442.1l2.7 5.2l2.8 -6.3l-2.5 -4.8zM988.9 447.3l7 4.5l2.4 -6.5l-6.6 -4.3z"/>
<path fill="#bf0000" d="M998.3 445.3l10.1 3.4l2.3 -6.6l-9.2 -3.1zM1008.4 448.7l12.5 2.1l1.2 -6.8l-11.4 -1.9zM1020.9 450.8l13.8 0.6l-0.1 -6.8l-12.5 -0.6zM1034.7 451.4l13.6 -0.9l-1.4 -6.7l-12.3 0.8zM1048.3 450.5l12.2 -2.3l-2.5 -6.5l-11.1 2.1zM1060.5 448.2l9.6 -3.5l-3.4 -6.3l-8.7 3.3zM1070.1 444.7l5.9 -4.4l-3.9 -5.9l-5.4 4zM1076 440.3l1.8 -4.9l-4 -5.4l-1.7 4.4zM1077.8 435.4l-2.5 -4.8l-3.8 -4.9l2.3 4.3zM1075.3 430.6l-6.6 -4.3l-3.2 -4.5l6 3.9zM996.9 427l-5.9 4.4l3.9 -5l5.4 -4zM991 431.4l-1.8 4.8l4 -5.4l1.7 -4.4zM989.2 436.2l2.5 4.8l3.8 -5.9l-2.3 -4.3zM991.7 441l6.6 4.3l3.2 -6.3l-6 -3.9z"/>
<path fill="#af0000" d="M1001.5 439l9.2 3.1l2.9 -6.3l-8 -2.7zM1010.7 442.1l11.4 1.9l1.4 -6.5l-9.9 -1.7zM1022.1 444l12.5 0.6l-0.2 -6.6l-10.9 -0.5zM1034.6 444.6l12.3 -0.8l-1.6 -6.5l-10.9 0.7zM1046.9 443.8l11.1 -2.1l-3.1 -6.3l-9.6 1.9zM1058 441.7l8.7 -3.3l-4.2 -5.8l-7.6 2.8zM1066.7 438.4l5.4 -4l-4.8 -5.3l-4.8 3.5zM1072.1 434.4l1.7 -4.4l-5.1 -4.7l-1.4 3.8zM1073.8 430l-2.3 -4.3l-4.8 -4.2l2 3.8zM1071.5 425.7l-6 -3.9l-4.1 -3.8l5.3 3.5zM1000.3 422.4l-5.4 4l4.8 -4.3l4.8 -3.5zM994.9 426.4l-1.7 4.4l5.1 -4.9l1.4 -3.8zM993.2 430.8l2.3 4.3l4.8 -5.4l-2 -3.8zM995.5 435.1l6 3.9l4.1 -5.9l-5.3 -3.4z"/>
<path fill="#9f0000" d="M1005.6 433.1l8 2.7l3.3 -5.9l-6.6 -2.2zM1013.6 435.8l9.9 1.7l1.7 -6.2l-8.3 -1.4zM1023.5 437.5l10.9 0.5l-0.1 -6.2l-9.1 -0.5zM1034.4 438l10.9 -0.7l-2 -6.1l-9 0.6zM1045.3 437.3l9.6 -1.9l-3.6 -5.8l-8 1.6zM1054.9 435.4l7.6 -2.8l-4.9 -5.3l-6.3 2.3zM1062.5 432.6l4.8 -3.5l-5.7 -4.7l-4 2.9zM1067.3 429.1l1.4 -3.8l-5.9 -4.1l-1.2 3.2zM1068.7 425.3l-2 -3.8l-5.6 -3.5l1.7 3.2zM1066.7 421.5l-5.3 -3.5l-4.7 -2.8l4.4 2.8zM1061.4 418l-8 -2.6l-3.3 -2.4l6.6 2.2zM1012.1 415.8l-7.6 2.8l4.9 -3l6.3 -2.3zM1004.5 418.6l-4.8 3.5l5.7 -3.6l4 -2.9zM999.7 422.1l-1.4 3.8l5.9 -4.2l1.2 -3.2zM998.3 425.9l2 3.8l5.6 -4.8l-1.7 -3.2zM1000.3 429.7l5.3 3.4l4.7 -5.4l-4.4 -2.8z"/>
<path fill="#9f0000" d="M1010.3 427.7l6.6 2.2l3.8 -5.2l-5.1 -1.7zM1016.9 429.9l8.3 1.4l1.9 -5.5l-6.4 -1.1zM1025.2 431.3l9.1 0.5l-0.2 -5.7l-7 -0.3zM1034.3 431.8l9 -0.6l-2.3 -5.6l-6.9 0.5zM1043.3 431.2l8 -1.6l-4 -5.1l-6.3 1.1zM1051.3 429.6l6.3 -2.3l-5.5 -4.6l-4.8 1.8zM1057.6 427.3l4 -2.9l-6.4 -4l-3.1 2.3zM1061.6 424.4l1.2 -3.2l-6.7 -3.3l-0.9 2.5zM1062.8 421.2l-1.7 -3.2l-6.3 -2.5l1.3 2.4zM1061.1 418l-4.4 -2.8l-5.3 -1.9l3.4 2.2zM1056.7 415.2l-6.6 -2.2l-3.8 -1.4l5.1 1.7zM1050.1 413l-8.3 -1.4l-1.9 -1.1l6.4 1.1zM1023.7 411.8l-8 1.5l4 -1.5l6.3 -1.2zM1015.7 413.3l-6.3 2.3l5.5 -2l4.8 -1.8zM1009.4 415.6l-4 2.9l6.4 -2.6l3.1 -2.3zM1005.4 418.5l-1.2 3.2l6.7 -3.3l0.9 -2.5zM1004.2 421.7l1.7 3.2l6.3 -4.1l-1.3 -2.4zM1005.9 424.9l4.4 2.8l5.3 -4.7l-3.4 -2.2z"/>
<path fill="#8f0000" d="M1015.6 423l5.1 1.7l4.1 -4.5l-3.5 -1.2zM1020.7 424.7l6.4 1.1l2 -4.9l-4.3 -0.7zM1027.1 425.8l7 0.3l-0.2 -5l-4.8 -0.2zM1034.1 426.1l6.9 -0.5l-2.4 -4.8l-4.7 0.3zM1041 425.6l6.3 -1.1l-4.4 -4.5l-4.3 0.8zM1047.3 424.5l4.8 -1.8l-5.9 -3.9l-3.3 1.2zM1052.1 422.7l3.1 -2.3l-6.9 -3.1l-2.1 1.5zM1055.2 420.4l0.9 -2.5l-7.2 -2.3l-0.6 1.7zM1056.1 417.9l-1.3 -2.4l-6.8 -1.6l0.9 1.7zM1054.8 415.5l-3.4 -2.2l-5.7 -0.9l2.3 1.5zM1051.4 413.3l-5.1 -1.7l-4.1 -0.3l3.5 1.1zM1046.3 411.6l-6.4 -1.1l-2 0l4.3 0.8zM1039.9 410.5l-7 -0.3l0.2 0.1l4.8 0.2zM1032.9 410.2l-6.9 0.4l2.4 0l4.7 -0.3zM1026 410.6l-6.3 1.2l4.4 -0.4l4.3 -0.8zM1019.7 411.8l-4.8 1.8l5.9 -1l3.3 -1.2zM1014.9 413.6l-3.1 2.3l6.9 -1.7l2.1 -1.6zM1011.8 415.9l-0.9 2.5l7.2 -2.5l0.6 -1.7zM1010.9 418.4l1.3 2.4l6.8 -3.3l-0.9 -1.6zM1012.2 420.8l3.4 2.2l5.7 -4l-2.3 -1.5z"/>
<path fill="#8f0000" d="M1021.3 419l3.5 1.2l4.3 -3.7l-1.8 -0.6zM1024.8 420.2l4.3 0.7l2.2 -4l-2.2 -0.4zM1029.1 420.9l4.8 0.2l-0.2 -4.1l-2.4 -0.1zM1033.9 421.1l4.7 -0.3l-2.5 -4l-2.4 0.2zM1038.6 420.8l4.3 -0.8l-4.7 -3.6l-2.1 0.4zM1042.9 420l3.3 -1.2l-6.3 -3l-1.7 0.6zM1046.2 418.8l2.1 -1.5l-7.3 -2.3l-1.1 0.8zM1048.3 417.3l0.6 -1.7l-7.6 -1.4l-0.3 0.8zM1048.9 415.6l-0.9 -1.7l-7.2 -0.6l0.5 0.9zM1048 413.9l-2.3 -1.5l-6 0.2l1.1 0.7zM1045.7 412.4l-3.5 -1.1l-4.3 0.7l1.8 0.6zM1042.2 411.3l-4.3 -0.8l-2.2 1.1l2.2 0.4zM1037.9 410.5l-4.8 -0.2l0.2 1.2l2.4 0.1zM1033.1 410.3l-4.7 0.3l2.5 1l2.4 -0.1zM1028.4 410.6l-4.3 0.8l4.7 0.7l2.1 -0.5zM1024.1 411.4l-3.3 1.2l6.3 0.1l1.7 -0.6zM1020.8 412.6l-2.1 1.6l7.3 -0.7l1.1 -0.8zM1018.7 414.2l-0.6 1.7l7.6 -1.6l0.3 -0.8zM1018.1 415.9l0.9 1.6l7.2 -2.4l-0.5 -0.8zM1019 417.5l2.3 1.5l6 -3.1l-1.1 -0.8z"/>
<path fill="#8f0000" d="M1027.3 415.9l1.8 0.6l4.4 -2.8zM1029.1 416.5l2.2 0.4l2.2 -3.2zM1031.3 416.9l2.4 0.1l-0.2 -3.3zM1033.7 417l2.4 -0.2l-2.6 -3.1zM1036.1 416.8l2.1 -0.4l-4.7 -2.7zM1038.2 416.4l1.7 -0.6l-6.4 -2.1zM1039.9 415.8l1.1 -0.8l-7.5 -1.3zM1041 415l0.3 -0.8l-7.8 -0.5zM1041.3 414.2l-0.5 -0.9l-7.3 0.4zM1040.8 413.3l-1.1 -0.7l-6.2 1.1zM1039.7 412.6l-1.8 -0.6l-4.4 1.7zM1037.9 412l-2.2 -0.4l-2.2 2.1zM1035.7 411.6l-2.4 -0.1l0.2 2.2zM1033.3 411.5l-2.4 0.1l2.6 2.1zM1030.9 411.6l-2.1 0.5l4.7 1.6zM1028.8 412.1l-1.7 0.6l6.4 1zM1027.1 412.7l-1.1 0.8l7.5 0.2zM1026 413.5l-0.3 0.8l7.8 -0.6zM1025.7 414.3l0.5 0.8l7.3 -1.4zM1026.2 415.1l1.1 0.8l6.2 -2.2z"/></g>
<g class="s"><path fill="#efff10" d="M826.8 644.8l5.1 1.7l-6 -0.5l-7.5 -2.5zM831.9 646.5l6.3 1.1l-3 0l-9.3 -1.6zM838.2 647.6l7 0.3l0.3 0.2l-10.3 -0.5zM845.2 647.9l6.9 -0.5l3.5 0l-10.1 0.7zM852.1 647.4l6.2 -1.1l6.4 -0.6l-9.1 1.7z"/>
<path fill="#ffff00" d="M818.4 643.5l7.5 2.5l-5.5 -2l-9.7 -3.2zM825.9 646l9.3 1.6l-2.7 -1.6l-12.1 -2zM835.2 647.6l10.3 0.5l0.2 -1.5l-13.2 -0.6zM845.5 648.1l10.1 -0.7l3.3 -1.6l-13.2 0.8zM855.6 647.4l9.1 -1.7l5.9 -2.2l-11.7 2.3zM864.7 645.7l7.1 -2.7l8 -2.9l-9.2 3.4zM871.8 643l4.4 -3.3l9.4 -3.8l-5.8 4.2zM813.5 640.3l4.9 3.2l-7.7 -2.7l-6.4 -4.2z"/>
<path fill="#ffff00" d="M810.7 640.8l9.7 3.2l-4.9 -3.5l-11.7 -3.9zM820.4 644l12.1 2l-2.5 -3.1l-14.5 -2.4zM832.5 646l13.2 0.6l0.2 -2.9l-15.9 -0.8zM845.7 646.6l13.2 -0.8l2.9 -3.2l-15.9 1.1zM858.9 645.8l11.7 -2.3l5.3 -3.6l-14.1 2.7zM870.6 643.5l9.2 -3.4l7.2 -4.3l-11.1 4.1zM879.8 640.1l5.8 -4.2l8.3 -5.2l-6.9 5.1zM804.3 636.6l6.4 4.2l-6.9 -4.2l-7.7 -5z"/>
<path fill="#ffef00" d="M803.8 636.6l11.7 3.9l-4.2 -4.9l-13.4 -4.5zM815.5 640.5l14.5 2.4l-2.1 -4.5l-16.6 -2.8zM830 642.9l15.9 0.8l0.2 -4.5l-18.2 -0.8zM845.9 643.7l15.9 -1.1l2.4 -4.6l-18.1 1.2zM861.8 642.6l14.1 -2.7l4.5 -5l-16.2 3.1zM875.9 639.9l11.1 -4.1l6.1 -5.5l-12.7 4.6zM887 635.8l6.9 -5.1l7.1 -6.3l-7.9 5.9zM793.2 626l2.9 5.6l-6.9 -6.2l-3.4 -6.3zM796.1 631.6l7.7 5l-5.9 -5.5l-8.7 -5.7z"/>
<path fill="#ffdf00" d="M797.9 631.1l13.4 4.5l-3.4 -6.2l-14.7 -4.9zM811.3 635.6l16.6 2.8l-1.7 -5.9l-18.3 -3.1zM827.9 638.4l18.2 0.8l0.2 -5.8l-20.1 -0.9zM846.1 639.2l18.1 -1.2l2 -5.9l-19.9 1.3zM864.2 638l16.2 -3.1l3.6 -6.2l-17.8 3.4zM880.4 634.9l12.7 -4.6l4.9 -6.8l-14 5.2zM893.1 630.3l7.9 -5.9l5.7 -7.3l-8.7 6.4zM901 624.4l2.4 -6.4l5.9 -8l-2.6 7.1zM785.8 619.1l3.4 6.3l-5.7 -7.2l-3.6 -7zM789.2 625.4l8.7 5.7l-4.7 -6.6l-9.7 -6.3z"/>
<path fill="#ffcf00" d="M793.2 624.5l14.7 4.9l-2.5 -7.3l-15.6 -5.2zM807.9 629.4l18.3 3.1l-1.2 -7.1l-19.6 -3.3zM826.2 632.5l20.1 0.9l0.1 -7l-21.4 -1zM846.3 633.4l19.9 -1.3l1.5 -7.1l-21.3 1.4zM866.2 632.1l17.8 -3.4l2.7 -7.3l-19 3.6zM884 628.7l14 -5.2l3.6 -7.7l-14.9 5.6zM898 623.5l8.7 -6.4l4.2 -8.1l-9.3 6.8zM906.7 617.1l2.6 -7.1l4.4 -8.6l-2.8 7.6zM779.9 611.2l3.6 7l-4.1 -8l-3.9 -7.5zM783.5 618.2l9.7 6.3l-3.4 -7.6l-10.4 -6.7z"/>
<path fill="#ffbf00" d="M789.8 616.9l15.6 5.2l-1.5 -8.2l-16.3 -5.5zM805.4 622.1l19.6 3.3l-0.8 -8.1l-20.3 -3.4zM825 625.4l21.4 1l0.1 -8.1l-22.3 -1zM846.4 626.4l21.3 -1.4l0.9 -8.1l-22.1 1.4zM867.7 625l19 -3.6l1.6 -8.3l-19.7 3.8zM886.7 621.4l14.9 -5.6l2.2 -8.4l-15.5 5.7zM901.6 615.8l9.3 -6.8l2.5 -8.8l-9.6 7.2zM910.9 609l2.8 -7.6l2.7 -9l-3 7.8zM775.5 602.7l3.9 7.5l-2.5 -8.7l-4.1 -7.8zM779.4 610.2l10.4 6.7l-2.2 -8.5l-10.7 -6.9z"/>
<path fill="#ffaf00" d="M787.6 608.4l16.3 5.5l-0.5 -9l-16.5 -5.5zM803.9 613.9l20.3 3.4l-0.2 -9l-20.6 -3.4zM824.2 617.3l22.3 1l0 -8.9l-22.5 -1.1zM846.5 618.3l22.1 -1.4l0.3 -9l-22.4 1.5zM868.6 616.9l19.7 -3.8l0.6 -9l-20 3.8zM888.3 613.1l15.5 -5.7l0.7 -9.1l-15.6 5.8zM903.8 607.4l9.6 -7.2l0.9 -9.1l-9.8 7.2zM913.4 600.2l3 -7.8l0.9 -9.3l-3 8zM775.8 585.9l-3 7.8l-0.9 -9.2l3 -8zM772.8 593.7l4.1 7.8l-0.8 -9.2l-4.2 -7.8zM776.9 601.5l10.7 6.9l-0.7 -9l-10.8 -7.1z"/>
<path fill="#ff9f00" d="M786.9 599.4l16.5 5.5l0.5 -9.5l-16.3 -5.5zM803.4 604.9l20.6 3.4l0.2 -9.5l-20.3 -3.4zM824 608.3l22.5 1.1l0 -9.6l-22.3 -1zM846.5 609.4l22.4 -1.5l-0.3 -9.5l-22.1 1.4zM868.9 607.9l20 -3.8l-0.6 -9.5l-19.7 3.8zM888.9 604.1l15.6 -5.8l-0.7 -9.4l-15.5 5.7zM904.5 598.3l9.8 -7.2l-0.9 -9.4l-9.6 7.2zM914.3 591.1l3 -8l-0.9 -9.2l-3 7.8zM917.3 583.1l-4.2 -7.8l-0.8 -9.2l4.1 7.8zM774.9 576.5l-3 8l0.9 -9.3l3 -7.8zM771.9 584.5l4.2 7.8l0.8 -9.3l-4.1 -7.8zM776.1 592.3l10.8 7.1l0.7 -9.5l-10.7 -6.9z"/>
<path fill="#ff8f00" d="M787.6 589.9l16.3 5.5l1.5 -9.8l-15.6 -5.2zM803.9 595.4l20.3 3.4l0.8 -9.9l-19.6 -3.3zM824.2 598.8l22.3 1l-0.1 -9.9l-21.4 -1zM846.5 599.8l22.1 -1.4l-0.9 -9.9l-21.3 1.4zM868.6 598.4l19.7 -3.8l-1.6 -9.8l-19 3.7zM888.3 594.6l15.5 -5.7l-2.2 -9.6l-14.9 5.5zM903.8 588.9l9.6 -7.2l-2.5 -9.2l-9.3 6.8zM913.4 581.7l3 -7.8l-2.7 -9l-2.8 7.6zM916.4 573.9l-4.1 -7.8l-2.5 -8.7l3.9 7.5zM775.8 567.4l-3 7.8l2.7 -9l2.8 -7.6zM772.8 575.2l4.1 7.8l2.5 -9.3l-3.9 -7.5zM776.9 583l10.7 6.9l2.2 -9.5l-10.4 -6.7z"/>
<path fill="#ff7000" d="M789.8 580.4l15.6 5.2l2.5 -9.8l-14.7 -4.9zM805.4 585.6l19.6 3.3l1.2 -10.1l-18.3 -3zM825 588.9l21.4 1l-0.1 -10.1l-20.1 -1zM846.4 589.9l21.3 -1.4l-1.5 -10l-19.9 1.3zM867.7 588.5l19 -3.7l-2.7 -9.7l-17.8 3.4zM886.7 584.8l14.9 -5.5l-3.6 -9.4l-14 5.2zM901.6 579.3l9.3 -6.8l-4.2 -9l-8.7 6.4zM910.9 572.5l2.8 -7.6l-4.4 -8.5l-2.6 7.1zM913.7 564.9l-3.9 -7.5l-4.1 -8l3.6 7zM778.3 558.6l-2.8 7.6l4.4 -8.6l2.6 -7.1zM775.5 566.2l3.9 7.5l4.1 -9.1l-3.6 -7zM779.4 573.7l10.4 6.7l3.4 -9.5l-9.7 -6.3z"/>
<path fill="#ff6000" d="M793.2 570.9l14.7 4.9l3.4 -9.7l-13.4 -4.4zM807.9 575.8l18.3 3l1.7 -9.9l-16.6 -2.8zM826.2 578.8l20.1 1l-0.2 -10l-18.2 -0.9zM846.3 579.8l19.9 -1.3l-2 -9.9l-18.1 1.2zM866.2 578.5l17.8 -3.4l-3.6 -9.6l-16.2 3.1zM884 575.1l14 -5.2l-4.9 -9.1l-12.7 4.7zM898 569.9l8.7 -6.4l-5.7 -8.5l-7.9 5.8zM906.7 563.5l2.6 -7.1l-5.9 -7.9l-2.4 6.5zM909.3 556.4l-3.6 -7l-5.7 -7.2l3.4 6.3zM905.7 549.4l-9.7 -6.3l-4.7 -6.6l8.7 5.7zM791.2 544.1l-8.7 6.4l5.7 -7.3l7.9 -5.9zM782.5 550.5l-2.6 7.1l5.9 -8l2.4 -6.4zM779.9 557.6l3.6 7l5.7 -8.6l-3.4 -6.4zM783.5 564.6l9.7 6.3l4.7 -9.2l-8.7 -5.7z"/>
<path fill="#ff5000" d="M797.9 561.7l13.4 4.4l4.2 -9.2l-11.7 -3.9zM811.3 566.1l16.6 2.8l2.1 -9.5l-14.5 -2.5zM827.9 568.9l18.2 0.9l-0.2 -9.7l-15.9 -0.7zM846.1 569.8l18.1 -1.2l-2.4 -9.5l-15.9 1zM864.2 568.6l16.2 -3.1l-4.5 -9.1l-14.1 2.7zM880.4 565.5l12.7 -4.7l-6.1 -8.5l-11.1 4.1zM893.1 560.8l7.9 -5.8l-7.1 -7.8l-6.9 5.1zM901 555l2.4 -6.5l-7.4 -6.9l-2.1 5.6zM903.4 548.5l-3.4 -6.3l-6.9 -6.2l2.9 5.6zM900 542.2l-8.7 -5.7l-5.9 -5.5l7.7 5zM796.1 537.3l-7.9 5.9l7.1 -6.3l6.9 -5.1zM788.2 543.2l-2.4 6.4l7.4 -7.1l2.1 -5.6zM785.8 549.6l3.4 6.4l6.9 -7.9l-2.9 -5.6zM789.2 556l8.7 5.7l5.9 -8.7l-7.7 -4.9z"/>
<path fill="#ff4000" d="M803.8 553l11.7 3.9l4.9 -8.5l-9.7 -3.2zM815.5 556.9l14.5 2.5l2.5 -9l-12.1 -2zM830 559.4l15.9 0.7l-0.2 -9.1l-13.2 -0.6zM845.9 560.1l15.9 -1l-2.9 -8.9l-13.2 0.8zM861.8 559.1l14.1 -2.7l-5.3 -8.5l-11.7 2.3zM875.9 556.4l11.1 -4.1l-7.2 -7.8l-9.2 3.4zM887 552.3l6.9 -5.1l-8.3 -6.9l-5.8 4.2zM893.9 547.2l2.1 -5.6l-8.7 -6l-1.7 4.7zM896 541.6l-2.9 -5.6l-8.2 -5l2.4 4.6zM893.1 536l-7.7 -5l-6.9 -4.2l6.4 4.2zM885.4 531l-11.7 -3.9l-4.9 -3.5l9.7 3.2zM813.3 527.7l-11.1 4.1l7.2 -4.3l9.2 -3.4zM802.2 531.8l-6.9 5.1l8.3 -5.2l5.8 -4.2zM795.3 536.9l-2.1 5.6l8.7 -6.1l1.7 -4.7zM793.2 542.5l2.9 5.6l8.2 -7.1l-2.4 -4.6zM796.1 548.1l7.7 4.9l6.9 -7.8l-6.4 -4.2z"/>
<path fill="#ff4000" d="M810.7 545.2l9.7 3.2l5.5 -7.7l-7.5 -2.5zM820.4 548.4l12.1 2l2.7 -8.1l-9.3 -1.6zM832.5 550.4l13.2 0.6l-0.2 -8.2l-10.3 -0.5zM845.7 551l13.2 -0.8l-3.3 -8.1l-10.1 0.7zM858.9 550.2l11.7 -2.3l-5.9 -7.5l-9.1 1.7zM870.6 547.9l9.2 -3.4l-8 -6.8l-7.1 2.7zM879.8 544.5l5.8 -4.2l-9.4 -5.8l-4.4 3.2zM885.6 540.3l1.7 -4.7l-9.7 -4.7l-1.4 3.6zM887.3 535.6l-2.4 -4.6l-9.2 -3.7l1.9 3.6zM884.9 531l-6.4 -4.2l-7.7 -2.7l4.9 3.2zM878.5 526.8l-9.7 -3.2l-5.5 -2l7.5 2.5zM868.8 523.6l-12.1 -2l-2.7 -1.6l9.3 1.6zM830.3 521.8l-11.7 2.3l5.9 -2.2l9.1 -1.7zM818.6 524.1l-9.2 3.4l8 -2.9l7.1 -2.7zM809.4 527.5l-5.8 4.2l9.4 -3.8l4.4 -3.3zM803.6 531.7l-1.7 4.7l9.7 -4.9l1.4 -3.6zM801.9 536.4l2.4 4.6l9.2 -6l-1.9 -3.5zM804.3 541l6.4 4.2l7.7 -7l-4.9 -3.2z"/>
<path fill="#ff3000" d="M818.4 538.2l7.5 2.5l6 -6.6l-5.1 -1.7zM825.9 540.7l9.3 1.6l3 -7.1l-6.3 -1.1zM835.2 542.3l10.3 0.5l-0.3 -7.3l-7 -0.3zM845.5 542.8l10.1 -0.7l-3.5 -7l-6.9 0.4zM855.6 542.1l9.1 -1.7l-6.4 -6.5l-6.2 1.2zM864.7 540.4l7.1 -2.7l-8.7 -5.6l-4.8 1.8zM871.8 537.7l4.4 -3.2l-10.1 -4.6l-3 2.2zM876.2 534.5l1.4 -3.6l-10.5 -3.5l-1 2.5zM877.6 530.9l-1.9 -3.6l-9.9 -2.3l1.3 2.4zM875.7 527.3l-4.9 -3.2l-8.4 -1.3l3.4 2.2zM870.8 524.1l-7.5 -2.5l-6 -0.5l5.1 1.7zM863.3 521.6l-9.3 -1.6l-3 0l6.3 1.1zM854 520l-10.3 -0.5l0.3 0.2l7 0.3zM843.7 519.5l-10.1 0.7l3.5 0l6.9 -0.5zM833.6 520.2l-9.1 1.7l6.4 -0.6l6.2 -1.1zM824.5 521.9l-7.1 2.7l8.7 -1.5l4.8 -1.8zM817.4 524.6l-4.4 3.3l10.1 -2.5l3 -2.3zM813 527.9l-1.4 3.6l10.5 -3.7l1 -2.4zM811.6 531.5l1.9 3.5l9.9 -4.8l-1.3 -2.4zM813.5 535l4.9 3.2l8.4 -5.8l-3.4 -2.2z"/>
<path fill="#ff3000" d="M826.8 532.4l5.1 1.7l6.3 -5.4l-2.6 -0.8zM831.9 534.1l6.3 1.1l3.2 -5.9l-3.2 -0.6zM838.2 535.2l7 0.3l-0.3 -6.1l-3.5 -0.1zM845.2 535.5l6.9 -0.4l-3.7 -5.9l-3.5 0.2zM852.1 535.1l6.2 -1.2l-6.8 -5.3l-3.1 0.6zM858.3 533.9l4.8 -1.8l-9.1 -4.4l-2.5 0.9zM863.1 532.1l3 -2.2l-10.6 -3.3l-1.5 1.1zM866.1 529.9l1 -2.5l-11.1 -2.1l-0.5 1.3zM867.1 527.4l-1.3 -2.4l-10.5 -0.9l0.7 1.2zM865.8 525l-3.4 -2.2l-8.8 0.2l1.7 1.1zM862.4 522.8l-5.1 -1.7l-6.3 1l2.6 0.9zM857.3 521.1l-6.3 -1.1l-3.2 1.6l3.2 0.5zM851 520l-7 -0.3l0.3 1.7l3.5 0.2zM844 519.7l-6.9 0.5l3.7 1.5l3.5 -0.3zM837.1 520.2l-6.2 1.1l6.8 1l3.1 -0.6zM830.9 521.3l-4.8 1.8l9.1 0.1l2.5 -0.9zM826.1 523.1l-3 2.3l10.6 -1.1l1.5 -1.1zM823.1 525.4l-1 2.4l11.1 -2.2l0.5 -1.3zM822.1 527.8l1.3 2.4l10.5 -3.4l-0.7 -1.2zM823.4 530.2l3.4 2.2l8.8 -4.5l-1.7 -1.1z"/>
<path fill="#ff2000" d="M835.6 527.9l2.6 0.8l6.4 -4zM838.2 528.7l3.2 0.6l3.2 -4.6zM841.4 529.3l3.5 0.1l-0.3 -4.7zM844.9 529.4l3.5 -0.2l-3.8 -4.5zM848.4 529.2l3.1 -0.6l-6.9 -3.9zM851.5 528.6l2.5 -0.9l-9.4 -3zM854 527.7l1.5 -1.1l-10.9 -1.9zM855.5 526.6l0.5 -1.3l-11.4 -0.6zM856 525.3l-0.7 -1.2l-10.7 0.6zM855.3 524.1l-1.7 -1.1l-9 1.7zM853.6 523l-2.6 -0.9l-6.4 2.6zM851 522.1l-3.2 -0.5l-3.2 3.1zM847.8 521.6l-3.5 -0.2l0.3 3.3zM844.3 521.4l-3.5 0.3l3.8 3zM840.8 521.7l-3.1 0.6l6.9 2.4zM837.7 522.3l-2.5 0.9l9.4 1.5zM835.2 523.2l-1.5 1.1l10.9 0.4zM833.7 524.3l-0.5 1.3l11.4 -0.9zM833.2 525.6l0.7 1.2l10.7 -2.1zM833.9 526.8l1.7 1.1l9 -3.2z"/></g>
<g>
<path fill="#f00" d="M893.8 445.7 L909.6 448.0 L909.6 453.0 L916.3 448.0 L920.8 453.0 L915.2 459.2 L915.8 460.4 L907.3 476.7 L900.0 473.3 L899.4 481.2 L891.0 481.2 L888.2 462.0 L885.4 458.1 L892.7 451.9 z"/>
<path fill="#f00" d="M886.5 473.9 L887.6 480.1 L881.4 493.6 L878.0 507.1 L876.9 502.6 L878.6 488.0 L882.5 477.8 z"/>
<path fill="#f00" d="M865.1 529.6 L876.9 529.1 L878.0 545.4 L873.5 543.2 L866.8 533.0 z"/>
<path fill="#f00" d="M883.0 533.0 L898.7 547.4 L885.4 559.5 L890.2 548.6 L879.4 540.2 z"/>
<path fill="#f00" d="M907.3 547.7 L910.7 552.2 L909.6 556.7 L906.2 552.2 z"/>
<path fill="#f00" d="M863.5 810.5 L870.0 816.5 L863.0 822.0 z"/>
<path fill="#f00" d="M873.2 832.0 L875.7 826.5 L878.0 833.5 z"/>
</g>
</svg>
</body></html>
